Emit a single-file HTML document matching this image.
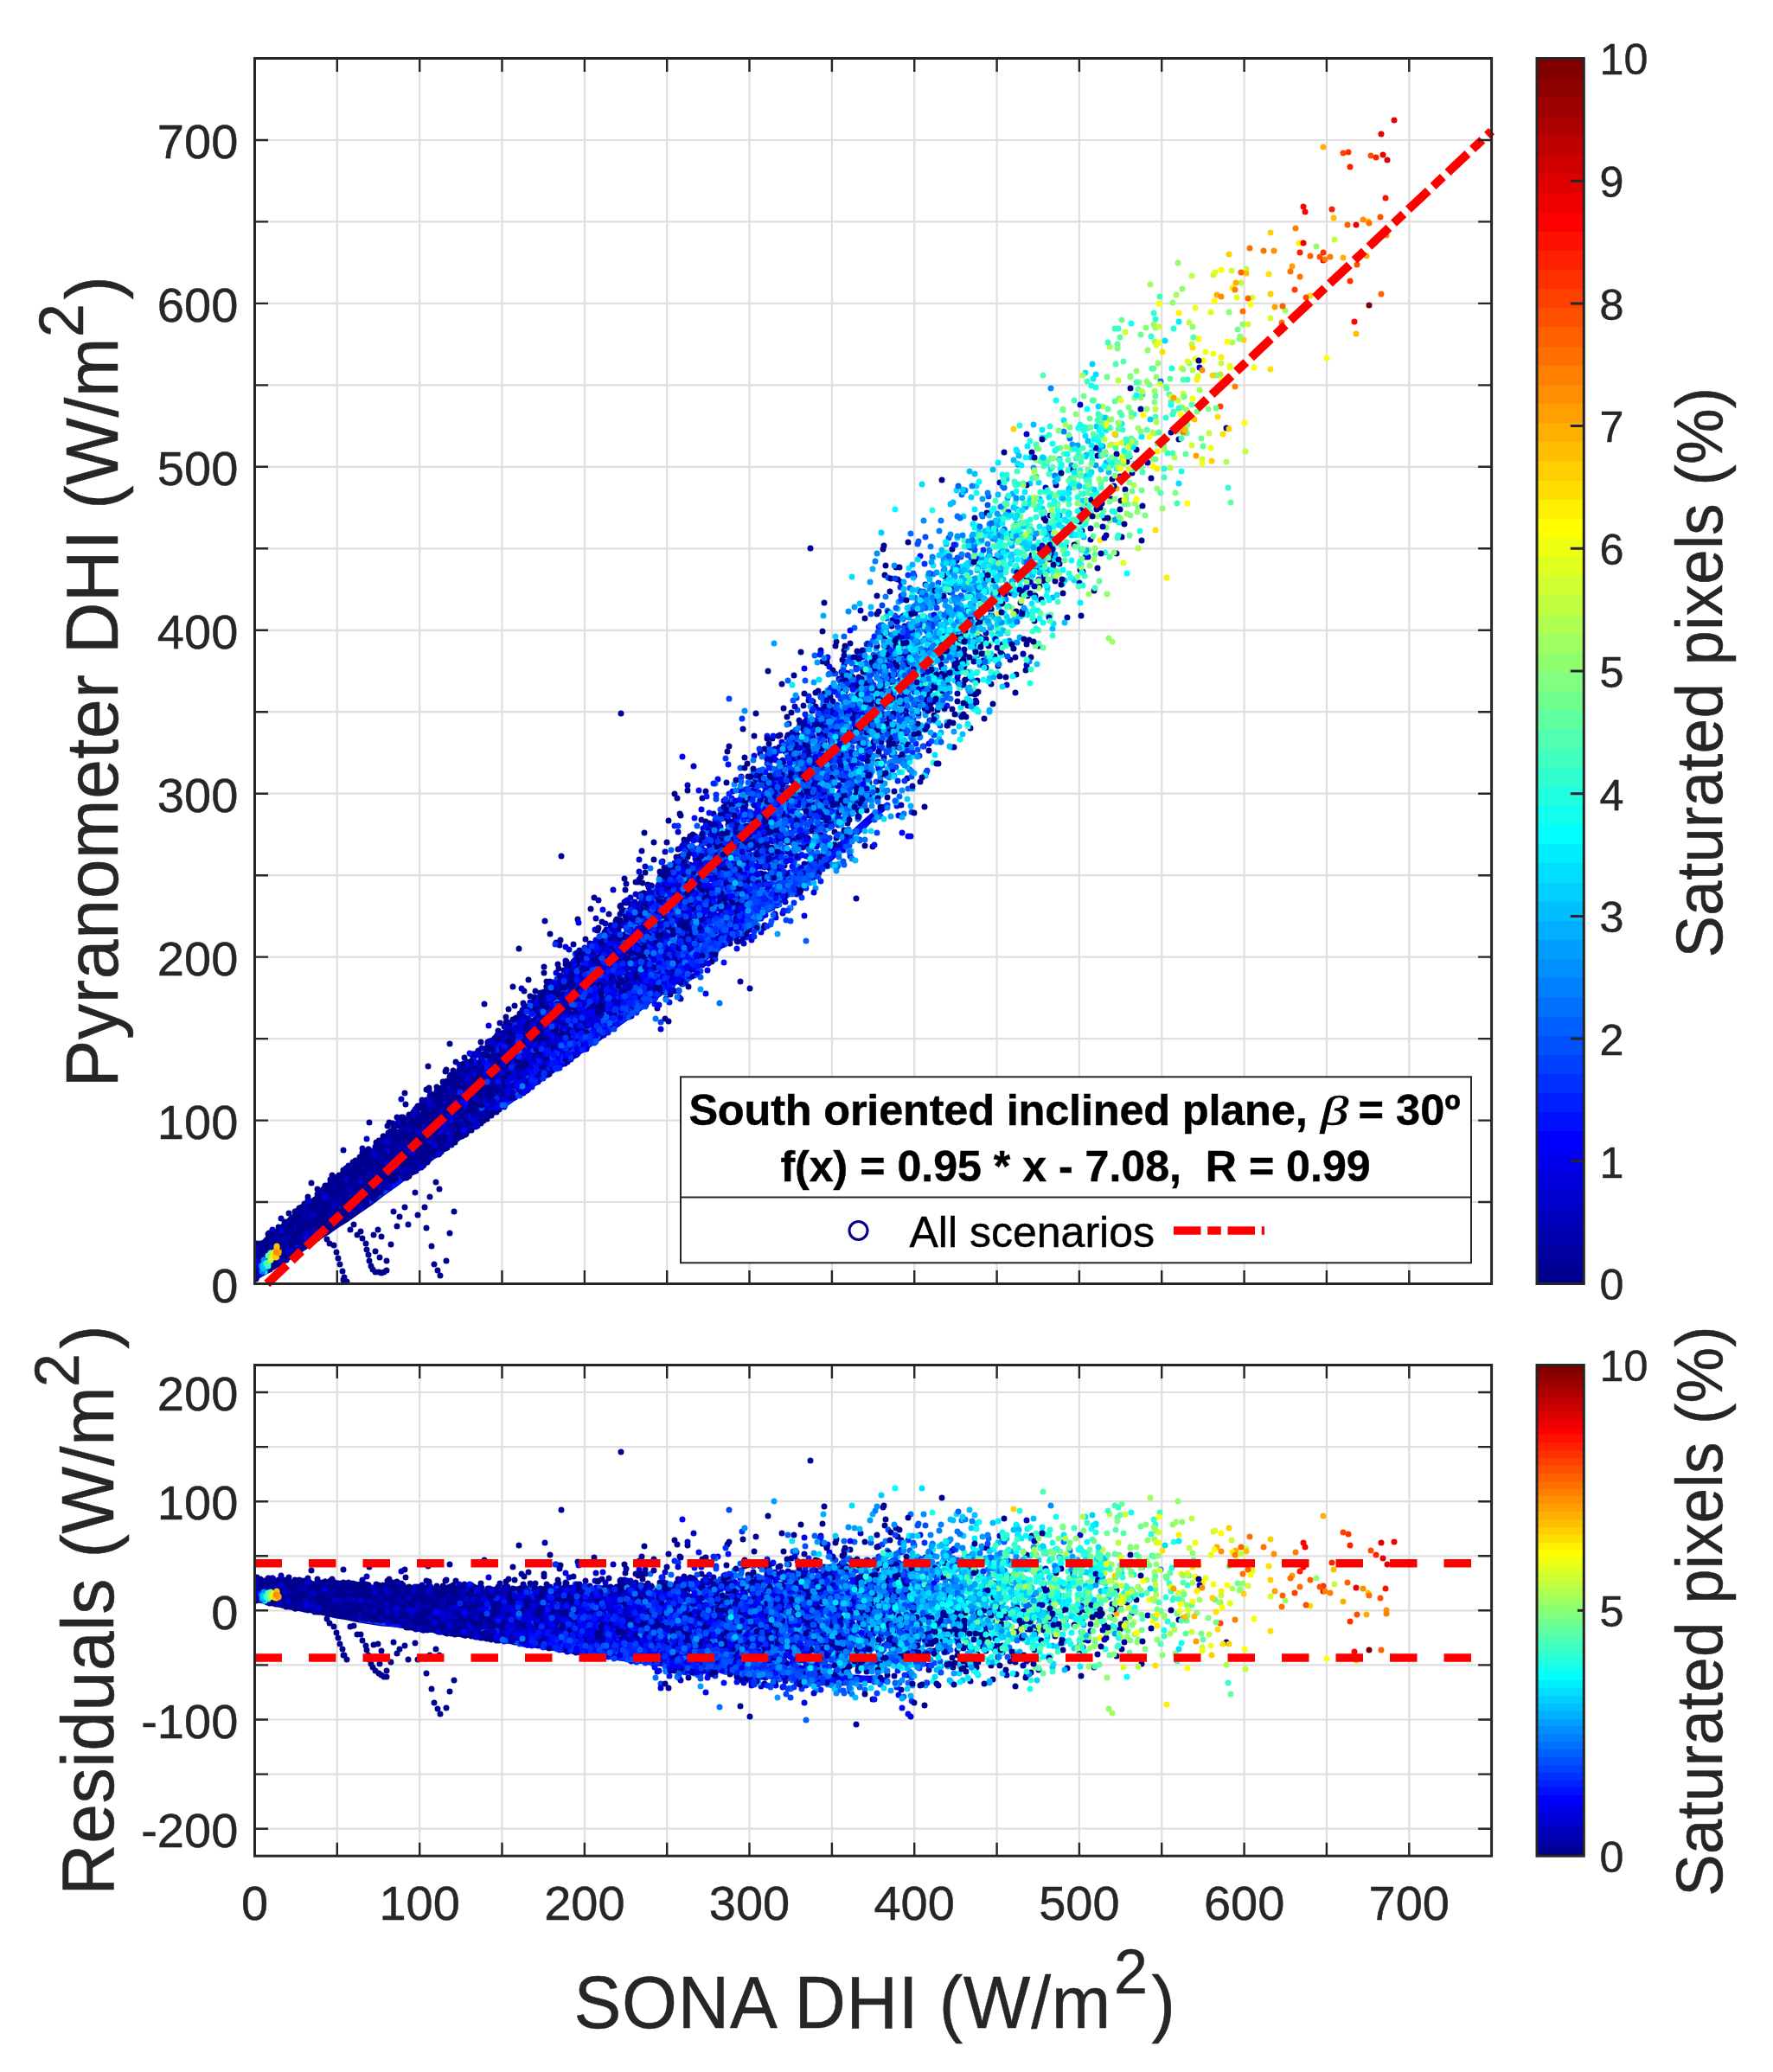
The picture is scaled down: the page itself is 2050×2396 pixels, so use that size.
<!DOCTYPE html>
<html lang="en"><head><meta charset="utf-8"><title>SONA DHI vs Pyranometer DHI</title>
<style>html,body{margin:0;padding:0;background:#fff}svg{display:block}text{font-family:'Liberation Sans', sans-serif;fill:#262626;stroke:#262626;stroke-width:.45px}</style>
</head><body>
<svg width="2050" height="2396" viewBox="0 0 2050 2396">
<rect width="2050" height="2396" fill="#fff"/>
<defs><clipPath id="ct"><rect x="294.5" y="67.5" width="1430.1" height="1417"/></clipPath>
<clipPath id="cb"><rect x="294.5" y="1578.5" width="1430.1" height="567.7"/></clipPath></defs>
<path d="M389.8 67.5V1484.5M485.2 67.5V1484.5M580.5 67.5V1484.5M675.9 67.5V1484.5M771.2 67.5V1484.5M866.5 67.5V1484.5M961.9 67.5V1484.5M1057.2 67.5V1484.5M1152.6 67.5V1484.5M1247.9 67.5V1484.5M1343.2 67.5V1484.5M1438.6 67.5V1484.5M1533.9 67.5V1484.5M1629.3 67.5V1484.5M294.5 1390H1724.6M294.5 1295.6H1724.6M294.5 1201.1H1724.6M294.5 1106.6H1724.6M294.5 1012.2H1724.6M294.5 917.7H1724.6M294.5 823.2H1724.6M294.5 728.8H1724.6M294.5 634.3H1724.6M294.5 539.8H1724.6M294.5 445.4H1724.6M294.5 350.9H1724.6M294.5 256.4H1724.6M294.5 162H1724.6" stroke="#262626" stroke-opacity=".15" stroke-width="2.2" fill="none"/>
<path d="M389.8 1578.5V2146.2M485.2 1578.5V2146.2M580.5 1578.5V2146.2M675.9 1578.5V2146.2M771.2 1578.5V2146.2M866.5 1578.5V2146.2M961.9 1578.5V2146.2M1057.2 1578.5V2146.2M1152.6 1578.5V2146.2M1247.9 1578.5V2146.2M1343.2 1578.5V2146.2M1438.6 1578.5V2146.2M1533.9 1578.5V2146.2M1629.3 1578.5V2146.2M294.5 2114.7H1724.6M294.5 2051.6H1724.6M294.5 1988.5H1724.6M294.5 1925.4H1724.6M294.5 1862.3H1724.6M294.5 1799.3H1724.6M294.5 1736.2H1724.6M294.5 1673.1H1724.6M294.5 1610H1724.6" stroke="#262626" stroke-opacity=".15" stroke-width="2.2" fill="none"/>
<g clip-path="url(#ct)" fill="none" stroke-linecap="round" stroke-linejoin="round" stroke-width="7">
<polyline stroke="#00008f" points="295,1469 309,1461 322,1452 335,1442 349,1431 362,1420 376,1409 389,1399 402,1390 416,1381 429,1373 442,1365 456,1355 469,1345 482,1334 496,1321 509,1309 522,1298 536,1288 549,1279 562,1271 576,1262 589,1253 602,1243"/>
<polyline stroke="#00009f" points="295,1451 309,1440 322,1429 335,1417 349,1405 362,1394 376,1382 389,1372 402,1361 416,1352 429,1342 442,1333 456,1323 469,1313 482,1302 496,1291 509,1279 522,1266 536,1254 549,1242 562,1231 576,1220 589,1210 602,1200 616,1190 629,1181 642,1170 656,1160 669,1148 683,1136 696,1124"/>
<polyline stroke="#00008f" points="295,1453 309,1442 322,1431 335,1420 349,1410 362,1399 376,1388 389,1378 402,1367 416,1357 429,1346 442,1336 456,1326 469,1316 482,1306 496,1295 509,1285 522,1273 536,1262 549,1251 562,1240 576,1228 589,1217 602,1206 616,1195 629,1184 642,1174 656,1164 669,1153 683,1143 696,1132 709,1121 723,1110"/>
<polyline stroke="#00009f" points="340,1438 354,1429 367,1420 380,1411 394,1403 407,1394 420,1386 434,1377 447,1368 460,1359 474,1349 487,1338 500,1327 514,1316 527,1304 540,1293 554,1282 567,1271 580,1261 594,1252 607,1242 620,1234 634,1225 647,1217 661,1208 674,1199 687,1189 701,1179 714,1168"/>
<polyline stroke="#00008f" points="368,1392 381,1382 394,1372 408,1361 421,1349 434,1338 448,1327"/>
<polyline stroke="#00009f" points="295,1474 309,1464 322,1454 335,1445 349,1436 362,1427 376,1419 389,1411 402,1403 416,1394 429,1385 442,1376 456,1365 469,1354"/>
<polyline stroke="#00009f" points="295,1474 309,1466 322,1456 335,1447 349,1438 362,1428 376,1418 389,1408 402,1399 416,1389 429,1380 442,1371 456,1362 469,1352 482,1343 496,1333 509,1322 522,1312 536,1301 549,1291 562,1280 576,1270 589,1260 602,1250"/>
<polyline stroke="#00008f" points="312,1462 325,1453 338,1445 352,1436 365,1427 378,1418 392,1409 405,1399 418,1389 432,1379 445,1369 458,1359 472,1349 485,1339 498,1329 512,1319 525,1309 538,1300 552,1290 565,1280 579,1270 592,1260"/>
<polyline stroke="#00008f" points="295,1456 309,1446 322,1437 335,1427 349,1418 362,1408 376,1398 389,1387 402,1377 416,1366 429,1355 442,1345 456,1335 469,1325 482,1315 496,1305 509,1294 522,1283 536,1272 549,1261 562,1250 576,1239 589,1229 602,1218 616,1209 629,1199 642,1188 656,1178 669,1167 683,1156 696,1144 709,1133"/>
<polyline stroke="#00009f" points="298,1461 311,1449 325,1438 338,1428 351,1418 365,1408 378,1399 391,1391 405,1382 418,1373 431,1364 445,1354 458,1343 471,1332 485,1321 498,1309 511,1297 525,1285 538,1275"/>
<polyline stroke="#00009f" points="295,1449 309,1438 322,1427 335,1417 349,1407 362,1397 376,1387 389,1376 402,1365 416,1354 429,1343 442,1332 456,1322 469,1311"/>
<polyline stroke="#00009f" points="295,1446 309,1436 322,1425 335,1414 349,1402 362,1391 376,1381 389,1371 402,1361 416,1350 429,1338 442,1327 456,1316 469,1306 482,1296 496,1286 509,1274 522,1262"/>
<polyline stroke="#00008f" points="295,1463 309,1454 322,1442 335,1430 349,1419 362,1409 376,1401 389,1393 402,1385 416,1374 429,1362 442,1350 456,1338 469,1328 482,1320 496,1311 509,1302 522,1291 536,1279 549,1266 562,1255 576,1245 589,1236"/>
<polyline stroke="#00009f" points="295,1461 309,1451 322,1442 335,1433 349,1423 362,1413 376,1403 389,1393 402,1383 416,1374 429,1363 442,1353 456,1342 469,1332 482,1322"/>
<polyline stroke="#00008f" points="354,1439 367,1429 381,1420 394,1411 407,1402 421,1393 434,1383 447,1373 461,1363 474,1353 488,1344 501,1334 514,1325 528,1315 541,1304"/>
<polyline stroke="#00009f" points="295,1446 309,1435 322,1425 335,1413 349,1402 362,1390 376,1379 389,1368 402,1358 416,1348 429,1338 442,1328 456,1317 469,1306 482,1294 496,1282 509,1270 522,1259 536,1248 549,1238 562,1228 576,1217 589,1207 602,1195 616,1183 629,1171"/>
<polyline stroke="#00008f" points="332,1415 346,1404 359,1393 373,1381 386,1369 399,1358 413,1347 426,1336 439,1326 453,1316 466,1306 479,1296 493,1285 506,1273 519,1260 533,1248 546,1237 559,1226 573,1215 586,1205 599,1195 613,1184 626,1173 639,1161 653,1149 666,1137 680,1125 693,1113"/>
<polyline stroke="#00009f" points="295,1465 309,1454 322,1445 335,1436 349,1427 362,1418 376,1409 389,1398 402,1387 416,1377 429,1367 442,1358 456,1349 469,1339 482,1328 496,1316 509,1305 522,1295 536,1286 549,1276 562,1266 576,1255 589,1244 602,1233 616,1223 629,1214 642,1205 656,1195 669,1184 683,1173"/>
<polyline stroke="#00009f" points="340,1415 353,1405 367,1394 380,1384 393,1373 407,1362 420,1352 433,1341 447,1330 460,1319 473,1309 487,1298"/>
<polyline stroke="#00008f" points="295,1456 309,1447 322,1437 335,1427 349,1417 362,1407 376,1396 389,1386 402,1375 416,1364 429,1354 442,1343 456,1333 469,1322 482,1312 496,1302"/>
<polyline stroke="#00009f" points="295,1448 309,1438 322,1427 335,1417 349,1406 362,1395 376,1385 389,1374 402,1364 416,1353 429,1343 442,1332 456,1321 469,1310 482,1300 496,1289 509,1278 522,1267 536,1256"/>
<polyline stroke="#00008f" points="295,1472 309,1464 322,1455 335,1446 349,1437 362,1427 376,1418 389,1409 402,1399 416,1389 429,1380 442,1370 456,1360 469,1350 482,1340 496,1330"/>
<polyline stroke="#00009f" points="295,1474 309,1464 322,1454 335,1445 349,1436 362,1428 376,1421 389,1413 402,1405 416,1396 429,1386 442,1376 456,1364 469,1353 482,1341 496,1330 509,1320 522,1311 536,1302 549,1294 562,1286 576,1277 589,1268 602,1257 616,1246 629,1235 642,1224 656,1213 669,1202 683,1193"/>
<polyline stroke="#00009f" points="295,1472 309,1462 322,1453 335,1444 349,1435 362,1427 376,1418 389,1410 402,1401 416,1392 429,1383 442,1373 456,1362 469,1351 482,1340 496,1329 509,1319 522,1308 536,1298 549,1289 562,1280 576,1271 589,1262 602,1253 616,1244 629,1234 642,1223 656,1213 669,1202 683,1191 696,1180 709,1170"/>
<polyline stroke="#00009f" points="316,1436 329,1425 343,1415 356,1404 369,1393 383,1383 396,1373 410,1363 423,1353 436,1343 450,1332 463,1321 476,1310 490,1299 503,1288 516,1277 530,1266 543,1256 556,1245 570,1235 583,1224 596,1214 610,1202 623,1191 636,1180 650,1169 663,1158 676,1147 690,1137"/>
<polyline stroke="#00008f" points="295,1455 309,1445 322,1435 335,1426 349,1416 362,1406 376,1396 389,1386 402,1375 416,1365 429,1354 442,1343 456,1333 469,1322 482,1312 496,1301 509,1291 522,1280 536,1270 549,1259 562,1249 576,1238 589,1227 602,1217 616,1206 629,1195 642,1184 656,1174"/>
<polyline stroke="#00009f" points="295,1466 309,1458 322,1450 335,1443 349,1434 362,1425 376,1414 389,1403 402,1392 416,1380 429,1370 442,1361 456,1352 469,1343 482,1335 496,1326 509,1316 522,1304 536,1293 549,1281 562,1269"/>
<polyline stroke="#00009f" points="295,1464 309,1454 322,1443 335,1433 349,1423 362,1413 376,1403 389,1395 402,1385 416,1376 429,1365 442,1355 456,1344 469,1333 482,1322 496,1312 509,1302 522,1292 536,1283 549,1272 562,1262 576,1251 589,1240 602,1229 616,1218"/>
<polyline stroke="#00008f" points="295,1453 309,1444 322,1435 335,1427 349,1418 362,1409 376,1399 389,1388 402,1377 416,1366 429,1354 442,1342 456,1331 469,1320 482,1309 496,1299 509,1290"/>
<polyline stroke="#00009f" points="355,1409 368,1398 382,1388 395,1378 408,1367 422,1357 435,1347 448,1336 462,1326 475,1316 488,1305 502,1294 515,1283 528,1272 542,1261 555,1251 568,1240 582,1229"/>
<polyline stroke="#00009f" points="295,1447 309,1435 322,1424 335,1412 349,1400 362,1389 376,1378 389,1367 402,1357 416,1347 429,1337 442,1328 456,1318 469,1308 482,1298 496,1286 509,1275"/>
<polyline stroke="#00009f" points="295,1477 309,1468 322,1459 335,1451 349,1443 362,1434 376,1426 389,1417 402,1409 416,1399 429,1390 442,1380 456,1370 469,1360 482,1350 496,1339"/>
<polyline stroke="#00008f" points="358,1401 372,1391 385,1381 398,1370 412,1359 425,1349 438,1338 452,1327 465,1317 479,1306 492,1296 505,1285 519,1274 532,1263 545,1252 559,1241 572,1230 585,1219 599,1208 612,1197 625,1187 639,1176 652,1165"/>
<polyline stroke="#00008f" points="340,1437 354,1427 367,1417 380,1406 394,1396 407,1386 421,1375 434,1366 447,1356 461,1347 474,1338 487,1328 501,1318 514,1307 527,1296 541,1285 554,1274"/>
<polyline stroke="#00009f" points="295,1473 309,1464 322,1455 335,1445 349,1435 362,1424 376,1414 389,1404 402,1394 416,1385 429,1376 442,1368 456,1359 469,1350 482,1340 496,1329 509,1318 522,1307"/>
<polyline stroke="#00009f" points="295,1475 309,1466 322,1458 335,1449 349,1440 362,1432 376,1423 389,1413 402,1404 416,1394 429,1384 442,1374 456,1365 469,1355 482,1346 496,1336 509,1326 522,1315 536,1305 549,1295 562,1285 576,1275 589,1266 602,1256 616,1247 629,1237 642,1227 656,1217 669,1208 683,1198 696,1188 709,1178 723,1169"/>
<polyline stroke="#00008f" points="295,1452 309,1443 322,1432 335,1421 349,1410 362,1399 376,1389 389,1379 402,1370 416,1359 429,1349 442,1337 456,1326 469,1315 482,1305 496,1295 509,1285 522,1274 536,1263"/>
<polyline stroke="#00008f" points="295,1461 309,1451 322,1441 335,1431 349,1420 362,1410 376,1400 389,1391 402,1382 416,1372 429,1362 442,1351 456,1340 469,1329 482,1319 496,1308 509,1298 522,1288 536,1278 549,1268 562,1257 576,1246 589,1235 602,1224"/>
<polyline stroke="#00008f" points="302,1452 316,1442 329,1432 342,1422 356,1413 369,1404 382,1394 396,1385 409,1374 422,1364 436,1353 449,1342 462,1331"/>
<polyline stroke="#00009f" points="295,1454 309,1443 322,1432 335,1422 349,1412 362,1402 376,1392 389,1382 402,1372 416,1361 429,1350 442,1339 456,1328 469,1318 482,1308 496,1298 509,1287 522,1277 536,1265 549,1254 562,1243 576,1232 589,1221 602,1211 616,1201 629,1191 642,1180 656,1169 669,1158 683,1146 696,1135"/>
<polyline stroke="#00009f" points="295,1447 309,1437 322,1427 335,1417 349,1407 362,1397 376,1386 389,1375 402,1364 416,1353 429,1341 442,1330 456,1319 469,1309 482,1299 496,1288 509,1278 522,1268 536,1257 549,1246 562,1235 576,1223 589,1211 602,1199 616,1188 629,1177 642,1166"/>
<polyline stroke="#00008f" points="295,1470 309,1460 322,1451 335,1442 349,1432 362,1423 376,1414 389,1404 402,1395 416,1385 429,1375 442,1366 456,1356 469,1346 482,1336 496,1325 509,1315 522,1305"/>
<polyline stroke="#00008f" points="295,1445 309,1434 322,1423 335,1411 349,1400 362,1389 376,1379 389,1369 402,1359 416,1348 429,1336 442,1325 456,1314 469,1303 482,1293 496,1283 509,1272 522,1260 536,1249 549,1237 562,1225 576,1214 589,1204 602,1193 616,1183 629,1171 642,1160 656,1148 669,1137 683,1125 696,1114 709,1103 723,1092"/>
<polyline stroke="#00009f" points="295,1463 309,1454 322,1444 335,1434 349,1423 362,1412 376,1401 389,1391 402,1380 416,1370 429,1361 442,1352 456,1343 469,1334 482,1324 496,1314 509,1303 522,1291 536,1279 549,1268 562,1256 576,1246 589,1235 602,1226 616,1217 629,1208 642,1198 656,1189 669,1179 683,1168"/>
<polyline stroke="#00009f" points="295,1456 309,1446 322,1435 335,1425 349,1415 362,1405 376,1395 389,1385 402,1375 416,1364 429,1354 442,1344 456,1333 469,1322 482,1312 496,1301 509,1291 522,1280 536,1269 549,1259 562,1248 576,1237 589,1227 602,1216 616,1205 629,1195 642,1184 656,1174 669,1163 683,1153"/>
<polyline stroke="#00009f" points="351,1417 364,1408 378,1399 391,1389 404,1378 418,1367 431,1356 444,1345 458,1334 471,1323 484,1313 498,1302 511,1293 524,1283 538,1273 551,1263 564,1253 578,1242 591,1231 604,1219 618,1208 631,1196 644,1186 658,1175 671,1166"/>
<polyline stroke="#00008f" points="296,1465 310,1455 323,1445 336,1434 350,1424 363,1413 376,1403 390,1393 403,1384 416,1374 430,1365 443,1356 456,1347 470,1337 483,1328 496,1317 510,1306 523,1295 536,1284 550,1272 563,1261 576,1250 590,1240 603,1229 617,1220"/>
<polyline stroke="#00008f" points="295,1477 309,1469 322,1461 335,1453 349,1444 362,1434 376,1425 389,1416 402,1407 416,1398 429,1389 442,1378 456,1368 469,1358 482,1349 496,1340 509,1330 522,1320 536,1309 549,1299 562,1289 576,1280 589,1271"/>
<polyline stroke="#00009f" points="295,1453 309,1443 322,1432 335,1422 349,1412 362,1402 376,1392 389,1381 402,1371 416,1360 429,1350 442,1339 456,1329 469,1318 482,1308"/>
<polyline stroke="#00009f" points="295,1463 309,1452 322,1442 335,1432 349,1423 362,1414 376,1406 389,1397 402,1388 416,1378 429,1368 442,1357 456,1345 469,1334 482,1323 496,1312 509,1302 522,1292 536,1283"/>
<polyline stroke="#00009f" points="295,1457 309,1447 322,1437 335,1428 349,1418 362,1408 376,1398 389,1388 402,1377 416,1367 429,1357 442,1346 456,1336 469,1326 482,1315 496,1305 509,1294 522,1283 536,1273 549,1262 562,1251 576,1241"/>
<polyline stroke="#00008f" points="295,1472 309,1462 322,1452 335,1442 349,1434 362,1426 376,1418 389,1410 402,1401 416,1390 429,1380 442,1368 456,1357 469,1347 482,1337 496,1328 509,1319 522,1310 536,1301 549,1291"/>
<polyline stroke="#00008f" points="334,1441 348,1431 361,1422 374,1412 388,1402 401,1392 414,1382 428,1373 441,1363 455,1353 468,1343 481,1333 495,1323 508,1313 521,1303 535,1292 548,1282 561,1271 575,1261 588,1250 601,1240 615,1230 628,1220 641,1211 655,1201 668,1191"/>
<polyline stroke="#00009f" points="295,1468 309,1458 322,1449 335,1441 349,1433 362,1425 376,1416 389,1406 402,1395 416,1384 429,1373 442,1363 456,1354 469,1345 482,1336 496,1327 509,1316 522,1305 536,1293"/>
<polyline stroke="#00008f" points="295,1456 309,1445 322,1433 335,1422 349,1411 362,1401 376,1392 389,1384 402,1374 416,1363 429,1351 442,1339 456,1328 469,1317 482,1308 496,1299 509,1290 522,1278 536,1266 549,1254 562,1242 576,1231"/>
<polyline stroke="#00008f" points="295,1457 309,1446 322,1436 335,1425 349,1415 362,1405 376,1395 389,1385 402,1375 416,1366 429,1356 442,1346 456,1335 469,1325 482,1314 496,1303 509,1292 522,1281 536,1269 549,1259 562,1248 576,1237 589,1227 602,1217"/>
<polyline stroke="#00009f" points="350,1435 363,1426 376,1417 390,1408 403,1398 417,1388 430,1378 443,1368"/>
<polyline stroke="#00009f" points="307,1461 320,1453 333,1445 347,1436 360,1426 373,1416 387,1405 400,1395 413,1384 427,1375 440,1366 454,1357 467,1348"/>
<polyline stroke="#00008f" points="295,1466 309,1459 322,1450 335,1438 349,1425 362,1415 376,1407 389,1401 402,1392 416,1381 429,1368 442,1356 456,1346 469,1339 482,1332 496,1321 509,1308 522,1295 536,1284 549,1275 562,1268 576,1260 589,1248 602,1235 616,1222 629,1213 642,1206 656,1198 669,1189 683,1176"/>
<polyline stroke="#00009f" points="297,1464 310,1455 324,1446 337,1436 350,1426 364,1416 377,1405 390,1395 404,1384 417,1374 430,1364 444,1354 457,1344 470,1334 484,1325 497,1315 510,1305 524,1295 537,1285 550,1274 564,1264 577,1253 591,1242 604,1231 617,1220 631,1210 644,1199 657,1189 671,1179 684,1169 697,1159 711,1149"/>
<polyline stroke="#00008f" points="295,1445 309,1436 322,1426 335,1416 349,1404 362,1392 376,1380 389,1368 402,1358 416,1349 429,1340 442,1330 456,1319 469,1307 482,1295 496,1282 509,1271 522,1261 536,1252 549,1242 562,1231 576,1220 589,1207 602,1194 616,1182 629,1172"/>
<polyline stroke="#00009f" points="295,1475 309,1467 322,1459 335,1450 349,1442 362,1433 376,1423 389,1413 402,1403 416,1393 429,1383 442,1373 456,1364 469,1354 482,1345"/>
<polyline stroke="#00009f" points="332,1433 345,1424 359,1415 372,1405 385,1395 399,1383 412,1372 425,1360 439,1348 452,1337 465,1326 479,1316 492,1307 505,1297 519,1288 532,1279 545,1270 559,1259 572,1249 585,1238 599,1226 612,1214 625,1202 639,1190 652,1179 666,1169 679,1159 692,1149"/>
<polyline stroke="#00008f" points="295,1457 309,1448 322,1439 335,1430 349,1420 362,1410 376,1399 389,1389 402,1378 416,1367 429,1356 442,1346 456,1336"/>
<polyline stroke="#00008f" points="295,1460 309,1450 322,1440 335,1430 349,1420 362,1410 376,1400 389,1390 402,1380 416,1370 429,1360 442,1350 456,1339 469,1329 482,1319 496,1308"/>
<polyline stroke="#00009f" points="295,1449 309,1441 322,1432 335,1422 349,1411 362,1399 376,1386 389,1375 402,1364 416,1355 429,1346 442,1337 456,1328 469,1317 482,1304 496,1292 509,1279 522,1268 536,1258 549,1249 562,1240 576,1230 589,1219"/>
<polyline stroke="#00009f" points="306,1454 320,1444 333,1435 346,1425 360,1415 373,1405 386,1395 400,1385 413,1375 426,1365 440,1355 453,1345 467,1335 480,1324 493,1314 507,1303 520,1293 533,1282 547,1272 560,1261 573,1251 587,1241 600,1230 613,1220 627,1210"/>
<polyline stroke="#00008f" points="295,1455 309,1444 322,1433 335,1422 349,1411 362,1400 376,1390 389,1380 402,1370 416,1361 429,1351 442,1342 456,1331 469,1321 482,1310 496,1298 509,1286 522,1274"/>
<polyline stroke="#00008f" points="324,1426 337,1416 351,1406 364,1395 377,1385 391,1374 404,1363 418,1353 431,1342 444,1332 458,1321 471,1311 484,1300 498,1289 511,1278 524,1267 538,1256 551,1245 564,1234 578,1223 591,1212 604,1201 618,1191 631,1180"/>
<polyline stroke="#00008f" points="295,1447 309,1436 322,1426 335,1415 349,1405 362,1395 376,1385 389,1375 402,1365 416,1354 429,1343 442,1333 456,1321"/>
<polyline stroke="#0040ff" points="617,1242 630,1232 644,1222 657,1212 670,1202 684,1192 697,1182 710,1171 724,1161 737,1151 750,1141 764,1130 777,1120 790,1111 804,1101 817,1091 830,1081 844,1071 857,1061 870,1051 884,1042 897,1032"/>
<polyline stroke="#0060ff" points="519,1323 532,1314 546,1304 559,1294 572,1284 586,1274 599,1265 612,1256 626,1246 639,1237 652,1227 666,1218 679,1208 693,1199 706,1189 719,1179 733,1170 746,1160 759,1150 773,1141 786,1130"/>
<polyline stroke="#0000cf" points="487,1345 500,1335 513,1325 527,1315 540,1305 553,1295 567,1285 580,1275 593,1266 607,1256 620,1247 633,1237 647,1228 660,1218 673,1208 687,1199 700,1189 713,1179 727,1169 740,1159 754,1149 767,1139 780,1129 794,1119 807,1109 820,1099 834,1088 847,1078 860,1068 874,1058 887,1047 900,1037 914,1027 927,1017"/>
<polyline stroke="#0000ef" points="415,1395 429,1385 442,1376 455,1365 469,1355 482,1344 496,1334 509,1323 522,1313 536,1303 549,1293 562,1282 576,1272 589,1262 602,1252 616,1242 629,1232 642,1222 656,1212 669,1202 682,1192 696,1182 709,1172 722,1162 736,1151 749,1141 762,1131 776,1121 789,1111 803,1101 816,1091 829,1081 843,1072 856,1062 869,1052 883,1042 896,1033 909,1024 923,1014 936,1005 949,995 963,986 976,974"/>
<polyline stroke="#0000ef" points="546,1293 560,1283 573,1272 586,1262 600,1252 613,1242 626,1232 640,1222 653,1212 666,1202 680,1192 693,1181 706,1171 720,1161 733,1150 747,1140 760,1130 773,1120 787,1110 800,1100 813,1090 827,1080 840,1071 853,1061"/>
<polyline stroke="#0020ff" points="513,1324 526,1314 540,1304 553,1294 566,1284 580,1274 593,1264 606,1254 620,1245 633,1235 646,1225 660,1216 673,1206 687,1196"/>
<polyline stroke="#0010ff" points="424,1390 437,1380 451,1370 464,1360 477,1349 491,1339 504,1329 517,1319 531,1309 544,1299 557,1289 571,1278 584,1268 597,1259 611,1249 624,1239 637,1229 651,1219 664,1210 677,1200 691,1190 704,1180 717,1169 731,1159 744,1149 758,1139 771,1129 784,1119 798,1109 811,1099 824,1089"/>
<polyline stroke="#0040ff" points="584,1260 597,1249 610,1239 624,1229 637,1218 651,1208 664,1198 677,1187 691,1177 704,1166 717,1156 731,1145 744,1134 757,1124 771,1113 784,1104 797,1094 811,1085 824,1075 837,1066 851,1056 864,1047 877,1038"/>
<polyline stroke="#0020ff" points="531,1312 545,1302 558,1292 571,1282 585,1273 598,1263 612,1253 625,1244 638,1234 652,1225 665,1215 678,1206 692,1196 705,1186 718,1176 732,1166 745,1156 758,1147 772,1137 785,1126 798,1116 812,1106 825,1096 838,1085 852,1075 865,1065 878,1054"/>
<polyline stroke="#0060ff" points="445,1376 459,1366 472,1356 486,1346 499,1336 512,1326 526,1316 539,1306 552,1296 566,1286 579,1276 592,1266 606,1257 619,1247 632,1238 646,1228 659,1218 672,1209 686,1199 699,1189 712,1179 726,1169 739,1160 752,1150 766,1140 779,1130 793,1120 806,1109 819,1099 833,1089 846,1079 859,1068 873,1058 886,1048 899,1038 913,1027"/>
<polyline stroke="#0000cf" points="530,1310 543,1300 557,1290 570,1280 584,1270 597,1260 610,1251 624,1241 637,1231 650,1221 664,1212 677,1202 690,1192 704,1182 717,1172 730,1162 744,1152 757,1142 770,1132 784,1122 797,1112 810,1102 824,1091 837,1081 850,1071 864,1061"/>
<polyline stroke="#0030ff" points="452,1366 465,1354 479,1343 492,1332 505,1322 519,1311 532,1301 546,1290 559,1280 572,1269 586,1259 599,1249 612,1239 626,1228 639,1218 652,1208 666,1197 679,1187 692,1177 706,1166 719,1156 732,1145 746,1134 759,1124 772,1113"/>
<polyline stroke="#0000ff" points="611,1253 625,1244 638,1234 651,1225 665,1215 678,1205 691,1196 705,1186 718,1176 731,1166 745,1156 758,1146 771,1137 785,1126 798,1116 812,1106 825,1095 838,1085 852,1075 865,1065 878,1054 892,1044 905,1034 918,1024 932,1013 945,1003"/>
<polyline stroke="#0000ef" points="413,1395 426,1385 439,1376 453,1365 466,1354 479,1343 493,1332 506,1321 519,1311 533,1301 546,1290 559,1280 573,1269 586,1259 599,1249 613,1238 626,1228 639,1218 653,1208 666,1197 680,1187 693,1176 706,1166 720,1155 733,1145 746,1134 760,1124 773,1113 786,1104"/>
<polyline stroke="#0060ff" points="475,1346 489,1335 502,1325 515,1314 529,1304 542,1293 555,1283 569,1273 582,1262 595,1252 609,1242 622,1231 635,1221 649,1211 662,1201 676,1190 689,1180 702,1169 716,1159 729,1148 742,1138 756,1127 769,1117 782,1107 796,1097 809,1088 822,1078 836,1069 849,1059 862,1049 876,1040 889,1032 902,1023 916,1014 929,1005 942,997 956,988"/>
<polyline stroke="#0040ff" points="595,1268 608,1259 621,1249 635,1240 648,1231 661,1221 675,1212 688,1202 701,1192 715,1183 728,1173 741,1163 755,1154 768,1144 782,1134 795,1123 808,1113 822,1102 835,1092"/>
<polyline stroke="#0010ff" points="608,1252 622,1242 635,1232 648,1223 662,1213 675,1203 688,1193 702,1183 715,1173"/>
<polyline stroke="#0000ef" points="475,1353 489,1343 502,1333 515,1323 529,1313 542,1303 555,1293 569,1283 582,1273 595,1263 609,1253 622,1244 635,1234 649,1225 662,1215 676,1205 689,1195 702,1185 716,1175 729,1166 742,1156 756,1146 769,1136 782,1126 796,1115 809,1105 822,1095 836,1085 849,1075 862,1065 876,1054 889,1044 902,1034 916,1024 929,1014 942,1004 956,994 969,982 983,970 996,958 1009,945 1023,933"/>
<polyline stroke="#0060ff" points="585,1263 598,1253 612,1243 625,1232 638,1222 652,1212 665,1202 678,1192 692,1182 705,1171 718,1161 732,1151 745,1140"/>
<polyline stroke="#0000df" points="616,1253 629,1244 643,1234 656,1225 669,1215 683,1206 696,1196 710,1187 723,1177 736,1167 750,1157 763,1148 776,1138 790,1127 803,1117 816,1107 830,1096 843,1086 856,1075 870,1065 883,1054 896,1044 910,1033 923,1022 936,1012 950,1001 963,990 976,978"/>
<polyline stroke="#0050ff" points="520,1318 533,1308 547,1298 560,1288 573,1278 587,1268 600,1258 613,1249 627,1239 640,1229 653,1220 667,1210 680,1200 693,1190 707,1180 720,1170 733,1160 747,1150 760,1140 774,1130 787,1120 800,1110 814,1100 827,1090 840,1080 854,1069 867,1059 880,1049 894,1039 907,1029 920,1019 934,1010 947,1000 960,990"/>
<polyline stroke="#0000cf" points="468,1356 482,1346 495,1335 508,1325 522,1315 535,1305 548,1295 562,1285 575,1275 588,1265 602,1255 615,1245 628,1235 642,1225 655,1215 668,1205 682,1195 695,1185 709,1175 722,1165 735,1155 749,1145 762,1135 775,1125 789,1115 802,1105 815,1095"/>
<polyline stroke="#0000ff" points="534,1300 547,1290 561,1279 574,1269 587,1259 601,1248 614,1238 627,1228 641,1218 654,1208 668,1197 681,1187 694,1177 708,1166 721,1156 734,1145"/>
<polyline stroke="#0000ef" points="462,1362 476,1352 489,1342 503,1332 516,1322 529,1312 543,1302 556,1292 569,1282 583,1272 596,1263 609,1253 623,1243 636,1234 649,1224 663,1214 676,1205 689,1195 703,1185 716,1175 729,1165 743,1155"/>
<polyline stroke="#0000df" points="519,1315 532,1305 545,1294 559,1284 572,1274 585,1264 599,1254 612,1243 626,1233 639,1223 652,1213 666,1203 679,1193 692,1183 706,1173 719,1162 732,1152 746,1142 759,1131 772,1121 786,1111 799,1102 812,1092 826,1082 839,1072 852,1062 866,1053 879,1043 892,1034 906,1025 919,1015 933,1006 946,997 959,988 973,976 986,964 999,952 1013,940"/>
<polyline stroke="#0000df" points="597,1247 610,1236 624,1226 637,1216 650,1205 664,1195 677,1184 691,1174 704,1163 717,1152 731,1141 744,1131 757,1120 771,1109 784,1100 797,1090 811,1081"/>
<polyline stroke="#0030ff" points="600,1248 614,1238 627,1228 640,1217 654,1207 667,1197 680,1187 694,1176 707,1166 720,1155 734,1144 747,1134 760,1123 774,1113 787,1104 801,1094 814,1084 827,1075 841,1065"/>
<polyline stroke="#0000df" points="606,1252 620,1242 633,1232 646,1222 660,1212 673,1202 686,1192 700,1182 713,1172 726,1162 740,1152 753,1142 766,1132 780,1122 793,1112"/>
<polyline stroke="#0010ff" points="532,1311 545,1301 559,1291 572,1281 585,1271 599,1262 612,1252 625,1242 639,1233 652,1223 665,1213 679,1204 692,1194 705,1184 719,1174 732,1164"/>
<polyline stroke="#0020ff" points="507,1331 520,1321 534,1311 547,1301 560,1291 574,1281 587,1271 600,1262 614,1252 627,1243 640,1233 654,1224 667,1214 681,1205 694,1195 707,1185 721,1175 734,1165 747,1156 761,1146 774,1136 787,1126 801,1115 814,1105"/>
<polyline stroke="#0000df" points="531,1314 545,1304 558,1295 571,1285 585,1275 598,1266 611,1256 625,1247 638,1237 651,1228 665,1218 678,1209 691,1199 705,1189 718,1180 731,1170 745,1160"/>
<polyline stroke="#0000ff" points="430,1382 443,1372 457,1361 470,1350 483,1338 497,1328 510,1317 523,1307 537,1296 550,1286 563,1275 577,1265 590,1254 603,1244 617,1234 630,1223 643,1213 657,1203 670,1192 684,1182 697,1171 710,1161 724,1150 737,1139 750,1129 764,1118 777,1108 790,1098 804,1089 817,1079 830,1070 844,1060 857,1051 870,1042 884,1033 897,1025 910,1016 924,1007"/>
<polyline stroke="#0000ef" points="477,1354 490,1344 504,1335 517,1325 530,1315 544,1305 557,1295 570,1286 584,1276 597,1266 611,1257 624,1248 637,1238 651,1229 664,1219 677,1210 691,1200 704,1191 717,1181 731,1171 744,1161 757,1152 771,1142"/>
<polyline stroke="#0040ff" points="579,1264 593,1254 606,1243 619,1233 633,1223 646,1213 659,1202 673,1192 686,1182 699,1171 713,1160 726,1150"/>
<polyline stroke="#0030ff" points="604,1246 617,1236 631,1226 644,1216 657,1206 671,1195 684,1185 697,1175 711,1164 724,1154 738,1143 751,1133 764,1122 778,1112 791,1103 804,1093 818,1083 831,1074 844,1064 858,1054 871,1045 884,1036 898,1027 911,1018 924,1009"/>
<polyline stroke="#0010ff" points="555,1286 568,1275 581,1265 595,1255 608,1245 621,1235 635,1225 648,1214 662,1204 675,1194 688,1184 702,1173 715,1163 728,1153 742,1142 755,1132 768,1122 782,1112 795,1102 808,1092 822,1083 835,1073 848,1063 862,1053 875,1044 888,1035 902,1026 915,1017"/>
<polyline stroke="#0000ef" points="439,1380 453,1370 466,1360 480,1350 493,1340 506,1330 520,1320 533,1310 546,1300 560,1290 573,1280 586,1270 600,1260 613,1251 626,1241 640,1231 653,1222 666,1212 680,1202 693,1193 706,1183 720,1173 733,1163 746,1153 760,1143 773,1133 787,1123 800,1113 813,1102 827,1092 840,1082 853,1072 867,1062 880,1052 893,1041 907,1031 920,1021 933,1011"/>
<polyline stroke="#0010ff" points="519,1319 533,1309 546,1299 559,1289 573,1279 586,1269 599,1259 613,1250 626,1240 639,1230 653,1221 666,1211 679,1201 693,1191 706,1181 719,1171 733,1161 746,1151 759,1141 773,1131 786,1121 800,1111 813,1101 826,1091 840,1081 853,1071 866,1060 880,1050 893,1040 906,1030 920,1020 933,1010 946,1000 960,990 973,978 986,966 1000,954"/>
<polyline stroke="#0000cf" points="416,1398 429,1388 442,1379 456,1369 469,1359 482,1349 496,1339 509,1329 522,1319 536,1309 549,1299 562,1289 576,1280 589,1270 603,1260 616,1251 629,1241 643,1232 656,1222 669,1213 683,1203"/>
<polyline stroke="#0060ff" points="600,1262 613,1253 627,1243 640,1234 653,1224 667,1215 680,1205 693,1195 707,1185"/>
<polyline stroke="#0040ff" points="527,1311 541,1301 554,1290 567,1280 581,1270 594,1260 607,1250 621,1241 634,1231 648,1221 661,1211 674,1201 688,1191 701,1181 714,1171 728,1161 741,1151 754,1140 768,1130 781,1120 794,1110 808,1100 821,1090 834,1080 848,1070 861,1060 874,1051 888,1041 901,1031 914,1022 928,1012 941,1002 955,993"/>
<polyline stroke="#0030ff" points="506,1327 519,1317 532,1306 546,1296 559,1286 572,1276 586,1266 599,1256 612,1246 626,1236 639,1226 652,1216 666,1207 679,1197 692,1186 706,1176 719,1166 733,1156 746,1146 759,1136"/>
<polyline stroke="#0000ef" points="493,1330 506,1319 519,1309 533,1298 546,1288 559,1277 573,1267 586,1256 599,1246 613,1235 626,1225 640,1215 653,1204 666,1194 680,1183 693,1173 706,1162 720,1151 733,1141 746,1130 760,1119 773,1109 786,1099 800,1090 813,1081 826,1071 840,1062 853,1052 866,1043 880,1034 893,1026 906,1018 920,1009 933,1001"/>
<polyline stroke="#0040ff" points="579,1272 592,1262 606,1253 619,1243 632,1233 646,1223 659,1213 672,1204 686,1194 699,1183 712,1173 726,1163 739,1153 752,1143 766,1133 779,1123 792,1113 806,1103 819,1093 832,1083 846,1073 859,1063 872,1053 886,1043 899,1034 912,1024 926,1014 939,1004"/>
<polyline stroke="#0050ff" points="489,1337 502,1327 516,1316 529,1306 542,1296 556,1285 569,1275 582,1265 596,1255 609,1245 622,1234 636,1224 649,1214 662,1204 676,1194 689,1184 702,1173 716,1163 729,1153 742,1142 756,1132 769,1122 783,1112 796,1102 809,1092 823,1083 836,1073 849,1063 863,1053"/>
<polyline stroke="#0010ff" points="503,1334 516,1324 529,1314 543,1304 556,1295 569,1285 583,1275 596,1265 609,1256 623,1246 636,1237 649,1227 663,1218 676,1208 689,1198 703,1189 716,1179 730,1169"/>
<polyline stroke="#0050ff" points="565,1290 579,1280 592,1271 605,1261 619,1252 632,1242 645,1233 659,1224 672,1214 685,1205 699,1195 712,1185 725,1176 739,1166 752,1156"/>
<polyline stroke="#0000df" points="520,1323 534,1313 547,1303 560,1293 574,1284 587,1274 600,1265 614,1255 627,1246 641,1236 654,1227 667,1218 681,1208 694,1199 707,1189 721,1179 734,1170 747,1160 761,1150 774,1140 787,1130 801,1120 814,1109"/>
<polyline stroke="#0000ef" points="497,1333 510,1322 523,1312 537,1302 550,1292 563,1281 577,1271 590,1261 603,1251 617,1241 630,1231 643,1221 657,1211 670,1201 683,1191 697,1181 710,1171 723,1161 737,1150 750,1140 764,1130"/>
<polyline stroke="#0020ff" points="612,1254 626,1245 639,1235 652,1226 666,1216 679,1207 692,1197 706,1187 719,1177 733,1168 746,1158 759,1148 773,1138 786,1128 799,1117 813,1107 826,1097"/>
<polyline stroke="#0040ff" points="439,1380 453,1370 466,1360 479,1349 493,1339 506,1329 520,1319 533,1309 546,1299 560,1289 573,1279 586,1270 600,1260 613,1250 626,1241 640,1231 653,1221 666,1212 680,1202 693,1192 706,1182 720,1172 733,1162 746,1152 760,1142 773,1132 786,1122 800,1112 813,1102 826,1092 840,1081 853,1071 867,1061 880,1051"/>
<polyline stroke="#0040ff" points="417,1396 431,1386 444,1377 458,1367 471,1357 484,1347 498,1337 511,1327 524,1317 538,1307 551,1297 564,1287 578,1277 591,1268 604,1258 618,1248 631,1239 644,1229 658,1220 671,1210 684,1200 698,1191 711,1181 724,1171 738,1161 751,1151 765,1141 778,1131 791,1121 805,1111 818,1100 831,1090 845,1080 858,1070 871,1059 885,1049 898,1039"/>
<polyline stroke="#0000ff" points="514,1327 527,1317 540,1308 554,1298 567,1288 580,1278 594,1269 607,1259 620,1250 634,1240 647,1231 661,1222 674,1212 687,1203 701,1193"/>
<polyline stroke="#0000df" points="497,1327 510,1316 523,1305 537,1295 550,1284 564,1274 577,1263 590,1253 604,1242 617,1232 630,1221 644,1211 657,1201 670,1190 684,1180 697,1169 710,1158 724,1148 737,1137 750,1126 764,1115 777,1105 790,1096 804,1087 817,1077 830,1068 844,1058 857,1049 871,1040 884,1031 897,1023 911,1015 924,1006 937,998"/>
<polyline stroke="#0010ff" points="559,1293 572,1284 585,1274 599,1264 612,1255 625,1246 639,1236 652,1227 665,1217 679,1208 692,1198 705,1188 719,1178 732,1169 745,1159 759,1149 772,1139 786,1129"/>
<polyline stroke="#0050ff" points="410,1398 423,1389 437,1379 450,1369 463,1358 477,1347 490,1336 503,1326 517,1316 530,1305 543,1295 557,1285 570,1274 583,1264 597,1254 610,1244 623,1234 637,1224 650,1214 664,1203 677,1193 690,1183 704,1173 717,1162 730,1152 744,1142 757,1131 770,1121 784,1111 797,1101 810,1092"/>
<polyline stroke="#0010ff" points="450,1374 464,1364 477,1354 490,1345 504,1335 517,1325 530,1315 544,1305 557,1296 570,1286 584,1276 597,1267 610,1257 624,1248 637,1238 651,1229 664,1220 677,1210 691,1201 704,1191 717,1181 731,1172 744,1162 757,1152 771,1142 784,1132 797,1122 811,1111 824,1101 837,1090 851,1080 864,1070 877,1059"/>
<polyline stroke="#0030ff" points="553,1298 567,1288 580,1278 593,1269 607,1259 620,1250 633,1241 647,1231 660,1222 673,1212 687,1203 700,1193 713,1183 727,1174 740,1164 753,1154"/>
<polyline stroke="#0030ff" points="486,1340 499,1330 513,1319 526,1309 539,1299 553,1289 566,1278 579,1268 593,1258 606,1248 619,1238 633,1228 646,1218 659,1208 673,1198 686,1187 699,1177 713,1167 726,1156 739,1146 753,1136 766,1126 779,1116 793,1106"/>
<polyline stroke="#0050ff" points="531,1312 544,1302 557,1292 571,1282 584,1272 597,1263 611,1253 624,1243 637,1234 651,1224 664,1214 677,1205 691,1195 704,1185 717,1175 731,1165 744,1155 758,1146"/>
<polyline stroke="#0000df" points="469,1354 483,1344 496,1334 509,1323 523,1313 536,1303 550,1293 563,1283 576,1272 590,1262 603,1252 616,1243 630,1233 643,1223 656,1213 670,1203 683,1193 696,1183 710,1172 723,1162 736,1152 750,1142 763,1132 776,1121 790,1112 803,1102 816,1092 830,1082 843,1072 857,1062 870,1052 883,1043 897,1033 910,1024"/>
<polyline stroke="#0010ff" points="437,1377 450,1366 463,1355 477,1343 490,1332 503,1321 517,1311 530,1300 543,1290 557,1279 570,1269 584,1258 597,1248 610,1237 624,1227 637,1216 650,1206 664,1195 677,1185 690,1174 704,1164 717,1153 730,1142 744,1132 757,1121 770,1110 784,1101 797,1091"/>
<polyline stroke="#0000df" points="447,1371 460,1360 474,1349 487,1339 500,1328 514,1318 527,1308 540,1297 554,1287 567,1277 581,1266 594,1256 607,1246 621,1236 634,1226 647,1216 661,1206 674,1196 687,1186 701,1175 714,1165 727,1155 741,1144 754,1134 767,1124 781,1114 794,1104 807,1094 821,1084 834,1075 847,1065 861,1055 874,1046"/>
<polyline stroke="#0040ff" points="454,1364 468,1353 481,1342 494,1331 508,1320 521,1310 535,1300 548,1289 561,1279 575,1268 588,1258 601,1248 615,1238 628,1227 641,1217 655,1207 668,1197 681,1186 695,1176 708,1165 721,1155 735,1144 748,1134 761,1123 775,1113 788,1103 801,1094 815,1084 828,1075 841,1065 855,1055 868,1046 882,1037 895,1028 908,1019 922,1011 935,1002 948,993"/>
<path stroke="#00008f" d="M295 1476zm0-24zm2-2zm0 23zm2-25zm0 6zm2 13zm1 0zm1-18zm1 11zm5 9zm1-21zm2-2zm0-10zm2 27zm1-22zm0 22zm0-33zm1-6zm0 2zm1 13zm1-1zm0-4zm1-3zm5-11zm0 20zm0-10zm1 17zm0-14zm1 3zm1 21zm1-28zm0 6zm0 3zm1-15zm2 23zm0-14zm0-13zm0 18zm1 12zm1-3zm2-5zm1 8zm0-23zm2 5zm0 4zm1 0zm0 10zm1-18zm1 21zm0-37zm1-1zm0 10zm1 11zm1-4zm0-4zm1-11zm3-1zm0-6zm1 26zm0-11zm0-1zm1 9zm1-18zm0 3zm0 12zm1 10zm1 1zm0-26zm0 26zm2-38zm0 15zm1-20zm0-2zm0 13zm1 13zm0-7zm0 20zm1-28zm0 17zm1-28zm1 15zm1 11zm1 12zm0 1zm1-22zm1 22zm0-38zm0 33zm1-35zm1-2zm1 32zm0-39zm3 0zm1 39zm1-41zm2 11zm2 5zm0-3zm1 32zm2 0zm0-36zm2-2zm1-16zm0 12zm1 17zm0-20zm1 18zm1-2zm0 20zm0-40zm1 3zm1-15zm1 37zm0 6zm0-13zm1 16zm1-8zm1-26zm0-1zm0 28zm0-28zm1 34zm0-14zm2-7zm0 14zm1-32zm1 34zm1 3zm0-5zm1-4zm1-41zm2-3zm0 34zm1 12zm0-38zm1 37zm2-45zm1 20zm1 10zm1-4zm1 37zm1-59zm1 15zm0-30zm2 54zm1-7zm0-7zm0-40zm0 38zm1-23zm1 5zm1-11zm0 20zm1 8zm2-24zm0 18zm1 4zm0 17zm2-25zm1-37zm0 48zm0 65zm1-78zm0-7zm1-11zm1 24zm1-9zm0 10zm0-16zm1-19zm2 33zm1 9zm0-27zm1-1zm1-5zm0 29zm1-18zm1 20zm1-20zm0 63zm0-96zm0 43zm1-5zm1-29zm0-3zm0-1zm0 123zm1-75zm1 51zm0 42zm1-144zm1-6zm0 3zm2 6zm0 23zm0-35zm0 39zm2-18zm0 29zm1-46zm1 50zm0 0zm1-61zm0 54zm0-3zm1-54zm0 13zm0-13zm0 33zm1-6zm1-12zm0 41zm2 0zm1-10zm0-29zm2 15zm1 77zm0-82zm0-44zm1 26zm0-6zm0 32zm1-20zm0 20zm0 4zm0-19zm1-9zm0 28zm0 2zm0-9zm0 2zm1-7zm1 0zm0 8zm2-9zm1 15zm0-36zm1-50zm0 61zm0 16zm1-9zm0 9zm1 18zm0-47zm0 27zm0 17zm2-30zm0 1zm0-3zm1-8zm1-5zm1 17zm0-10zm1 30zm0-4zm0-35zm1 16zm0 6zm0-6zm1 23zm1-23zm0 7zm0-19zm1 41zm1-60zm0 49zm1 1zm1-26zm0 6zm0-28zm0 48zm0-45zm0 12zm2-17zm0 18zm2 33zm1-69zm0 72zm0-28zm1 27zm1 0zm0-61zm0 30zm1-7zm0 18zm1-28zm1-26zm0-1zm0 21zm2 49zm0-18zm1-66zm1 126zm0-93zm0 31zm0-55zm0 40zm0 3zm1-5zm1 136zm0-141zm0 12zm0-27zm0-9zm1 8zm1 39zm1-8zm0 4zm1 14zm1-41zm0-10zm0 85zm1-76zm1-24zm0 13zm1 0zm0 43zm1-60zm0 5zm0 33zm0-37zm1 211zm2-166zm0 9zm2-33zm0-27zm0-7zm1 16zm0 43zm0-55zm1 17zm0 56zm1-63zm0-7zm0 42zm0 24zm0-33zm1-27zm0 29zm0 34zm1-77zm1 39zm1 137zm0-118zm1-47zm0 4zm0-11zm0 0zm1 27zm3-5zm1 21zm0 17zm0-10zm1-48zm0 49zm0-63zm1 72zm0-53zm0 42zm1 3zm0-61zm0 48zm0-37zm0 14zm1 15zm0-4zm0-41zm1 15zm0 12zm2 7zm0 37zm0-21zm0-26zm1 13zm1-28zm1 58zm1-73zm0 56zm0-67zm1 11zm1 28zm1-26zm0 21zm1 2zm1 35zm0-45zm1 17zm1 20zm1 21zm0-47zm0 18zm1 19zm1-36zm2-11zm0 47zm0-39zm1 7zm0 35zm0 3zm0-17zm1-17zm2 10zm0-36zm0 42zm1 4zm0-70zm0 79zm0-65zm2 34zm1-16zm0 33zm1-49zm0 16zm2 24zm0-16zm2-22zm0 4zm1 45zm1-30zm2-52zm1 42zm0 43zm0-16zm0-47zm1-3zm0 38zm1-21zm1 17zm1 14zm0-36zm0-14zm1 11zm0-8zm0 44zm1-42zm1-16zm0 44zm0-10zm1-28zm0 38zm1-34zm0 35zm0-63zm1 46zm3 11zm1-1zm1-53zm1 40zm1-18zm0 6zm0 9zm2 8zm0 1zm0-45zm0 49zm1-63zm0 13zm1 54zm0 21zm0-81zm2 36zm1-1zm1 8zm1 31zm2-53zm0 27zm0-11zm0 4zm0 39zm1-91zm0 55zm2 14zm0-14zm1-3zm1-27zm1 15zm0-22zm0 6zm1 31zm1-10zm1-48zm1-3zm0 64zm0 2zm0-50zm2 57zm1-35zm0 10zm0 2zm0 0zm1-29zm1 38zm0-12zm0-37zm0 23zm0 13zm1-24zm0-61zm2 73zm0 8zm1-14zm0 38zm1-35zm0 1zm1-39zm0 34zm0-17zm1-11zm1 66zm0-26zm1 4zm0-26zm2-5zm0 23zm1-53zm1 57zm0 16zm0-17zm1-15zm0 24zm0-24zm1-14zm0 34zm1 13zm0-79zm0 33zm0 23zm1-17zm0-10zm4 17zm2-3zm0-46zm0 58zm1-62zm0 29zm1-11zm0 33zm0 2zm0 3zm1-39zm0-79zm1 99zm1-18zm0-6zm0 47zm1-12zm0 4zm0 16zm0-39zm1-2zm0 1zm0 37zm0-71zm0 38zm1-1zm0 6zm3 53zm1-19zm2-32zm2 3zm0-26zm1 39zm0-55zm1 17zm1 47zm1-26zm1 21zm1-16zm2-17zm0-25zm0-16zm0 24zm1-23zm0-8zm1 16zm0 24zm0 16zm2-53zm0 64zm1-23zm1-10zm0-39zm1 55zm1-60zm1 67zm1-70zm1 58zm2 29zm0-89zm0 7zm1 15zm2 38zm2 24zm5-69zm1 21zm3-11zm0 15zm0 11zm1 21zm0-39zm1 12zm1-55zm0 59zm1-22zm1-13zm0 26zm1-32zm1-1zm1 53zm0-92zm0 62zm5-6zm0 20zm2-40zm0 43zm0-63zm1 9zm0 41zm1-51zm1 51zm1-40zm0-8zm1 43zm2-8zm0 28zm2-4zm1 12zm0-57zm0-35zm1 85zm2-28zm1-43zm0 25zm2 3zm0 3zm2-67zm0 64zm0-20zm3 11zm1 38zm1-5zm0-39zm1 29zm0-97zm2 12zm0 66zm0 19zm1 24zm0-55zm1 42zm0-20zm0 25zm0-9zm0-27zm0 12zm1-38zm0 38zm1-7zm0-38zm0 39zm2-57zm0-4zm1 24zm2 9zm0 44zm1-108zm0 113zm2-46zm0 37zm0 12zm1 1zm1-91zm0 40zm0 8zm0-57zm2 7zm1 56zm1-48zm1-19zm1-70zm0 162zm1-10zm0 22zm1-64zm1 9zm0-29zm1-30zm0 121zm2-26zm1 3zm0-11zm3-79zm1 63zm1 30zm3-73zm1-6zm0-6zm0 3zm1 45zm0-4zm1-41zm0-19zm0-8zm1-3zm0 117zm1-60zm3-66zm1 72zm0-64zm2-37zm0 76zm1 24zm0 43zm1-99zm1 46zm1-1zm0-31zm1 74zm0-40zm1-4zm0-13zm0 49zm1-27zm2 7zm1-8zm0-39zm1-2zm0-38zm2 11zm0-20zm4 155zm1-75zm0 57zm2-65zm3-81zm0 93zm1-27zm0-11zm1 50zm1-29zm0-79zm1 70zm2-2zm1 29zm0-87zm2 86zm0-1zm0-98zm0 89zm1-19zm1 88zm1-83zm0-57zm0 95zm1-49zm2 22zm0-44zm1-16zm0-10zm2 94zm0-84zm2 121zm0-97zm2-102zm4 128zm1-79zm5 1zm2 1zm0 108zm1-25zm0-83zm1 28zm0 35zm0-57zm2 87zm3-61zm2 26zm1-23zm3-132zm2 87zm0 128zm1-130zm2 84zm2-35zm1-45zm1 67zm1-54zm1 73zm0-15zm2 52zm0-48zm0-102zm0 18zm1 5zm0 12zm1 87zm2-2zm1-64zm1 10zm0 3zm1 9zm1 58zm0-18zm1-92zm1 40zm1-24zm3 34zm3-89zm3 110zm1 33zm1-156zm1 68zm1 20zm1-37zm0 40zm0-17zm1-24zm2 42zm1-15zm0 91zm1-207zm1 70zm1 27zm1-96zm2 160zm1-68zm0-7zm1 38zm1 8zm1 28zm1-28zm1-85zm1 24zm0-6zm0 53zm1-2zm1 4zm0 61zm2-82zm2-43zm1 94zm3-86zm0 38zm1-37zm1-62zm1 94zm1-18zm0-116zm1 145zm2-50zm0 61zm0-131zm1-3zm3 177zm1-68zm0-104zm0 141zm1-54zm0-14zm1 17zm1-55zm0 54zm1-95zm4 101zm3-42zm0-47zm0-6zm4 19zm1 80zm0-116zm1 171zm0-200zm2 59zm3-58zm1 32zm1 48zm1 119zm2-52zm0-11zm5 8zm0-27zm0-66zm1-13zm1 14zm0-59zm1-2zm1 49zm1 92zm2-114zm2 21zm1 25zm1-38zm1 71zm0-3zm1 47zm0-9zm6-70zm3-88zm1 2zm0-10zm0 54zm2 5zm1 69zm0-10zm0-13zm1-61zm0 12zm1 108zm0-163zm1 159zm1-103zm0 118zm2-77zm1-27zm7-76zm0 105zm2 53zm1 14zm1-126zm0 45zm4 36zm3-5zm3 15zm0-28zm2-16zm2-18zm0-2zm3-66zm1 54zm3 48zm1-149zm0-25zm1 137zm4-14zm1-199zm2 114zm3 84zm1-121zm0 81zm2 8zm0-15zm0-15zm1-43zm1-7zm4 104zm0-165zm1 201zm2 19zm0-50zm6-40zm0 70zm2-143zm1 16zm1 171zm0-170zm0 41zm1 58zm3-74zm2-25zm1 4zm7 30zm1 51zm0 0zm3-25zm1-18zm2-96zm1 142zm0-9zm3 59zm4-91zm11-222zm2 172zm4 32zm0-7zm1-2zm4 27zm8 2zm1-49zm5 44zm1-4zm2-31zm0 90zm3-88zm2 61zm4-82zm4 67zm3-60zm5-10zm2 55zm4-70zm1 3zm1 86zm4-111zm0 79zm1-103zm4 64zm4 37zm3-65zm7-9zm0 3zm2-14zm3 88zm7-73zm11-12zm1-33zm0-119zm8 224zm6-148zm1 45zm4-9zm6 24zm3-98zm8 56zm0 69zm5-116zm16 142zm2-51zm13 22zm14-64zm6-42zm16-11zm13-46zm5-47z"/>
<path stroke="#00009f" d="M305 1452zm6-21zm4 12zm19-30zm6 9zm8 2zm3-14zm21 16zm8-35zm11-19zm31-9zm8-1zm5-2zm54-59zm5 11zm0 12zm0 12zm9-70zm5 53zm4-39zm16-3zm9-45zm13 69zm4-26zm6-114zm8 73zm26-3zm9-35zm9-6zm26-3zm4-1zm2 29zm8-44zm1 1zm3-25zm3-1zm17 17zm5-6zm3-12zm2-23zm3-6zm9-20zm29 20zm0-53zm51 21zm4-29zm22 11zm7-41zm4 27zm15-92zm6 19zm11 10zm7 15zm2 13zm8 15zm9-67zm8 20zm9-98zm12-37zm7 11zm21 138zm8-129zm25 60zm1-60zm26 169zm3-112zm11-110zm19 98zm21-175zm51-23zm34 11zm84-113z"/>
<path stroke="#0000af" d="M296 1470zm2-7zm14-24zm10 5zm30-49zm15 7zm32-20zm5-23zm2 44zm1-42zm1 7zm17-4zm15 13zm0-37zm2 26zm0-4zm5-3zm8 4zm3-11zm8 5zm1 3zm7-12zm10-13zm5-28zm12-1zm0 1zm5 21zm5-50zm1 7zm5 2zm7 13zm1-28zm8 14zm7-2zm4-25zm1-40zm8 54zm3-26zm6-23zm12-10zm2-6zm2-3zm10 14zm7 50zm9-66zm23-19zm0 10zm1-17zm9-9zm4 5zm5-24zm0 50zm1 13zm2-65zm2 40zm5-38zm7-20zm4 90zm6-64zm4-23zm0 53zm5-80zm3 46zm7-110zm3 97zm1-56zm5-7zm0 56zm0 14zm4-30zm4 24zm13 2zm2-119zm3 99zm6-60zm4 18zm7 45zm7 2zm18-17zm1 46zm13-70zm17-27zm7 22zm42-140zm1 41zm3-25zm3 36zm2-49zm8 12zm32-13zm12-89zm20 29zm5 9zm4 66zm58-117zm73-59zm52 61zm129-238z"/>
<path stroke="#0000bf" d="M296 1470zm1-15zm43-38zm42-15zm24-25zm11 3zm2-20zm9-22zm7-10zm4 8zm0 38zm8-15zm7-26zm2 10zm5-13zm21-43zm2 55zm6-19zm3-43zm8 27zm2-6zm2-9zm3 29zm5-36zm3 15zm4-34zm3 41zm1-14zm1-46zm8 19zm8 16zm1-17zm8-6zm7-47zm1 70zm4-46zm3 12zm3 27zm0-61zm8 31zm1-11zm3 13zm3-7zm10 29zm3-66zm1 56zm1-81zm1 33zm6 53zm5-33zm4-25zm0-39zm1 56zm4-11zm5-12zm3 42zm2-6zm2-82zm1 39zm8-33zm16 24zm5-5zm10-45zm0 43zm4-36zm8 29zm17-21zm10-6zm2-37zm7-9zm3-54zm6 72zm10 11zm1-109zm0 89zm6 16zm4-80zm5 30zm20-34zm1-13zm2 12zm3 20zm8 31zm8 1zm8-96zm1 78zm8-113zm1 87zm2-1zm2-58zm0-15zm3 62zm26-30zm1 53zm7-105zm15 69zm5-67zm7-13zm15-69zm8-8zm1 18zm6 153zm9-89zm15 6zm4 64zm26-64zm4 26zm1-42zm9-81zm12-29zm1-70zm24 109zm29-140zm34 87zm13-23zm47-56zm24 60zm84-118zm79-139z"/>
<path stroke="#0000cf" d="M296 1469zm15-4zm19-43zm8 22zm23-27zm2-8zm7-10zm5-18zm21-10zm1-10zm14 33zm7-3zm13-42zm3-23zm28 30zm34-21zm0-33zm1-25zm3 1zm2 11zm11 34zm1-53zm2 5zm2-11zm13-33zm5 60zm12-72zm7 69zm3-23zm7 6zm3-1zm0-45zm7-11zm5 21zm1-24zm1 27zm2-24zm10 50zm4-25zm1-24zm0 25zm5-48zm7-8zm0 62zm6-56zm3 8zm5-27zm0 27zm1 47zm1-51zm0-29zm5 26zm1 41zm12-84zm9-15zm8-1zm4 55zm22-11zm1 4zm2-71zm5 67zm4-58zm1-21zm5 58zm3-56zm0 47zm5-24zm7 23zm8-107zm1 31zm9 61zm1-32zm13-19zm6 19zm2-30zm8-2zm2 16zm1-38zm20 42zm3-44zm2 10zm4-36zm1 53zm8-78zm2 53zm4-43zm9 10zm5-60zm2 31zm14 102zm3-122zm13-31zm4 56zm3 100zm4-143zm11 21zm0 37zm15-6zm1-37zm1 47zm3-34zm1-89zm7 150zm3-164zm4 55zm18 69zm6-78zm12-31zm21-115zm17 138zm33-123zm46-5zm177-311z"/>
<path stroke="#0000df" d="M296 1471zm2 3zm73-97zm143-60zm13-40zm4 1zm19 8zm10-10zm0-49zm17-15zm12 42zm4-37zm12 12zm1-30zm4 61zm5-14zm1-5zm4-36zm4 34zm3-90zm2 75zm8-69zm6 20zm0-12zm0-38zm11-14zm7 111zm6-4zm2-29zm11-15zm12 13zm2-34zm2 30zm4-115zm2 10zm5 68zm1-22zm2 13zm6-55zm4 72zm11-68zm1 20zm5-46zm1 101zm6-2zm7-72zm4-13zm0-12zm1 76zm6-6zm2-122zm3 56zm6 75zm1-44zm10-82zm6 80zm11-76zm19-36zm1 62zm3 38zm1-125zm11 34zm24-44zm8 18zm11 10zm11-51zm42-24zm112-213zm9 279zm68-183z"/>
<path stroke="#0000ef" d="M298 1471zm216-212zm19 54zm4-32zm16-24zm11 8zm1-15zm9-5zm2-26zm4-20zm7 72zm2-1zm3-73zm1 65zm7-85zm7 19zm2 65zm7-99zm8 19zm2-29zm0 28zm3 58zm0-12zm0-1zm1-17zm4 15zm1-80zm1 69zm0-46zm4-12zm1 7zm3 61zm4-42zm1 21zm2-17zm4-27zm6 1zm1-20zm2 65zm2-72zm2 87zm1-21zm1-26zm5-63zm1-4zm10 80zm1-9zm1-100zm5 99zm1-63zm1 14zm4 34zm6-38zm2 39zm12-24zm0 20zm3-46zm8-18zm2-9zm1-24zm2 52zm2 0zm10-12zm4 12zm7-53zm0 83zm2-92zm0 98zm1-14zm2-94zm4 0zm0 3zm0 22zm4-28zm1-7zm3 108zm1-5zm2-62zm1-64zm0 57zm0 39zm7-75zm0 76zm1-122zm2 59zm3-24zm3 81zm1-42zm0-7zm5 23zm9 26zm1-130zm11 1zm7 72zm15 46zm6-138zm9 70zm0-42zm11 33zm1-45zm1-90zm11 58zm5-61zm1 73zm5-52zm2 79zm11-68zm10 84zm5-70zm8 142zm8-215zm9 107zm2-57zm3 57zm10-77z"/>
<path stroke="#0000ff" d="M540 1256zm36-45zm8 65zm3-88zm6 54zm1 18zm2-1zm14-54zm10 45zm1-23zm2-59zm7 37zm0-57zm4 65zm0 29zm2-24zm3-27zm6 24zm17 5zm2-67zm2 21zm1-8zm5-44zm0 72zm5-89zm0 70zm1 38zm0-36zm2-25zm8 53zm9-71zm2 57zm11-112zm9 85zm4-48zm3-60zm10 48zm0-42zm5 42zm0-39zm2 70zm3-36zm1 11zm3-35zm5 5zm1-5zm6-51zm2 64zm0 25zm7-15zm6 28zm2-82zm5 9zm2-25zm5 38zm2 4zm4-32zm1 72zm0-18zm3 20zm1-21zm16 31zm1-70zm7-20zm5-27zm1 4zm7 81zm5-39zm3-136zm8 41zm2-13zm7 108zm5-148zm8 53zm1-17zm11 103zm0-1zm7-175zm0 27zm6 148zm1-139zm2-7zm0 123zm12-16zm4-106zm7 38zm0-18zm0-14zm5-71zm2 106zm2-5zm2-9zm0 56zm8-96zm1 55zm4-5zm5 48zm15-62zm3 64zm31-164zm4 45zm5-30zm18-5zm6 114zm4 20zm20-150zm6-74z"/>
<path stroke="#0010ff" d="M559 1264zm23-40zm11 32zm5 2zm11-28zm14 2zm2-4zm8 15zm2-90zm0 86zm4-7zm16-80zm3 34zm1-44zm2 11zm7 10zm7 32zm5-26zm2 35zm10-24zm11-100zm1 55zm0 13zm1-1zm1-69zm5 31zm0 74zm4-29zm2-24zm1 45zm1-12zm4-63zm2-29zm2 76zm1-54zm1-1zm0-32zm0 80zm4 30zm2-86zm1 58zm2-34zm5-7zm11 31zm4-84zm9 39zm0 28zm1-34zm4 51zm2 27zm6-107zm0 26zm2 3zm4 41zm3-20zm2-39zm2-18zm2 62zm3-41zm0 46zm1-107zm4 11zm9 63zm6 13zm5-44zm2 27zm6-113zm3 68zm5-61zm3-85zm4 39zm5 89zm3-64zm15 114zm3-14zm0-34zm5 31zm4-124zm1 112zm14 24zm3-25zm6-153zm2 11zm1-2zm3 47zm2-64zm0 138zm1 14zm6-158zm6 32zm1-4zm5 83zm2-3zm6 40zm1-113zm1 98zm3-90zm1 22zm32-146zm2 141zm7-73zm7-10zm9 77zm7-86zm27 99zm20-266zm17 194z"/>
<path stroke="#0020ff" d="M301 1467zm1 6zm256-197zm11-35zm31-32zm2 52zm4-52zm3-15zm20-17zm16-42zm5 68zm1 9zm12-72zm6 19zm5 36zm2-5zm2-63zm4 36zm8 38zm1-75zm0 35zm3 24zm9-89zm12-28zm1 47zm1-5zm5 68zm7-4zm5-6zm0-49zm0-32zm4 42zm4 35zm1-120zm1 49zm1-38zm1 78zm5-13zm6-86zm1 115zm3-46zm2 20zm0-95zm2 28zm1 65zm6-98zm1 39zm2 12zm3-15zm6-30zm5 73zm5-24zm8-47zm5 87zm6-35zm3 3zm1-111zm0 126zm12-50zm3-37zm0-9zm10 71zm1-158zm1 65zm2-5zm3 96zm3-136zm0 13zm1 4zm8 81zm12 28zm2-1zm0-23zm1-39zm1 43zm5-107zm1 13zm2-35zm2-64zm3 148zm3 51zm1-175zm7 64zm2 73zm4-68zm4 74zm8-118zm1 63zm1-12zm2 41zm10-112zm1 53zm4 27zm11 59zm3-205zm1 101zm7-87zm2 127zm1-92zm0 7zm4-24zm16 144zm7-147zm6 26zm1-109zm1 65zm3 9zm1 60zm1-101zm1 88zm11-83zm12 69zm2-128zm14 44zm21-62zm3 5z"/>
<path stroke="#0030ff" d="M301 1468zm283-229zm7 5zm43-63zm3 29zm1 14zm14-95zm2 13zm1 66zm18-95zm3 89zm6-99zm5 61zm3-45zm4-26zm13-20zm3 109zm4-44zm2 34zm11-86zm0 89zm11-30zm1-40zm0 16zm13 1zm6 30zm1-84zm1 71zm3-28zm4 4zm0-40zm3-46zm1 81zm1 3zm0 17zm2-62zm3-55zm2-6zm0 102zm2-8zm0 25zm4-76zm2 54zm1-97zm4-5zm2 107zm0-12zm1 1zm4-55zm0 65zm1-3zm4-74zm2-21zm3 72zm3 24zm3-136zm1 25zm10 1zm5 93zm6-111zm1 96zm0 18zm2-22zm0 16zm2-60zm3-97zm0 146zm2 3zm5-119zm9 111zm1-74zm1-53zm2 61zm1 18zm1 23zm1-130zm0 141zm1-51zm1 26zm0-5zm2 44zm0-26zm1 15zm4-64zm2 15zm3-19zm0-50zm2 62zm1 38zm1 3zm0-64zm3 52zm0-111zm9-1zm1-24zm0 94zm12-57zm9-32zm2 91zm3-22zm2 68zm0-19zm0-9zm4 7zm3-125zm2-34zm1 97zm8 33zm3-164zm1 148zm2-7zm6-53zm8 30zm2-107zm17 35zm2 65zm2-48zm0 39zm14-137zm2-27zm7 65zm3-23zm8 71zm8-29zm8-109zm4 35zm4 131zm2-55zm2-183z"/>
<path stroke="#0040ff" d="M302 1463zm301-216zm49-48zm14-57zm1 55zm8-27zm1-13zm4 10zm9 12zm5-4zm6 6zm5-29zm4 30zm0-26zm8-70zm0-22zm2 58zm5-39zm5 64zm12-26zm1 5zm1-14zm1 44zm20-28zm0 54zm5-74zm12 1zm3-79zm1 96zm1-6zm2 7zm1-84zm1 79zm6-115zm4-3zm5 101zm1-118zm2 91zm8 27zm0-3zm12-178zm2 172zm6-19zm2-79zm2 14zm1 34zm4-113zm0 139zm2-7zm1 13zm15-88zm1 46zm4 15zm1-44zm3-19zm4-59zm2 86zm1-119zm6 89zm1-5zm0 17zm4-79zm8 121zm2-150zm1 32zm2 73zm1-104zm3 90zm2 84zm5-14zm2-20zm2-33zm3-113zm7 130zm1 5zm1-59zm0 44zm7-150zm3-3zm4-11zm0 104zm1-8zm1-45zm1 42zm0 11zm1-52zm1 64zm2-71zm3 75zm1-34zm20-57zm17-111zm1 37zm9-50zm11 159zm2-46zm3 7zm6-66zm1 69zm6 5zm2-71zm1-64zm5 106zm11-45zm1-77zm2-13zm4 46zm10 87zm2-89zm30-102zm31 8z"/>
<path stroke="#0050ff" d="M591 1247zm27-17zm47-127zm21 46zm2 45zm9 1zm1-58zm4 19zm4 2zm18-29zm22 35zm8-109zm4-20zm6 49zm11 2zm5 0zm7 17zm1-92zm1 7zm2-24zm6 111zm13-9zm4-62zm4 64zm3-91zm2 72zm9-77zm1 40zm3 26zm4-41zm2 28zm5 24zm1-79zm0 16zm6 20zm3-33zm3 67zm11-124zm3 84zm4-49zm3-13zm4-6zm3-35zm3-14zm2 22zm2-43zm2 0zm2 20zm1 25zm0 27zm5-25zm2 46zm2-56zm0 102zm7-6zm2-8zm9-127zm2 23zm1-13zm9-67zm7 131zm3-44zm8-14zm1-20zm11-17zm3 12zm0 56zm7-56zm3 97zm4-141zm9 88zm1-70zm5 7zm1-60zm5-14zm1 29zm11 15zm2-4zm2-29zm7 39zm3-26zm20-4zm1-60zm21-8zm9-45zm3 114zm7-96zm33-35zm4-32z"/>
<path stroke="#0060ff" d="M641 1188zm95-126zm17-4zm0 0zm19 7zm0 23zm1-57zm3-48zm5 91zm20-12zm0 8zm1 14zm16-19zm1 5zm16-100zm11 88zm7-29zm5 30zm4-35zm3 3zm0-87zm12 29zm11-13zm3-47zm3 85zm0-105zm6 93zm11 40zm7-132zm1 70zm7-5zm0-1zm5-56zm7-23zm2 73zm2 56zm6-119zm3 27zm0 26zm2-27zm2 12zm6 8zm3-54zm1 73zm9-17zm2 67zm1-196zm12-7zm5 63zm1-26zm10 15zm1-13zm1 82zm6-60zm7-82zm0 15zm3-31zm2 137zm15 24zm3-111zm1-94zm1 157zm2-160zm3 199zm0-202zm2 180zm45-97zm0-120zm12-16zm68-120z"/>
<path stroke="#0070ff" d="M303 1466zm297-219zm123-107zm5-55zm11-3zm1 16zm12-94zm4 66zm2 108zm17-40zm13-119zm1 67zm10-4zm9-82zm3 8zm6 9zm10 22zm10 8zm11 15zm10-133zm5 145zm4-40zm2-5zm13-28zm8-131zm5 151zm5 2zm10-97zm2 99zm8-2zm2-165zm4 150zm5 1zm3-56zm0 61zm9-58zm9-140zm4 86zm1-3zm11-25zm2-2zm0 46zm1 7zm3-146zm3 147zm11-10zm3-24zm1 55zm9-180zm0 132zm1-123zm3 64zm4-7zm0-92zm7 27zm6 68zm10-60zm3 4zm1 147zm5-114zm2-100zm3 167zm1-72zm1-7zm0 8zm3-39zm1 71zm1-224zm5 179zm5-112zm1 168zm9-65zm8-89zm1 77zm9-46zm1 47zm0-17zm4-51zm1 51zm54-141zm74-22z"/>
<path stroke="#0080ff" d="M739 1056zm18-10zm15 37zm48-5zm8 2zm28-109zm15 39zm5 60zm7-28zm16-93zm15-14zm1 0zm6 87zm4-3zm1-179zm8 31zm3 35zm1 66zm1-41zm8-44zm6-8zm5-49zm4 41zm1-47zm0 72zm8-16zm1 19zm2-73zm11 167zm3-84zm3-26zm1 0zm8-88zm0 30zm1-19zm17 86zm25-202zm8 67zm8-20zm2 87zm1-6zm22-83zm4-133zm18 156zm0-59zm16-22zm4 45zm1-92zm6 139zm2-123zm7-17zm15 31zm8 83zm65-244z"/>
<path stroke="#008fff" d="M303 1464zm1-3zm491-337zm27-152zm5 129zm7-128zm4 89zm11-155zm25 25zm3 36zm19 70zm17 12zm7-139zm14-16zm15 73zm8 34zm1-73zm1-6zm0-14zm8-31zm4 22zm10-73zm1 36zm0-103zm1 117zm1-100zm16 7zm1 53zm4-33zm22 25zm0-26zm1 96zm4-12zm6-42zm13 0zm1-77zm5-30zm16 16zm2-73zm12 29zm4-50zm2 14zm0-29zm3 140zm2 15zm2-70zm3-49zm1-14zm7 45zm0 42zm7-122zm6 56zm15-6zm7 43zm5-37zm19-5zm0-36z"/>
<path stroke="#009fff" d="M765 1036zm22 33zm68-143zm0 51zm3-51zm28 72zm4 48zm8-121zm25 77zm13-31zm27-130zm8 53zm4-122zm1 84zm5 19zm1-57zm4 15zm1-35zm3 19zm1 113zm9-63zm2-95zm0 49zm4 102zm4-12zm2-153zm1-8zm1 17zm3 66zm6 73zm25-137zm3-55zm2 22zm15 59zm2-109zm0 141zm0-3zm16-88zm1 76zm6-112zm1-71zm1 41zm3-28zm4 102zm38-72zm13-47zm17 6zm76-116z"/>
<path stroke="#00afff" d="M304 1461zm0 2zm431-323zm34-44zm92-45zm15-32zm23-36zm9-57zm6 28zm8-92zm26 16zm2 52zm18-56zm6-32zm15 12zm20-196zm5 78zm3 71zm0-11zm5 57zm3-63zm11 138zm3-88zm14 92zm4-90zm16-123zm3-16zm7 155zm5-11zm4-75zm2-121zm7 60zm3 36zm18-85zm3 49zm9-10zm7-85zm7 60zm6 43zm2-121zm0 99zm9-121zm6-5zm0 54zm31-48z"/>
<path stroke="#00bfff" d="M755 1057zm14 32zm101-160zm54-22zm28 59zm5-96zm4-33zm13-46zm17 25zm4 43zm30-89zm1-18zm3 11zm5 43zm8-23zm18-5zm4-35zm5 18zm7-35zm2-10zm5 14zm3 22zm1-42zm2 82zm6-109zm1-36zm4 48zm13 154zm3-116zm11-26zm33-37zm12-10zm1 56zm2-110zm17-77zm3-38zm12 101zm3 26zm2 41zm5 68zm0-36zm62-156zm3 11z"/>
<path stroke="#00cfff" d="M784 1084zm63-115zm30 68zm0-130zm43-22zm53 31zm15 7zm3-4zm1-102zm10 70zm0-107zm7 97zm0-31zm7 75zm0-105zm17-29zm12-41zm12 128zm4-120zm1 16zm7-57zm0 58zm1 73zm3-109zm17 59zm10-74zm0 144zm12-185zm2-82zm1 132zm2-26zm2-15zm4-113zm5 49zm10 33zm0 1zm34 63zm16-11zm25-102zm12-1z"/>
<path stroke="#00dfff" d="M1000 923zm31-144zm6-10zm1-65zm8 162zm4-69zm6 45zm2-48zm10-101zm3 10zm14 42zm5-106zm11 71zm6-88zm1 110zm1 108zm3-137zm7-52zm3 97zm3-38zm4-148zm0 216zm9-99zm13 8zm4 15zm6-138zm3 180zm12-222zm12 189zm7-74zm1 20zm5-99zm7 54zm2-76zm13 92zm8-27zm21-22zm3-51zm12-95zm0 0zm96 126z"/>
<path stroke="#00efff" d="M307 1461zm664-618zm31-70zm23 4zm8 63zm18-183zm1 224zm14-193zm13-34zm32 164zm6-75zm8-137zm1 79zm1-96zm2 231zm2-134zm2-65zm10 167zm11-183zm16 118zm13 34zm22-260zm10 126zm7-23zm28 53zm44-49zm16-87zm10-12z"/>
<path stroke="#00ffff" d="M307 1455zm633-498zm25-136zm65 43zm12-38zm12-19zm8-35zm8 39zm0-112zm11 108zm4-117zm1 160zm8-130zm23-29zm0 18zm12-1zm0-60zm4 92zm2-64zm5-57zm14-1zm0 53zm6-26zm1-47zm7 30zm7 26zm2-7zm11 9zm12 38zm39-46zm8-99zm5 58zm5-134zm29 63zm5 6zm12 121zm51-195z"/>
<path stroke="#10ffef" d="M309 1458zm656-483zm100-248zm25 19zm6-27zm5-14zm6-47zm10 74zm12-162zm6 71zm12 40zm7 82zm6-116zm7 30zm5 33zm0-90zm4 49zm5-52zm9-34zm1-7zm15 40zm12 17zm8-85zm1-10zm35-92zm3 137zm6-85zm40-19z"/>
<path stroke="#20ffdf" d="M1041 880zm34-113zm4 115zm2-141zm20-90zm11 126zm4-103zm7 44zm23-127zm1 142zm47-152zm14-75zm4 206zm14-110zm12-49zm32-74zm8 160zm6-100zm5 53zm61-68zm5-98z"/>
<path stroke="#30ffcf" d="M310 1458zm770-699zm73-32zm3-126zm7 61zm5-45zm30-28zm1-71zm2 109zm2-58zm15 34zm12-12zm5-47zm4 72zm8-53zm4-69zm3 172zm0-172zm15 14zm65-146zm20 103z"/>
<path stroke="#40ffbf" d="M1181 680zm5-93zm7 84zm5-157zm0 140zm9-115zm6 9zm29-85zm7 186zm1-115zm9 21zm38-75zm24 66zm31-90z"/>
<path stroke="#50ffaf" d="M312 1459zm0-12zm833-702zm24-120zm46 86zm64-213zm14-9zm20 23zm23-30zm13-33zm29 19z"/>
<path stroke="#60ff9f" d="M311 1453zm2 3zm864-829zm7-43zm2 65zm5-41zm10 121zm29-204zm43 34zm16-95zm3 71zm0-137zm14 221zm36-107zm63-78z"/>
<path stroke="#70ff8f" d="M313 1449zm913-931zm11-24zm21 49zm2-18zm37-155zm23 170zm49-82z"/>
<path stroke="#80ff80" d="M315 1456zm806-782zm103-176zm93-56zm42 128zm12-73z"/>
<path stroke="#8fff70" d="M315 1453zm881-793zm29 3zm40-200zm1 171zm16 104zm32-309zm19 102zm2-30zm32-30zm12-93z"/>
<path stroke="#9fff60" d="M1272 482zm13 32zm45-185zm57 122zm99-92z"/>
<path stroke="#afff50" d="M1199 636zm97-36zm57-59zm65-7z"/>
<path stroke="#bfff40" d="M1275 470zm103-151zm25-1zm32 9zm6-16zm102-34z"/>
<path stroke="#cfff30" d="M1270 515zm31-131zm61 79zm23-28z"/>
<path stroke="#dfff20" d="M315 1460zm1-12zm981-920zm57-69zm94-115z"/>
<path stroke="#efff10" d="M1259 570zm3 25zm120-180zm12-8zm6 111z"/>
<path stroke="#ffff00" d="M1291 514zm42 25zm79-227z"/>
<path stroke="#ffef00" d="M1272 625zm230-344z"/>
<path stroke="#ffdf00" d="M318 1450zm2-4zm1016-833zm72-131z"/>
<path stroke="#ffcf00" d="M1421 294z"/>
<path stroke="#ffbf00" d="M320 1450zm1262-1194z"/>
<path stroke="#ffaf00" d="M319 1450zm1088-1109zm22-14z"/>
<path stroke="#ff9f00" d="M322 1447zm1061-920z"/>
<path stroke="#ff8f00" d="M1603 267z"/>
<path stroke="#ff8000" d="M323 1444zm1175-1180zm105 8z"/>
<path stroke="#ff7000" d="M1437 360zm8-73zm16 3zm42 30z"/>
<path stroke="#ff6000" d="M1483 354z"/>
<path stroke="#ff3000" d="M1561 325z"/>
<path stroke="#ff1000" d="M1602 229z"/>
<path stroke="#ff0000" d="M1507 239z"/>
<path stroke="#ef0000" d="M1530 301zm38-41z"/>
<path stroke="#df0000" d="M1604 185z"/>
<path stroke="#00008f" d="M295 1475zm0-29zm0 28zm2-22zm2-5zm0 9zm1-10zm2 10zm0-2zm0-6zm1 14zm0-20zm1 4zm2 21zm2-14zm1-5zm1-5zm0 23zm1-20zm0 5zm2-10zm1-5zm1-14zm1 24zm1 4zm1-2zm1 0zm1-2zm1-11zm1-16zm1 38zm0-27zm0 18zm1 0zm0-5zm0 11zm1-11zm1-17zm0 30zm0-9zm1 10zm0-12zm0-7zm1-17zm0 4zm1 16zm1 16zm0-42zm1 38zm0-27zm1-5zm1 23zm0-10zm0 10zm1-3zm1-4zm1 12zm0-33zm1-7zm0 19zm1-5zm3-22zm0 34zm0 15zm5-53zm0 20zm2 19zm1-16zm2 8zm0-24zm1 33zm1-12zm1-2zm0-4zm1-2zm0 13zm1-46zm0 11zm0-3zm4-24zm0 40zm1 0zm0 4zm0-6zm0-4zm0 10zm1 22zm1-39zm2-5zm1 21zm0 9zm3 10zm0-33zm1 26zm2-5zm2-43zm0 22zm2 12zm1 9zm1-24zm1-23zm0 18zm1 29zm1-2zm0 22zm1-74zm1 46zm0-21zm2 19zm1 32zm1-52zm1-18zm0 6zm3 22zm0 57zm2-53zm0-34zm0 94zm1-68zm1-17zm0 26zm2-14zm0-11zm0-22zm2 51zm0-35zm1 16zm0-34zm1 46zm0 4zm0 78zm1-91zm0-21zm2 10zm0 11zm0-38zm0 36zm0-13zm2 10zm1-7zm1 10zm0-24zm0-8zm2 16zm0-16zm0 26zm1 1zm1 12zm0-31zm1-20zm1 11zm1 14zm2 54zm0-45zm1-24zm0 31zm0-36zm1 82zm1-54zm0 8zm1-33zm0 11zm3 24zm1-6zm1-50zm0-3zm1 17zm1 4zm1 14zm1 3zm0 2zm0-8zm0 11zm1 96zm1-113zm1 23zm0 6zm1-40zm1-23zm1 40zm0-10zm1-26zm0 35zm1-31zm0 34zm0-18zm0 20zm0-29zm0-17zm1 38zm1 1zm0-3zm1-3zm0-29zm0 50zm2-59zm0 21zm1 136zm1-118zm1-3zm0-11zm0-16zm1 35zm0 100zm2-125zm0 16zm0-6zm0-24zm1 28zm0-28zm0 33zm3-40zm1 4zm0 37zm0-54zm2 33zm0 32zm0-17zm1 11zm0-27zm0-22zm0 39zm1 9zm2-22zm0-14zm0 23zm3 9zm1-38zm0 26zm0-11zm0 16zm1-45zm0-3zm0 38zm0 11zm0-14zm2-1zm0 23zm0-47zm0 44zm1 44zm0-91zm1-1zm0 23zm0 12zm1 13zm0-20zm1 20zm1 64zm1-84zm1 7zm0 8zm0-23zm1 22zm1-38zm0 3zm1 4zm1 39zm0-42zm0 21zm1-15zm1 61zm1-53zm0 14zm1-23zm0 25zm1 9zm0-72zm0 66zm0-63zm0 123zm1-67zm0-22zm1-8zm0 2zm1 2zm0 36zm1 0zm1-31zm0-22zm0 8zm0 40zm0-17zm0-13zm1 0zm0-4zm0 39zm1-2zm0-62zm1 56zm0-8zm0 1zm0-25zm1-35zm0 53zm0-30zm1-9zm0 28zm0 19zm0-37zm1 47zm1-38zm0 17zm1-62zm0 61zm1-27zm0-8zm0 11zm0 11zm2-9zm1-27zm0 22zm1 6zm0-17zm0 44zm1-44zm0 38zm1-56zm2 62zm1 141zm1-169zm0 15zm0-47zm0 51zm0-21zm1 36zm0-73zm1 17zm0 54zm1-34zm1 32zm0-72zm1 24zm0-31zm2 65zm0-56zm0 27zm1-1zm0-47zm1 83zm0-30zm1 29zm1-30zm1 24zm0-16zm0-14zm1-78zm0 97zm0 11zm1-2zm0-70zm1 81zm0-25zm1-23zm0 20zm0-8zm1 20zm0-29zm0-30zm0 34zm0-7zm1 37zm2-12zm0-8zm0-45zm0 19zm0 14zm0-19zm1 15zm1-10zm0-25zm1 22zm0 46zm3-57zm1 37zm0-17zm1 2zm0-33zm1 57zm1-44zm2 41zm1-68zm0 16zm1-5zm0 12zm1 36zm0-25zm2 5zm0 26zm1-43zm1 6zm0 28zm0-12zm1 10zm2-12zm0 6zm1-19zm0-7zm0-10zm1 47zm1-27zm0-43zm1 61zm3-73zm0 78zm0 6zm0-11zm1-31zm2 16zm0 7zm0-18zm1-22zm0-4zm0 31zm0 9zm2 14zm1-68zm0 49zm0-28zm1-12zm1 60zm1-2zm2-27zm1-25zm0 53zm1-46zm2 9zm0 23zm1-39zm0 3zm0-2zm0 35zm1-43zm0 30zm0-43zm0 38zm0 15zm1-22zm0 19zm1-59zm1 65zm0-51zm1-14zm1-3zm1 50zm0 21zm1-52zm0 49zm1-36zm1 22zm0 15zm1-15zm2-11zm0 5zm0 8zm2-84zm0 81zm1-18zm1-44zm0 72zm0-19zm1-25zm0-17zm1 40zm1 29zm0-73zm0 56zm2-19zm1-20zm1-19zm1 37zm0-27zm1 20zm0-21zm0 3zm0-17zm1 40zm0-5zm2-37zm1 78zm1-62zm0 22zm0 8zm1-47zm0 22zm1-59zm1 51zm1 24zm1-57zm0 19zm0 16zm0 39zm3-53zm1 8zm0 55zm1-57zm0 13zm1-17zm0-27zm1 79zm1-59zm1-19zm0 27zm1 11zm1 15zm1-60zm1 49zm0 22zm1-21zm1 18zm1 8zm0-25zm0-29zm1-6zm1 8zm0 58zm0-48zm1-40zm1 38zm0-3zm0-27zm1 68zm0 2zm1-70zm0 10zm0-2zm1 19zm1 44zm0-23zm0-18zm1-10zm1-2zm0 6zm0 4zm0-2zm2-16zm1 24zm1-25zm2-24zm0 0zm1 4zm2 52zm1-82zm0 63zm1-58zm0 94zm0-2zm0-56zm2-69zm0 96zm0-55zm2 16zm1 33zm0-23zm1 29zm1 14zm0-3zm1-51zm1-31zm0 45zm1-37zm1 106zm0-36zm1-44zm0 29zm2 10zm0-5zm0 17zm0-63zm1 4zm0 17zm1-17zm1 22zm0 61zm0-41zm2-6zm0-17zm2 16zm0-15zm0 4zm0-26zm1-73zm0 131zm1-51zm1-44zm0 29zm0 36zm1-23zm0 48zm1-87zm1 16zm0 3zm1 30zm0-39zm0 25zm0 44zm1-28zm0 34zm2-53zm0 18zm1 60zm1-112zm0 10zm0-4zm1 1zm0 71zm0-49zm1-9zm4 4zm0-10zm0 32zm1 23zm1-28zm0-13zm0-9zm1-20zm0 65zm0 0zm3-38zm0 17zm0-4zm1-2zm1 17zm0 10zm0 1zm1-56zm1 20zm0-25zm1 17zm0-55zm1 75zm0-11zm1-12zm1-19zm0 33zm1-42zm1 63zm0-23zm0-20zm1 15zm0 12zm0 33zm1-11zm1-102zm1 53zm0 46zm3-49zm0-4zm1-26zm0 48zm1 13zm0-25zm1-18zm2-26zm0-2zm0 23zm2 13zm0-16zm0 88zm1-65zm0-19zm1 55zm1-321zm2 317zm2-126zm0 103zm0 48zm0-99zm2 32zm0-20zm1 45zm0-15zm1 5zm0-3zm2-60zm1-7zm1 82zm1-29zm0-50zm0 46zm0 46zm1-12zm2-28zm0 28zm0 11zm0-57zm0 29zm1 20zm1-63zm1 12zm0 33zm0 18zm0-57zm0 48zm1-22zm0 0zm1-27zm2 13zm0 69zm1-1zm0-58zm2 1zm0-39zm0-13zm0 13zm2 22zm1-16zm1 46zm1-41zm1 6zm1 10zm0-58zm0 34zm0-19zm1 30zm2 73zm1-72zm4-24zm2-15zm0 16zm0 41zm1-17zm1-41zm2 57zm1-28zm0 43zm0-4zm0-41zm1 3zm0 31zm0-1zm0-49zm1 20zm0-34zm0 21zm1-2zm1-32zm0 63zm0-37zm1 77zm0-26zm1-26zm1 37zm0-102zm1 27zm0-19zm0 57zm1 24zm1-78zm1 121zm0-5zm1-21zm0-72zm1 15zm0-28zm1 22zm1-8zm2-8zm0-18zm0-19zm1 111zm0 17zm0-92zm1-37zm0 161zm0-125zm1 56zm1-74zm1 27zm1-15zm0-21zm0 82zm0-77zm1 63zm0-55zm2 68zm0 5zm0-27zm1 25zm1-87zm1-16zm0 31zm0 28zm0-50zm2 27zm0 49zm2-34zm2-3zm2-22zm0 6zm1 10zm3 42zm0-29zm3 31zm0-52zm0-4zm0-14zm1 53zm0-103zm1 65zm1-25zm0-5zm0 82zm1-21zm1-42zm0 52zm0-69zm1 61zm0 7zm1 1zm1-14zm2-13zm0-29zm2 7zm0-3zm1 31zm0 39zm2-84zm0 82zm1-62zm0 7zm1-29zm1 64zm1-14zm1-69zm0 54zm1 7zm0 14zm1-75zm5 61zm0-21zm1 26zm0-98zm0 118zm2 0zm0-122zm0-26zm0 124zm2-5zm1 4zm0-165zm0 171zm2-68zm2-36zm2 47zm1-18zm1 40zm1 81zm7-237zm1 192zm1-15zm0-8zm0-16zm2-6zm1-107zm0 133zm2 59zm1-38zm0-12zm1 19zm2-32zm0-67zm1 63zm0-67zm0-35zm1-55zm2 43zm2 99zm0 42zm0-89zm0 73zm0-91zm4 10zm0 72zm1-41zm0 16zm1 10zm1-8zm1-34zm1-5zm0 29zm2-123zm1 60zm0 73zm1-80zm1-29zm1 93zm1-100zm2 102zm2 24zm2-94zm1 21zm0 44zm2 45zm0-13zm3-63zm1 8zm3-24zm3-20zm1 34zm0-98zm4 10zm5 56zm1 55zm0 55zm1-146zm1 157zm2-100zm1-32zm1 57zm0-49zm1-84zm1 55zm0 7zm0 45zm2-89zm0 12zm4 13zm0 78zm2-28zm1 99zm2-129zm0 73zm2 14zm1-45zm1-35zm0-2zm4-19zm1-37zm1 27zm1 132zm0-159zm1 30zm0 23zm1 19zm0 54zm3-74zm0-29zm0 31zm1-40zm6 10zm2-29zm0 28zm1 118zm3-184zm1 140zm0-81zm0 14zm3 27zm0-85zm1 37zm0 30zm1-8zm0 39zm0-56zm0 105zm0-195zm1 163zm0-116zm1 128zm0 40zm2-84zm0-104zm0 107zm1 54zm0-148zm1 29zm4-30zm0 79zm0-87zm1 125zm0-78zm1-35zm0 20zm1 101zm1 15zm1-98zm2-20zm1 5zm1 7zm1 36zm0 59zm1-31zm0 37zm1-94zm2-16zm0 18zm3-57zm1 108zm2-105zm0 67zm3 132zm2-169zm1-14zm1 30zm0 14zm1 74zm0-167zm1 55zm1 0zm1-3zm1-6zm4 84zm1-212zm0 152zm3-16zm0-19zm2-1zm5 32zm2-74zm1 53zm2 72zm0-13zm2-99zm2 81zm2 40zm1-161zm2 134zm1-25zm1-77zm1-117zm1 158zm2-48zm10 71zm6 11zm1 24zm3-32zm0-90zm2 79zm1-31zm4-74zm0 132zm3 56zm1-62zm1-20zm4-22zm11-98zm1 47zm0 92zm1-61zm0 1zm0-14zm9-40zm5 35zm3 75zm1-6zm7-211zm2 126zm3 11zm4-67zm12 145zm5-168zm21 36zm8 3zm1-3zm3 93zm1-30zm1-56zm14-11zm0-22zm2 37zm10-46zm18-16zm17 28zm2-45zm5-35zm13 78zm17-103zm5 86zm5-61zm24 46zm43-117z"/>
<path stroke="#00009f" d="M296 1465zm0 13zm12-23zm45-40zm4-14zm1 18zm3-14zm4-5zm14-16zm1 3zm5-2zm18-10zm14-5zm9-17zm10-16zm11-11zm2 6zm12 22zm19-34zm2-37zm7 38zm25-36zm4 27zm9-5zm1-35zm5-10zm0 20zm0-2zm9 12zm3-37zm9-21zm7 1zm1-9zm9 26zm3 29zm13-36zm10 4zm2-7zm1-36zm0 9zm1 23zm19-65zm1 53zm6-54zm19-9zm9-9zm1 51zm3-9zm0-13zm2 17zm2 1zm10-11zm15-46zm5 2zm8-15zm4-26zm1-31zm0 80zm8-1zm3-96zm2 25zm7 91zm24-58zm3 3zm18-91zm0 87zm2-17zm19-50zm9 44zm21-81zm2 33zm1-102zm30 84zm8 42zm31-95zm16-51zm5 3zm13-24zm21-57zm7 22zm18-6zm31 46zm37-232zm14 139zm12 1zm9-7zm12-34zm38 31zm20-90z"/>
<path stroke="#0000af" d="M326 1436zm22-9zm1-26zm4 9zm34-39zm11-4zm20 28zm11-30zm7-3zm28-70zm10 13zm4 37zm9 8zm23-51zm6 0zm1-2zm13-43zm6-24zm5 0zm33 56zm2-51zm20-46zm17 51zm6-39zm5-3zm3-9zm10-6zm3-16zm3-24zm2 75zm0-18zm7-2zm13-38zm1 17zm9-5zm1-62zm16 28zm1-26zm1-25zm13 1zm4 65zm16-77zm25 15zm3-59zm2 10zm3 124zm0-46zm9-92zm10 41zm29-49zm13 43zm6 5zm14-58zm2-19zm6-6zm6-39zm12 34zm0-19zm2 7zm6 90zm1-113zm20-29zm29-17zm13-31zm50 22zm32-36zm79-144zm47 1z"/>
<path stroke="#0000bf" d="M295 1478zm3-6zm23-25zm3 3zm19-34zm9 26zm1-11zm25-25zm4-6zm29-40zm13-43zm41 23zm1-24zm2 30zm1-32zm21-9zm4 15zm15-10zm3 6zm0 13zm13-52zm5-21zm1-4zm6 18zm2-9zm6-29zm4 54zm11-67zm6 56zm6-36zm6-30zm2 46zm8-46zm14 53zm8-25zm2-31zm6-53zm16 60zm2-13zm21-53zm0-14zm10-31zm11 71zm4-7zm1-62zm4 8zm0 40zm2 38zm5-64zm10-6zm6 7zm4-28zm0 55zm10-85zm17-16zm1 71zm5-80zm8 61zm9-41zm2-3zm17-41zm3 76zm4-118zm3 38zm8 67zm7-61zm3-35zm18-18zm14 56zm8-23zm29 21zm18-76zm1 26zm6 83zm10-130zm4-13zm5-13zm2-59zm1 75zm24-73zm0 135zm3 4zm27-61zm3-116zm8 78zm54-112zm1 90zm6-93zm34 30zm38 17zm1-68zm30-189zm31 211zm43-157z"/>
<path stroke="#0000cf" d="M295 1453zm1 19zm3-4zm6-17zm5-6zm5-22zm10 11zm16 3zm0-3zm1-15zm15 5zm4-24zm29 0zm5-14zm5-22zm13 6zm18 16zm11-32zm6-31zm7 42zm11-35zm10 4zm3-48zm14 56zm5-77zm2 54zm11-46zm6 32zm4-45zm11 25zm9 10zm1-4zm6 0zm0 8zm14-79zm1 52zm3-32zm1 4zm2 37zm12-21zm2 20zm3-59zm5 1zm1-10zm0 6zm5-6zm3-32zm2 7zm18 12zm3-14zm10-23zm2 46zm7 17zm2-61zm0-5zm3-30zm8 56zm6-35zm2-32zm3 63zm1-31zm0-18zm8 38zm3 6zm2-58zm13 53zm1 22zm1-41zm0-37zm0-32zm8 36zm3-7zm2 45zm3-5zm8 2zm0 11zm5-32zm2-7zm1-39zm3 39zm12-75zm2 29zm0 53zm2-31zm7 44zm1-74zm3 43zm0-72zm14 24zm20-92zm0 4zm1 71zm2 9zm4-59zm19 16zm3 62zm17-67zm0 19zm5-3zm3 27zm7 28zm8-123zm8 63zm2-103zm11 18zm5 76zm2-81zm3-6zm1 112zm2-74zm7-59zm7 27zm0 111zm15-162zm2 70zm0 9zm0 10zm12-124zm5 84zm42-107zm48 67zm8-103zm23 26zm146-249z"/>
<path stroke="#0000df" d="M300 1467zm49-26zm49-54zm82-57zm45-64zm1 51zm15-48zm6 9zm8-14zm3 15zm5-44zm6 36zm1-12zm9-3zm6-22zm6 4zm4 15zm1-18zm3-43zm2 36zm5-42zm4 25zm1 38zm4-5zm7-59zm4 15zm5 5zm4-27zm0 38zm1 23zm6-95zm9 14zm7 4zm1-18zm1 65zm0-32zm8 6zm3-36zm6-9zm6 8zm0-27zm4 11zm2 50zm4-33zm2 35zm7-22zm1 32zm0-51zm8-32zm0 3zm2-12zm0 47zm6-58zm5-25zm1 35zm1-8zm6-4zm2 12zm5-105zm0 14zm2 103zm26-40zm1-20zm18 28zm3-16zm3 63zm16-127zm1 75zm11-13zm3-70zm4 11zm4 1zm2-47zm14 75zm1-49zm1 11zm5 51zm5-110zm2 32zm6 32zm8-28zm75 1zm32-107zm63-27z"/>
<path stroke="#0000ef" d="M547 1240zm18-54zm10 11zm25 42zm0-7zm2 5zm2 10zm17-49zm2-43zm9 71zm5 2zm2-89zm15 48zm0-58zm3 7zm1 12zm4 4zm4 17zm6-39zm1-12zm3 23zm1 43zm8 1zm2-55zm11 29zm0 6zm0-18zm5 33zm1-94zm2-10zm3 56zm4-54zm3 97zm3-42zm0-26zm8 69zm7-116zm8 17zm1-12zm3 89zm3-80zm3 31zm3-69zm5 87zm4-44zm10-51zm1 65zm1 1zm6-54zm7 41zm6 36zm5-60zm1 35zm1-26zm5-54zm4 19zm5 51zm5-5zm1-5zm7-44zm8-102zm7 58zm1-6zm4 42zm1 6zm6-112zm6 58zm0 28zm1 58zm0-45zm17 65zm2-145zm0 36zm9 44zm17-49zm3-114zm4 75zm6 109zm10-121zm22 43zm23-164zm22 110zm23-74zm13-48zm10 34z"/>
<path stroke="#0000ff" d="M298 1473zm0-4zm2 3zm240-242zm20 17zm6-27zm27-9zm7-10zm2 64zm3-19zm9 6zm7-38zm0-43zm10-20zm2 73zm2-26zm8 17zm5-15zm6-11zm3-58zm1 4zm0 36zm1 10zm8-56zm0 56zm1-24zm7-10zm1-13zm0-3zm1 50zm2-64zm1 50zm1-42zm5-31zm3 13zm3 58zm2-43zm1 37zm0 10zm4 14zm4-43zm1-61zm1 90zm3 1zm7-48zm1-16zm6-1zm4 20zm11-43zm5 6zm1-48zm4 64zm4 49zm4-88zm12 16zm6-5zm17-22zm1 1zm4-33zm0 92zm6-33zm8-73zm6-15zm0 43zm0-36zm3 4zm6 27zm0 76zm3-49zm1 38zm1-51zm1-144zm1 94zm1 27zm2-53zm1 122zm5-58zm4 30zm3-99zm3 10zm5 102zm4-120zm1-30zm7 33zm3-45zm16 129zm6-13zm1-104zm4-47zm9 160zm3-74zm7 50zm6-115zm1 121zm12-9zm0-83zm25-73zm6 19zm43-46zm55-186z"/>
<path stroke="#0010ff" d="M553 1284zm16 3zm13-71zm8 48zm4 5zm21-12zm27-94zm5 67zm6-98zm6 17zm1-21zm5 67zm2-30zm3 3zm7-29zm7 7zm7 22zm8-35zm3 9zm0 16zm1 36zm10-71zm8-8zm5-49zm1 90zm11-72zm6 39zm1-25zm6-60zm4 72zm1-21zm0-58zm6 118zm0-96zm3-33zm8 91zm18 12zm6-35zm1 10zm0-33zm4 18zm6-169zm1 94zm3 21zm0 67zm0-106zm5 101zm7-97zm5 95zm1 1zm8-103zm0 100zm6-72zm7-27zm1 109zm3-71zm3 46zm2-35zm3-34zm4 57zm11-12zm1-51zm5-18zm1 79zm5-7zm1-87zm6-2zm10-97zm14 80zm0 81zm6-14zm1-155zm16 102zm0-1zm4-54zm5-79zm3 57zm9-1zm10-96zm8 100zm7 14zm12-86zm4 24zm52-101zm37 80z"/>
<path stroke="#0020ff" d="M568 1235zm45-37zm0 19zm5-21zm18-32zm8 69zm2-57zm5-38zm10 15zm6 45zm8 2zm8-63zm4 51zm0-70zm3-1zm5 28zm10-2zm3-19zm8 30zm0 10zm2-68zm2 43zm8-79zm3 31zm3 11zm0 45zm2-21zm1 33zm0-58zm1-27zm6 70zm3-60zm1-38zm8-14zm2 121zm7-120zm0 99zm1-40zm1-73zm4 47zm3 52zm6-163zm5 99zm3-8zm2 57zm1 29zm1-11zm3 11zm6-126zm2 110zm5-28zm2 11zm2-29zm2-106zm0 107zm4-30zm4-53zm1 110zm4-37zm0-67zm6 70zm2-68zm0 24zm10-61zm3 73zm2 25zm0 4zm3 28zm1-97zm2 8zm6 57zm1-94zm1 52zm3-48zm1 67zm3-33zm0-80zm8 136zm0-155zm2 60zm5-60zm7 86zm1-65zm1 124zm0-109zm5 11zm2 79zm2-4zm1-66zm3 72zm7-58zm4 56zm2-73zm2-3zm0 80zm6-127zm2 105zm7-90zm1-65zm1 150zm2-64zm1-25zm5-37zm3 23zm5 54zm16-57zm21-63zm18-100zm1 99zm2 7zm14-94zm10 155zm21-43zm1-126zm7 108zm0-64z"/>
<path stroke="#0030ff" d="M569 1241zm22-37zm33 36zm4 7zm0-55zm7 39zm9-99zm4 98zm1-67zm3 23zm2-23zm2 47zm1-2zm6-17zm0 13zm5 0zm2-100zm1 14zm9 70zm9 7zm1 0zm4-43zm3-70zm3 105zm2-67zm3 59zm7-76zm3 33zm3-47zm1 89zm1-31zm2-39zm6-4zm0 32zm14-98zm2 104zm6-75zm0 12zm10-24zm0 11zm4 62zm0 14zm4-66zm5 37zm0 14zm3-42zm3 5zm5-39zm1 25zm4 25zm4-43zm4-14zm4 5zm2 41zm1-83zm10 32zm11-7zm1 71zm2-184zm11-42zm0 166zm14 32zm2-57zm0 8zm1 46zm2-241zm5 227zm2-12zm1-78zm0 76zm2-15zm1 33zm4-17zm2-3zm3-87zm3 8zm0 24zm5 62zm1-175zm7 171zm6-21zm13-57zm5-90zm1 148zm2-218zm6 213zm6-121zm2 11zm2 104zm2-163zm7 43zm5-30zm0-41zm3 88zm0 64zm5-34zm1-28zm0-81zm2 32zm4-8zm2 17zm7 37zm0-5zm14-62zm4 95zm11-174zm2 75zm9 46zm5-100zm20 2zm15 83zm1-38zm40-97z"/>
<path stroke="#0040ff" d="M300 1466zm1 3zm291-231zm25-66zm8 34zm9-48zm22 53zm6-3zm0-54zm8-42zm6 99zm13-60zm6-53zm2 5zm4 75zm2-33zm1-6zm1-52zm2-5zm6 69zm5-43zm7 17zm9-77zm1 95zm3 0zm0-88zm4 62zm0-30zm0 49zm1-71zm3-31zm3 121zm9-96zm6 9zm4-29zm4 67zm10-49zm1 54zm5-94zm0 21zm4-50zm1 49zm0 99zm0-86zm3 54zm1 8zm2-103zm0 40zm8 52zm3 22zm1-110zm0 72zm4-22zm5-89zm5 70zm0 51zm1-117zm6 95zm9 8zm3-38zm2-117zm4 85zm7-64zm5 115zm2-17zm6-11zm4 29zm6-22zm1-25zm1-126zm3 96zm2 64zm9-16zm2-102zm0 94zm4-84zm0-9zm1 105zm2-134zm6-35zm1 62zm0 11zm6-7zm1-40zm2-51zm2 128zm4-27zm2-15zm0-74zm3 63zm2 90zm1-106zm2-20zm2-38zm4 159zm2-144zm2-7zm11-7zm3-6zm0 5zm8 88zm2-146zm5 110zm7-135zm2 139zm1 1zm4-128zm1 33zm2-11zm9 0zm12 62zm6-158zm11 88zm10-10zm35-28zm4 100zm35-168z"/>
<path stroke="#0050ff" d="M568 1279zm55-124zm28 57zm18-69zm9 22zm3-12zm7 8zm22-19zm0 8zm2-4zm2 33zm16-74zm3 65zm7-80zm2 42zm1-78zm1 89zm8-36zm1-8zm2 57zm7-35zm1-52zm11 48zm1 5zm2-5zm5-61zm1-50zm7 91zm14-33zm2-109zm2 86zm0 55zm5-66zm6 30zm0-4zm2-14zm0 49zm0 5zm1-105zm0-14zm2 68zm4 46zm3-111zm5-9zm4 47zm0-17zm10 71zm8-81zm1-9zm6 88zm3-39zm2-26zm5 58zm6-132zm2-26zm2 25zm9-13zm5 72zm5-92zm4 54zm2-84zm0 117zm4-49zm0 56zm1-53zm2-21zm1 9zm1 54zm1-13zm1-103zm6-8zm5 44zm0 43zm1 63zm4 0zm1-65zm7 54zm1-34zm1-39zm18-127zm2 146zm2-115zm4 13zm3 88zm3-114zm5 37zm1 91zm1-49zm12-72zm5-76zm0 74zm0 106zm4-214zm1 137zm6-21zm3 29zm4-119zm3 38zm4 35zm7-97zm9 14zm2 37zm8 135zm3-118zm47-9zm4-43zm9 31zm25-96zm59 7z"/>
<path stroke="#0060ff" d="M597 1266zm36-55zm39-41zm27 3zm31-105zm6 65zm18-54zm8-12zm3 32zm4 49zm28-17zm9-120zm12 75zm13-86zm3 84zm6-81zm15-17zm3 15zm3-16zm7-46zm2 114zm2-158zm2 120zm8-125zm1 159zm7-96zm1-31zm1 84zm2 22zm8-1zm2-144zm5 153zm0-15zm0-124zm7 55zm7 73zm0-154zm8 134zm11-62zm4-81zm3 27zm0 69zm1-70zm2 10zm7-81zm4 22zm2-9zm1 78zm8-51zm5-92zm2 173zm0-5zm0-33zm1-57zm1-34zm1-21zm15-36zm2 98zm4-17zm9-21zm6 52zm2-23zm14-97zm0 45zm1 65zm7 6zm8-180zm2 43zm1 100zm33-99zm3 81zm52-231z"/>
<path stroke="#0070ff" d="M301 1465zm356-283zm71-60zm40-51zm11 36zm4-10zm29-42zm8 18zm4-43zm3-7zm0-117zm4 96zm2 37zm7-8zm3-10zm3-87zm16 2zm2 58zm8-93zm4 57zm3-25zm10 19zm8 37zm5-40zm7-28zm1-19zm10 111zm10 2zm2-79zm5 56zm2-87zm0 5zm0 6zm0 20zm6 50zm1-113zm2 0zm2 21zm2-46zm1-12zm5 151zm1-69zm1-26zm1-12zm2-101zm2 119zm1-67zm4 66zm2 13zm7-40zm2 4zm3-19zm9 30zm1 50zm4-42zm2-16zm6 1zm14-154zm7 39zm3 93zm2-59zm3-47zm4-7zm3 137zm3 61zm2-134zm8-49zm4-34zm17 6zm0 29zm13 39zm1-6zm20-193zm2-27zm6 95zm18-70zm5 165zm26-84zm0 63zm70-234z"/>
<path stroke="#0080ff" d="M662 1141zm93-60zm4 14zm11 61zm12-63zm23-65zm8-3zm0 25zm6 17zm11-67zm0-34zm7 78zm6-68zm19 32zm3 41zm2-25zm3-84zm2 40zm11 56zm14-85zm13-113zm6 95zm4 79zm5-69zm2-44zm10-63zm14 32zm7 64zm2-46zm2 114zm3-134zm4-18zm8 29zm1-31zm5 28zm8-52zm2 50zm5-57zm2 113zm5-159zm3 148zm6-135zm0 2zm0-10zm3 71zm2-70zm2 67zm2-15zm12-72zm16 51zm6 36zm1-59zm3-15zm1-38zm3-25zm2 71zm1-92zm2 90zm0-52zm5 41zm12 47zm11-97zm32-30zm2 69zm10-182zm0 75zm6-22zm3-10zm1-9zm1 93zm6-135zm4 131z"/>
<path stroke="#008fff" d="M778 1093zm11-58zm10 11zm21 12zm4 9zm23-100zm9-58zm38 73zm1-30zm3 24zm4 39zm17-8zm7-91zm1 102zm10-103zm12-39zm6-70zm5 61zm6-17zm4 115zm0 22zm2-117zm3 60zm3 6zm11-48zm5 7zm1 10zm2-27zm9-70zm11-52zm1 90zm3 70zm1-79zm1-27zm4 55zm3-110zm0 72zm2 40zm1-71zm1 60zm2-119zm1 35zm5-1zm1-56zm0 78zm3-54zm1 62zm10 9zm7-25zm4-61zm7 12zm3-39zm2 86zm13-101zm19 86zm6-56zm6 74zm33-141zm58-196zm24 89zm19 44z"/>
<path stroke="#009fff" d="M304 1460zm2 6zm504-322zm38-161zm41-68zm8-8zm4 2zm9-37zm7 137zm4-91zm2-51zm1 64zm10 29zm5-24zm18-138zm7 19zm5 184zm1-2zm8-118zm4-22zm6-157zm6 153zm2 23zm5-6zm5-199zm7 107zm4 80zm4-130zm7 153zm0-35zm1-84zm5 133zm1-91zm4-110zm14 123zm2 9zm1-93zm0 77zm8-41zm5-43zm4 92zm3-108zm4 7zm6 35zm2-6zm8-98zm0 189zm9-162zm4 77zm4-12zm2 45zm4-123zm11 94zm24-102zm3-17zm7-1zm6-21zm50 24zm55-125z"/>
<path stroke="#00afff" d="M754 1086zm96-24zm6-49zm21 3zm21-16zm14-49zm23-62zm11 44zm2-28zm12-29zm13-47zm6 43zm2-32zm1-58zm9 121zm11-55zm1-35zm0-31zm1 81zm4-26zm5-70zm19 96zm2-26zm1-17zm9 52zm1-46zm12-14zm11-36zm8 71zm1-156zm1 47zm11 76zm11-58zm0-43zm2-42zm0-14zm2 114zm3-114zm5 4zm7 75zm2 59zm20-80zm9-23zm0-71zm4-14zm0 92zm3-97zm16 58zm6 77zm24-91zm17-89z"/>
<path stroke="#00bfff" d="M822 1071zm7-91zm40-26zm53 12zm17 19zm24-149zm5-5zm21 164zm15-173zm1 89zm1-21zm3 1zm11-84zm2-15zm4 97zm13-45zm7-51zm10-125zm1 76zm4-62zm9 89zm8-86zm2 60zm3 84zm3 26zm5-82zm1-106zm3 168zm3-98zm9 31zm1-55zm2 114zm1-127zm2-8zm0 67zm14-211zm17 273zm10-203zm13 100zm9-129zm2 32zm0-5zm0 66zm53-11zm37-88z"/>
<path stroke="#00cfff" d="M306 1464zm675-570zm2-20zm11 39zm1-61zm20 6zm3 31zm0 3zm1 27zm0-303zm1 232zm19-18zm2-114zm5 154zm1-13zm1-125zm1 78zm0-69zm6 29zm7 38zm17 2zm5-52zm2-67zm2 117zm1-63zm1-31zm27 47zm0-48zm5-34zm6 15zm1-23zm3-56zm2 56zm10 113zm1-164zm1 73zm7-51zm11 71zm0-37zm6-35zm6 17zm10 48zm19-118zm14 58zm49-153z"/>
<path stroke="#00dfff" d="M308 1468zm566-541zm19-32zm43-14zm15 66zm10-3zm18-66zm45-51zm5 17zm4 54zm9-34zm0-84zm10-78zm41 27zm3 52zm3-72zm2-16zm13-124zm29 97zm14 64zm2-35zm3-81zm6 38zm6-53zm6 114zm10-88zm1 5zm0-51zm24-37zm7 146zm2-81zm38-61zm16-50z"/>
<path stroke="#00efff" d="M306 1461zm597-508zm87 15zm32-129zm0-82zm12 62zm24-71zm10 3zm9 22zm26-44zm9-74zm6 153zm8-107zm5 122zm2-77zm7-85zm15 5zm6 43zm8-63zm6-126zm13-4zm3 159zm11-66zm95-119zm6 23z"/>
<path stroke="#00ffff" d="M1002 813zm27-74zm32 45zm23 18zm1-61zm7 18zm0-94zm26 37zm7 32zm1-5zm1-119zm3 8zm29 32zm0-101zm7 49zm14 80zm23-145zm1 47zm0 79zm4-46zm5 81zm6-144zm19 10zm35-76zm1 19z"/>
<path stroke="#10ffef" d="M984 915zm72-60zm22-119zm1-91zm4 113zm7-106zm8 133zm27-101zm5-76zm19 8zm2 148zm22-21zm12-134zm25 80zm7-176zm1 96zm3-146zm6 74zm2 138zm20-184zm3 186zm3-114zm4-4zm49-185zm38 168z"/>
<path stroke="#20ffdf" d="M1078 590zm3 121zm40-24zm9 90zm36-204zm18 138zm7 79zm0-280zm0 91zm16 15zm8-45zm3 96zm12-35zm33-59zm55 41zm39-234z"/>
<path stroke="#30ffcf" d="M1038 852zm77-220zm32-27zm10 19zm45-40zm16 69zm28-35zm13-24zm34-214zm63 99zm64 85z"/>
<path stroke="#40ffbf" d="M1126 797zm5-124zm1-21zm19 86zm4-109zm29 3zm10 80zm15-143zm20-95zm9 133zm14-89zm7 37zm1 29zm6 96zm3-194zm3 90zm18-73zm56 49z"/>
<path stroke="#50ffaf" d="M310 1451zm2 3zm0 0zm785-779zm50-2zm48-54zm0 85zm9-170zm7 0zm24-2zm1 24zm5-4zm6-30zm50 12zm10-99zm3 74zm30-9zm40-110z"/>
<path stroke="#60ff9f" d="M315 1454zm777-792zm27 178zm37-221zm4 69zm24-50zm41-15zm10-31zm9 18zm8-24zm4-7zm4-95zm6 157zm12-87zm13 45zm14-75zm56-25zm30 17zm32 65z"/>
<path stroke="#70ff8f" d="M1018 848zm179-101zm0-116zm42-111zm6 108zm35-192zm36 151zm4-20zm16-188zm95 2z"/>
<path stroke="#80ff80" d="M1161 589zm69-11zm49 32zm2-69zm3-46zm16 28zm4 60zm8-123zm7 39z"/>
<path stroke="#8fff70" d="M1170 703zm25-123zm3-48zm3 148zm41-125zm13 82zm5 17zm11-100zm3-65zm6 198zm8-48zm50-74zm24-261z"/>
<path stroke="#9fff60" d="M1286 742zm20-229z"/>
<path stroke="#afff50" d="M315 1459zm1 0zm934-803zm61-95zm5 73zm30-114zm12 9z"/>
<path stroke="#bfff40" d="M316 1456zm961-948z"/>
<path stroke="#cfff30" d="M1154 710zm139-169zm85-26zm12 16z"/>
<path stroke="#dfff20" d="M317 1440zm879-865z"/>
<path stroke="#efff10" d="M318 1444zm1061-983zm11 75zm13-127z"/>
<path stroke="#ffff00" d="M318 1451zm1073-1034z"/>
<path stroke="#ffef00" d="M317 1449zm1021-907zm74-129z"/>
<path stroke="#ffdf00" d="M1467 317zm2 110z"/>
<path stroke="#ffcf00" d="M321 1444zm968-942zm112 31zm68-193z"/>
<path stroke="#ffbf00" d="M319 1451zm1122-1135z"/>
<path stroke="#ffaf00" d="M320 1448zm1260-1152z"/>
<path stroke="#ff9f00" d="M320 1450zm0 4zm1174-1146z"/>
<path stroke="#ff8f00" d="M321 1442zm1091-1099z"/>
<path stroke="#ff8000" d="M1428 447z"/>
<path stroke="#ff6000" d="M1515 296z"/>
<path stroke="#ff5000" d="M1569 306z"/>
<path stroke="#ff4000" d="M1497 335z"/>
<path stroke="#ff0000" d="M1509 245z"/>
<path stroke="#ef0000" d="M1612 139z"/>
<path stroke="#00008f" d="M295 1474zm0-24zm1 29zm1-11zm0 2zm1-18zm2-13zm1-1zm0 9zm4-10zm2 4zm1 2zm2 21zm0-37zm0 14zm1-15zm1 35zm0 2zm0 5zm1-39zm0 13zm2 3zm1-3zm1-2zm0 7zm1 7zm1-24zm2 29zm1-22zm0 23zm0-23zm1-9zm1 0zm3 9zm0-18zm1 3zm3 10zm0-18zm0 33zm1-26zm1 12zm0 12zm1-30zm1 10zm2 3zm0 12zm2-21zm2 17zm0-8zm1-12zm0 15zm1 12zm2-9zm0-18zm0-8zm1-2zm3-10zm0 20zm1 12zm2-11zm1-14zm0 38zm0-42zm1 30zm1-8zm0 18zm1-5zm0-46zm0 51zm0-5zm0-2zm2 1zm0-34zm0 25zm1-32zm1 31zm0-16zm0-12zm1-5zm0 14zm2-15zm1 8zm0 37zm1-12zm0 10zm0-11zm1 5zm0 0zm0-11zm1 14zm1-47zm0 13zm1-11zm2 0zm1 32zm0-1zm1-17zm0 23zm3-49zm0 39zm0 12zm1-27zm1-12zm0-3zm1 29zm0-2zm0-23zm1-11zm1 45zm1-28zm2 11zm1-23zm0-15zm0 33zm0 5zm0-2zm1-3zm1 7zm2 0zm1-39zm1-4zm1 6zm0-8zm0 48zm0-34zm2 15zm1 22zm0-50zm1 51zm0-11zm1-47zm0 2zm0 3zm1 27zm2-34zm0 48zm2-5zm0-44zm0 7zm2 28zm1-12zm0 18zm0 4zm1-42zm1 17zm1-1zm1 19zm1-40zm0 18zm1 30zm0 1zm0-22zm1-1zm2 14zm1-22zm0 8zm1 4zm0-38zm0-2zm1 39zm0 14zm1-28zm1-20zm1-6zm0 2zm1 24zm0-14zm1 3zm0 23zm0-7zm1 70zm0-55zm0-25zm1 23zm2-28zm0 2zm1-57zm1 38zm0 12zm2 32zm1-27zm1-15zm1 17zm1 92zm0-114zm0 10zm0 128zm3-126zm0 27zm1-10zm0 13zm1-53zm1 42zm3-23zm0 33zm0-24zm1-36zm0 6zm0 40zm0-22zm1 14zm1 4zm1-33zm0 30zm0-3zm1-7zm0-41zm0 42zm1-6zm0 0zm3-28zm0 17zm0-5zm0-1zm1 22zm0 3zm0 2zm0 15zm0-48zm2-12zm0 47zm1-1zm1-22zm1-5zm0-13zm1 41zm1-8zm0 8zm0-28zm1 2zm0 24zm0 2zm1-30zm0 28zm0 59zm2-78zm1-35zm2 66zm0-11zm0-13zm0-15zm0-6zm1 47zm0-8zm1-54zm1 35zm0 19zm1-41zm0 17zm2-14zm0 35zm0-44zm0 20zm0 33zm1-44zm1-18zm1 53zm0-44zm0 19zm0-37zm2 36zm1-32zm0 29zm0 11zm1 4zm0-48zm1-7zm0 3zm0 4zm2 4zm0 16zm0 15zm0-9zm1 23zm0-43zm0 50zm1-35zm2-18zm0 20zm1-22zm0 23zm0 34zm0-39zm0 30zm1-2zm0 12zm0-8zm1-41zm0-13zm1 22zm0-6zm0 31zm1-4zm0-29zm1-40zm0 160zm0-96zm1-32zm0 14zm1 4zm0 11zm1 3zm0-46zm1-2zm1 49zm1-5zm0-47zm1 0zm0-7zm0 8zm0 37zm1 17zm1-36zm0-19zm1 62zm1-42zm1-13zm0 2zm2 16zm0 13zm1-33zm1 31zm0 12zm2-50zm1-4zm0 9zm0 35zm0-8zm0 0zm1-26zm0-24zm0 71zm0-11zm1-27zm1 14zm0 28zm0-34zm1-8zm0-49zm0 37zm3-18zm0 19zm0 2zm1 42zm0-34zm0-34zm1 45zm0 24zm0-55zm0 6zm0-12zm0 51zm1-39zm1 47zm0-55zm0 35zm1-22zm0 3zm0 0zm0-41zm1 32zm1 41zm3-27zm1 17zm0-20zm0-24zm1 37zm1 20zm0-15zm1-14zm0 0zm1 9zm0-36zm1 14zm1-29zm0 54zm0-34zm1-23zm0-10zm0 36zm1 23zm0-3zm1 11zm2-10zm0-20zm0-21zm0 22zm0 12zm0-31zm3-13zm0 14zm1-1zm1 18zm0 21zm1-29zm0 20zm0-2zm0-57zm1 17zm0 42zm0-28zm0 7zm0-31zm1 31zm0 42zm1-39zm1-29zm0 41zm0-24zm1 5zm0-36zm1 22zm0 38zm0-26zm0-23zm0 44zm1-4zm0-36zm2 18zm0 24zm0-9zm0 33zm2-64zm1 46zm0-41zm0 30zm0-51zm1 52zm0 8zm2-57zm1 42zm0 30zm1-23zm0-33zm0 6zm0-36zm1 68zm0-6zm0-21zm0 14zm0-43zm1 17zm0-18zm1 18zm0 40zm0-16zm0-43zm1-12zm0 3zm0 49zm1-21zm0 1zm0 36zm1-42zm1 53zm0-44zm0 30zm1-7zm0 7zm0 0zm0-58zm1 64zm1-1zm0-19zm0 0zm0-47zm1 28zm0 5zm0-22zm1 59zm0-69zm1 59zm1-20zm1-49zm1 35zm0 33zm1-38zm0-35zm1 51zm0-39zm0 27zm1-30zm1 4zm0 30zm1-63zm0 40zm0-34zm0 67zm1-28zm1-4zm0 11zm1 4zm0-3zm0 2zm1-8zm0-6zm1-9zm1 21zm0 13zm1-31zm1-9zm0 51zm1-39zm1 15zm0 18zm0-34zm2-14zm0-22zm0 18zm1 39zm0 25zm1-29zm1-133zm0 85zm0 5zm1-12zm0-3zm0 28zm0-9zm1 60zm0-42zm0 7zm0 29zm0-51zm2 40zm1-74zm0 100zm1-30zm1 2zm1-25zm1-17zm0 10zm2-19zm0 49zm0-30zm1-6zm0-10zm1 15zm0 35zm0-70zm3 73zm1-22zm0 0zm1 9zm2-13zm0 14zm2 3zm1-61zm0 4zm0 40zm0-35zm1 27zm0 22zm1-51zm3-14zm1 34zm0-76zm1 78zm0 12zm1-55zm2 21zm0 7zm0-16zm1-21zm1 47zm0-23zm0-27zm1 7zm0 56zm0-52zm1 86zm3-47zm1-24zm1 26zm1 20zm0-25zm1 13zm0-58zm1 60zm0-18zm1-20zm0 26zm0-26zm0 35zm2 7zm0-78zm1 102zm0-38zm0-51zm2 50zm0-37zm1-33zm2 65zm0-49zm0-23zm1 63zm0-51zm1 98zm0-65zm0 8zm1-23zm0 67zm0-41zm2 18zm1-74zm0 84zm1-50zm0 5zm0-10zm2 9zm0 31zm1-23zm1 11zm0 4zm1-9zm0 34zm0-88zm0 80zm2-89zm1 69zm1-47zm0 10zm1-6zm3 50zm0-9zm2-75zm1 15zm1 50zm2 1zm2-63zm2 11zm1 68zm1-35zm1 33zm0-85zm1 104zm1-69zm2 47zm0-27zm1 22zm1-53zm1 3zm2-19zm0-7zm0 52zm1 12zm1-45zm0-23zm2-1zm1 59zm0-29zm2 15zm0-17zm1 33zm0 13zm2 14zm1-55zm0-16zm1 53zm0-62zm1 63zm1-80zm1 71zm1-84zm2 95zm0-42zm0-39zm0 47zm1 10zm0-2zm2-19zm1 4zm4-66zm2-9zm0 90zm1-74zm0 67zm1-8zm2-46zm2 27zm0-17zm1 57zm0-23zm0-33zm2-17zm1 51zm0 10zm1 25zm0-72zm1 13zm1 24zm0 19zm0-18zm1-99zm0 99zm0-20zm1-35zm1 44zm0 10zm1-67zm0-37zm2 84zm0 27zm1 27zm0-3zm1-52zm1 6zm1 0zm0-39zm1-17zm0 27zm0 37zm0-57zm0-8zm3 36zm1 40zm2-95zm0 72zm0-13zm1-36zm0 78zm0-8zm1-146zm1 180zm0-46zm1-53zm2 3zm1 35zm1 45zm1-130zm1 60zm1 26zm1-98zm0 16zm0 115zm0-30zm1-88zm2 36zm1-29zm0 46zm2-53zm1-60zm1 75zm2 114zm0-32zm0-2zm1-66zm2 65zm2-4zm0-46zm1-20zm0 18zm1 83zm0-109zm1 29zm0 10zm0 7zm0-61zm0 102zm1-13zm1-52zm0 23zm6 24zm0-50zm2 24zm0-84zm1 43zm0-10zm1 35zm0 89zm1-154zm1 60zm0-34zm1 16zm0 61zm1-62zm0 47zm2-15zm2-93zm0 123zm1-39zm1 58zm1-126zm0 49zm5 28zm1 53zm3-95zm1 48zm0-2zm1-46zm0-9zm3 18zm0 63zm1-103zm3 122zm0-109zm0-11zm1 16zm1 72zm1-3zm2-88zm0 78zm3-39zm0-22zm0-61zm0 84zm1-48zm1 2zm1 31zm0-10zm1-38zm1-30zm2 131zm1-86zm0 60zm1 16zm0-73zm0-53zm6 57zm0 5zm0-23zm1-13zm1 26zm1-78zm5 144zm0-5zm4-84zm0-22zm1 40zm1-20zm1 15zm0 54zm0-30zm0 75zm1-49zm1-122zm1 60zm0 18zm1-11zm0 100zm2-123zm2 19zm1-56zm0-10zm1 110zm1-180zm0 124zm5-78zm3 34zm2 165zm3-144zm1 71zm0-221zm1 226zm1-20zm0 22zm2-24zm1 31zm0-157zm1 76zm1 56zm2-67zm2 2zm0 37zm1 32zm0 34zm0-83zm0 85zm4-109zm0-21zm1 114zm2-90zm2-16zm0 54zm1-32zm5 63zm0-118zm3 24zm1-49zm0 57zm2 88zm0 24zm1-79zm3-45zm0-53zm3 142zm1-83zm0-6zm1 125zm0-161zm1 26zm1-15zm1 5zm1-25zm0-11zm0 62zm1-35zm1 81zm3-75zm2-27zm1-6zm1-34zm0 65zm0-49zm2 152zm1-14zm0-156zm0 129zm1 63zm2-239zm2 153zm0-175zm1 144zm0 5zm1-182zm2 195zm2 35zm1 21zm0-58zm1-72zm1 2zm0-19zm3 10zm3 27zm1-96zm1 134zm0-76zm4-7zm2-5zm0 48zm1-56zm1 54zm0 21zm2 48zm1-59zm0-20zm0 86zm2-90zm2 88zm0-164zm4 141zm0-125zm2 96zm2-9zm0 65zm0-80zm1-7zm3 17zm4-65zm0 56zm0 75zm3 3zm0 26zm1-49zm0-85zm2 62zm4-16zm1-14zm4-30zm0-116zm1 151zm1 12zm2 51zm1-107zm1 11zm0-71zm0 73zm1-18zm2 23zm0-58zm0-16zm2 8zm1 174zm0-114zm0 5zm2-48zm1 21zm8-15zm1-101zm1 79zm4 96zm0-89zm3 11zm1-35zm2 36zm8-25zm0 96zm7 65zm2-150zm1 43zm1-17zm1 63zm1-47zm3 26zm2 11zm2-37zm11-36zm5-94zm1 87zm1-77zm0 105zm3-68zm6 113zm5-84zm3 23zm0-29zm3 15zm14 61zm4-95zm1-23zm3-13zm0 38zm3 20zm3 8zm6-76zm9 37zm1 37zm0-47zm15 103zm4-133zm3 42zm1 0zm0-3zm2 32zm0-74zm8 95zm3-104zm1 62zm11-52zm2 5zm16-19zm2 24zm1-6zm13-127zm11 57zm3 44zm6-33zm1-33zm15 21zm14-74zm4 26zm2 70zm9-93zm1-79zm2 98zm22 6zm87-58z"/>
<path stroke="#00009f" d="M331 1457zm15-53zm47 3zm5-17zm13-23zm24-19zm0-21zm21-10zm6 29zm11-10zm3-12zm11-32zm33-43zm6 22zm2 36zm0-18zm5 22zm11-37zm9 13zm1-50zm0 35zm4 2zm7-6zm6-28zm7-57zm1 79zm6-49zm6-19zm7 58zm4-46zm12-8zm4 31zm0-62zm7 32zm5-134zm8 76zm18 6zm0 17zm1 14zm3-47zm8 66zm14-27zm1-22zm2-16zm2 22zm3-12zm1-34zm2 18zm8-7zm1 10zm6-27zm7-2zm12-16zm2 28zm11-55zm2 63zm15-27zm1-42zm7-31zm33-53zm4 107zm30-83zm2 44zm19-10zm2 32zm4-73zm9-42zm19 31zm13 55zm17-43zm39-165zm14 127zm2-126zm9 2zm11 114zm60-158zm37-87zm14 172zm4-62z"/>
<path stroke="#0000af" d="M296 1469zm6-3zm20-32zm4 0zm6 3zm10-18zm42-39zm28-19zm8 15zm64-48zm4-56zm4 6zm8 2zm10 52zm3-62zm8 8zm3-6zm13-36zm2 50zm14-31zm1 10zm9 13zm12-60zm7 46zm4-41zm2-17zm5 26zm9-49zm2 43zm11-64zm7 9zm10-12zm2 12zm5 54zm7-74zm0 63zm7-18zm1 1zm40-48zm8 17zm49-70zm1-31zm10-5zm3 86zm14-118zm6 93zm9-106zm5 15zm13-27zm15 31zm15-80zm21 16zm15-74zm0 59zm12-15zm5-21zm31 85zm15 0zm34-66zm16-177zm28 97zm3-32zm7-25zm12 13zm27 49zm128-334zm65 95z"/>
<path stroke="#0000bf" d="M297 1468zm9-7zm17-12zm3-28zm18 19zm13-11zm7-28zm45-40zm8 15zm2 13zm1-7zm1-30zm7-6zm26 11zm0-38zm22 37zm1-29zm7-16zm3-17zm3 46zm4-52zm5 23zm6 0zm12-7zm17-11zm1 20zm5-84zm2 14zm12 36zm6-24zm1 0zm0-9zm4-7zm8 7zm5-22zm3 7zm7-22zm0 61zm10-49zm0 1zm4-43zm6 41zm4-25zm3-13zm8-1zm1 21zm3-18zm4 24zm5-73zm9 75zm16-83zm3-11zm12 33zm14 0zm7 18zm4-4zm3-85zm2 22zm3-71zm3 96zm12 15zm11-106zm5 31zm12-32zm11 66zm1-6zm1-22zm4 30zm1-21zm2-11zm15-79zm15-104zm11 120zm2 42zm12-6zm0-68zm11 89zm13-88zm13 65zm20-122zm2 30zm10 46zm9-82zm14-14zm1 130zm1-18zm15-97zm43 16zm16-223zm1 193zm12 23zm4-88zm30-51zm20-51zm12 73zm34-55zm76-89zm12 17z"/>
<path stroke="#0000cf" d="M298 1474zm19-28zm19-31zm6 3zm20 14zm18-33zm8-27zm27-5zm0-1zm20 14zm4-7zm4-41zm5 14zm3 11zm15-18zm1-15zm6-18zm8 48zm4-65zm5 10zm23 7zm9 17zm0-11zm1-50zm14 26zm0-52zm6 18zm22 14zm7 4zm9 0zm2-3zm5-35zm8-16zm1 12zm5-24zm0 14zm3 7zm3-5zm0 4zm1 31zm9-52zm3 27zm2-19zm1-61zm0 57zm5-5zm0 28zm1-83zm11 53zm0-11zm4 37zm9-28zm2-8zm0 36zm2-54zm0-29zm4-15zm3 86zm4-69zm3 43zm3-83zm0 19zm5 27zm0 4zm3-30zm5 42zm2 14zm0-42zm4 54zm6-94zm3-25zm2 52zm3-25zm9 13zm2 26zm3-20zm1-63zm0 83zm1-100zm5 36zm1 70zm1-41zm7 54zm2-105zm6-54zm1 54zm1 20zm3-24zm0-10zm8-15zm3 41zm3-11zm11-35zm22-2zm1 67zm9-62zm3-47zm8 87zm5-70zm5 69zm19-94zm11 15zm0 40zm1 66zm8-99zm5-43zm2 42zm18-32zm26 17zm12-94zm0-12zm0 107zm5-36zm4-87zm13 64zm7-37zm18-16zm9-75zm56 32zm11-79zm30 42zm8-49zm17 31zm78-88zm0-177zm63 88zm8 54z"/>
<path stroke="#0000df" d="M299 1470zm12-8zm187-177zm19-27zm8 11zm11-6zm2 11zm1-43zm5 57zm6 1zm23-89zm6 3zm0 18zm2-16zm12 50zm4-8zm6-52zm0 65zm4-92zm4 23zm1 61zm0-53zm1-40zm6 51zm17-60zm6 65zm12-44zm5-34zm2-2zm7 53zm3 1zm4-17zm5-3zm2 35zm3-106zm3 97zm5-27zm2-72zm3 101zm7-59zm15-26zm10 63zm6-123zm6 34zm5 48zm0-57zm0-5zm5-20zm1 18zm10 50zm6-26zm4-7zm2-69zm13 15zm4 33zm3-42zm2 71zm9-102zm8 61zm1-93zm4 84zm4 19zm15-41zm2-6zm5-51zm10-16zm17-42zm12-3zm2 118zm3-32zm2 38zm17-140zm25 24zm20-61zm27-44zm19 104zm3-54z"/>
<path stroke="#0000ef" d="M295 1472zm2 0zm2 2zm0-7zm242-220zm15-18zm4 60zm2-29zm3 24zm11-7zm9-32zm3-36zm1 49zm2 3zm3-37zm5-22zm8 23zm2 36zm6-48zm4 36zm13-108zm1 98zm1-34zm0-11zm7 32zm4-44zm5-53zm0 75zm5 10zm0 2zm5-22zm9-8zm0 12zm4-44zm2 19zm8-30zm1 43zm5-39zm0 39zm2-30zm8-12zm2-5zm3-9zm2 48zm1-63zm1-35zm14 24zm3-28zm3 2zm3 73zm8-64zm6 14zm6 8zm1-14zm3-39zm8 41zm0 36zm2-78zm2 19zm2-23zm6 18zm2 72zm0-93zm1 81zm8-125zm2 105zm3-56zm5-29zm10 12zm10 17zm9-10zm2-27zm9-1zm8 40zm3-5zm10-152zm1 162zm12-64zm5-78zm20-44zm6 47zm23 45zm10-126zm11 67zm52-83zm51-66z"/>
<path stroke="#0000ff" d="M508 1308zm8-35zm22 26zm27-25zm12-26zm12-62zm0 49zm10 8zm1 5zm1-40zm4 40zm6-48zm0 59zm1-8zm0-84zm1 82zm3-15zm1 2zm6-54zm4 11zm17 30zm2-22zm2-17zm8-7zm1-15zm1 26zm2-23zm1 12zm3-24zm11 52zm1-98zm1 82zm2-48zm0-31zm3 92zm0-15zm1-38zm1-53zm3 92zm3-34zm5-38zm5 37zm5 26zm5-104zm2 55zm6 24zm1-21zm0 38zm7-86zm0 42zm4-44zm0-18zm2 26zm4 4zm1-1zm1 70zm8-60zm0 12zm4-14zm2-9zm6-59zm2 95zm0-35zm0 4zm0-56zm1 78zm1-87zm12 9zm1 26zm6-2zm2 3zm2 35zm4-229zm11 188zm13-69zm3 61zm1-39zm24 24zm2-40zm1-46zm1 9zm2 86zm6-104zm9 112zm10-52zm1-3zm3-67zm5 13zm9-18zm6 31zm1 100zm4-172zm4-8zm9 11zm0-33zm10 147zm6-233zm11 120zm2-5zm16-117zm12 145zm29-25zm50 76zm8-224z"/>
<path stroke="#0010ff" d="M299 1472zm241-188zm25-13zm4 4zm25-43zm18 22zm14-88zm2 36zm1-19zm4 9zm1 28zm1-23zm2 21zm7-41zm3 34zm2 16zm8-17zm2-63zm1 78zm8-40zm3-14zm1-50zm2 24zm5 56zm6-50zm2 11zm0-35zm5 37zm2-21zm3-26zm1-13zm4 76zm2 7zm0 3zm4-49zm3 33zm1-8zm2-19zm0-37zm1-33zm0 11zm1 14zm1 71zm3-49zm1 43zm1-53zm8-65zm2 84zm1-89zm1 53zm0 49zm2-53zm3-34zm5 93zm9-25zm2-30zm2-1zm1 30zm1-37zm1 6zm0-68zm5 108zm0-68zm2-8zm7 22zm1 58zm5-73zm7 28zm1-69zm4-2zm0 19zm6 48zm0-37zm0 5zm9 32zm2-3zm3-44zm3-31zm0 52zm5-124zm10 52zm1-39zm5 58zm2-65zm2 132zm10-59zm4-38zm2 84zm1-98zm25 33zm0-72zm3-35zm9-42zm17 92zm2-4zm1 24zm3 12zm8-97zm5 69zm4 25zm11-93zm1 1zm1-42zm2-83zm13 150zm6-43zm6 25zm1 83zm22-211zm8 76zm11 54zm105-201z"/>
<path stroke="#0020ff" d="M582 1243zm12 10zm1-69zm5 37zm3 39zm3-48zm2 10zm2 22zm9-11zm15-36zm3-3zm25 3zm12 13zm6-64zm6 55zm9-59zm0-35zm5-20zm4 40zm1-51zm0 25zm4 37zm0 48zm2-39zm1-39zm10-5zm0 19zm6-15zm16-23zm2 64zm0-65zm13 33zm7 3zm7-104zm4 91zm1-73zm0 37zm0 30zm1 1zm1-47zm2 14zm7 63zm4-21zm0 5zm1-17zm6-64zm1-9zm2-16zm4 35zm6 7zm2-10zm3-81zm5 136zm4-148zm1 140zm0 8zm2-70zm6-1zm3 48zm2 3zm1-61zm2-53zm1 77zm0-21zm3 57zm3-138zm6 63zm2-37zm4 121zm13-64zm6-39zm7 45zm6-20zm1-34zm2 42zm3 21zm7-113zm2 10zm5 32zm13 52zm2-152zm3 111zm2-170zm6 203zm11-174zm1-25zm18 67zm2 14zm5 52zm2-70zm44-104zm15-53zm10 17zm40 14zm20-70zm30-13z"/>
<path stroke="#0030ff" d="M566 1205zm13 42zm11 2zm9-57zm16 12zm12 23zm6-58zm11-16zm7 57zm6-66zm0 72zm8-2zm0-50zm5-21zm4-13zm4 0zm0 3zm4 73zm0-72zm5 63zm2-53zm2 43zm7-5zm2-23zm8-82zm2 97zm4-7zm2-45zm10-64zm6 30zm1 7zm3 76zm9-112zm6 37zm6 59zm2-35zm1-87zm0 98zm0-7zm4-47zm1 68zm1-112zm0-15zm0 11zm2 55zm3-81zm3 141zm3-25zm1-76zm0 38zm3-8zm2 33zm0-57zm1-94zm1 80zm1 48zm9-63zm0-18zm1 10zm0 13zm5 20zm6-76zm1 60zm13 32zm0-12zm2-66zm0 97zm2-51zm1-46zm1 126zm1-114zm2 74zm1-74zm5 94zm5-75zm2-43zm2 99zm0 6zm4-93zm1 94zm0-64zm16-74zm0 9zm0 117zm2-125zm2 107zm3 3zm0-9zm3-30zm4-20zm2 11zm1 20zm0 27zm0-89zm2-33zm1 60zm1 60zm1-131zm1 132zm0 2zm1-27zm2-79zm1 104zm1-29zm1-7zm0 10zm3-128zm1 134zm5-42zm0-32zm3 1zm6 64zm3-27zm2-121zm1 20zm1 77zm4 42zm12-137zm1 138zm1-70zm1 71zm4-99zm0 43zm1-35zm1-13zm3-42zm7 53zm4 50zm0-165zm4 116zm2-65zm2-2zm14 42zm1 22zm1-6zm2-78zm8 51zm0 61zm2-37zm1 14zm5-147zm7-1zm18 157zm15-252zm1 10zm1 103zm3 43zm23-183zm5 158zm39-84zm6-20zm18-70zm29-44z"/>
<path stroke="#0040ff" d="M301 1469zm260-242zm5-7zm35 47zm7-26zm0 3zm1-60zm25-12zm12 19zm28 7zm5-9zm4-56zm12-5zm17 2zm3 50zm7-94zm14-37zm6 115zm0-82zm2 72zm0-92zm9 46zm3-33zm3 33zm4-46zm2 63zm4 3zm14-62zm1 33zm4-80zm2 29zm5-45zm10 33zm2-55zm5-6zm1 52zm2 17zm4 70zm1-143zm1 98zm5-35zm2-89zm1 24zm1 128zm0-7zm5-1zm1-21zm1 16zm3-109zm2 97zm0-88zm3 29zm1 60zm0-108zm5 36zm1 70zm3-64zm0 17zm2-125zm3 85zm3 54zm13 13zm0-159zm6 162zm5-171zm3 76zm1 56zm7-109zm10 63zm3 84zm2-81zm4-25zm4 14zm7-10zm0 57zm2-153zm1 73zm1-24zm1-14zm12 45zm3-108zm3 141zm6 5zm9-194zm1 145zm1-109zm12 14zm1 114zm4-74zm0-13zm0 8zm11-16zm5 71zm5-93zm2-31zm6 16zm0 152zm5-98zm0-45zm23-126zm3 89zm2 63zm3-13zm3-106zm1 212zm2-235zm10-14zm7 128zm12-102zm38-71zm31 45z"/>
<path stroke="#0050ff" d="M614 1173zm12 50zm38-56zm49-54zm11 24zm2 39zm2-68zm9 59zm6-83zm4 32zm5-49zm2 69zm2-69zm5 61zm29-29zm5-36zm0 66zm3-94zm5 93zm0-31zm2 5zm2-12zm1-4zm5-66zm1-17zm1 102zm0 2zm7-60zm2 16zm2-55zm6-41zm1 54zm13-58zm2 121zm0-116zm5 41zm2-55zm1-66zm0 165zm6-134zm3 90zm5 40zm2-14zm1 34zm6-69zm5-17zm7 46zm2-65zm5 22zm0 59zm3-14zm0-6zm0-108zm1-18zm0 53zm3-12zm3 93zm0-23zm1-18zm3-134zm6 40zm4 34zm0-111zm4 131zm0 59zm1-87zm2 7zm5 76zm2-137zm2 53zm2 84zm1-99zm5 11zm1-14zm0 30zm2-71zm5 62zm7-101zm2 14zm1 61zm3-82zm1 184zm2-37zm2-157zm1 37zm0 120zm1-135zm2 85zm1 8zm1-9zm8-84zm0 60zm8 81zm5-171zm2 47zm0-1zm2 15zm0-79zm1 119zm4 15zm2-139zm4-7zm4 174zm1-111zm8-165zm2 177zm2-4zm19-37zm11 63zm2-122zm13 88zm3-86zm6-73zm2 165zm19-82zm5-113zm20 38zm36-64zm22 29z"/>
<path stroke="#0060ff" d="M301 1468zm359-274zm46-6zm26-122zm16 0zm12 33zm8-69zm1 22zm1-9zm11-26zm0 112zm11-95zm5-5zm7-41zm12-26zm18 102zm13-137zm4 89zm1 55zm12-159zm7-19zm1 99zm1 17zm6-52zm4 79zm2-25zm2-96zm3-49zm11 180zm10-259zm0 131zm3-66zm0 2zm4 18zm8 141zm1-25zm15-230zm4 149zm0-71zm5 13zm7 129zm1-138zm1 72zm2-26zm1 4zm1 50zm2-65zm0-50zm4 121zm1-127zm0 135zm1-131zm0-24zm2 59zm20 114zm2-204zm10 72zm0 57zm0-16zm3-117zm8-6zm9 81zm3-7zm1-16zm5-3zm1-110zm1 88zm20-20zm25-35zm8 74zm5-3zm21-96zm7-22zm21-48zm17-29zm56 8z"/>
<path stroke="#0070ff" d="M628 1171zm3 34zm51-10zm37-57zm28-66zm7-19zm34 84zm18-62zm7 17zm7-37zm1-64zm11 169zm9-125zm17-41zm15-46zm2 36zm20 21zm1-64zm4 84zm5-121zm3 34zm20 28zm3-86zm6 105zm1-124zm0 146zm0-175zm1 127zm4-71zm1-18zm1 140zm7-195zm2 79zm8 49zm8-23zm7-41zm1-3zm1-127zm0 146zm2 64zm17-158zm2 170zm1-161zm3 51zm0 41zm1-98zm1 3zm6 12zm13-35zm9 96zm1-4zm6-122zm0 50zm1-7zm4 39zm19 3zm17-118zm28 2zm17-13zm6-101zm92-78z"/>
<path stroke="#0080ff" d="M727 1097zm53 11zm20-7zm15-83zm13 31zm7 26zm10-77zm9-36zm4 17zm7 57zm2 11zm4 13zm6-109zm5 97zm13-82zm0-97zm8 116zm8-55zm6-49zm4-2zm15 71zm1-25zm11-72zm4 42zm2 21zm11-32zm1-54zm7 27zm0-65zm0 115zm3-34zm0 51zm2 15zm1-130zm3 58zm2-36zm3 1zm13-19zm8 66zm0-74zm4 134zm0-290zm3 186zm3 64zm0-5zm7-68zm1-120zm2 119zm2 56zm1-147zm1 80zm21-48zm5-75zm2 118zm3-77zm6-5zm0-10zm7 75zm3-128zm5 66zm2-116zm6 206zm15-101zm7 4zm2-156zm26 93z"/>
<path stroke="#008fff" d="M305 1460zm407-353zm7 24zm30-28zm26-24zm8-10zm19-15zm27-35zm32-197zm5 103zm12 39zm23-15zm12 68zm3-75zm16-44zm17-53zm4 110zm2-79zm3-96zm1 55zm8 85zm2-22zm4 70zm2-104zm3 64zm11-30zm9-105zm13 62zm0 67zm7-134zm3 61zm10-2zm3-193zm8 127zm2 102zm9-31zm2-16zm0 76zm5-152zm0-27zm1-36zm1 131zm3-67zm3-159zm1 97zm2 56zm0 3zm1 80zm3-174zm3 12zm0 110zm4-50zm1-74zm20 29zm8-2zm14 10zm6-43zm4-61zm9 11zm27 16z"/>
<path stroke="#009fff" d="M305 1457zm451-409zm102-98zm10-45zm19-5zm8-156zm4 336zm10-130zm0-17zm27 56zm8-107zm9 90zm4-168zm9 67zm0 129zm9-105zm2 53zm1-85zm1-82zm3 33zm6 82zm2 74zm10-178zm1 53zm15 0zm9 10zm3 41zm2 48zm5-134zm3-92zm1 73zm2-39zm9 77zm4-68zm4-7zm1 14zm6 4zm10 21zm11-99zm3-12zm15-29zm18 54zm14-130zm10 128zm16-20zm26-51zm52-120zm27 24zm4-18z"/>
<path stroke="#00afff" d="M854 1034zm8-88zm36 9zm5-28zm15 36zm6-30zm15 46zm7-72zm5-13zm4 51zm22-62zm9 9zm0 48zm10-100zm5 11zm3 34zm4 41zm1-122zm10-1zm1 107zm3-145zm2 7zm5 43zm4 10zm3-60zm12 122zm6-234zm6 81zm14 24zm0-60zm6 77zm3-20zm7-102zm1 70zm4 6zm11 15zm1-47zm8-18zm1 38zm5 82zm2-179zm25 163zm3-4zm18-107zm83-51z"/>
<path stroke="#00bfff" d="M848 1041zm0-49zm77-104zm10 34zm2-93zm18-17zm3 146zm17-107zm3 73zm2-95zm4 155zm0-176zm10-110zm3 198zm1-29zm9-25zm33-113zm9 62zm23-8zm2-27zm2-25zm2 17zm4-17zm1 64zm8-71zm3-4zm4 143zm4-156zm2-55zm4 23zm2 120zm2-76zm3-60zm8-7zm1 51zm0-22zm3 59zm0 11zm3-41zm9-96zm7 99zm2-170zm30-16zm6 123zm0-5zm89-102z"/>
<path stroke="#00cfff" d="M943 865zm22 137zm9-186zm38 106zm24 4zm14-84zm9-95zm14-81zm3 23zm5 106zm0 39zm5-192zm3 107zm8-65zm29 78zm8-138zm12-10zm1 39zm4-51zm2 120zm4-66zm6-61zm1-41zm11 159zm7-85zm8-11zm1-58zm7-8zm57 53zm7-81zm68-38z"/>
<path stroke="#00dfff" d="M306 1455zm0 7zm652-510zm47-92zm1-95zm1 196zm28-170zm18 85zm10-84zm3-232zm6 185zm15-32zm1 13zm1 27zm8-90zm0 7zm7 117zm8-74zm11 69zm1-52zm1-7zm16-74zm2 21zm2 92zm5-130zm9 162zm7-93zm9-62zm22 6zm19-19zm54-156zm51-14zm26-62z"/>
<path stroke="#00efff" d="M309 1464zm607-672zm46 107zm13 4zm28-71zm6 82zm22-54zm10-7zm4-80zm2-62zm33 55zm7 92zm11-183zm3 100zm6-67zm28-82zm2 117zm5 22zm1-153zm16-7zm16 103zm2-172zm16 125zm0 26zm8-35zm4-58zm20-22zm2 4zm2 34zm11 7zm9 80zm3-126zm4 68zm22-114z"/>
<path stroke="#00ffff" d="M991 766zm4 63zm23-59zm14 77zm55-60zm28-20zm7 10zm5-135zm5-85zm17 180zm0-149zm6 106zm3 64zm23-88zm2-48zm14 10zm9 88zm14-199zm3 62zm3-41zm3 117zm7-66zm0-16zm7-58zm27-9zm7 29z"/>
<path stroke="#10ffef" d="M310 1461zm712-707zm67-20zm3-59zm8 64zm24-111zm6 90zm2-40zm12-17zm18-30zm24-11zm1-13zm24 76zm7-21zm13-29zm37-63zm10-76zm15 109zm7-82z"/>
<path stroke="#20ffdf" d="M1013 806zm42-120zm53 58zm10 23zm1-77zm1 17zm8 83zm1-34zm0-15zm1-83zm23 120zm10-59zm3-77zm5-24zm4 68zm3-95zm8 13zm21-74zm4 37zm3-74zm2 135zm7-38zm18-27zm8-19zm13-20zm5 62zm0-138zm16 84zm53-163z"/>
<path stroke="#30ffcf" d="M1070 760zm38-35zm9 9zm15 12zm28-146zm12-14zm2-5zm20-28zm20 31zm4-1zm7-51zm6 109zm2-14zm2-14zm33-108zm63-116z"/>
<path stroke="#40ffbf" d="M1069 724zm18 77zm22-6zm6-170zm15-4zm3 77zm6 22zm5-3zm13 10zm26-86zm11-5zm0 18zm29 42zm13-113zm10-23zm11-11zm16 15zm16-184zm0 151zm13-23zm6-1zm24-81zm9-83zm20 239z"/>
<path stroke="#50ffaf" d="M312 1458zm788-725zm38-29zm19-33zm38 15zm6 58zm11-114zm5-90zm1 77zm4 43zm23 8zm16-76zm41-15zm7-34zm33 27z"/>
<path stroke="#60ff9f" d="M1065 747zm67 8zm49-151zm42-20zm56-101zm11 35zm10 65zm72-82z"/>
<path stroke="#70ff8f" d="M312 1454zm872-834zm31-90zm26 34zm10 82zm1-41zm1-147zm22 120zm3-55zm7 6zm44-84zm7 86zm12-84z"/>
<path stroke="#80ff80" d="M314 1459zm858-864zm8 2zm18-21zm0-23zm31-80zm28 127zm11 7zm37-136zm33 42zm35-22zm24-18z"/>
<path stroke="#8fff70" d="M1173 609zm71-130zm24 118zm35-3zm12-2zm4-132zm7 13zm11-37zm7 152zm12-238zm11-16zm5 140zm49-113z"/>
<path stroke="#9fff60" d="M1208 651zm16-80zm84-89zm27-87zm0 57z"/>
<path stroke="#afff50" d="M315 1452zm934-904zm34-147zm54 87zm41-90z"/>
<path stroke="#bfff40" d="M318 1457zm868-839zm97-103zm16 14zm9-19zm104-90z"/>
<path stroke="#cfff30" d="M1196 546zm101-34zm8 30zm63-87z"/>
<path stroke="#dfff20" d="M317 1451zm1-8zm962-956zm17 66zm40-154z"/>
<path stroke="#ffff00" d="M1329 505zm11-154zm46 41zm36 33z"/>
<path stroke="#ffef00" d="M316 1449zm1 7zm0-2zm1049-1028z"/>
<path stroke="#ffdf00" d="M318 1455zm1-1zm1196-1112z"/>
<path stroke="#ffcf00" d="M1402 434zm36-41z"/>
<path stroke="#ffbf00" d="M1411 433zm157-47z"/>
<path stroke="#ffaf00" d="M1291 565zm239-395zm23 128z"/>
<path stroke="#ff9f00" d="M1357 460zm117-105z"/>
<path stroke="#ff8f00" d="M1576 254z"/>
<path stroke="#ff8000" d="M1368 500zm170-203z"/>
<path stroke="#ff6000" d="M1443 345zm154-5z"/>
<path stroke="#ff5000" d="M322 1448zm1263-1268z"/>
<path stroke="#ff4000" d="M1553 177z"/>
<path stroke="#ff3000" d="M1530 292z"/>
<path stroke="#ff2000" d="M1561 193z"/>
<path stroke="#ff0000" d="M1566 372z"/>
<path stroke="#df0000" d="M1597 155z"/>
<path stroke="#00008f" d="M295 1464zm0-5zm0-8zm0 19zm0-1zm0-23zm0 12zm1 20zm2-34zm0 3zm6 9zm2-13zm1-7zm0 2zm1-4zm0 1zm0 30zm1 1zm0-23zm2 17zm0-17zm1-6zm3 12zm0-21zm1 37zm2-36zm0 5zm0 16zm1 13zm1-16zm0 3zm1 9zm0-3zm0-23zm2-12zm0 12zm2-6zm0 0zm1 13zm1 3zm1 11zm2 0zm0-4zm2 1zm1-12zm1-6zm0-17zm0 22zm1-9zm2-13zm1 16zm3 8zm1-16zm0-6zm2 6zm0-24zm1 43zm1-16zm1-3zm0 17zm0-28zm2-17zm1 38zm0-16zm1 13zm0-11zm1-20zm4 10zm1 17zm0-22zm0 23zm1 2zm0-24zm0-17zm1 22zm0 3zm1-4zm0 5zm1 5zm0-23zm0 8zm0 19zm1 5zm0-31zm1 19zm1-28zm0 31zm1 4zm1-14zm0-9zm0-9zm1 40zm0-5zm0-6zm0-8zm0-15zm3 17zm0-26zm1 15zm1-6zm0 7zm2-20zm0 1zm0 25zm2-1zm1-14zm2 11zm1 6zm1-8zm0-26zm0 34zm0-42zm0 39zm1-16zm4 13zm1-18zm1 4zm1 55zm0-41zm1-29zm0-8zm1 42zm0-44zm0 34zm1-19zm0 5zm1 6zm0-11zm2-16zm0 35zm2 78zm1-99zm0 20zm0-14zm0 15zm0-15zm1 21zm0-37zm1-15zm0 38zm1 2zm2-43zm2 44zm0 25zm1-46zm0 11zm0-8zm2 9zm0-14zm0 14zm0-22zm0-22zm1 52zm0-30zm0-5zm0 36zm1-13zm0-16zm1 2zm1 28zm0 1zm1 0zm0-33zm2 7zm1 8zm1-25zm0 26zm1-41zm0 27zm0 11zm1-11zm1-2zm0 22zm1-27zm1 24zm0-6zm0-3zm0 0zm0-35zm0 14zm0-18zm2 54zm0-6zm0-50zm0 40zm0-34zm1 29zm0 9zm0 4zm0-11zm1-7zm1-10zm0-3zm0-9zm0 11zm1 28zm0-22zm0-5zm0 25zm0-26zm0-17zm1 127zm0-121zm0 12zm1 30zm0-5zm0-26zm0 25zm1 4zm0 2zm1-29zm0-3zm0 26zm1-21zm0-18zm1 19zm0 15zm0-7zm1 14zm0 1zm3-31zm0-13zm1 25zm1-12zm0 13zm0-44zm1 33zm0-34zm0 0zm0 27zm2 11zm1-12zm1-6zm1 2zm1-8zm0 5zm1-20zm1-8zm0 18zm0 29zm0-17zm0 23zm1-10zm0-20zm2-4zm0 11zm0-6zm0 26zm0-52zm0 131zm0-120zm1 43zm0 3zm1-41zm0 15zm1-30zm0 51zm0-20zm1-13zm1 20zm1-20zm0 36zm1-34zm0 21zm0-36zm1-13zm1 9zm1-8zm1 37zm1-12zm1-4zm0 34zm1-39zm0 32zm0-43zm2 5zm0 18zm0 15zm0 1zm1 0zm0-52zm1 68zm1-54zm0 7zm1-1zm1 8zm0 34zm0-67zm0 59zm1-57zm0 47zm1 1zm0-4zm2-36zm0 1zm1 55zm0-69zm1 25zm1-2zm0-24zm1 6zm0 41zm0-42zm1-3zm1 11zm0 18zm0 5zm0-9zm2 0zm0 19zm1-26zm1-3zm1 8zm0 24zm1-55zm0 60zm1-51zm0 47zm0-26zm1-10zm0 44zm0-31zm0 4zm2-39zm0 8zm1 51zm1-103zm0 71zm1 23zm1-18zm0-31zm0-5zm1 40zm0-20zm1 41zm0-46zm2-4zm0 6zm1-9zm0 7zm1-12zm1 33zm0 13zm0 5zm0-19zm0 24zm1-45zm0 41zm1-59zm0 11zm0-21zm0 31zm1-2zm0 0zm1 37zm0 50zm1-72zm0-23zm1 39zm1 2zm0-43zm1-2zm0 52zm1-27zm1-28zm0-20zm0 46zm1-4zm0-35zm3 63zm0-48zm0 44zm1-19zm0-28zm1 2zm1 2zm1 13zm0-10zm1-14zm1-8zm0 20zm0-6zm1 30zm1-60zm0 80zm0-20zm1-73zm0 54zm1 4zm0 19zm1-25zm0 36zm1-39zm0 25zm1-41zm0-3zm0 34zm0-55zm1 29zm0 17zm0-28zm2 50zm0-67zm1 10zm0 10zm0-10zm0 7zm1 14zm1-2zm0 45zm1-8zm1-15zm0 8zm1-4zm0-54zm0 44zm1-42zm2 57zm0-10zm2-31zm0 28zm0-22zm1 37zm0-47zm1 22zm0-6zm0-27zm0 14zm0-37zm1 20zm1 9zm0 10zm1 1zm0 18zm0-19zm1 26zm1-5zm0-28zm0 7zm2-38zm0 26zm1 32zm1-24zm0 20zm1 22zm0-30zm2-22zm1-7zm0 11zm1 21zm1 2zm0 17zm1-76zm0 8zm1 26zm0-11zm3-3zm0-10zm0 23zm0 27zm0-41zm0-24zm1 63zm1 8zm0-14zm0-54zm2 44zm0 10zm0-34zm0-15zm0 41zm0 16zm2-40zm0-8zm0 24zm1 16zm0 6zm0-25zm2 35zm0-19zm1-53zm0 53zm0-9zm0 31zm1-18zm0-62zm1 18zm1 16zm0 2zm0 13zm1 11zm0-56zm2 34zm0-54zm0 7zm1 16zm0-10zm1 47zm0-35zm2-13zm1 45zm0-3zm2 18zm2 10zm0-57zm1-20zm0 2zm1 48zm1-79zm1 92zm1-66zm1 1zm1 27zm0 6zm0 11zm2-14zm0-3zm1 22zm0-1zm0-50zm1 21zm2-32zm0 38zm1 12zm0-29zm2 19zm1-29zm1 49zm1-47zm0 36zm0-46zm0 37zm0 23zm1 0zm1-33zm0-55zm1 51zm1-12zm1 46zm0-77zm1 44zm1 7zm1-29zm1-17zm4 63zm0-36zm1 8zm0-21zm1-27zm0 50zm2 19zm0-24zm0-35zm1-15zm1 51zm0-13zm1-23zm0 37zm0-33zm1-31zm0 6zm2 75zm0-38zm1 36zm1-37zm0 24zm3-55zm1 48zm0 18zm1-30zm0 11zm1-29zm1 27zm0-25zm0 24zm1-40zm1 22zm0 3zm1 27zm1-24zm0 1zm0-86zm1 59zm0-20zm0 24zm1 22zm0 3zm0-191zm1 201zm0-41zm0-5zm0 36zm4 9zm0-26zm1 27zm0 27zm1-64zm1-33zm0 90zm0-26zm0-18zm0 33zm3-55zm0-3zm1 52zm0-1zm0-1zm0-4zm0-15zm1-9zm3 12zm1 10zm0-65zm2 42zm0-46zm0 28zm0 23zm1-33zm1 6zm1-18zm0 2zm0 39zm1-26zm1 46zm2-46zm1 47zm1-99zm0 35zm4 49zm0 4zm2-7zm0-116zm1 70zm0 49zm1-42zm1 53zm0-18zm1 11zm3-6zm0-30zm1-62zm2 38zm0 85zm0-65zm1 1zm0-4zm1-44zm2 78zm0 2zm0-7zm2-82zm0 72zm0-68zm3 29zm0 38zm0-5zm2-3zm2-71zm0 16zm4 5zm0-6zm0 26zm0-1zm1 9zm1-37zm0 26zm3-19zm2 19zm0-44zm1 58zm0-75zm1 55zm0 45zm3-31zm1 24zm0-20zm1-61zm0 81zm0-24zm1 23zm0-42zm0 11zm0-38zm1 42zm0 18zm1 6zm0-9zm1-46zm1-17zm0-4zm0 107zm0-18zm0-13zm1-30zm0-37zm0 72zm0-59zm0-32zm0 83zm1-78zm0 5zm0 71zm2-5zm0 5zm0-6zm1-2zm0-40zm1 55zm1-90zm5-14zm3-1zm0 70zm1-70zm1 49zm0-73zm1 48zm0 32zm1 33zm2-29zm1 9zm1-15zm1 40zm0-22zm1-80zm1 29zm0 18zm1-78zm2 94zm1 33zm0-18zm1-34zm0-28zm2-10zm0 1zm1 34zm0 80zm2-92zm2 48zm1-75zm2-22zm2 15zm0 15zm1-31zm0 177zm1-149zm0 22zm0 5zm2 0zm0-45zm0 87zm1-66zm1 89zm0-81zm0 0zm1 1zm0 50zm0-31zm3 72zm4-194zm1 141zm2-67zm1 103zm1-57zm0-20zm1-34zm1 87zm0-61zm1 81zm1-107zm0 12zm3-1zm0-5zm1 108zm1-69zm0-39zm1-48zm2 150zm4-68zm0 4zm1-48zm0 73zm0-83zm2 45zm0-17zm1 5zm1-103zm0 107zm0 75zm0-141zm2 26zm1 38zm1-78zm2 97zm2 2zm1-96zm3 149zm4-43zm2-55zm1-16zm2 54zm0 16zm1-4zm0-84zm1 69zm1-99zm0 1zm1 110zm2-14zm1-6zm1-45zm0 71zm0-51zm1-62zm0 81zm0-43zm0-46zm0 51zm1-1zm0 38zm0-42zm0 92zm0-120zm1 137zm0-78zm0 71zm1-134zm0 19zm0 44zm0 30zm3 0zm0-8zm2-22zm1 52zm2-15zm1 28zm0-53zm0-1zm0-46zm1 50zm0 3zm1 104zm1-124zm1 43zm0-28zm1 58zm1-37zm1-88zm1-33zm1-5zm0 159zm1-121zm1 41zm1-18zm1-8zm1-76zm0 100zm1 11zm1-63zm1-57zm0 150zm2-66zm1 4zm0-62zm0 29zm0 98zm1-52zm0-44zm1-8zm2 22zm1 39zm0-19zm3 79zm2-48zm0 6zm0-97zm4 10zm1 63zm0-35zm1-14zm1-24zm0 90zm3-102zm0 96zm1-42zm1 41zm1-83zm3 113zm0-72zm0 38zm1-25zm1 17zm2-25zm0-59zm0 62zm0-178zm1 90zm0 60zm2 60zm0 36zm1-9zm1-18zm3-160zm0 37zm1 31zm2 5zm0-99zm2 99zm3-57zm0 6zm2-21zm1 117zm1-135zm1 199zm0-193zm2 56zm2-16zm1-2zm0-75zm1 59zm0 42zm0 62zm0-128zm0 83zm2-71zm1 5zm0 166zm0-41zm1-47zm3 17zm1-76zm4 124zm0-94zm2-15zm1 24zm1 97zm1-33zm1-138zm0-32zm1 163zm0-67zm1-52zm2 66zm1-99zm0 2zm2 9zm1-10zm3-12zm1 97zm1 21zm0 2zm1-38zm2-25zm0 85zm2-80zm2-22zm3-2zm2-48zm0 54zm1-19zm0-21zm1 150zm1-213zm1 173zm0-133zm4 46zm0 115zm6-123zm1 104zm0-84zm2 67zm0-159zm2 98zm1 35zm1 43zm1-87zm1 26zm1 9zm2-162zm1 97zm0-22zm1 57zm2 50zm0-152zm2 95zm1-26zm0-25zm2 9zm1 60zm2-85zm2-63zm1 213zm3 10zm3-38zm4-163zm1 83zm1 31zm1 12zm2-189zm2 138zm3-41zm1 2zm0-10zm4 67zm2-14zm1-3zm0 25zm0 39zm0-128zm10 38zm0 13zm1-85zm1 199zm6-134zm7 33zm1 125zm1-124zm1-4zm5 1zm1-32zm3 19zm0 39zm10-33zm1-17zm1-46zm6 99zm1-150zm3 151zm2-66zm3-33zm0 74zm3-71zm4 26zm0 26zm0-29zm2-34zm5 31zm7-6zm3-40zm0 8zm0 78zm2-82zm1 30zm1-10zm0 18zm2 0zm0-14zm0 27zm0-5zm1-60zm3-111zm4 105zm9-13zm7-162zm14 257zm1-118zm11 5zm0-106zm4 112zm9-30zm7 29zm7-42zm0 13zm1-3zm5 32zm7-125zm5 66zm2 101zm8-84zm6-27zm15-6zm6-70zm5 55zm14-20zm7 27zm8-55zm18 51zm33-85z"/>
<path stroke="#00009f" d="M297 1474zm32-57zm12 8zm6 2zm0 12zm11-30zm4-1zm13-23zm8 25zm2-24zm18-38zm2 41zm11-8zm12-35zm16 27zm2-17zm5-9zm6 0zm2-2zm2-3zm6-15zm7-27zm2 53zm10-56zm10 21zm2-16zm6 7zm9-7zm19-51zm2 41zm12-6zm0-38zm3-27zm5 50zm0-41zm9 44zm8-54zm1-19zm2 22zm15-38zm12 33zm8 12zm2-3zm4-11zm19-14zm6-24zm10-32zm5 42zm8-10zm9-28zm5 20zm5-79zm7 34zm1 6zm23-53zm25 43zm9-21zm2-63zm14 106zm3-70zm7-47zm9-4zm1-99zm8 169zm16-21zm5-101zm39 67zm3-30zm13 136zm1-107zm20-52zm29-114zm1 7zm4 31zm8 109zm9-195zm9 22zm3 101zm5 56zm1-151zm10 8zm2 51zm7-151zm21-6zm3 114zm20-20zm5-9zm9 78zm26-126zm25 94zm69-113z"/>
<path stroke="#0000af" d="M315 1441zm4-6zm1-5zm5-21zm2 28zm2 1zm3 1zm2 4zm7-19zm22-18zm9-11zm4-12zm10-14zm9 12zm37-43zm3 16zm7 9zm3-1zm24-37zm17-13zm5 31zm34-65zm0 13zm1 12zm12-41zm4-6zm2 3zm3-37zm6 44zm7 14zm5-8zm1 5zm0-21zm11 8zm2-64zm8 11zm16-68zm1 74zm17-20zm1 54zm3-49zm5-31zm1 5zm3 9zm15-46zm1-7zm3 98zm3-44zm3-52zm0 30zm7-29zm10 22zm15-11zm2 24zm1 2zm1 0zm4 21zm6-49zm11-15zm8 14zm7-11zm6-47zm7 23zm14-57zm12 64zm18-27zm11-63zm1 104zm25-53zm2-122zm2 61zm1-16zm1-35zm19 87zm6 2zm20-67zm18-32zm2-4zm17-96zm4 118zm1-52zm5 7zm17-46zm1 27zm15 46zm5-96zm17-60zm42-75zm2 47zm15-51zm22 96zm22-4zm7-43zm40-122zm0 164zm55-54zm84-238z"/>
<path stroke="#0000bf" d="M296 1472zm1-2zm3-28zm43-1zm9-12zm20-16zm10-26zm24-3zm3-15zm24-32zm16 19zm26-21zm8-14zm6-13zm18-45zm9 61zm4-39zm8 13zm11-29zm0 42zm4-69zm14-19zm9 30zm3-23zm5 14zm0 2zm1 1zm7-39zm5-11zm16 66zm0-87zm1 5zm0 1zm7 25zm4 42zm5-5zm2-65zm1-8zm1 18zm2 36zm14-42zm3-5zm3-23zm2 45zm1 29zm3-16zm1-60zm1 49zm2-44zm4 18zm6-55zm16-27zm7 65zm3-14zm0 4zm6-35zm10 72zm11-102zm10-5zm3-20zm2-16zm8 29zm1 39zm1 24zm2-97zm4 85zm7 28zm1-79zm8 9zm5 21zm2-64zm26-35zm21-26zm6-7zm24 20zm22-59zm3-34zm9 20zm3-39zm2 121zm16-95zm35 52zm16-189zm3 32zm2 154zm28-114zm10 0zm26-24zm47 25zm33-78zm22-21zm87-145zm63 26z"/>
<path stroke="#0000cf" d="M323 1457zm19-35zm2 6zm1-27zm5 29zm10 0zm21-26zm22-8zm20-65zm7 0zm18-2zm0 3zm1 40zm11-74zm3 58zm6-3zm11-70zm5 63zm3-40zm19-22zm5 38zm2-28zm7 2zm9-5zm9-21zm3-13zm7-17zm8 8zm2-19zm2 17zm0 9zm8 2zm0-54zm3 5zm3-11zm9 2zm1-11zm14 18zm2 25zm5 8zm3-20zm3-4zm20-56zm1 59zm10-34zm1 35zm2-56zm4-26zm5 4zm2 15zm0 10zm0-3zm1-65zm21 34zm3 65zm3-72zm1 7zm1 17zm1-58zm1-4zm1 90zm4-55zm13 14zm1-62zm3 87zm5-54zm5-25zm2 26zm0 11zm6-50zm3 43zm8 21zm13 6zm8-16zm8-90zm11-35zm7 157zm1-21zm3 3zm6-8zm1-46zm8-73zm3 65zm5 7zm10-122zm2 8zm9-4zm1 69zm4-91zm39 78zm5-78zm22-75zm21 99zm21-51zm22-7zm1-45zm2-3zm23 9zm19-62zm1 65zm16-32zm1 0zm11-104zm2 54zm3 0zm51-12zm7 5zm280-358z"/>
<path stroke="#0000df" d="M298 1461zm133-126zm76-43zm33-43zm11 47zm2-54zm1-9zm2-8zm10 3zm27-13zm1-10zm5 32zm2-13zm0-39zm4 31zm25-11zm5-49zm1-15zm2 27zm0-19zm4 12zm1-13zm2 84zm3-66zm10-34zm2 75zm8-23zm3-75zm8 28zm1 50zm2-46zm1-36zm2 68zm5-47zm1 66zm3-60zm5-16zm2 66zm6-12zm1-22zm1-42zm1 13zm1-10zm4 6zm0 50zm5 11zm0-75zm4-9zm1-29zm3 86zm1-31zm6 19zm14-40zm1-59zm8 75zm6 77zm4-140zm3 58zm2 17zm2-26zm6-59zm6-7zm7 7zm1 83zm0-49zm10-65zm16 47zm11-5zm11-34zm7 3zm6-29zm2-31zm16 63zm5-95zm2 15zm10 2zm11-36zm7 56zm10-11zm12-106zm3 46zm21-9zm0 17zm25-52zm4 20zm25-4zm2-102zm60 129zm4-230z"/>
<path stroke="#0000ef" d="M513 1273zm35-43zm41 31zm1-27zm4 26zm6-23zm1 6zm2 10zm5-30zm14-7zm4-34zm7-3zm7-34zm2 85zm0-30zm5-40zm6 46zm0-18zm0 9zm1-102zm11 76zm0 48zm4-152zm0 64zm2-10zm0 49zm2-36zm13 22zm1 23zm22-26zm25 3zm0 3zm2-75zm1 6zm3 60zm8-23zm1-10zm10-20zm0-36zm1 5zm2 49zm2-80zm4 100zm1-112zm5 17zm5-35zm1 71zm5 13zm2-60zm1 51zm11 16zm0-93zm1 68zm2 48zm0-136zm11 31zm2 49zm2-22zm2 6zm2 45zm5-35zm0 2zm9-72zm6 43zm2 26zm2-59zm3 6zm28 8zm1-95zm2 71zm6-52zm11 14zm7 20zm1-111zm10 75zm5 27zm26 53zm3-85zm40-111z"/>
<path stroke="#0000ff" d="M538 1278zm25-2zm9-22zm6-46zm0-10zm3 12zm10 15zm13 20zm3 17zm4-84zm18 55zm0-4zm12-8zm1-5zm1-79zm2 77zm3 13zm2 3zm0-18zm1-79zm3 55zm13-14zm1-45zm9-13zm1 59zm4 21zm2-12zm1-35zm1 21zm0-36zm1 13zm1 12zm4-66zm5-41zm6 104zm5 8zm5-60zm2-8zm3 56zm2-44zm1 63zm1-27zm7-58zm0-5zm2-13zm0 13zm1-33zm1 71zm13-44zm1 50zm3 1zm3-27zm12-16zm10-25zm5 47zm4-55zm2 22zm0-61zm1 51zm4 13zm4-98zm1 132zm7-88zm1-1zm1 72zm1 12zm1-120zm1-13zm0 103zm5-60zm0-28zm1 92zm1-81zm4 117zm1-79zm2 39zm8-13zm6-47zm7-38zm0-5zm2 47zm1-88zm0 87zm7 16zm1 39zm7-71zm4 50zm0 13zm6-51zm4 37zm3 3zm1-15zm9 1zm1-87zm3-10zm7-32zm1 114zm3-37zm4-28zm8-100zm3 15zm2 145zm12-99zm3 1zm12-100zm2 51zm4 54zm15-87zm17-8z"/>
<path stroke="#0010ff" d="M298 1467zm250-241zm11 35zm5-30zm24 28zm27-87zm4 67zm2-58zm10-9zm3 67zm6-11zm3 1zm5-91zm4 55zm14 6zm8-50zm5-20zm7 67zm1-41zm5-2zm0 7zm1-6zm1 2zm1-49zm4 83zm6-76zm7-20zm2 90zm2-79zm4 28zm2 27zm3-91zm3 82zm9-40zm1-48zm13-5zm1-14zm0 19zm1 63zm3-6zm1 41zm2-81zm0 71zm5-63zm2 28zm1-58zm4 26zm1-62zm2 122zm4-57zm5-64zm1 25zm0 73zm4-29zm1-82zm3 98zm1-3zm0-80zm4-22zm0 107zm3-74zm3-90zm10 144zm3-106zm19 107zm2 22zm4-152zm1 101zm2-45zm1 38zm5-12zm3-88zm10 78zm9-69zm2 46zm4-72zm7-27zm4-7zm2 126zm7-70zm2 81zm11-165zm5 126zm1-64zm7-34zm0 76zm14 26zm14-127zm3 1zm2-120zm8 145zm4-31zm0-21zm13 25zm9-90zm10 88zm10 101zm4-206zm7 10zm5-26z"/>
<path stroke="#0020ff" d="M298 1468zm276-254zm0 56zm15-26zm5 18zm16-66zm22 41zm3-13zm14-89zm2 91zm5-6zm4-11zm4-26zm4 14zm2-76zm5 88zm0-22zm1 13zm2-53zm3 53zm5 2zm2-82zm3 31zm7-39zm8 55zm2-36zm14 41zm7-2zm1-10zm2-54zm1 5zm1 43zm4 5zm1-44zm3 6zm3 21zm6-48zm2-39zm1 7zm8-40zm1 111zm3-37zm3-13zm0 7zm2-35zm7 83zm4-31zm4-26zm1 36zm3-107zm6 2zm8 2zm0-26zm1-18zm3 143zm7-19zm10-188zm0 137zm11-12zm1-32zm6 32zm2-26zm6-38zm5 13zm4-32zm2-35zm2 128zm3-13zm6-6zm6 7zm2-110zm2 48zm1 13zm1-18zm10 49zm3 33zm6-42zm2 51zm1-30zm23-4zm1-193zm1 191zm0-7zm0 17zm6-142zm3-41zm6 99zm0-24zm3-31zm20 5zm42-48zm6-29zm43-111zm4-21zm7 46z"/>
<path stroke="#0030ff" d="M564 1239zm40-11zm29-14zm5-11zm6 15zm8 4zm0-74zm6-24zm2 98zm15-27zm5-32zm5-13zm4-55zm1 91zm10-33zm0-22zm4 60zm5-57zm0 34zm0-52zm10 63zm0-43zm1 37zm7-58zm1 54zm3-30zm2-57zm3 81zm2-72zm9 71zm6-109zm4 31zm3 66zm5-116zm3 84zm6-14zm0-21zm1 31zm3-52zm0 76zm1-83zm3 79zm3 12zm4-8zm7-25zm1-49zm0-40zm1-45zm8 133zm4-77zm5 7zm1 39zm1-45zm1 9zm5-58zm5 111zm0-119zm2 116zm5-130zm7 106zm5-55zm4-42zm1-23zm1 114zm0-54zm3-18zm6 31zm2 25zm1 15zm0-55zm6 1zm4 0zm0 33zm2-79zm1-98zm4 190zm3-126zm7 117zm3-119zm2-28zm0 65zm2-14zm1 87zm17-13zm1 19zm3-26zm4-69zm1-29zm2 101zm1-47zm4-92zm1 135zm1-160zm0-10zm3 73zm0-23zm4 107zm3-75zm2-4zm4 80zm10-101zm2-25zm3 56zm3 19zm2-116zm0-7zm8-40zm2 143zm3-10zm8-95zm4 56zm14-93zm53-69zm0 151zm4-103z"/>
<path stroke="#0040ff" d="M301 1463zm312-260zm4 11zm22 8zm0-70zm22 34zm2-30zm1-43zm7 37zm4-19zm3-22zm2 17zm13-43zm17 107zm2-17zm4-86zm9 53zm3-43zm2-33zm5 96zm5-96zm3 55zm7-8zm9 10zm6-85zm1 36zm16 3zm4-60zm3-18zm16 61zm6-74zm1 99zm3-76zm2-7zm3 89zm1-79zm8 65zm4-139zm0 52zm2 4zm0-9zm3 61zm1-16zm1-23zm3-32zm0-40zm0-125zm1 171zm7 62zm3-114zm2 129zm1 24zm0-83zm5 72zm2-55zm0-23zm1-78zm0 154zm3-19zm5-80zm7 86zm3-84zm1 72zm8-109zm2 108zm1-38zm0-107zm2 138zm2-22zm1-68zm0 81zm12 5zm1-143zm1 178zm5-190zm1-22zm8 33zm1-37zm2 60zm2-56zm2 157zm3-132zm2-5zm1 134zm2-89zm2-61zm1-23zm4 11zm6-18zm1 119zm3-122zm5 55zm9-46zm1 20zm1-4zm3 81zm0-100zm1 87zm1-110zm11 13zm4 0zm10-39zm6 49zm4-14zm1-4zm2 26zm11-22zm4-40zm1-107zm3 158zm30-41zm7-54zm3-7zm5-22z"/>
<path stroke="#0050ff" d="M557 1282zm27-4zm29-115zm31 73zm35-93zm5 54zm7 2zm11-49zm6-31zm22 17zm2-1zm5 28zm12-92zm6-29zm0 9zm6 85zm3-89zm4 84zm1-84zm8 68zm12-11zm5-105zm4 58zm4-15zm5 85zm3 3zm12-54zm2 5zm4 19zm0-31zm2-5zm3 7zm5-40zm1 60zm5-134zm1 60zm2 32zm4-119zm2 104zm1-45zm4-10zm1-58zm3 85zm3 42zm5-53zm3 59zm1-62zm17 77zm1-23zm0 19zm3-36zm5-141zm12-32zm0 74zm1-47zm6 104zm0-85zm1 57zm11-172zm5 47zm0 102zm13-131zm0 167zm14-120zm2 2zm10 19zm2-14zm7-11zm1 59zm1-29zm3 54zm2-61zm9-8zm2-40zm0 48zm4 1zm5 76zm7-172zm2 77zm4-75zm11-38zm1 115zm2-120zm0-10zm5 74zm1-68zm1 41zm4 73zm4-37zm1-69zm0 52zm7-162zm1-3zm5 237zm1-63zm2-111zm0 14zm18 155zm9-115zm22-101zm8-6zm15-52zm6 26z"/>
<path stroke="#0060ff" d="M685 1129zm19-15zm19 37zm6-82zm29 44zm18-23zm1-7zm22-64zm3 96zm5-75zm1 0zm19-43zm0-15zm10 24zm2 69zm7-28zm2-107zm1-14zm16 58zm13 35zm2-128zm2 82zm1 59zm3-82zm3-16zm0 101zm1-152zm2 157zm1-87zm8-13zm3 98zm3-41zm9 21zm0 16zm1-3zm0-47zm1-63zm0 62zm2-139zm14 65zm0 104zm16-48zm2-155zm1 124zm1 51zm1-35zm2-60zm11 8zm6-96zm3 28zm3-13zm1 57zm1-48zm3 99zm3-199zm0 163zm2 72zm2-71zm2-21zm1-50zm1-46zm11 121zm2-56zm1-12zm0-69zm7 62zm5 61zm12-9zm1 55zm2-178zm1-7zm14 23zm5 50zm4-93zm31-10zm3 91zm6-141zm4-31zm2 26zm4 33zm35-84zm15-41z"/>
<path stroke="#0070ff" d="M304 1464zm0 1zm338-304zm39 26zm18-33zm0-72zm5 61zm31-71zm39 3zm8 19zm1 59zm9-40zm3-78zm9-50zm4-3zm1 109zm15-40zm2-17zm9 54zm1-102zm10 48zm5-14zm4 59zm1-122zm1-36zm2 83zm12-125zm8 156zm2-160zm2 54zm4 85zm5-14zm2-103zm2 120zm2 24zm6-45zm2-134zm2 28zm6 43zm4 43zm4 1zm2-116zm4 60zm13-31zm4 82zm12-100zm2-56zm7 35zm1 100zm7-158zm5 115zm3 77zm4-199zm5 18zm2 60zm1-67zm1 9zm6 35zm4-21zm5-52zm3-10zm15 72zm6-5zm5-62zm0 117zm17-25zm10-84zm1-9zm0 39zm5-4zm23-89zm4 100zm3-160zm3 82zm0-39zm0 59zm2-153zm17 28zm11 89zm9-71zm51-21zm147-181z"/>
<path stroke="#0080ff" d="M644 1159zm82-79zm28-54zm17 10zm13 26zm36 0zm6-22zm17-84zm1 9zm8 20zm15-26zm19-53zm7 50zm4 60zm9-87zm17-87zm2 79zm11 100zm1-27zm17-64zm6-58zm3 74zm5 1zm11-98zm5 79zm0 5zm1 40zm17-199zm3 71zm2 80zm17-235zm2 244zm0-20zm1-145zm18 37zm2-3zm13-43zm0 15zm3 66zm0 12zm10-125zm1-65zm3 15zm1-34zm8 139zm7-89zm1 70zm16-55zm2-68zm0 64zm1-86zm42 149zm1-149zm64-69z"/>
<path stroke="#008fff" d="M304 1464zm421-410zm50 37zm16-75zm7-37zm17 15zm24 50zm15-114zm5 70zm20 62zm14-31zm6-35zm3-110zm11 98zm14-77zm8 96zm8 24zm2-135zm6 86zm2-41zm2-90zm2 17zm10 143zm1-84zm1-127zm5 35zm3 85zm15-106zm2 92zm8 18zm5-32zm1 44zm1-58zm5-234zm13 159zm14 22zm3-24zm1-110zm1 198zm8-89zm7 79zm1-113zm12 3zm8 20zm1-53zm2 83zm11-113zm8-8zm16-68zm10 50zm11 83zm7-72zm10 33zm18 23zm73-149z"/>
<path stroke="#009fff" d="M659 1153zm82-32zm64-112zm36-13zm22-74zm16 8zm12-11zm18-7zm23-57zm3 136zm6-202zm1 68zm9 10zm1 117zm13-51zm20-128zm14-2zm1 108zm1-57zm7 29zm5-140zm1 202zm0-72zm3 21zm6-117zm1 28zm3 13zm13-8zm4-95zm5 60zm2 101zm0-128zm9-6zm7 73zm1-41zm2 123zm7-247zm6 142zm3-4zm2-37zm6 44zm4-92zm4 54zm7-3zm3-86zm8 131zm5-129zm20 56zm8-132zm31 109zm11-162zm94 60z"/>
<path stroke="#00afff" d="M303 1469zm4-8zm458-400zm43-49zm69 62zm45-134zm15-123zm15-105zm4 172zm7-24zm46-11zm8-56zm0-22zm1 21zm4 53zm4-42zm5-61zm4 56zm4 13zm1 1zm3 133zm2-272zm2 121zm6-72zm2 32zm2 86zm0-94zm0 148zm5-180zm1 57zm0 74zm2-103zm10-4zm12-14zm15 40zm1-96zm1 109zm11-108zm10-51zm8 108zm11 97zm10-90zm5-97zm1 19zm0-34zm51 39zm18-84z"/>
<path stroke="#00bfff" d="M897 1026zm11-66zm30-90zm1-7zm44 68zm8-81zm4-40zm4-26zm1 177zm6-215zm11 81zm8-101zm1 65zm6-46zm1 72zm3-20zm5 40zm4-156zm8 65zm1-55zm11 117zm0 31zm6-162zm4-7zm14-34zm10 96zm3-151zm5 196zm6-102zm8-130zm23 177zm7-44zm21-146zm5 89zm12 44zm5 0zm8-3zm9 17zm2-39zm18 80zm5-155z"/>
<path stroke="#00cfff" d="M306 1465zm637-514zm31-106zm1-28zm47-63zm10 116zm1-24zm10-68zm0 77zm1-69zm5-83zm0 221zm17-160zm3-2zm23-84zm10 76zm0-23zm9 8zm2-173zm11 108zm8 52zm12-130zm0 53zm6 8zm15 75zm4-89zm3-56zm1 101zm2-21zm8-58zm4 18zm6 34zm14-18zm48-92zm8-130zm2 145zm8-39z"/>
<path stroke="#00dfff" d="M802 1066zm33-105zm112-175zm15 157zm3-86zm18-22zm2-168zm6 222zm5-21zm26 79zm8-133zm9-53zm3 88zm7-58zm2-48zm1 6zm6 2zm6 25zm4 27zm7-17zm9-107zm1 157zm11-94zm3 38zm6-53zm1-160zm0 160zm2 63zm9-137zm1 4zm8-13zm11 48zm3-11zm10 10zm2 25zm1-46zm6-85zm17 11zm1 70zm16-53zm20-38zm5 146zm21-102zm3 52zm13-167z"/>
<path stroke="#00efff" d="M924 914zm51-112zm21 55zm9-96zm48-10zm5 99zm11 46zm7-134zm1 20zm2 22zm0-22zm10-117zm6-26zm18 129zm2-51zm4 120zm3-26zm19-164zm4 7zm1 102zm4-16zm4-205zm6 104zm13 42zm8-143zm4 31zm2 64zm1 53zm5 12zm12-192zm29 97zm8-57zm13-115zm7 84zm2-77z"/>
<path stroke="#00ffff" d="M306 1470zm670-605zm45-25zm14-44zm54-67zm21 126zm0-183zm20-1zm4 68zm28 3zm2-125zm2 103zm5 62zm32-148zm7 43zm12-26zm19-92zm24-51z"/>
<path stroke="#10ffef" d="M1003 908zm40-15zm43-104zm40 31zm6-193zm3 24zm16 112zm28-142zm0 18zm8 26zm14-79zm7 38zm8 34zm3-79zm6-9zm2 60zm8-34zm12-101zm2 119zm2 48zm22-167zm39 41zm54 9z"/>
<path stroke="#20ffdf" d="M994 812zm44-68zm84-54zm24 87zm3-166zm15-62zm8 64zm7 60zm0-181zm26 37zm48-31zm2 108zm3-111zm2 69zm3-33zm23 60z"/>
<path stroke="#30ffcf" d="M309 1458zm736-662zm25-6zm60-122zm11 17zm11 51zm9-84zm2 95zm5-66zm3-61zm0 130zm2-96zm7-49zm7 82zm19 10zm38-95zm7 34zm5-81zm107-83zm10-33z"/>
<path stroke="#40ffbf" d="M311 1460zm0-5zm787-816zm44 21zm18-106zm4 148zm7-26zm37-20zm12-28zm11-58zm13-40zm6 41zm7-130zm0 148zm47-61zm2-1zm51-51zm9 31z"/>
<path stroke="#50ffaf" d="M1052 778zm41-151zm54 79zm36-101zm1 84zm12-47zm10-208zm79 129zm14-145zm57 106z"/>
<path stroke="#60ff9f" d="M1130 732zm42-124zm18 47zm22-10zm19 3zm15-120zm16 8zm13-10zm1 65zm7 53zm12-254zm13 87zm26-51zm2 32z"/>
<path stroke="#70ff8f" d="M1126 643zm50-35zm14 6zm11 2zm5-24zm23 44zm7-133zm25-9zm33-33zm5 75zm10 32zm10-181zm50 72zm20 48z"/>
<path stroke="#80ff80" d="M311 1455zm4-1zm839-803zm41-67zm94-34zm3-147zm14 155zm18 38zm1-217zm10 86zm40-45zm9 56zm50-87z"/>
<path stroke="#8fff70" d="M313 1454zm1 0zm887-782zm45-90zm13 54zm24-34zm2-117zm17 87zm25-167zm12 15zm7 96zm22-89z"/>
<path stroke="#9fff60" d="M313 1451zm903-861zm17-73zm61-28zm18 93zm22-207zm26-34z"/>
<path stroke="#afff50" d="M1220 616zm113-116zm46-72z"/>
<path stroke="#bfff40" d="M1336 473zm62 28z"/>
<path stroke="#cfff30" d="M1304 517zm37-73zm83-131zm45 55z"/>
<path stroke="#dfff20" d="M315 1447zm984-914zm74-115zm32-103zm25 29z"/>
<path stroke="#efff10" d="M1296 542zm4 36zm64-85zm18-137z"/>
<path stroke="#ffff00" d="M320 1449zm994-872zm90-229zm35 141zm7-137zm88 62z"/>
<path stroke="#ffef00" d="M1363 362z"/>
<path stroke="#ffdf00" d="M320 1451zm1059-1049zm35 100z"/>
<path stroke="#ffcf00" d="M1469 269z"/>
<path stroke="#ffbf00" d="M318 1449zm1 0zm1 1zm0 3zm1-6zm1049-950z"/>
<path stroke="#ff7000" d="M322 1445zm1160-1072zm101-115z"/>
<path stroke="#ff6000" d="M322 1446z"/>
<path stroke="#ff5000" d="M1510 344zm86-93z"/>
<path stroke="#ff4000" d="M1411 470z"/>
<path stroke="#ff2000" d="M1540 242z"/>
<path stroke="#ef0000" d="M1507 281z"/>
<path stroke="#800000" d="M1583 353z"/>
<path stroke="#00008f" d="M295 1463zm0 4zm1-4zm0 10zm0-10zm1-25zm2 9zm1 18zm0-12zm2 16zm1 1zm0-14zm1-16zm0 0zm0 1zm0 17zm0-19zm1 4zm0 11zm1-4zm2-8zm0 20zm1-8zm1-22zm0 31zm1-3zm0-30zm0 12zm1-1zm1-11zm2 4zm1 26zm1 0zm5-17zm1 7zm1-15zm0-12zm0-1zm2 15zm1-1zm2-23zm1 35zm0 4zm2-8zm2-41zm2 24zm1 8zm0 5zm0-23zm0 6zm1 11zm1-2zm0 3zm2-8zm0-16zm1 2zm0 37zm0-15zm1-31zm1 30zm1-33zm0 5zm1 12zm0 5zm2 17zm0-13zm0-28zm0 25zm2-10zm0 6zm0-6zm1 1zm0-12zm0 11zm1-22zm4 29zm0 4zm1-34zm1 45zm4-43zm2 27zm0 6zm1-17zm0-9zm2-14zm0 26zm0-37zm0 38zm3-6zm0 7zm1-4zm1 0zm2 4zm0-13zm1-8zm0 25zm0-13zm1-34zm1 48zm1-21zm0-5zm0 40zm1-14zm1-8zm0-40zm1 40zm0-12zm1-22zm0-9zm2 47zm0-56zm0 11zm1 48zm0-18zm0 9zm1 0zm0 8zm1-28zm2-10zm0 17zm1-35zm0 46zm2-19zm0 5zm1-7zm1-12zm2 96zm0-85zm0 9zm1 6zm0-70zm1 42zm0 105zm3-76zm1 0zm1-3zm0-14zm1-6zm0 16zm0-16zm1-10zm2-5zm2 23zm1 1zm1 7zm1-44zm1 21zm0 25zm0 32zm1-37zm0-30zm1 36zm1-17zm0 14zm0-13zm1-41zm0 40zm1-11zm0 0zm1-36zm1 57zm0-26zm0 11zm0-1zm2-17zm1 17zm1-25zm0 0zm0 24zm0-42zm1 30zm1 90zm0-118zm0 34zm0-20zm0-18zm0 30zm0-16zm1 115zm0-84zm2 1zm0-36zm0 19zm1 8zm2 62zm1-50zm0-29zm1-3zm1 5zm1-20zm0 10zm1 38zm0-50zm0 4zm1 138zm0-104zm1-9zm0-24zm0 13zm2-28zm2 27zm0 12zm1-24zm0 21zm1-32zm0 14zm0-20zm1 44zm1 108zm1-105zm1-40zm1-26zm0 52zm0-5zm0-21zm1 31zm0-29zm2-10zm2 85zm1-50zm1-1zm0 9zm0-38zm1 15zm0-34zm1 30zm1 23zm1-32zm1 10zm0 14zm1 2zm0-13zm3-13zm0-31zm0 41zm0 13zm2-38zm1-31zm1 65zm2-6zm1-44zm0 39zm1 22zm1-32zm1-20zm0 29zm0 20zm1-51zm0 54zm0-55zm1 50zm2 4zm0-23zm1 6zm2 2zm1 13zm1-2zm0-9zm0-8zm0-52zm0 51zm0-49zm0 26zm1-28zm0 48zm0-33zm2 45zm1-48zm2 105zm0-113zm0 31zm1 12zm0-25zm0 40zm1-29zm1-7zm0 7zm0 13zm1-34zm1 46zm1-63zm0 20zm0 35zm0 10zm1-23zm0-43zm0 8zm1-5zm1 45zm0 14zm1-43zm1 34zm0-6zm0 142zm1-142zm0 1zm0 3zm1-57zm0 49zm1-45zm0 50zm0-64zm0 78zm0-29zm0-44zm0 22zm1 21zm1 15zm0-29zm0-29zm1 7zm1 55zm1 1zm0-36zm0 14zm0-36zm1 15zm0-11zm0 49zm0-36zm2 2zm0 6zm1-4zm1 31zm0-31zm1 170zm1-208zm1 2zm0 64zm0 1zm1-49zm1-23zm0 45zm1 26zm1-6zm0 0zm3-26zm0 117zm1-97zm1-36zm0 32zm3-28zm0 38zm2-16zm1-8zm1 28zm0-9zm1-29zm0-45zm2 80zm0-6zm1 7zm1-25zm1-32zm0 15zm2-15zm0 18zm0 33zm2-36zm0-8zm0 25zm0-7zm1-53zm0 1zm0 10zm1 31zm0-12zm1 5zm1-8zm0 30zm0-21zm1-28zm0 34zm1 12zm1-38zm2-28zm1 54zm0-6zm1-5zm1-29zm0 68zm1-52zm0 0zm0 33zm1-31zm1-3zm0-7zm0 59zm1-36zm0 29zm0-2zm1-17zm0-51zm1 68zm1-15zm2-14zm0 6zm0 5zm2-4zm1 25zm1-26zm0 23zm0-28zm0 7zm1-52zm1 34zm1 8zm0-28zm1-28zm0 57zm1-6zm1-48zm4 25zm0 13zm0 6zm1-48zm1 45zm0-22zm0-10zm1 14zm1 38zm1-9zm0-44zm0 46zm0-31zm1 22zm0-21zm1 17zm1-9zm0-31zm0 55zm1-11zm0-55zm1 36zm0 3zm0-24zm1-1zm1 35zm0-25zm0-19zm2 40zm0-59zm0-38zm1 114zm0-53zm2-8zm2 33zm1 8zm0-23zm1 23zm1 11zm0-19zm1 19zm0-13zm2-26zm0-39zm0 4zm1 7zm1 54zm1 23zm0-6zm0-22zm1-29zm0-1zm1 1zm0-15zm1-16zm1 26zm0-12zm2 25zm0 22zm0-3zm1-28zm1 3zm3 49zm0-69zm0 25zm0-50zm1-10zm1 62zm0 5zm0 13zm1-23zm0-12zm0 42zm2-34zm0-16zm0 32zm0 3zm2-60zm0-10zm1 2zm0 13zm1 42zm0 14zm0 0zm1-30zm1 36zm0-100zm0 108zm0-31zm1-47zm1 52zm0 17zm1 0zm0-36zm1 20zm0-18zm1 10zm1 42zm0-48zm0-2zm1-36zm1-7zm0 52zm1-2zm0 7zm1-52zm0 23zm1-12zm0 40zm1-42zm0 19zm0 20zm0-59zm1 5zm0 20zm1-78zm1 71zm1 3zm0 0zm1 0zm0-2zm0 50zm0-36zm2-35zm0 29zm0-34zm2 6zm0 24zm0 29zm1-64zm1 11zm0 8zm1 33zm1-18zm0 60zm1-88zm0 14zm1 28zm1 16zm0-39zm2 35zm0-63zm0 0zm1-4zm0 55zm1-6zm0-38zm0 28zm1-27zm0 4zm0 12zm1-60zm1 73zm1-53zm1 108zm0-69zm0 35zm1-49zm1-26zm0 59zm1 21zm0-50zm0 40zm1-22zm2-37zm1 70zm0-89zm1 27zm1 30zm0 49zm3-15zm1-8zm1-88zm2 36zm0 33zm0-12zm1 30zm0-37zm3-8zm0-23zm0 1zm1-80zm0 63zm0 39zm0 24zm1-50zm0 18zm1-4zm2 43zm1-7zm1-68zm0 10zm1-16zm0 76zm1-6zm0-11zm1 5zm0 41zm2-54zm0 4zm0-3zm0 13zm2-45zm3-13zm2 69zm1-57zm1 23zm1-3zm2-46zm0 63zm0 27zm1-48zm1-47zm1-15zm1 14zm0-8zm0 5zm1 0zm0 66zm1-54zm1 30zm0-15zm1 4zm0 29zm1-82zm0 55zm0-37zm1 11zm0 2zm1 64zm0-11zm1-24zm1 5zm0-34zm1 59zm0-42zm0-37zm2 29zm0 36zm1 12zm2-23zm1-66zm0 93zm0-42zm0-41zm2 71zm0-21zm1 27zm0-5zm0-14zm0-57zm0 53zm3 0zm0-5zm1 20zm0-28zm0-5zm1-36zm1 18zm0-28zm1 59zm1-51zm0 40zm0 10zm2-88zm0 37zm1 31zm0 18zm1-34zm0 23zm1-10zm1 27zm2-31zm0-25zm1 3zm0 8zm0 54zm1-51zm0-39zm2-8zm2 67zm2 28zm1-43zm0-6zm1 72zm1-72zm1 12zm2 9zm2-56zm0-23zm0 31zm1 38zm0-22zm3-36zm0 155zm0-164zm2-3zm2 61zm0-56zm1 14zm1 120zm3-74zm0 18zm0-13zm2 65zm0-143zm0 58zm0-143zm1 177zm1-46zm0-48zm1 130zm2-109zm0 74zm0 39zm0-94zm0 26zm1 30zm1-24zm0-2zm0-128zm0 193zm0-43zm1-92zm0 77zm1 5zm1-11zm0 3zm1-104zm0 26zm0 74zm1-19zm0 15zm1-79zm0-5zm1 78zm0-59zm1 33zm0-121zm1 145zm0 14zm0 18zm1-26zm1-60zm1 25zm0 51zm1-38zm5 26zm1-15zm1 4zm2-32zm0 47zm0 14zm1-62zm1-53zm1 32zm3 34zm0-18zm1-22zm0 52zm3-20zm0 7zm1 25zm0-110zm1 64zm0-14zm0 31zm1 12zm1 67zm2-105zm2 97zm1-130zm1 5zm0 44zm1-29zm2 8zm2 31zm0 49zm1-118zm0 85zm1-46zm0-15zm0 24zm1-79zm1 107zm1 6zm1-48zm0 6zm0 18zm1-59zm0-26zm1 90zm0-53zm0-25zm1 37zm1-48zm0 131zm1-82zm1 24zm0-27zm0-53zm1 113zm2-101zm0 135zm2-51zm0-23zm0 58zm1 26zm1-90zm0 58zm0-101zm1 91zm1-27zm0-2zm0-11zm2-36zm0 68zm0-19zm1-94zm3 11zm0-48zm0-12zm3 141zm0 24zm2-59zm2-59zm1-16zm2 133zm4-52zm0 85zm2-52zm2-21zm0-103zm0 105zm0-77zm2 49zm0-72zm2 42zm0 55zm1-34zm0-7zm1-8zm0-44zm2 21zm0 51zm2-118zm1 37zm0 65zm2-61zm1 47zm1-3zm1 70zm1 42zm0-137zm1 113zm1-73zm0-61zm1 22zm0 64zm1-26zm0 9zm0-117zm1 104zm0-91zm1 17zm2 43zm1-17zm0-1zm0 17zm1-104zm1 219zm2-66zm1 1zm2-27zm0-46zm1 65zm1-34zm1-34zm0-2zm0 36zm1-30zm2 4zm0-124zm2 80zm1 88zm0-24zm1-37zm3-4zm0-7zm0 39zm0-31zm1-3zm0 147zm0-275zm1 142zm1 114zm4-72zm0-44zm1 21zm1 54zm0-106zm2 6zm2 49zm0 43zm1-70zm1-9zm1 35zm3-36zm1 0zm0-43zm0 91zm2-81zm2 79zm0 39zm0-117zm1 17zm1-101zm1 55zm2 111zm2-82zm0 100zm0-184zm2 172zm3-24zm0-14zm1 1zm1-125zm0 156zm2 46zm0-15zm1-215zm4 193zm2-55zm0 13zm0-25zm1 52zm1-162zm2 156zm1 10zm1-89zm1 84zm4-71zm2 2zm3 78zm3-92zm1-48zm0 151zm1-141zm0-41zm0 21zm4 141zm1-147zm1 84zm1 117zm3-98zm1-48zm0 41zm1 23zm1-69zm2-61zm2 5zm2-11zm2 84zm1-30zm1 55zm5-234zm3 259zm0-240zm3 103zm1 105zm0-31zm1-147zm1 169zm2-66zm0 1zm1 72zm0-35zm2-84zm1 6zm2 12zm0-23zm2-80zm0 151zm8-64zm0-49zm2 63zm0 104zm6-87zm0 7zm1 68zm0 91zm1-231zm3 128zm1 11zm4 51zm10-85zm1 6zm4-25zm0-112zm1 125zm1-28zm8-27zm0-64zm1 130zm3 20zm0-51zm1 9zm2-82zm0 63zm3-143zm3 133zm2-1zm0-119zm1 102zm0 20zm0 3zm5 56zm2-3zm0-13zm1-56zm0-15zm1 44zm6-70zm4-66zm3 152zm9 29zm4-166zm4 39zm7 45zm2-66zm1 99zm1-28zm5-67zm1 96zm5-20zm2-18zm2 5zm3-43zm4-25zm11 58zm1-54zm4 56zm2-53zm5-54zm3-127zm4 94zm8 33zm1 18zm6-6zm44-58zm4-2zm0-11zm1 64zm8-41zm19 7zm86-189z"/>
<path stroke="#00009f" d="M326 1435zm11-5zm8-18zm6 26zm30-47zm1-1zm10 8zm7-15zm0 15zm11-19zm9-51zm6 57zm8-33zm6 4zm0-16zm9 12zm3-38zm8 6zm6 16zm19-3zm11 4zm4-64zm6 41zm5-21zm3-5zm10-22zm9-26zm8 66zm22-89zm15 8zm1 27zm4-37zm22 25zm13-47zm8 48zm1-51zm2-10zm23-8zm10-43zm10 32zm1-51zm13 52zm8-39zm17 11zm0-58zm8 44zm5-13zm7-17zm6 20zm1-16zm1 19zm4-129zm7 102zm22 23zm15-62zm4 50zm12-88zm6 6zm3 47zm14-109zm9 82zm33 40zm0-94zm4-1zm23-41zm23-15zm12-81zm6 31zm2-240zm5 298zm0 5zm11 6zm9-96zm6 83zm1-77zm2-5zm4 54zm20-43zm32-151zm81 81zm18-24z"/>
<path stroke="#0000af" d="M296 1476zm12-27zm8-5zm0-2zm5 2zm31-40zm2-7zm8 26zm0 5zm26-38zm5-1zm29-13zm12-45zm6 7zm19-11zm6 32zm0-36zm0-17zm5 46zm5 0zm20-50zm5 9zm2-32zm8 6zm13 22zm9-9zm10-44zm6 7zm1 29zm4-3zm2-53zm6 55zm3-84zm4 21zm11 13zm2-40zm11 14zm0 50zm1 5zm5-28zm1-21zm7-56zm1 6zm1 8zm4 60zm23-49zm5 19zm0-44zm1 35zm13-16zm7-3zm12 14zm0-9zm2-65zm1-2zm2 22zm9-17zm1 11zm9 43zm9-57zm21-7zm0-20zm14 41zm0-54zm7-38zm21 5zm10 89zm1-26zm8-48zm2-30zm19 20zm2-61zm0 13zm9 37zm31-78zm7 126zm16-116zm14 1zm8-56zm8-4zm4 122zm8-159zm1-27zm5 141zm5-70zm12-41zm15-38zm32-10zm8 26zm2-72zm2 76zm44 70zm4-126zm42-44zm92-64z"/>
<path stroke="#0000bf" d="M296 1447zm35-17zm29-25zm3 0zm0 20zm23-30zm18-20zm12 19zm11-37zm5 13zm17-48zm8 21zm2 7zm1-13zm4-66zm10 36zm3 26zm2-43zm4 19zm2 41zm11-72zm1 42zm24-40zm13-37zm7 47zm5-25zm1-23zm3 19zm11 10zm10 3zm1-23zm4-4zm10-10zm7-11zm8 15zm1 1zm4-73zm4 34zm10-42zm0 21zm1 41zm2 6zm5-18zm3-5zm0-10zm2-41zm7 44zm4-57zm2 34zm6-42zm9 12zm3 11zm25-95zm10 95zm5 14zm1-68zm4 31zm13-31zm4-19zm6-21zm7-14zm6 34zm1 35zm1-79zm2 83zm4-5zm5-15zm6-15zm5-102zm2 55zm0 2zm9 61zm1-59zm2 6zm8-39zm4-103zm1 190zm4-57zm3 41zm1-49zm11 16zm3-92zm14 80zm11-59zm6-26zm3 40zm8 2zm2-24zm18 55zm8-32zm3-114zm24 108zm4-170zm6 163zm5-145zm26-25zm7 14zm23-28zm39-26zm6 116zm41-109zm77-130zm2 92zm62-25zm62-105z"/>
<path stroke="#0000cf" d="M295 1456zm30-33zm8 23zm21-20zm3-37zm12 36zm48-59zm17-29zm12-18zm1 26zm1 11zm31-34zm17-49zm16 31zm6 5zm2 7zm1-26zm16 17zm11-68zm1 62zm1-30zm2 31zm18-96zm12 23zm2-7zm1 40zm2-46zm8-25zm8 31zm13-13zm14-19zm1 50zm3-49zm4 14zm2 30zm5-32zm4-43zm10 17zm1-24zm14 8zm9-47zm0 37zm22-40zm1 31zm6-32zm5-4zm1 62zm3-98zm2 71zm5-23zm1-60zm1-7zm2 71zm1-33zm13-21zm4-42zm3 63zm1-44zm3 62zm4-83zm3 31zm6 28zm2-1zm8-74zm4-46zm5 16zm12 2zm16 23zm5-4zm1 29zm7 57zm10-88zm3-1zm1 91zm14-102zm13-6zm8-58zm9 81zm1 23zm13-52zm7-106zm2 118zm0-18zm5-64zm3 26zm16-43zm7-53zm0 73zm6 33zm0-28zm5-89zm5 124zm2-23zm11-42zm11-35zm3 26zm17 40zm46-85zm14-2zm0-28zm143-166z"/>
<path stroke="#0000df" d="M355 1433zm20-48zm83-45zm15-10zm30-6zm4 11zm1-34zm6-2zm13-25zm7 0zm10 20zm8-75zm4 31zm3-22zm21 12zm4-18zm6 25zm4-6zm2 12zm4-57zm2-6zm2 32zm2 20zm5-38zm0 33zm1-13zm1-15zm2 20zm1-44zm0 6zm5 18zm6 19zm8-76zm0 21zm15 6zm12 1zm1-60zm5 66zm4-13zm4-39zm3 23zm6-39zm2 33zm2-31zm9 14zm4-9zm0-27zm1 53zm3-47zm3 20zm2-35zm1 1zm0-12zm5 99zm1-56zm4-3zm6-22zm0-2zm2 42zm2-55zm1 56zm17-104zm6 77zm6 4zm1 0zm3-10zm10 42zm3-133zm0 116zm4-107zm6-21zm4 48zm1-23zm3 27zm15 63zm21-116zm6 11zm11-85zm9 123zm3-79zm11-28zm2 69zm5 21zm19-40zm4-88zm6 92zm5-59zm9-6zm2-66zm11 30zm5 137zm45-146z"/>
<path stroke="#0000ef" d="M299 1463zm263-222zm25 10zm1 9zm3-43zm7 4zm6 29zm1-70zm5 80zm1-4zm2-7zm7-89zm10 59zm3-32zm7 33zm7-8zm1-5zm15-95zm4 106zm0-6zm2-75zm5-3zm2 78zm1-39zm0 40zm0-35zm4 7zm3-16zm5-51zm0 80zm11-7zm27-135zm2 72zm4-73zm2 59zm1 24zm1-64zm5 6zm3 55zm8-92zm2 93zm3-5zm4-17zm2-43zm0 32zm2 26zm16-65zm1-12zm2 73zm3-30zm2-89zm7 52zm1 32zm4-55zm1-13zm1-23zm2 126zm1-121zm1 41zm3-109zm5 213zm3-143zm5 11zm1 21zm18 11zm3-13zm0 38zm6-9zm3-14zm6-40zm0 20zm3-27zm12-67zm18-31zm9-5zm14 54zm16-59zm10-21zm1 104zm53-152z"/>
<path stroke="#0000ff" d="M504 1302zm32 5zm2-32zm36 6zm24-26zm1-54zm14 38zm15-31zm7 22zm2-33zm1 2zm2-14zm0-22zm12-31zm1 44zm1 45zm1-98zm16 43zm1-19zm2 20zm0-19zm3 59zm6-36zm4-15zm1-8zm2-48zm2-3zm8 83zm1-36zm2 33zm2-86zm4 55zm16 20zm6-89zm5 19zm7 32zm4-69zm5 77zm2-6zm2-54zm6 86zm1-134zm6 17zm0 86zm2-109zm3 27zm2 3zm2 84zm6-2zm0-82zm1 74zm1-80zm9 71zm7-145zm1 16zm2 116zm7-50zm2-30zm1 29zm4 12zm1-41zm6-1zm0-2zm9 72zm9-56zm15-99zm0 126zm1-3zm2-3zm0-2zm2-112zm2 96zm0-81zm1-3zm2 127zm0-70zm3-51zm4 40zm3-48zm2 2zm8 15zm6-23zm4-18zm14 91zm1-26zm5-66zm13 42zm31-125zm18-24zm2-93zm5 108zm8 39zm2 31zm46-70zm36-126z"/>
<path stroke="#0010ff" d="M543 1218zm20 16zm13 17zm7-41zm16-11zm3 0zm13 45zm5-10zm3-7zm10-49zm0 40zm1-3zm1-60zm3 76zm0-78zm2 67zm15-69zm1 55zm1 12zm5-25zm0-16zm5-44zm3 28zm1 25zm1 9zm5-81zm3 18zm5 64zm3-54zm1-49zm0 3zm0 37zm11 46zm1-50zm1 64zm0-48zm1-23zm0 44zm2-5zm8-36zm2-8zm2-17zm2 24zm1 29zm13-38zm5-17zm9 36zm0-69zm5 62zm0-4zm3-20zm4-56zm6-18zm4 102zm5-99zm1 5zm0-19zm4 77zm1-76zm8 101zm14-84zm1 6zm2 75zm0-61zm11-101zm0 44zm1-78zm0 77zm5 9zm3 36zm9 34zm21-152zm8 32zm13 101zm1-128zm1 94zm2 38zm3-100zm3 82zm11-5zm4-116zm1-55zm3 168zm8-154zm0 52zm1 84zm11-58zm2 29zm5 1zm0-100zm14-63zm4 26zm11 85zm4-138zm1 26zm3 120zm9-52zm8-97zm1 92zm1 8zm11-92zm30 5z"/>
<path stroke="#0020ff" d="M532 1263zm59-29zm9-12zm15 27zm4 1zm23-15zm5 0zm16-29zm10-4zm1 12zm2-14zm0-73zm6 18zm15 49zm1-82zm4 43zm7 22zm1-9zm1-98zm0 46zm9-2zm8 35zm0-73zm0 84zm2-108zm1 109zm3-74zm22-13zm0-15zm0-10zm6 57zm0-45zm1-8zm2-56zm1 36zm2 82zm3-1zm3-55zm9-16zm1 60zm3-12zm0-3zm14 27zm1-47zm2 10zm1 14zm4-84zm2 77zm5 10zm3-87zm1-2zm0 59zm2 28zm4-71zm6-10zm3 47zm3-45zm1-40zm0 81zm3-111zm1 85zm3-75zm1 33zm3 34zm2 59zm8-65zm3-57zm6 41zm1-74zm5 127zm1-82zm0-54zm1 131zm1-23zm2 18zm3-4zm5-16zm1-134zm3 146zm1-51zm3 26zm1-113zm5 71zm4 41zm8-59zm4 57zm1 11zm5-94zm8-32zm5 111zm3-182zm8-63zm5 156zm1 59zm2-149zm3 54zm2-82zm4 70zm2-29zm2 54zm4-55zm6 4zm11-19zm26-95zm14 45zm1-17zm18-17zm54-106z"/>
<path stroke="#0030ff" d="M599 1205zm10-35zm17 43zm3 28zm13-149zm2 71zm8-28zm2 77zm0-12zm3-20zm8 0zm8-3zm3-28zm0-52zm6 61zm0 40zm2-104zm3 112zm10-12zm12-72zm3 45zm12-2zm9-19zm9-34zm3-25zm6 28zm2-77zm4 91zm5-10zm7 12zm4-17zm2-97zm4 12zm3 27zm1 70zm1-130zm1 62zm1 66zm1-106zm2 61zm2-29zm1 50zm0-116zm4 102zm1-45zm4-59zm0 85zm14-93zm0 124zm2-56zm3 53zm3-62zm1 59zm3-18zm1-12zm2-89zm1 48zm8-97zm4 139zm2-53zm5-5zm1-20zm4 74zm4-94zm1 27zm5-12zm2 76zm5 21zm0 6zm1-57zm1 25zm2-7zm1-5zm2 20zm3-64zm1 51zm2-45zm1-60zm1 130zm3-28zm4-102zm1 88zm1-100zm5 100zm0-108zm2 70zm8-80zm1-34zm0-15zm1 162zm0 0zm5 5zm2-22zm9-133zm4 88zm5-152zm6 134zm11-67zm1 20zm4 42zm9-135zm7 2zm5 93zm6-42zm16-56zm18-30zm28 97zm8-68zm20-78zm29-17z"/>
<path stroke="#0040ff" d="M563 1251zm75-64zm26-25zm3-39zm7 30zm3 46zm3-99zm5 22zm8 69zm0-63zm3-20zm8 46zm13-73zm3 85zm2-14zm2-79zm0 94zm11-25zm6-30zm0-76zm2 50zm10-1zm1-20zm17 4zm6-4zm2-56zm2 40zm3 74zm1-47zm6-52zm2 36zm8-56zm4 64zm3-18zm3 61zm2-94zm3 75zm0 1zm1-75zm4-34zm1-12zm8 59zm1 61zm3-145zm0 139zm1-1zm1-10zm0-64zm0 63zm6-76zm1 28zm7-41zm6 30zm1-58zm7 107zm0-7zm4-97zm3 79zm2-5zm0 10zm3-1zm0-134zm5-1zm0 76zm1 9zm4-23zm1 76zm1 6zm2-133zm10-24zm2 44zm4 82zm3-99zm0-20zm6 30zm0 32zm7 56zm4-10zm3-121zm4 126zm0-61zm2 51zm1-123zm2 67zm3-80zm1 130zm0-9zm4 24zm2-46zm2-12zm4 11zm1-122zm0 83zm1-29zm5 57zm4-69zm2-38zm1 117zm1-95zm2 25zm4-121zm1 122zm26-88zm4 60zm0-123zm4 84zm9-67zm1 122zm5-15zm0-61zm1 40zm2 19zm7-17zm1 36zm4-54zm4-1zm2 11zm2-48zm4-18zm9-73zm11 187zm5-34zm22-128zm9-21zm14-75z"/>
<path stroke="#0050ff" d="M659 1207zm2-46zm28 43zm0-83zm9 59zm33-8zm7-108zm10 19zm4 66zm1-22zm4-58zm17-28zm10-37zm1 141zm7-102zm3 83zm4-86zm4 51zm13-45zm5 32zm1 19zm1-114zm3 23zm12 69zm5-64zm1-10zm0 68zm2-133zm1 144zm2-74zm2 66zm7-31zm5 31zm5-129zm1 125zm8-148zm1-29zm8 160zm4-180zm2 45zm5 21zm2-27zm0 115zm3 2zm3-67zm2-9zm1-3zm8-87zm1-51zm0 205zm2-88zm3 89zm1-133zm0-1zm3 137zm0-112zm6-63zm2 63zm0 109zm4-31zm2-69zm1-3zm3-14zm0-6zm1 58zm0-61zm1-65zm6 31zm11 48zm11-51zm1-46zm0 189zm3-17zm0-182zm5 126zm7-33zm9-35zm1 4zm8-65zm1 122zm6-185zm3-8zm7-8zm6 114zm0-68zm0 125zm11-123zm4 18zm6 50zm3 25zm1-193zm9 144zm2-32zm3-23zm0-131zm5 188zm23-70zm9-94zm16-12zm42 126z"/>
<path stroke="#0060ff" d="M302 1464zm4 3zm275-189zm47-108zm9-28zm12 67zm14-60zm38 27zm4 7zm35-36zm8-46zm2-62zm0 20zm13 34zm1 7zm22-63zm4-49zm6 20zm4-30zm3 95zm1 5zm1-10zm4-10zm31-47zm12-18zm4 29zm1-118zm6 133zm2-132zm5 13zm1 98zm5 43zm2-114zm1 88zm1-61zm0 24zm3-96zm7 149zm1-124zm1 84zm1-73zm1 122zm3-61zm2 32zm4-53zm3 54zm2-78zm1 12zm5 56zm2-167zm2 19zm2 27zm1 55zm3-47zm3-26zm3 135zm2 72zm13-160zm1-29zm3 59zm0-58zm6-23zm19-38zm2-103zm0 76zm1 124zm0-118zm4 88zm1-65zm3-74zm5 87zm4-1zm5-56zm1 135zm1-165zm5 20zm1 20zm6 50zm12-114zm19 26zm5 47zm6-22zm0-32zm1 73zm0-58zm10-78zm8 23zm10-38zm13-62zm0 21zm1 117zm3-75zm6 18zm1-141zm31 203zm48-115z"/>
<path stroke="#0070ff" d="M600 1215zm134-160zm22 47zm15-49zm4-53zm4 87zm11-59zm1 68zm27-21zm1-71zm11 25zm10 32zm1-91zm7 56zm3-112zm10 28zm5 128zm1-26zm1-67zm0-17zm2 46zm8 27zm3-4zm8-110zm0-14zm6 97zm2-48zm4 72zm3-68zm7 66zm3-159zm21 117zm4 30zm0-121zm6-27zm5 68zm3-24zm6-129zm1 71zm2 7zm6-17zm2 151zm4-144zm12 78zm0-110zm6 21zm1 63zm8-12zm2-59zm8-2zm4 101zm1-162zm14-44zm2 66zm1-7zm14-27zm7 12zm3-64zm4 42zm13 42zm5-30zm7-19zm32 41zm5-58zm53 0z"/>
<path stroke="#0080ff" d="M303 1470zm1-7zm300-207zm125-142zm17-58zm29-12zm3 70zm48-154zm8 88zm30-2zm9-93zm14-36zm5 21zm9-56zm0 70zm18 32zm1-113zm6 12zm8-37zm7 20zm9-35zm3-70zm1 220zm10-114zm3 26zm8 21zm3 12zm1-94zm0 56zm17 25zm5-105zm13 15zm0-41zm8-1zm18 84zm14-1zm3-22zm3-122zm1 103zm0-126zm3 119zm3-114zm9-70zm2 116zm0-57zm31 36zm15-95zm0-70zm33 24zm33 179z"/>
<path stroke="#008fff" d="M305 1457zm457-440zm22 37zm61-71zm13 51zm1-115zm19 142zm4-6zm10-72zm9 42zm0-14zm14-85zm4 51zm4 5zm13-103zm3-47zm1 25zm4 113zm4-39zm8 8zm2-138zm1 33zm18 108zm1-145zm1 164zm2-254zm13 107zm11-5zm7-39zm10-28zm18 8zm3 164zm11-22zm11-142zm8-23zm2 28zm8-40zm16-97zm1 93zm0 37zm6-67zm1 12zm0-73zm15 122zm3-71zm0 58zm1-3zm5-36zm13-54zm31-60zm2 63z"/>
<path stroke="#009fff" d="M307 1465zm498-399zm60-13zm47-134zm8-115zm2 85zm19 45zm4-168zm11 142zm2 1zm6-119zm6 160zm3 4zm0-17zm5-125zm1 28zm4 122zm6-90zm5-38zm2-45zm0 127zm0-120zm2 34zm2-72zm16 81zm4-83zm15 62zm4-56zm5 29zm4 18zm1 23zm3-72zm4 35zm3-54zm5-26zm2-30zm5 9zm15-6zm2 128zm0-78zm3-91zm1 11zm8 71zm3 117zm0-123zm0-59zm4 93zm2 34zm12-110zm2 136zm0-107zm4-41zm7 20zm1-65zm3 52zm0 16zm4 26zm33-98zm11-34zm9 47zm3-16z"/>
<path stroke="#00afff" d="M855 998zm50-132zm5 115zm0-9zm12-69zm19 72zm10-69zm3-44zm11-69zm0 112zm10-61zm9 52zm4-17zm1 15zm9-35zm10-13zm2 2zm8-84zm4-17zm13 9zm6 54zm1 10zm4 17zm8-2zm2-116zm12-3zm0 70zm1-71zm2 45zm13 4zm0-81zm1 135zm6-28zm5-57zm1-26zm1-25zm3 28zm1 42zm5-92zm12 136zm21-112zm4 18zm8-22zm61-69zm35-49z"/>
<path stroke="#00bfff" d="M304 1466zm0-3zm1 4zm545-446zm42-70zm31-38zm7 111zm11-3zm2-54zm3-123zm16 70zm24 9zm4-76zm6-79zm0 121zm9-114zm0-24zm2-49zm1 94zm7 87zm2-146zm5 34zm0-47zm5 18zm5 96zm3-106zm2 22zm7 86zm4-40zm6-75zm1-43zm12 73zm1-15zm12 17zm0 27zm19-201zm4 166zm5-39zm2 46zm1 16zm4-113zm7 39zm9 42zm6-12zm1-35zm2 1zm9-37zm5-85zm1 144zm4-36zm1 49zm7-11zm15-142zm74 60zm2-126z"/>
<path stroke="#00cfff" d="M307 1461zm653-484zm6-241zm10 108zm4 17zm34-28zm0 18zm0-49zm2 9zm5-55zm3 51zm36-6zm0 21zm1-105zm23-28zm2 43zm2 64zm1-74zm4 75zm3-11zm1-106zm1 116zm4-146zm24 44zm18-51zm13 90zm0-68zm30-33zm9 59zm3 77zm0-114zm6-5zm1-120zm17 25zm33-28zm21-43z"/>
<path stroke="#00dfff" d="M939 978zm27-126zm5 99zm22-59zm3-89zm3 15zm25-86zm1-19zm5-4zm10 184zm2-41zm10-91zm4-9zm5-48zm0 31zm0-88zm13 87zm7 139zm13-222zm26-20zm4 116zm1-5zm7 23zm6-111zm13 12zm8-52zm10-18zm13-6zm24 56z"/>
<path stroke="#00efff" d="M308 1461zm537-469zm82-140zm10 141zm51-185zm8 130zm44-184zm14 9zm10-69zm30-67zm3 102zm1 15zm1-27zm3-45zm31 7zm2-14zm3 107zm11-123zm40-67zm1 42zm40-138zm6 84zm0 24zm24-45zm13-34zm90-143z"/>
<path stroke="#00ffff" d="M309 1462zm726-873zm45 196zm10-47zm9-10zm6-69zm3 68zm2-16zm12 71zm11-69zm16-51zm4 80zm22-174zm2-8zm9-31zm14 177zm2 9zm21-119zm6-26zm5-45zm10 94zm70-162z"/>
<path stroke="#10ffef" d="M310 1461zm709-578zm20-134zm45 1zm11-14zm35 85zm7-35zm1-102zm2 60zm4 15zm11-127zm2 63zm0-68zm19 11zm2-25zm16 94zm2-46zm2 66zm2-83zm34-4zm4 28zm8-77zm4 44zm2-16z"/>
<path stroke="#20ffdf" d="M308 1461zm1 0zm758-749zm51 10zm46-66zm14-16zm20-42zm38 65zm10-88zm2 77zm34-158z"/>
<path stroke="#30ffcf" d="M1001 774zm92-93zm28-11zm30 15zm10-127zm0 125zm3-100zm9-26zm14 206zm4-141zm1 152zm2-58zm10-123zm9-90zm4 232zm5-216zm20 82zm3 1zm2-76zm27 70zm18 26zm1-3zm5-122zm5 12zm45-26z"/>
<path stroke="#40ffbf" d="M310 1464zm711-749zm96 63zm32-146zm2-53zm8 170zm2-118zm4 100zm9-170zm2-16zm7 14zm2 23zm9 148zm46-129zm41-205zm33 46z"/>
<path stroke="#50ffaf" d="M310 1460zm3-10zm784-768zm21-17zm28-17zm16-66zm2 40zm21 21zm24 21zm5 54zm1-114zm28-65zm4 139zm3-128zm1-22zm6 42zm6-107zm4 112zm5-87zm0-7zm18-60zm78 18z"/>
<path stroke="#60ff9f" d="M310 1452zm3 4zm0-7zm821-830zm8 136zm36-130zm25 84zm3 40zm11-153zm47 24zm0-118zm7 170zm10-199zm12 23zm2-19zm1 76zm17-11zm13-45zm27-59zm18 87z"/>
<path stroke="#70ff8f" d="M1212 670zm8-97zm23 59zm9 3zm23-109zm8 54zm11 18zm22-148zm90 22z"/>
<path stroke="#80ff80" d="M1187 673zm14-154zm17 11zm28 137zm12-106zm31 16zm18 19z"/>
<path stroke="#8fff70" d="M314 1450zm0 3zm0 1zm869-893zm124-125zm19 5zm84-7zm23-42zm4-17zm85-90z"/>
<path stroke="#9fff60" d="M1196 544zm63 143zm6-40zm51-152zm20-117z"/>
<path stroke="#afff50" d="M1172 710zm9-15zm51-204zm20-57zm173-38z"/>
<path stroke="#bfff40" d="M313 1457zm908-791zm72-226zm28 13zm54-80zm65 149z"/>
<path stroke="#cfff30" d="M1340 378zm103-3z"/>
<path stroke="#dfff20" d="M317 1448zm962-956zm17-29zm3 188zm75-169zm26-121zm22 62z"/>
<path stroke="#efff10" d="M1340 396z"/>
<path stroke="#ffff00" d="M316 1453zm1-2zm1005-971zm43-1zm8 103zm40-143zm6-44zm31 30z"/>
<path stroke="#ffef00" d="M317 1453zm2-1zm1019-930zm11 146zm35-229zm41-106z"/>
<path stroke="#ffdf00" d="M320 1443zm1024-1036zm62 47z"/>
<path stroke="#ffcf00" d="M318 1452zm1 2zm853-958zm249 0z"/>
<path stroke="#ffbf00" d="M320 1446zm0-5zm1 7zm1 0zm1059-963zm161-233z"/>
<path stroke="#ff9f00" d="M322 1449z"/>
<path stroke="#ff8f00" d="M319 1448zm1071-1020zm83-138z"/>
<path stroke="#ff8000" d="M1428 335zm104-35z"/>
<path stroke="#ff7000" d="M1492 314z"/>
<path stroke="#ff6000" d="M1435 315zm123-55z"/>
<path stroke="#ff5000" d="M1526 297z"/>
<path stroke="#ff3000" d="M1559 176z"/>
<path stroke="#ff2000" d="M1503 292zm88-110z"/>
<path stroke="#ef0000" d="M1599 179z"/>
</g>
<path d="M308.7 1484.5L1724.6 151.7" stroke="#f00" stroke-width="10" stroke-dasharray="31.5 7.75 15.5 7.75" fill="none"/>
<g clip-path="url(#cb)" fill="none" stroke-linecap="round" stroke-linejoin="round" stroke-width="7">
<polyline stroke="#00008f" points="295,1844 309,1847 322,1849 335,1851 349,1852 362,1853 376,1854 389,1856 402,1858 416,1861 429,1864 442,1866 456,1869 469,1870 482,1871 496,1871 509,1871 522,1872 536,1874 549,1876 562,1879 576,1882 589,1884 602,1886"/>
<polyline stroke="#00009f" points="295,1832 309,1833 322,1834 335,1834 349,1835 362,1835 376,1836 389,1837 402,1839 416,1841 429,1843 442,1845 456,1847 469,1848 482,1850 496,1850 509,1851 522,1851 536,1851 549,1852 562,1853 576,1854 589,1855 602,1857 616,1859 629,1861 642,1862 656,1864 669,1865 683,1865 696,1865"/>
<polyline stroke="#00008f" points="295,1833 309,1834 322,1835 335,1836 349,1838 362,1839 376,1840 389,1841 402,1843 416,1844 429,1846 442,1847 456,1849 469,1851 482,1852 496,1854 509,1855 522,1856 536,1857 549,1858 562,1858 576,1859 589,1860 602,1861 616,1862 629,1863 642,1865 656,1866 669,1868 683,1869 696,1870 709,1871 723,1872"/>
<polyline stroke="#00009f" points="340,1851 354,1853 367,1856 380,1858 394,1861 407,1864 420,1866 434,1869 447,1871 460,1874 474,1875 487,1877 500,1878 514,1879 527,1879 540,1880 554,1881 567,1882 580,1884 594,1886 607,1888 620,1891 634,1893 647,1896 661,1899 674,1901 687,1903 701,1905 714,1906"/>
<polyline stroke="#00008f" points="368,1838 381,1839 394,1841 408,1842 421,1843 434,1843 448,1844"/>
<polyline stroke="#00009f" points="295,1847 309,1849 322,1851 335,1853 349,1855 362,1858 376,1860 389,1864 402,1867 416,1869 429,1872 442,1874 456,1875 469,1876"/>
<polyline stroke="#00009f" points="295,1847 309,1850 322,1852 335,1854 349,1856 362,1858 376,1860 389,1862 402,1864 416,1866 429,1868 442,1871 456,1873 469,1875 482,1877 496,1879 509,1880 522,1881 536,1883 549,1884 562,1885 576,1887 589,1889 602,1891"/>
<polyline stroke="#00008f" points="312,1849 325,1852 338,1854 352,1857 365,1859 378,1862 392,1864 405,1866 418,1868 432,1869 445,1871 458,1873 472,1874 485,1876 498,1878 512,1880 525,1881 538,1883 552,1885 565,1887 579,1889 592,1890"/>
<polyline stroke="#00008f" points="295,1835 309,1837 322,1839 335,1841 349,1843 362,1845 376,1847 389,1848 402,1849 416,1850 429,1851 442,1853 456,1855 469,1857 482,1858 496,1860 509,1861 522,1862 536,1863 549,1864 562,1865 576,1866 589,1868 602,1869 616,1871 629,1873 642,1874 656,1876 669,1877 683,1878 696,1878 709,1879"/>
<polyline stroke="#00009f" points="298,1840 311,1840 325,1842 338,1843 351,1845 365,1847 378,1849 391,1852 405,1854 418,1857 431,1859 445,1861 458,1862 471,1863 485,1864 498,1864 511,1864 525,1865 538,1867"/>
<polyline stroke="#00009f" points="295,1830 309,1831 322,1833 335,1834 349,1836 362,1837 376,1839 389,1841 402,1842 416,1843 429,1844 442,1845 456,1846 469,1848"/>
<polyline stroke="#00009f" points="295,1828 309,1830 322,1831 335,1832 349,1832 362,1833 376,1835 389,1837 402,1839 416,1840 429,1840 442,1841 456,1842 469,1844 482,1846 496,1847 509,1848 522,1848"/>
<polyline stroke="#00008f" points="295,1840 309,1842 322,1843 335,1843 349,1844 362,1846 376,1849 389,1852 402,1854 416,1856 429,1856 442,1857 456,1857 469,1859 482,1862 496,1864 509,1867 522,1868 536,1868 549,1868 562,1868 576,1870 589,1873"/>
<polyline stroke="#00009f" points="295,1838 309,1840 322,1843 335,1845 349,1847 362,1848 376,1850 389,1851 402,1853 416,1855 429,1857 442,1858 456,1859 469,1861 482,1863"/>
<polyline stroke="#00008f" points="354,1860 367,1862 381,1865 394,1867 407,1870 421,1872 434,1874 447,1875 461,1877 474,1879 488,1881 501,1883 514,1885 528,1886 541,1888"/>
<polyline stroke="#00009f" points="295,1828 309,1830 322,1831 335,1832 349,1832 362,1833 376,1834 389,1835 402,1836 416,1838 429,1840 442,1842 456,1843 469,1844 482,1845 496,1845 509,1845 522,1846 536,1847 549,1849 562,1850 576,1852 589,1853 602,1854 616,1854 629,1854"/>
<polyline stroke="#00008f" points="332,1831 346,1832 359,1833 373,1833 386,1834 399,1835 413,1836 426,1837 439,1839 453,1840 466,1842 479,1844 493,1844 506,1845 519,1845 533,1845 546,1846 559,1847 573,1849 586,1850 599,1852 613,1853 626,1854 639,1854 653,1855 666,1855 680,1856 693,1856"/>
<polyline stroke="#00009f" points="295,1841 309,1842 322,1844 335,1847 349,1849 362,1852 376,1854 389,1855 402,1856 416,1858 429,1860 442,1862 456,1864 469,1866 482,1867 496,1868 509,1869 522,1870 536,1872 549,1875 562,1876 576,1877 589,1878 602,1879 616,1881 629,1883 642,1885 656,1887 669,1888 683,1889"/>
<polyline stroke="#00009f" points="340,1836 353,1837 367,1839 380,1840 393,1841 407,1842 420,1844 433,1845 447,1846 460,1847 473,1849 487,1850"/>
<polyline stroke="#00008f" points="295,1835 309,1837 322,1839 335,1841 349,1843 362,1844 376,1845 389,1847 402,1848 416,1849 429,1850 442,1852 456,1853 469,1855 482,1857 496,1858"/>
<polyline stroke="#00009f" points="295,1830 309,1831 322,1833 335,1834 349,1835 362,1836 376,1838 389,1839 402,1841 416,1842 429,1843 442,1845 456,1846 469,1847 482,1848 496,1849 509,1850 522,1852 536,1853"/>
<polyline stroke="#00008f" points="295,1846 309,1848 322,1851 335,1853 349,1856 362,1858 376,1860 389,1862 402,1864 416,1866 429,1868 442,1870 456,1872 469,1873 482,1875 496,1877"/>
<polyline stroke="#00009f" points="295,1847 309,1849 322,1850 335,1853 349,1855 362,1858 376,1862 389,1865 402,1868 416,1871 429,1872 442,1874 456,1874 469,1875 482,1876 496,1877 509,1879 522,1881 536,1883 549,1886 562,1889 576,1892 589,1894 602,1895 616,1896 629,1897 642,1898 656,1899 669,1901 683,1903"/>
<polyline stroke="#00009f" points="295,1846 309,1847 322,1850 335,1852 349,1855 362,1857 376,1860 389,1863 402,1866 416,1868 429,1870 442,1872 456,1873 469,1874 482,1875 496,1876 509,1877 522,1879 536,1881 549,1883 562,1885 576,1888 589,1890 602,1892 616,1895 629,1896 642,1898 656,1899 669,1900 683,1901 696,1902 709,1904"/>
<polyline stroke="#00009f" points="316,1835 329,1836 343,1837 356,1838 369,1840 383,1841 396,1843 410,1845 423,1846 436,1848 450,1849 463,1850 476,1851 490,1852 503,1853 516,1854 530,1855 543,1857 556,1858 570,1860 583,1861 596,1862 610,1863 623,1864 636,1865 650,1866 663,1867 676,1868 690,1870"/>
<polyline stroke="#00008f" points="295,1834 309,1836 322,1838 335,1840 349,1842 362,1843 376,1845 389,1847 402,1848 416,1850 429,1851 442,1852 456,1853 469,1855 482,1856 496,1857 509,1859 522,1860 536,1861 549,1863 562,1864 576,1866 589,1867 602,1868 616,1869 629,1871 642,1872 656,1873"/>
<polyline stroke="#00009f" points="295,1841 309,1844 322,1848 335,1851 349,1854 362,1856 376,1857 389,1858 402,1859 416,1860 429,1861 442,1864 456,1866 469,1869 482,1872 496,1874 509,1875 522,1876 536,1877 549,1877 562,1878"/>
<polyline stroke="#00009f" points="295,1840 309,1842 322,1843 335,1845 349,1846 362,1848 376,1850 389,1853 402,1855 416,1857 429,1858 442,1860 456,1861 469,1862 482,1863 496,1865 509,1866 522,1868 536,1870 549,1872 562,1873 576,1874 589,1875 602,1876 616,1877"/>
<polyline stroke="#00008f" points="295,1833 309,1835 322,1838 335,1841 349,1843 362,1845 376,1847 389,1849 402,1849 416,1850 429,1851 442,1851 456,1852 469,1853 482,1855 496,1856 509,1858"/>
<polyline stroke="#00009f" points="355,1841 368,1842 382,1844 395,1845 408,1847 422,1848 435,1850 448,1851 462,1853 475,1854 488,1855 502,1857 515,1858 528,1859 542,1860 555,1861 568,1862 582,1864"/>
<polyline stroke="#00009f" points="295,1829 309,1830 322,1830 335,1831 349,1831 362,1832 376,1833 389,1835 402,1836 416,1838 429,1840 442,1842 456,1844 469,1845 482,1847 496,1847 509,1848"/>
<polyline stroke="#00009f" points="295,1849 309,1851 322,1854 335,1857 349,1860 362,1862 376,1865 389,1868 402,1870 416,1873 429,1875 442,1877 456,1878 469,1880 482,1881 496,1883"/>
<polyline stroke="#00008f" points="358,1838 372,1840 385,1841 398,1842 412,1844 425,1845 438,1846 452,1847 465,1849 479,1850 492,1851 505,1853 519,1854 532,1855 545,1856 559,1857 572,1858 585,1859 599,1860 612,1861 625,1862 639,1864 652,1865"/>
<polyline stroke="#00008f" points="340,1850 354,1852 367,1854 380,1855 394,1857 407,1858 421,1860 434,1862 447,1864 461,1866 474,1868 487,1870 501,1872 514,1873 527,1874 541,1875 554,1876"/>
<polyline stroke="#00009f" points="295,1846 309,1849 322,1851 335,1853 349,1855 362,1856 376,1857 389,1859 402,1861 416,1863 429,1866 442,1868 456,1871 469,1873 482,1875 496,1876 509,1877 522,1878"/>
<polyline stroke="#00009f" points="295,1848 309,1850 322,1853 335,1856 349,1858 362,1861 376,1863 389,1865 402,1867 416,1869 429,1871 442,1873 456,1875 469,1877 482,1879 496,1880 509,1882 522,1884 536,1885 549,1887 562,1889 576,1890 589,1893 602,1895 616,1897 629,1899 642,1900 656,1902 669,1904 683,1906 696,1908 709,1910 723,1912"/>
<polyline stroke="#00008f" points="295,1833 309,1834 322,1836 335,1837 349,1838 362,1839 376,1840 389,1843 402,1844 416,1846 429,1847 442,1848 456,1849 469,1850 482,1852 496,1853 509,1855 522,1856 536,1857"/>
<polyline stroke="#00008f" points="295,1838 309,1840 322,1842 335,1843 349,1845 362,1846 376,1848 389,1850 402,1852 416,1854 429,1856 442,1857 456,1858 469,1859 482,1861 496,1862 509,1864 522,1866 536,1867 549,1869 562,1870 576,1871 589,1872 602,1873"/>
<polyline stroke="#00008f" points="302,1837 316,1838 329,1840 342,1842 356,1844 369,1846 382,1848 396,1850 409,1852 422,1853 436,1854 449,1855 462,1856"/>
<polyline stroke="#00009f" points="295,1833 309,1835 322,1836 335,1837 349,1839 362,1841 376,1843 389,1845 402,1846 416,1847 429,1848 442,1849 456,1850 469,1852 482,1854 496,1855 509,1857 522,1858 536,1859 549,1860 562,1860 576,1861 589,1863 602,1864 616,1866 629,1867 642,1869 656,1870 669,1871 683,1872 696,1872"/>
<polyline stroke="#00009f" points="295,1829 309,1830 322,1832 335,1834 349,1836 362,1837 376,1839 389,1840 402,1841 416,1841 429,1842 442,1843 456,1844 469,1846 482,1847 496,1849 509,1850 522,1852 536,1853 549,1854 562,1855 576,1856 589,1856 602,1857 616,1857 629,1858 642,1860"/>
<polyline stroke="#00008f" points="295,1844 309,1846 322,1848 335,1851 349,1853 362,1855 376,1857 389,1859 402,1861 416,1863 429,1865 442,1867 456,1869 469,1870 482,1872 496,1874 509,1875 522,1876"/>
<polyline stroke="#00008f" points="295,1828 309,1829 322,1830 335,1830 349,1831 362,1832 376,1834 389,1836 402,1837 416,1838 429,1839 442,1840 456,1841 469,1842 482,1844 496,1845 509,1846 522,1847 536,1848 549,1848 562,1849 576,1850 589,1851 602,1853 616,1854 629,1855 642,1855 656,1856 669,1857 683,1858 696,1858 709,1860 723,1860"/>
<polyline stroke="#00009f" points="295,1840 309,1842 322,1844 335,1846 349,1847 362,1848 376,1849 389,1850 402,1851 416,1853 429,1856 442,1858 456,1860 469,1863 482,1864 496,1866 509,1867 522,1868 536,1868 549,1869 562,1869 576,1871 589,1872 602,1874 616,1876 629,1879 642,1881 656,1883 669,1885 683,1886"/>
<polyline stroke="#00009f" points="295,1835 309,1836 322,1838 335,1840 349,1841 362,1843 376,1845 389,1846 402,1848 416,1849 429,1851 442,1852 456,1854 469,1855 482,1856 496,1858 509,1859 522,1860 536,1861 549,1863 562,1864 576,1865 589,1866 602,1868 616,1869 629,1870 642,1872 656,1873 669,1874 683,1876"/>
<polyline stroke="#00009f" points="351,1844 364,1846 378,1848 391,1850 404,1851 418,1853 431,1853 444,1854 458,1855 471,1856 484,1858 498,1859 511,1861 524,1863 538,1865 551,1867 564,1868 578,1869 591,1870 604,1871 618,1872 631,1873 644,1874 658,1875 671,1877"/>
<polyline stroke="#00008f" points="296,1842 310,1843 323,1845 336,1846 350,1847 363,1849 376,1850 390,1852 403,1854 416,1856 430,1859 443,1861 456,1863 470,1865 483,1867 496,1869 510,1870 523,1871 536,1871 550,1872 563,1873 576,1874 590,1875 603,1877 617,1879"/>
<polyline stroke="#00008f" points="295,1849 309,1852 322,1855 335,1858 349,1860 362,1862 376,1864 389,1867 402,1869 416,1872 429,1874 442,1875 456,1877 469,1879 482,1881 496,1883 509,1885 522,1887 536,1888 549,1890 562,1891 576,1894 589,1896"/>
<polyline stroke="#00009f" points="295,1833 309,1834 322,1836 335,1838 349,1839 362,1841 376,1842 389,1844 402,1845 416,1847 429,1848 442,1849 456,1851 469,1852 482,1853"/>
<polyline stroke="#00009f" points="295,1840 309,1841 322,1842 335,1844 349,1846 362,1849 376,1852 389,1855 402,1857 416,1859 429,1860 442,1861 456,1862 469,1863 482,1864 496,1865 509,1866 522,1868 536,1871"/>
<polyline stroke="#00009f" points="295,1836 309,1838 322,1839 335,1841 349,1843 362,1845 376,1846 389,1848 402,1850 416,1851 429,1853 442,1854 456,1856 469,1857 482,1858 496,1860 509,1861 522,1862 536,1864 549,1865 562,1866 576,1868"/>
<polyline stroke="#00008f" points="295,1846 309,1847 322,1849 335,1851 349,1854 362,1857 376,1860 389,1863 402,1865 416,1867 429,1868 442,1869 456,1870 469,1871 482,1873 496,1875 509,1878 522,1880 536,1882 549,1884"/>
<polyline stroke="#00008f" points="334,1849 348,1851 361,1853 374,1855 388,1857 401,1859 414,1861 428,1862 441,1864 455,1866 468,1868 481,1870 495,1872 508,1873 521,1875 535,1876 548,1877 561,1879 575,1880 588,1882 601,1883 615,1885 628,1887 641,1889 655,1891 668,1892"/>
<polyline stroke="#00009f" points="295,1843 309,1845 322,1847 335,1850 349,1853 362,1856 376,1858 389,1860 402,1861 416,1862 429,1864 442,1865 456,1868 469,1870 482,1873 496,1874 509,1876 522,1877 536,1877"/>
<polyline stroke="#00008f" points="295,1835 309,1836 322,1837 335,1837 349,1838 362,1840 376,1843 389,1845 402,1847 416,1848 429,1849 442,1849 456,1850 469,1852 482,1854 496,1856 509,1858 522,1859 536,1859 549,1859 562,1860 576,1861"/>
<polyline stroke="#00008f" points="295,1836 309,1837 322,1838 335,1840 349,1841 362,1843 376,1845 389,1846 402,1848 416,1850 429,1852 442,1854 456,1855 469,1856 482,1858 496,1859 509,1860 522,1860 536,1861 549,1863 562,1864 576,1865 589,1867 602,1868"/>
<polyline stroke="#00009f" points="350,1855 363,1857 376,1860 390,1862 403,1864 417,1866 430,1867 443,1869"/>
<polyline stroke="#00009f" points="307,1846 320,1849 333,1851 347,1854 360,1856 373,1857 387,1859 400,1860 413,1861 427,1863 440,1866 454,1868 467,1870"/>
<polyline stroke="#00008f" points="295,1842 309,1845 322,1848 335,1848 349,1848 362,1849 376,1853 389,1857 402,1860 416,1860 429,1860 442,1860 456,1862 469,1866 482,1869 496,1871 509,1871 522,1870 536,1871 549,1874 562,1877 576,1880 589,1881 602,1880 616,1880 629,1882 642,1886 656,1889 669,1891 683,1891"/>
<polyline stroke="#00009f" points="297,1841 310,1844 324,1846 337,1848 350,1849 364,1851 377,1852 390,1854 404,1855 417,1857 430,1858 444,1860 457,1862 470,1864 484,1866 497,1868 510,1869 524,1871 537,1873 550,1874 564,1875 577,1876 591,1878 604,1879 617,1880 631,1881 644,1883 657,1884 671,1886 684,1888 697,1889 711,1891"/>
<polyline stroke="#00008f" points="295,1828 309,1830 322,1832 335,1833 349,1834 362,1834 376,1834 389,1835 402,1837 416,1839 429,1841 442,1843 456,1844 469,1845 482,1845 496,1845 509,1846 522,1848 536,1850 549,1852 562,1853 576,1853 589,1853 602,1853 616,1854 629,1855"/>
<polyline stroke="#00009f" points="295,1848 309,1851 322,1854 335,1856 349,1859 362,1861 376,1863 389,1865 402,1867 416,1869 429,1870 442,1872 456,1874 469,1876 482,1878"/>
<polyline stroke="#00009f" points="332,1842 345,1845 359,1847 372,1849 385,1850 399,1851 412,1852 425,1852 439,1853 452,1854 465,1855 479,1857 492,1859 505,1861 519,1863 532,1866 545,1868 559,1869 572,1871 585,1871 599,1872 612,1872 625,1873 639,1873 652,1874 666,1876 679,1877 692,1879"/>
<polyline stroke="#00008f" points="295,1836 309,1838 322,1840 335,1843 349,1845 362,1846 376,1848 389,1849 402,1850 416,1851 429,1852 442,1854 456,1856"/>
<polyline stroke="#00008f" points="295,1837 309,1839 322,1841 335,1843 349,1845 362,1846 376,1848 389,1850 402,1851 416,1853 429,1855 442,1856 456,1858 469,1859 482,1861 496,1862"/>
<polyline stroke="#00009f" points="295,1831 309,1833 322,1836 335,1838 349,1838 362,1839 376,1839 389,1839 402,1841 416,1843 429,1845 442,1848 456,1850 469,1851 482,1851 496,1851 509,1851 522,1852 536,1854 549,1856 562,1858 576,1860 589,1861"/>
<polyline stroke="#00009f" points="306,1840 320,1842 333,1844 346,1846 360,1848 373,1850 386,1852 400,1853 413,1855 426,1857 440,1858 453,1860 467,1861 480,1863 493,1864 507,1866 520,1867 533,1868 547,1870 560,1871 573,1873 587,1874 600,1876 613,1877 627,1879"/>
<polyline stroke="#00008f" points="295,1835 309,1836 322,1837 335,1838 349,1839 362,1840 376,1841 389,1843 402,1845 416,1847 429,1849 442,1851 456,1852 469,1854 482,1855 496,1855 509,1856 522,1856"/>
<polyline stroke="#00008f" points="324,1833 337,1835 351,1836 364,1838 377,1839 391,1840 404,1842 418,1843 431,1844 444,1846 458,1847 471,1848 484,1849 498,1850 511,1851 524,1853 538,1854 551,1855 564,1856 578,1857 591,1858 604,1859 618,1860 631,1862"/>
<polyline stroke="#00008f" points="295,1829 309,1830 322,1831 335,1833 349,1835 362,1836 376,1838 389,1840 402,1841 416,1842 429,1844 442,1845 456,1846"/>
<polyline stroke="#0040ff" points="617,1894 630,1896 644,1897 657,1899 670,1901 684,1902 697,1904 710,1906 724,1907 737,1909 750,1910 764,1912 777,1914 790,1915 804,1917 817,1919 830,1921 844,1923 857,1924 870,1926 884,1928 897,1930"/>
<polyline stroke="#0060ff" points="519,1887 532,1889 546,1891 559,1892 572,1894 586,1896 599,1898 612,1900 626,1902 639,1905 652,1907 666,1909 679,1911 693,1913 706,1915 719,1917 733,1919 746,1920 759,1922 773,1924 786,1926"/>
<polyline stroke="#0000cf" points="487,1881 500,1883 513,1885 527,1886 540,1888 553,1890 567,1892 580,1893 593,1895 607,1897 620,1899 633,1901 647,1903 660,1905 673,1907 687,1909 700,1911 713,1913 727,1914 740,1916 754,1918 767,1920 780,1922 794,1923 807,1925 820,1926 834,1928 847,1929 860,1931 874,1932 887,1934 900,1935 914,1937 927,1939"/>
<polyline stroke="#0000ef" points="415,1870 429,1872 442,1874 455,1875 469,1876 482,1877 496,1879 509,1881 522,1882 536,1884 549,1885 562,1887 576,1888 589,1890 602,1892 616,1894 629,1895 642,1897 656,1899 669,1900 682,1902 696,1904 709,1905 722,1907 736,1908 749,1910 762,1912 776,1913 789,1915 803,1917 816,1919 829,1920 843,1922 856,1924 869,1926 883,1928 896,1930 909,1932 923,1934 936,1936 949,1938 963,1940 976,1941"/>
<polyline stroke="#0000ef" points="546,1884 560,1885 573,1887 586,1888 600,1890 613,1892 626,1893 640,1895 653,1897 666,1898 680,1900 693,1902 706,1903 720,1905 733,1906 747,1908 760,1909 773,1911 787,1912 800,1914 813,1916 827,1918 840,1920 853,1922"/>
<polyline stroke="#0020ff" points="513,1883 526,1885 540,1887 553,1889 566,1890 580,1892 593,1894 606,1896 620,1898 633,1900 646,1902 660,1903 673,1905 687,1907"/>
<polyline stroke="#0010ff" points="424,1872 437,1874 451,1875 464,1877 477,1878 491,1880 504,1881 517,1883 531,1885 544,1886 557,1888 571,1889 584,1891 597,1893 611,1895 624,1897 637,1898 651,1900 664,1902 677,1904 691,1906 704,1907 717,1909 731,1911 744,1912 758,1914 771,1916 784,1917 798,1919 811,1921 824,1922"/>
<polyline stroke="#0040ff" points="584,1885 597,1887 610,1888 624,1890 637,1891 651,1893 664,1894 677,1896 691,1897 704,1898 717,1900 731,1901 744,1902 757,1903 771,1905 784,1907 797,1909 811,1911 824,1913 837,1915 851,1917 864,1919 877,1922"/>
<polyline stroke="#0020ff" points="531,1887 545,1889 558,1891 571,1893 585,1894 598,1896 612,1898 625,1900 638,1902 652,1904 665,1906 678,1908 692,1910 705,1912 718,1914 732,1916 745,1917 758,1919 772,1921 785,1923 798,1924 812,1926 825,1927 838,1929 852,1930 865,1932 878,1933"/>
<polyline stroke="#0060ff" points="445,1876 459,1877 472,1879 486,1881 499,1883 512,1884 526,1886 539,1888 552,1890 566,1891 579,1893 592,1895 606,1897 619,1899 632,1901 646,1903 659,1905 672,1907 686,1909 699,1911 712,1912 726,1914 739,1916 752,1918 766,1920 779,1921 793,1923 806,1924 819,1926 833,1927 846,1929 859,1931 873,1932 886,1934 899,1935 913,1937"/>
<polyline stroke="#0000cf" points="530,1885 543,1887 557,1889 570,1890 584,1892 597,1894 610,1896 624,1898 637,1899 650,1901 664,1903 677,1905 690,1907 704,1908 717,1910 730,1912 744,1914 757,1915 770,1917 784,1919 797,1920 810,1922 824,1924 837,1925 850,1927 864,1929"/>
<polyline stroke="#0030ff" points="452,1873 465,1874 479,1875 492,1876 505,1877 519,1879 532,1880 546,1882 559,1883 572,1884 586,1886 599,1887 612,1889 626,1890 639,1892 652,1894 666,1895 679,1897 692,1898 706,1899 719,1901 732,1902 746,1903 759,1905 772,1906"/>
<polyline stroke="#0000ff" points="611,1898 625,1900 638,1902 651,1904 665,1906 678,1908 691,1910 705,1912 718,1914 731,1915 745,1917 758,1919 771,1921 785,1922 798,1924 812,1925 825,1927 838,1929 852,1930 865,1932 878,1933 892,1935 905,1936 918,1938 932,1939 945,1941"/>
<polyline stroke="#0000ef" points="413,1868 426,1870 439,1872 453,1873 466,1874 479,1875 493,1876 506,1877 519,1879 533,1880 546,1882 559,1883 573,1885 586,1886 599,1888 613,1889 626,1891 639,1892 653,1894 666,1895 680,1897 693,1898 706,1899 720,1901 733,1902 746,1904 760,1905 773,1906 786,1908"/>
<polyline stroke="#0060ff" points="475,1875 489,1876 502,1877 515,1879 529,1880 542,1881 555,1883 569,1884 582,1886 595,1887 609,1889 622,1890 635,1892 649,1893 662,1895 676,1896 689,1898 702,1899 716,1901 729,1902 742,1903 756,1905 769,1906 782,1908 796,1910 809,1912 822,1914 836,1916 849,1918 862,1920 876,1922 889,1925 902,1927 916,1930 929,1932 942,1935 956,1937"/>
<polyline stroke="#0040ff" points="595,1898 608,1900 621,1902 635,1904 648,1906 661,1908 675,1910 688,1912 701,1914 715,1916 728,1918 741,1920 755,1922 768,1924 782,1925 795,1927 808,1928 822,1930 835,1931"/>
<polyline stroke="#0010ff" points="608,1895 622,1897 635,1899 648,1901 662,1903 675,1905 688,1906 702,1908 715,1910"/>
<polyline stroke="#0000ef" points="475,1879 489,1881 502,1882 515,1884 529,1886 542,1888 555,1889 569,1891 582,1893 595,1895 609,1897 622,1899 635,1901 649,1903 662,1904 676,1906 689,1908 702,1910 716,1912 729,1913 742,1915 756,1917 769,1919 782,1920 796,1922 809,1924 822,1925 836,1927 849,1928 862,1930 876,1932 889,1933 902,1935 916,1936 929,1938 942,1940 956,1941 969,1942 983,1942 996,1942 1009,1943 1023,1943"/>
<polyline stroke="#0060ff" points="585,1888 598,1889 612,1891 625,1893 638,1894 652,1896 665,1898 678,1899 692,1901 705,1902 718,1904 732,1905 745,1907"/>
<polyline stroke="#0000df" points="616,1901 629,1903 643,1905 656,1907 669,1909 683,1911 696,1913 710,1915 723,1917 736,1919 750,1921 763,1923 776,1925 790,1926 803,1928 816,1929 830,1930 843,1932 856,1933 870,1935 883,1936 896,1937 910,1939 923,1940 936,1941 950,1942 963,1944 976,1944"/>
<polyline stroke="#0050ff" points="520,1884 533,1886 547,1887 560,1889 573,1891 587,1893 600,1895 613,1896 627,1898 640,1900 653,1902 667,1904 680,1906 693,1908 707,1909 720,1911 733,1913 747,1914 760,1916 774,1918 787,1920 800,1921 814,1923 827,1924 840,1926 854,1928 867,1929 880,1931 894,1933 907,1935 920,1936 934,1938 947,1940 960,1942"/>
<polyline stroke="#0000cf" points="468,1877 482,1878 495,1880 508,1881 522,1883 535,1885 548,1886 562,1888 575,1890 588,1891 602,1893 615,1895 628,1897 642,1899 655,1900 668,1902 682,1904 695,1905 709,1907 722,1909 735,1910 749,1912 762,1914 775,1915 789,1917 802,1919 815,1920"/>
<polyline stroke="#0000ff" points="534,1881 547,1882 561,1884 574,1885 587,1887 601,1888 614,1890 627,1891 641,1893 654,1895 668,1896 681,1898 694,1899 708,1900 721,1902 734,1903"/>
<polyline stroke="#0000ef" points="462,1878 476,1879 489,1881 503,1882 516,1884 529,1886 543,1888 556,1889 569,1891 583,1893 596,1895 609,1897 623,1899 636,1901 649,1902 663,1904 676,1906 689,1908 703,1910 716,1912 729,1913 743,1915"/>
<polyline stroke="#0000df" points="519,1881 532,1883 545,1884 559,1886 572,1887 585,1889 599,1890 612,1892 626,1894 639,1896 652,1897 666,1899 679,1901 692,1902 706,1904 719,1905 732,1907 746,1908 759,1910 772,1911 786,1913 799,1915 812,1917 826,1919 839,1920 852,1922 866,1924 879,1926 892,1928 906,1931 919,1933 933,1935 946,1937 959,1939 973,1940 986,1940 999,1941 1013,1941"/>
<polyline stroke="#0000df" points="597,1885 610,1886 624,1888 637,1889 650,1891 664,1892 677,1893 691,1895 704,1896 717,1897 731,1898 744,1900 757,1901 771,1902 784,1904 797,1906 811,1908"/>
<polyline stroke="#0030ff" points="600,1888 614,1889 627,1891 640,1892 654,1894 667,1896 680,1897 694,1898 707,1900 720,1901 734,1902 747,1904 760,1905 774,1907 787,1909 801,1911 814,1913 827,1915 841,1917"/>
<polyline stroke="#0000df" points="606,1894 620,1896 633,1897 646,1899 660,1901 673,1903 686,1905 700,1906 713,1908 726,1910 740,1911 753,1913 766,1914 780,1916 793,1918"/>
<polyline stroke="#0010ff" points="532,1887 545,1888 559,1890 572,1892 585,1894 599,1896 612,1898 625,1900 639,1902 652,1904 665,1906 679,1907 692,1909 705,1911 719,1913 732,1915"/>
<polyline stroke="#0020ff" points="507,1884 520,1886 534,1888 547,1890 560,1891 574,1893 587,1895 600,1897 614,1899 627,1901 640,1903 654,1905 667,1907 681,1909 694,1911 707,1913 721,1915 734,1917 747,1918 761,1920 774,1922 787,1924 801,1925 814,1927"/>
<polyline stroke="#0000df" points="531,1888 545,1890 558,1892 571,1894 585,1896 598,1898 611,1900 625,1902 638,1904 651,1906 665,1908 678,1910 691,1912 705,1914 718,1916 731,1918 745,1920"/>
<polyline stroke="#0000ff" points="430,1870 443,1872 457,1873 470,1874 483,1874 497,1876 510,1877 523,1879 537,1880 550,1881 563,1883 577,1884 590,1885 603,1887 617,1888 630,1890 643,1891 657,1893 670,1894 684,1896 697,1897 710,1898 724,1900 737,1901 750,1902 764,1904 777,1905 790,1907 804,1909 817,1911 830,1913 844,1915 857,1918 870,1920 884,1922 897,1925 910,1928 924,1930"/>
<polyline stroke="#0000ef" points="477,1881 490,1883 504,1885 517,1887 530,1889 544,1890 557,1892 570,1894 584,1896 597,1898 611,1900 624,1902 637,1904 651,1906 664,1909 677,1911 691,1913 704,1914 717,1916 731,1918 744,1920 757,1922 771,1924"/>
<polyline stroke="#0040ff" points="579,1885 593,1887 606,1888 619,1890 633,1891 646,1893 659,1894 673,1896 686,1897 699,1899 713,1900 726,1901"/>
<polyline stroke="#0030ff" points="604,1889 617,1891 631,1892 644,1894 657,1895 671,1897 684,1898 697,1900 711,1901 724,1903 738,1904 751,1905 764,1907 778,1908 791,1910 804,1912 818,1914 831,1916 844,1918 858,1920 871,1922 884,1925 898,1927 911,1930 924,1932"/>
<polyline stroke="#0010ff" points="555,1884 568,1886 581,1887 595,1889 608,1890 621,1892 635,1894 648,1895 662,1897 675,1899 688,1900 702,1902 715,1903 728,1904 742,1906 755,1907 768,1909 782,1911 795,1913 808,1914 822,1916 835,1918 848,1920 862,1922 875,1924 888,1927 902,1929 915,1931"/>
<polyline stroke="#0000ef" points="439,1875 453,1876 466,1878 480,1880 493,1881 506,1883 520,1885 533,1887 546,1888 560,1890 573,1892 586,1894 600,1896 613,1898 626,1899 640,1901 653,1903 666,1905 680,1907 693,1909 706,1911 720,1913 733,1914 746,1916 760,1918 773,1920 787,1921 800,1923 813,1924 827,1926 840,1928 853,1929 867,1931 880,1932 893,1934 907,1936 920,1937 933,1939"/>
<polyline stroke="#0010ff" points="519,1884 533,1886 546,1888 559,1889 573,1891 586,1893 599,1895 613,1897 626,1899 639,1900 653,1902 666,1904 679,1906 693,1908 706,1910 719,1911 733,1913 746,1915 759,1917 773,1918 786,1920 800,1922 813,1923 826,1925 840,1926 853,1928 866,1930 880,1931 893,1933 906,1935 920,1936 933,1938 946,1940 960,1942 973,1942 986,1942 1000,1942"/>
<polyline stroke="#0000cf" points="416,1872 429,1874 442,1876 456,1877 469,1879 482,1881 496,1883 509,1885 522,1886 536,1888 549,1890 562,1892 576,1893 589,1895 603,1897 616,1899 629,1901 643,1903 656,1905 669,1907 683,1909"/>
<polyline stroke="#0060ff" points="600,1897 613,1899 627,1901 640,1903 653,1905 667,1907 680,1909 693,1911 707,1913"/>
<polyline stroke="#0040ff" points="527,1884 541,1885 554,1887 567,1889 581,1890 594,1892 607,1894 621,1896 634,1897 648,1899 661,1901 674,1903 688,1905 701,1906 714,1908 728,1909 741,1911 754,1913 768,1914 781,1916 794,1918 808,1919 821,1921 834,1923 848,1925 861,1926 874,1928 888,1930 901,1932 914,1934 928,1936 941,1938 955,1940"/>
<polyline stroke="#0030ff" points="506,1881 519,1882 532,1884 546,1886 559,1887 572,1889 586,1890 599,1892 612,1894 626,1896 639,1898 652,1899 666,1901 679,1903 692,1905 706,1906 719,1908 733,1909 746,1911 759,1913"/>
<polyline stroke="#0000ef" points="493,1875 506,1876 519,1878 533,1879 546,1880 559,1882 573,1883 586,1884 599,1886 613,1887 626,1889 640,1890 653,1892 666,1893 680,1894 693,1896 706,1897 720,1898 733,1899 746,1901 760,1902 773,1903 786,1905 800,1908 813,1910 826,1912 840,1914 853,1916 866,1918 880,1921 893,1923 906,1926 920,1929 933,1932"/>
<polyline stroke="#0040ff" points="579,1890 592,1892 606,1894 619,1896 632,1898 646,1900 659,1901 672,1903 686,1905 699,1907 712,1908 726,1910 739,1912 752,1913 766,1915 779,1917 792,1918 806,1920 819,1922 832,1923 846,1925 859,1927 872,1929 886,1930 899,1932 912,1934 926,1936 939,1938"/>
<polyline stroke="#0050ff" points="489,1877 502,1879 516,1880 529,1882 542,1883 556,1885 569,1886 582,1888 596,1889 609,1891 622,1893 636,1894 649,1896 662,1897 676,1899 689,1901 702,1902 716,1904 729,1905 742,1907 756,1908 769,1909 783,1911 796,1913 809,1915 823,1917 836,1919 849,1921 863,1923"/>
<polyline stroke="#0010ff" points="503,1884 516,1886 529,1887 543,1889 556,1891 569,1893 583,1895 596,1897 609,1899 623,1901 636,1903 649,1905 663,1907 676,1909 689,1911 703,1912 716,1914 730,1916"/>
<polyline stroke="#0050ff" points="565,1894 579,1895 592,1898 605,1900 619,1902 632,1904 645,1906 659,1908 672,1910 685,1912 699,1914 712,1916 725,1918 739,1920 752,1922"/>
<polyline stroke="#0000df" points="520,1887 534,1889 547,1891 560,1893 574,1895 587,1897 600,1899 614,1901 627,1903 641,1905 654,1907 667,1910 681,1912 694,1914 707,1915 721,1917 734,1919 747,1921 761,1923 774,1925 787,1926 801,1928 814,1929"/>
<polyline stroke="#0000ef" points="497,1879 510,1881 523,1882 537,1884 550,1885 563,1887 577,1888 590,1890 603,1892 617,1894 630,1895 643,1897 657,1899 670,1900 683,1902 697,1904 710,1905 723,1907 737,1908 750,1910 764,1911"/>
<polyline stroke="#0020ff" points="612,1899 626,1901 639,1903 652,1906 666,1908 679,1910 692,1911 706,1913 719,1915 733,1917 746,1919 759,1921 773,1923 786,1924 799,1926 813,1927 826,1929"/>
<polyline stroke="#0040ff" points="439,1875 453,1876 466,1878 479,1880 493,1881 506,1883 520,1885 533,1886 546,1888 560,1890 573,1891 586,1893 600,1895 613,1897 626,1899 640,1901 653,1903 666,1905 680,1907 693,1909 706,1910 720,1912 733,1914 746,1916 760,1917 773,1919 786,1921 800,1922 813,1924 826,1925 840,1927 853,1929 867,1930 880,1932"/>
<polyline stroke="#0040ff" points="417,1872 431,1874 444,1876 458,1877 471,1879 484,1881 498,1883 511,1884 524,1886 538,1888 551,1890 564,1891 578,1893 591,1895 604,1897 618,1899 631,1901 644,1903 658,1905 671,1907 684,1909 698,1911 711,1912 724,1914 738,1916 751,1918 765,1920 778,1921 791,1923 805,1924 818,1926 831,1928 845,1929 858,1931 871,1932 885,1934 898,1935"/>
<polyline stroke="#0000ff" points="514,1886 527,1888 540,1890 554,1892 567,1894 580,1895 594,1897 607,1900 620,1902 634,1904 647,1906 661,1908 674,1910 687,1912 701,1914"/>
<polyline stroke="#0000df" points="497,1875 510,1876 523,1878 537,1879 550,1880 564,1882 577,1883 590,1885 604,1886 617,1887 630,1889 644,1890 657,1892 670,1893 684,1894 697,1896 710,1897 724,1898 737,1899 750,1901 764,1902 777,1904 790,1906 804,1908 817,1910 830,1912 844,1914 857,1916 871,1918 884,1921 897,1924 911,1927 924,1930 937,1932"/>
<polyline stroke="#0010ff" points="559,1892 572,1894 585,1896 599,1898 612,1900 625,1902 639,1904 652,1906 665,1908 679,1910 692,1912 705,1914 719,1916 732,1918 745,1919 759,1921 772,1923 786,1925"/>
<polyline stroke="#0050ff" points="410,1868 423,1870 437,1872 450,1874 463,1875 477,1876 490,1877 503,1879 517,1880 530,1882 543,1883 557,1885 570,1886 583,1888 597,1889 610,1891 623,1893 637,1894 650,1896 664,1898 677,1899 690,1901 704,1902 717,1904 730,1905 744,1907 757,1908 770,1910 784,1911 797,1913 810,1915"/>
<polyline stroke="#0010ff" points="450,1877 464,1879 477,1881 490,1883 504,1885 517,1887 530,1889 544,1890 557,1892 570,1894 584,1896 597,1898 610,1900 624,1902 637,1905 651,1907 664,1909 677,1911 691,1913 704,1915 717,1917 731,1919 744,1920 757,1922 771,1924 784,1926 797,1927 811,1929 824,1930 837,1931 851,1933 864,1934 877,1936"/>
<polyline stroke="#0030ff" points="553,1891 567,1893 580,1895 593,1897 607,1899 620,1901 633,1903 647,1906 660,1908 673,1910 687,1912 700,1914 713,1916 727,1917 740,1919 753,1921"/>
<polyline stroke="#0030ff" points="486,1877 499,1879 513,1880 526,1882 539,1883 553,1885 566,1886 579,1888 593,1889 606,1891 619,1893 633,1895 646,1896 659,1898 673,1900 686,1901 699,1903 713,1904 726,1906 739,1907 753,1909 766,1910 779,1912 793,1914"/>
<polyline stroke="#0050ff" points="531,1887 544,1888 557,1890 571,1892 584,1894 597,1896 611,1898 624,1900 637,1901 651,1903 664,1905 677,1907 691,1909 704,1911 717,1913 731,1915 744,1916 758,1918"/>
<polyline stroke="#0000df" points="469,1877 483,1878 496,1879 509,1881 523,1883 536,1884 550,1886 563,1887 576,1889 590,1891 603,1892 616,1894 630,1896 643,1898 656,1899 670,1901 683,1903 696,1904 710,1906 723,1908 736,1909 750,1911 763,1912 776,1914 790,1916 803,1917 816,1919 830,1921 843,1923 857,1925 870,1926 883,1928 897,1931 910,1933"/>
<polyline stroke="#0010ff" points="437,1871 450,1872 463,1873 477,1874 490,1874 503,1876 517,1877 530,1878 543,1880 557,1881 570,1882 584,1884 597,1885 610,1887 624,1888 637,1890 650,1891 664,1892 677,1894 690,1895 704,1896 717,1898 730,1899 744,1900 757,1901 770,1903 784,1905 797,1907"/>
<polyline stroke="#0000df" points="447,1874 460,1875 474,1876 487,1877 500,1879 514,1880 527,1882 540,1883 554,1885 567,1886 581,1888 594,1889 607,1891 621,1893 634,1894 647,1896 661,1898 674,1899 687,1901 701,1902 714,1904 727,1905 741,1907 754,1908 767,1910 781,1911 794,1913 807,1915 821,1917 834,1919 847,1921 861,1923 874,1925"/>
<polyline stroke="#0040ff" points="454,1873 468,1874 481,1875 494,1877 508,1878 521,1879 535,1881 548,1882 561,1884 575,1885 588,1887 601,1888 615,1890 628,1891 641,1893 655,1894 668,1896 681,1897 695,1899 708,1900 721,1902 735,1903 748,1904 761,1906 775,1907 788,1909 801,1911 815,1913 828,1915 841,1917 855,1919 868,1921 882,1924 895,1926 908,1929 922,1931 935,1934 948,1936"/>
<path stroke="#00008f" d="M295 1848zm0-16zm2 0zm0 16zm2-17zm0 5zm2 10zm1 0zm1-11zm1 8zm5 10zm1-14zm2 0zm0-7zm2 20zm1-15zm0 15zm0-22zm1-4zm0 2zm1 10zm1-1zm0-2zm1-2zm5-5zm0 14zm0-6zm1 11zm0-8zm1 2zm1 14zm1-18zm0 4zm0 3zm1-10zm2 16zm0-9zm0-9zm0 13zm1 9zm1-2zm2-2zm1 6zm0-15zm2 4zm0 3zm1 0zm0 7zm1-11zm1 14zm0-25zm1 1zm0 6zm1 8zm1-2zm0-2zm1-7zm3 1zm0-4zm1 18zm0-8zm0 0zm1 6zm1-11zm0 2zm0 8zm1 8zm1 1zm0-17zm0 17zm2-24zm0 10zm1-13zm0-1zm0 9zm1 9zm0-5zm0 14zm1-19zm0 12zm1-19zm1 11zm1 8zm1 8zm0 2zm1-14zm1 14zm0-24zm0 21zm1-22zm1-1zm1 22zm0-26zm3 2zm1 27zm1-28zm2 9zm2 5zm0-2zm1 22zm2 1zm0-24zm2 0zm1-10zm0 8zm1 12zm0-13zm1 12zm1-1zm0 14zm0-27zm1 3zm1-10zm1 26zm0 4zm0-9zm1 11zm1-4zm1-17zm0-1zm0 19zm0-19zm1 23zm0-8zm2-4zm0 9zm1-20zm1 23zm1 2zm0-3zm1-2zm1-26zm2-2zm0 23zm1 9zm0-25zm1 25zm2-29zm1 14zm1 7zm1-2zm1 26zm1-39zm1 11zm0-20zm2 37zm1-4zm0-5zm0-27zm0 26zm1-15zm1 4zm1-6zm0 13zm1 5zm2-15zm0 13zm1 3zm0 11zm2-15zm1-24zm0 32zm0 43zm1-51zm0-5zm1-6zm1 16zm1-6zm0 7zm0-10zm1-12zm2 23zm1 6zm0-17zm1 0zm1-3zm0 20zm1-12zm1 14zm1-13zm0 42zm0-64zm0 29zm1-3zm1-19zm0-1zm0-1zm0 82zm1-50zm1 35zm0 28zm1-95zm1-4zm0 2zm2 5zm0 16zm0-23zm0 26zm2-11zm0 19zm1-30zm1 34zm0 0zm1-41zm0 37zm0-2zm1-35zm0 8zm0-8zm0 22zm1-4zm1-7zm0 27zm2 1zm1-6zm0-19zm2 11zm1 52zm0-54zm0-29zm1 17zm0-4zm0 22zm1-14zm0 14zm0 3zm0-13zm1-5zm0 19zm0 1zm0-6zm0 1zm1-4zm1 1zm0 6zm2-5zm1 9zm0-23zm1-33zm0 41zm0 11zm1-6zm0 6zm1 13zm0-32zm0 19zm0 11zm2-19zm0 1zm0-2zm1-5zm1-3zm1 12zm0-6zm1 21zm0-3zm0-23zm1 10zm0 5zm0-4zm1 15zm1-14zm0 4zm0-12zm1 28zm1-39zm0 32zm1 2zm1-17zm0 4zm0-19zm0 32zm0-30zm0 8zm2-10zm0 12zm2 23zm1-45zm0 48zm0-19zm1 19zm1 1zm0-41zm0 20zm1-4zm0 12zm1-18zm1-17zm0-1zm0 14zm2 34zm0-11zm1-44zm1 85zm0-63zm0 21zm0-36zm0 27zm0 2zm1-3zm1 91zm0-95zm0 8zm0-17zm0-6zm1 6zm1 26zm1-5zm0 3zm1 10zm1-26zm0-7zm0 57zm1-50zm1-16zm0 9zm1 0zm0 29zm1-40zm0 4zm0 22zm0-25zm1 142zm2-110zm0 7zm2-22zm0-18zm0-4zm1 11zm0 29zm0-37zm1 12zm0 38zm1-42zm0-5zm0 28zm0 17zm0-22zm1-18zm0 19zm0 24zm1-52zm1 27zm1 92zm0-79zm1-31zm0 3zm0-7zm0 0zm1 18zm3-1zm1 14zm0 13zm0-8zm1-32zm0 34zm0-42zm1 49zm0-36zm0 28zm1 3zm0-42zm0 33zm0-25zm0 10zm1 10zm0-2zm0-28zm1 10zm0 9zm2 6zm0 24zm0-14zm0-17zm1 9zm1-18zm1 40zm1-49zm0 38zm0-44zm1 7zm1 20zm1-17zm0 14zm1 1zm1 25zm0-30zm1 11zm1 15zm1 14zm0-31zm0 12zm1 14zm1-25zm2-5zm0 32zm0-26zm1 4zm0 24zm0 2zm0-11zm1-11zm2 7zm0-23zm0 28zm1 2zm0-46zm0 53zm0-43zm2 23zm1-10zm0 23zm1-32zm0 10zm2 17zm0-10zm2-14zm0 3zm1 31zm1-20zm2-33zm1 28zm0 29zm0-10zm0-32zm1-2zm0 26zm1-13zm1 12zm1 10zm0-24zm0-10zm1 8zm0-5zm0 30zm1-28zm1-10zm0 29zm0-6zm1-18zm0 25zm1-22zm0 23zm0-42zm1 31zm3 10zm1-1zm1-34zm1 27zm1-12zm0 5zm0 6zm2 6zm0 1zm0-30zm0 33zm1-42zm0 9zm1 36zm0 15zm0-54zm2 25zm1 0zm1 5zm1 22zm2-34zm0 18zm0-7zm0 2zm0 27zm1-61zm0 37zm2 10zm0-8zm1-2zm1-18zm1 11zm0-15zm0 5zm1 21zm1-6zm1-32zm1-1zm0 42zm0 2zm0-33zm2 38zm1-22zm0 7zm0 1zm0 0zm1-18zm1 25zm0-8zm0-24zm0 15zm0 9zm1-16zm0-40zm2 49zm0 6zm1-9zm0 26zm1-23zm0 1zm1-26zm0 23zm0-11zm1-7zm1 44zm0-17zm1 3zm0-17zm2-2zm0 16zm1-36zm1 39zm0 11zm0-12zm1-8zm0 15zm0-16zm1-8zm0 22zm1 10zm0-53zm0 21zm0 16zm1-11zm0-6zm4 13zm2 0zm0-31zm0 39zm1-41zm0 20zm1-7zm0 22zm0 1zm0 2zm1-25zm0-53zm1 67zm1-11zm0-4zm0 31zm1-8zm0 3zm0 10zm0-25zm1-1zm0 0zm0 25zm0-47zm0 25zm1 0zm0 4zm3 38zm1-12zm2-21zm2 4zm0-17zm1 26zm0-37zm1 12zm1 32zm1-17zm1 15zm1-10zm2-10zm0-17zm0-10zm0 16zm1-15zm0-5zm1 11zm0 16zm0 11zm2-35zm0 44zm1-16zm1-6zm0-26zm1 38zm1-40zm1 46zm1-47zm1 39zm2 21zm0-59zm0 4zm1 12zm2 26zm2 17zm5-42zm1 14zm3-6zm0 11zm0 7zm1 15zm0-27zm1 9zm1-36zm0 40zm1-15zm1-8zm0 18zm1-21zm1-1zm1 37zm0-62zm0 42zm5-1zm0 13zm2-25zm0 29zm0-42zm1 6zm0 28zm1-34zm1 35zm1-26zm0-5zm1 29zm2-4zm0 18zm2-1zm1 9zm0-38zm0-23zm1 56zm2-16zm1-29zm0 17zm2 3zm0 2zm2-43zm0 43zm0-14zm3 9zm1 26zm1-3zm0-26zm1 20zm0-64zm2 9zm0 44zm0 13zm1 16zm0-36zm1 28zm0-13zm0 17zm0-6zm0-18zm0 8zm1-25zm0 25zm1-4zm0-25zm0 26zm2-37zm0-3zm1 17zm2 7zm0 30zm1-72zm0 76zm2-30zm0 25zm0 8zm1 1zm1-60zm0 27zm0 5zm0-38zm2 6zm1 38zm1-31zm1-13zm1-46zm0 109zm1-7zm0 15zm1-41zm1 5zm0-19zm1-19zm0 81zm2-16zm1 2zm0-7zm3-51zm1 43zm1 20zm3-46zm1-4zm0-4zm0 2zm1 31zm0-3zm1-27zm0-13zm0-5zm1-1zm0 79zm1-40zm3-42zm1 48zm0-43zm2-23zm0 51zm1 17zm0 28zm1-65zm1 31zm1 0zm0-21zm1 50zm0-26zm1-3zm0-8zm0 32zm1-17zm2 6zm1-5zm0-26zm1-1zm0-24zm2 8zm0-13zm4 105zm1-49zm0 38zm2-42zm3-52zm0 62zm1-18zm0-7zm1 35zm1-20zm0-52zm1 47zm2 0zm1 20zm0-58zm2 58zm0 0zm0-66zm0 60zm1-12zm1 59zm1-55zm0-38zm0 64zm1-33zm2 17zm0-30zm1-10zm0-6zm2 63zm0-55zm2 81zm0-64zm2-67zm4 88zm1-52zm5 4zm2 1zm0 72zm1-16zm0-55zm1 19zm0 24zm0-38zm2 59zm3-39zm2 19zm1-15zm3-86zm2 59zm0 86zm1-87zm2 57zm2-21zm1-30zm1 45zm1-34zm1 49zm0-11zm2 37zm0-32zm0-68zm0 12zm1 4zm0 7zm1 59zm2 0zm1-42zm1 7zm0 3zm1 7zm1 38zm0-11zm1-61zm1 27zm1-15zm3 24zm3-57zm3 75zm1 23zm1-104zm1 46zm1 14zm1-24zm0 26zm0-10zm1-17zm2 30zm1-9zm0 60zm1-137zm1 47zm1 19zm1-63zm2 108zm1-45zm0-5zm1 26zm1 6zm1 19zm1-18zm1-55zm1 16zm0-4zm0 35zm1-1zm1 4zm0 40zm2-52zm2-29zm1 64zm3-56zm0 26zm1-24zm1-41zm1 63zm1-11zm0-77zm1 97zm2-32zm0 41zm0-88zm1-1zm3 120zm1-45zm0-69zm0 94zm1-36zm0-9zm1 12zm1-36zm0 36zm1-63zm4 70zm3-27zm0-30zm0-4zm4 14zm1 55zm0-77zm1 114zm0-134zm2 41zm3-36zm1 21zm1 33zm1 80zm2-33zm0-8zm5 8zm0-17zm0-44zm1-8zm1 10zm0-39zm1-1zm1 33zm1 62zm2-75zm2 16zm1 17zm1-25zm1 48zm0-2zm1 32zm0-6zm6-43zm3-57zm1 2zm0-6zm0 36zm2 4zm1 47zm0-7zm0-8zm1-40zm0 8zm1 72zm0-109zm1 107zm1-68zm0 79zm2-50zm1-18zm7-46zm0 70zm2 37zm1 9zm1-83zm0 31zm4 26zm3-2zm3 12zm0-18zm2-9zm2-12zm0-1zm3-42zm1 36zm3 34zm1-99zm0-16zm1 92zm4-7zm1-132zm2 77zm3 58zm1-80zm0 54zm2 7zm0-11zm0-9zm1-28zm1-4zm4 71zm0-109zm1 134zm2 14zm0-33zm6-23zm0 46zm2-94zm1 12zm1 114zm0-113zm0 27zm1 39zm3-47zm2-15zm1 3zm7 24zm1 35zm0 0zm3-15zm1-11zm2-63zm1 95zm0-5zm3 40zm4-58zm11-141zm2 116zm4 24zm0-4zm1-1zm4 20zm8 6zm1-31zm5 32zm1-2zm2-20zm0 61zm3-57zm2 42zm4-52zm4 47zm3-38zm5-4zm2 38zm4-44zm1 2zm1 59zm4-72zm0 53zm1-69zm4 46zm4 27zm3-42zm7-1zm0 2zm2-9zm3 61zm7-44zm11-1zm1-22zm0-79zm8 155zm6-95zm1 31zm4-4zm6 20zm3-64zm8 43zm0 46zm5-74zm16 104zm2-33zm13 23zm14-34zm6-24zm16 3zm13-23zm5-28z"/>
<path stroke="#00009f" d="M305 1838zm6-10zm4 11zm19-9zm6 10zm8 7zm3-8zm21 24zm8-18zm11-6zm31 13zm8 5zm5 2zm54-6zm5 10zm0 8zm0 9zm9-41zm5 38zm4-23zm16 8zm9-25zm13 54zm4-15zm6-72zm8 54zm26 14zm9-17zm9 1zm26 14zm4 3zm2 20zm8-24zm1 1zm3-15zm3 2zm17 22zm5-2zm3-5zm2-15zm3-2zm9-7zm29 31zm0-35zm51 46zm4-18zm22 22zm7-22zm4 20zm15-52zm6 16zm11 13zm7 15zm2 10zm8 15zm9-39zm8 18zm9-59zm12-18zm7 13zm21 105zm8-81zm25 55zm1-39zm26 130zm3-74zm11-67zm19 78zm21-103zm51 16zm34 29zm84-22z"/>
<path stroke="#0000af" d="M296 1845zm2-4zm14-7zm10 10zm30-14zm15 14zm32 7zm5-13zm2 31zm1-28zm1 6zm17 8zm15 18zm0-25zm2 19zm0-2zm5 0zm8 8zm3-5zm8 9zm1 2zm7-4zm10-3zm5-15zm12 7zm0 1zm5 16zm5-29zm1 5zm5 4zm7 13zm1-18zm8 14zm7 4zm4-14zm1-27zm8 42zm3-15zm6-13zm12 2zm2-3zm2-1zm10 15zm7 38zm9-38zm23 2zm0 7zm1-11zm9-1zm4 6zm5-12zm0 33zm1 9zm2-43zm2 29zm5-23zm7-8zm4 62zm6-39zm4-13zm0 36zm5-50zm3 33zm7-70zm3 66zm1-36zm5-2zm0 38zm0 10zm4-18zm4 19zm13 9zm2-79zm3 68zm6-35zm4 14zm7 34zm7 6zm18-1zm1 32zm13-38zm17-7zm7 18zm42-67zm1 29zm3-15zm3 26zm2-32zm8 13zm32 12zm12-52zm20 32zm5 8zm4 47zm58-41zm73 6zm52 73zm129-77z"/>
<path stroke="#0000bf" d="M296 1845zm1-9zm43 1zm42 17zm24-2zm11 9zm2-12zm9-10zm7-2zm4 8zm0 26zm8-6zm7-13zm2 8zm5-5zm21-15zm2 37zm6-8zm3-27zm8 23zm2-3zm2-5zm3 21zm5-21zm3 12zm4-19zm3 28zm1-9zm1-29zm8 17zm8 16zm1-11zm8 2zm7-28zm1 47zm4-28zm3 11zm3 19zm0-40zm8 25zm1-7zm3 12zm3-4zm10 26zm3-42zm1 38zm1-54zm1 23zm6 39zm5-19zm4-13zm0-27zm1 39zm4-6zm5-4zm3 29zm2-2zm2-54zm1 27zm8-17zm16 26zm5 0zm10-24zm0 29zm4-22zm8 25zm17-4zm10 2zm2-23zm7-1zm3-35zm6 52zm10 13zm1-71zm0 59zm6 14zm4-50zm5 23zm20-11zm1-8zm2 10zm3 15zm8 26zm8 6zm8-59zm1 52zm8-70zm1 58zm2 1zm2-37zm0-10zm3 43zm26-4zm1 36zm7-65zm15 55zm5-42zm7-4zm15-37zm8 0zm1 13zm6 105zm9-53zm15 13zm4 45zm26-26zm4 20zm1-27zm9-49zm12-12zm1-45zm24 87zm29-76zm34 81zm13-8zm47-8zm24 55zm84-25zm79-44z"/>
<path stroke="#0000cf" d="M296 1844zm15 6zm19-16zm8 20zm23-4zm2-4zm7-2zm5-9zm21 7zm1-6zm14 30zm7 3zm13-20zm3-14zm28 38zm34 8zm0-22zm1-17zm3 3zm2 8zm11 30zm1-35zm2 5zm2-7zm13-14zm5 44zm12-41zm7 51zm3-14zm7 9zm3 1zm0-30zm7-3zm5 17zm1-16zm1 19zm2-15zm10 40zm4-13zm1-16zm0 16zm5-29zm7-1zm0 42zm6-33zm3 7zm5-15zm0 18zm1 32zm1-33zm0-20zm5 21zm1 27zm12-48zm9-4zm8 4zm4 39zm22 7zm1 3zm2-46zm5 48zm4-37zm1-13zm5 42zm3-36zm0 32zm5-13zm7 20zm8-67zm1 22zm9 46zm1-20zm13-5zm6 17zm2-20zm8 5zm2 12zm1-25zm20 40zm3-28zm2 9zm4-22zm1 36zm8-47zm2 36zm4-26zm9 13zm5-38zm2 23zm14 77zm3-81zm13-12zm4 40zm3 69zm4-93zm11 21zm0 25zm15 5zm1-24zm1 32zm3-21zm1-59zm7 105zm3-108zm4 39zm18 58zm6-48zm12-13zm21-64zm17 103zm33-62zm46 26zm177-96z"/>
<path stroke="#0000df" d="M296 1845zm2 3zm73-18zm143 49zm13-18zm4 3zm19 17zm10 0zm0-33zm17 1zm12 36zm4-23zm12 16zm1-20zm4 44zm5-6zm1-3zm4-22zm4 26zm3-59zm2 52zm8-42zm6 17zm0-7zm0-25zm11-3zm7 78zm6 1zm2-17zm11-3zm12 16zm2-22zm2 22zm4-75zm2 8zm5 49zm1-14zm2 9zm6-32zm4 50zm11-39zm1 15zm5-28zm1 68zm6 3zm7-44zm4-6zm0-8zm1 50zm6 1zm2-80zm3 39zm6 53zm1-28zm10-48zm6 57zm11-44zm19-12zm1 41zm3 29zm1-83zm11 29zm24-14zm8 16zm11 15zm11-28zm42 11zm112-72zm9 192zm68-80z"/>
<path stroke="#0000ef" d="M298 1847zm216-7zm19 49zm4-19zm16-6zm11 13zm1-10zm9 2zm2-16zm4-11zm7 53zm2 1zm3-48zm1 44zm7-52zm7 18zm2 43zm7-61zm8 18zm2-19zm0 19zm3 41zm0-8zm0 0zm1-11zm4 12zm1-53zm1 47zm0-31zm4-5zm1 5zm3 43zm4-26zm1 14zm2-9zm4-15zm6 4zm1-13zm2 45zm2-47zm2 59zm1-13zm1-17zm5-39zm1-2zm10 59zm1-4zm1-66zm5 69zm1-42zm1 11zm4 24zm6-21zm2 27zm12-8zm0 13zm3-29zm8-7zm2-5zm1-15zm2 36zm2 1zm10-2zm4 11zm7-31zm0 56zm2-61zm0 65zm1-8zm2-61zm4 2zm0 2zm0 15zm4-17zm1-4zm3 74zm1-2zm2-41zm1-41zm0 37zm0 27zm7-46zm0 51zm1-81zm2 40zm3-13zm3 56zm1-29zm0-4zm5 18zm9 24zm1-87zm11 8zm7 53zm15 40zm6-89zm9 53zm0-28zm11 29zm1-29zm1-60zm11 46zm5-39zm1 50zm5-31zm2 54zm11-39zm10 62zm5-43zm8 100zm8-139zm9 78zm2-37zm3 39zm10-45z"/>
<path stroke="#0000ff" d="M540 1855zm36-7zm8 48zm3-56zm6 39zm1 13zm2 0zm14-27zm10 36zm1-15zm2-38zm7 29zm0-38zm4 46zm0 20zm2-15zm3-16zm6 19zm17 15zm2-44zm2 16zm1-5zm5-27zm0 48zm5-56zm0 47zm1 26zm0-24zm2-16zm8 41zm9-41zm2 39zm11-68zm9 62zm4-29zm3-38zm10 37zm0-27zm5 31zm0-26zm2 48zm3-22zm1 8zm3-22zm5 7zm1-3zm6-30zm2 44zm0 17zm7-6zm6 22zm2-53zm5 9zm2-16zm5 29zm2 4zm4-19zm1 49zm0-12zm3 15zm1-13zm16 30zm1-46zm7-8zm5-16zm1 4zm7 59zm5-24zm3-89zm8 33zm2-7zm7 76zm5-96zm8 41zm1-11zm11 76zm0-1zm7-113zm0 18zm6 103zm1-92zm2-3zm0 82zm12-3zm4-69zm7 30zm0-12zm0-9zm5-44zm2 72zm2-3zm2-5zm0 38zm8-59zm1 37zm4 0zm5 34zm15-32zm3 45zm31-89zm4 32zm5-17zm18 8zm6 80zm4 15zm20-87zm6-46z"/>
<path stroke="#0010ff" d="M559 1872zm23-12zm11 29zm5 4zm11-12zm14 10zm2-1zm8 15zm2-59zm0 57zm4-2zm16-43zm3 25zm1-30zm2 9zm7 12zm7 26zm5-15zm2 25zm10-10zm11-60zm1 37zm0 9zm1 0zm1-46zm5 25zm0 49zm4-17zm2-15zm1 31zm1-7zm4-40zm2-18zm2 51zm1-35zm1 0zm0-21zm0 54zm4 22zm2-56zm1 39zm2-22zm5-1zm11 28zm4-54zm9 32zm0 19zm1-22zm4 37zm2 19zm6-69zm0 18zm2 4zm4 30zm3-12zm2-25zm2-11zm2 43zm3-25zm0 30zm1-70zm4 9zm9 48zm6 12zm5-26zm2 19zm6-71zm3 47zm5-38zm3-54zm4 28zm5 63zm3-41zm15 86zm3-8zm0-23zm5 24zm4-81zm1 76zm14 25zm3-15zm6-98zm2 8zm1 0zm3 34zm2-43zm0 93zm1 10zm6-102zm6 26zm1-3zm5 58zm2-1zm6 31zm1-75zm1 66zm3-58zm1 16zm32-78zm2 96zm7-45zm7-2zm9 57zm7-53zm27 83zm20-164zm17 139z"/>
<path stroke="#0020ff" d="M301 1846zm1 4zm256 30zm11-17zm31-2zm2 36zm4-32zm3-8zm20 2zm16-19zm5 49zm1 7zm12-41zm6 17zm5 26zm2-1zm2-41zm4 26zm8 31zm1-50zm0 24zm3 17zm9-53zm12-12zm1 33zm1-3zm5 48zm7 2zm5-1zm0-32zm0-21zm4 30zm4 25zm1-79zm1 33zm1-24zm1 52zm5-5zm6-54zm1 78zm3-29zm2 14zm0-63zm2 20zm1 44zm6-61zm1 26zm2 9zm3-8zm6-16zm5 52zm5-13zm8-27zm5 62zm6-20zm3 4zm1-74zm0 85zm12-26zm3-23zm0-6zm10 54zm1-105zm1 44zm2-2zm3 65zm3-88zm0 9zm1 3zm8 60zm12 25zm2 1zm0-16zm1-25zm1 29zm5-68zm1 10zm2-23zm2-41zm3 100zm3 36zm1-116zm7 47zm2 50zm4-43zm4 52zm8-73zm1 42zm1-7zm2 29zm10-69zm1 36zm4 21zm11 46zm3-135zm1 68zm7-53zm2 86zm1-61zm0 4zm4-13zm16 106zm7-94zm6 21zm1-72zm1 44zm3 8zm1 41zm1-67zm1 60zm11-48zm12 52zm2-84zm14 38zm21-28zm3 6z"/>
<path stroke="#0030ff" d="M301 1847zm283 24zm7 8zm43-15zm3 21zm1 11zm14-56zm2 11zm1 44zm18-51zm3 61zm6-63zm5 44zm3-28zm4-15zm13-5zm3 75zm4-27zm2 23zm11-50zm0 60zm11-14zm1-26zm0 11zm13 8zm6 25zm1-56zm1 48zm3-16zm4 5zm0-27zm3-29zm1 55zm1 2zm0 12zm2-41zm3-34zm2-3zm0 68zm2-4zm0 17zm4-49zm2 38zm1-64zm4-1zm2 72zm0-7zm1 1zm4-34zm0 43zm1-1zm4-47zm2-13zm3 50zm3 18zm3-89zm1 18zm10 6zm5 65zm6-70zm1 64zm0 13zm2-14zm0 11zm2-39zm3-63zm0 98zm2 3zm5-76zm9 80zm1-49zm1-34zm2 41zm1 13zm1 16zm1-87zm0 94zm1-33zm1 18zm0-3zm2 31zm0-17zm1 10zm4-40zm2 11zm3-11zm0-33zm2 42zm1 27zm1 2zm0-43zm3 37zm0-74zm9 5zm1-16zm0 64zm12-31zm9-16zm2 62zm3-13zm2 47zm0-13zm0-5zm4 6zm3-81zm2-22zm1 66zm8 27zm3-108zm1 99zm2-2zm6-33zm8 26zm2-71zm17 35zm2 44zm2-30zm0 26zm14-83zm2-17zm7 48zm3-14zm8 52zm8-14zm8-67zm4 26zm4 89zm2-34zm2-122z"/>
<path stroke="#0040ff" d="M302 1844zm301 45zm49-2zm14-29zm1 38zm8-14zm1-8zm4 10zm9 13zm5 1zm6 8zm5-17zm4 23zm0-17zm8-42zm0-15zm2 40zm5-22zm5 45zm12-9zm1 4zm1-9zm1 30zm20-7zm0 37zm5-47zm12 9zm3-52zm1 65zm1-3zm2 6zm1-55zm1 53zm6-73zm4 1zm5 70zm1-79zm2 63zm8 23zm0-2zm12-112zm2 116zm6-8zm2-52zm2 10zm1 24zm4-73zm0 93zm2-4zm1 10zm15-49zm1 30zm4 14zm1-29zm3-11zm4-37zm2 58zm1-78zm6 63zm1-3zm0 12zm4-51zm8 86zm2-99zm1 23zm2 50zm1-69zm3 61zm2 58zm5-6zm2-13zm2-20zm3-73zm7 91zm1 3zm1-38zm0 29zm7-96zm3 0zm4-4zm0 69zm1-5zm1-29zm1 28zm0 8zm1-35zm1 44zm2-46zm3 52zm1-23zm20-25zm17-63zm1 25zm9-28zm11 114zm2-30zm3 6zm6-40zm1 47zm6 6zm2-45zm1-42zm5 73zm11-23zm1-50zm2-8zm4 34zm10 64zm2-58zm30-50zm31 25z"/>
<path stroke="#0050ff" d="M591 1882zm27 4zm47-54zm21 44zm2 31zm9 6zm1-38zm4 16zm4 3zm18-8zm22 37zm8-67zm4-11zm6 36zm11 9zm5 2zm7 16zm1-60zm1 5zm2-15zm6 78zm13 2zm4-39zm4 45zm3-59zm2 49zm9-45zm1 28zm3 19zm4-25zm2 19zm5 20zm1-52zm0 11zm6 17zm3-20zm3 46zm11-76zm3 58zm4-30zm3-7zm4-2zm3-21zm3-7zm2 15zm2-26zm2 1zm2 14zm1 17zm0 19zm5-14zm2 32zm2-37zm0 69zm7 0zm2-4zm9-79zm2 17zm1-9zm9-39zm7 92zm3-27zm8-5zm1-12zm11-5zm3 10zm0 38zm7-33zm3 66zm4-92zm9 65zm1-46zm5 8zm1-39zm5-7zm1 20zm11 17zm2-1zm2-18zm7 30zm3-15zm20 9zm1-39zm21 8zm9-24zm3 78zm7-60zm33-3zm4-19z"/>
<path stroke="#0060ff" d="M641 1873zm95-25zm17 8zm0 1zm19 16zm0 16zm1-37zm3-31zm5 64zm20 5zm0 5zm1 10zm16-3zm1 4zm16-57zm11 66zm7-15zm5 24zm4-22zm3 4zm0-57zm12 26zm11-2zm3-29zm3 58zm0-69zm6 65zm11 34zm7-84zm1 48zm7 0zm0 0zm5-34zm7-10zm2 48zm2 40zm6-76zm3 20zm0 17zm2-17zm2 10zm6 9zm3-34zm1 49zm9-6zm2 46zm1-130zm12 3zm5 45zm1-16zm10 16zm1-8zm1 55zm6-37zm7-49zm0 9zm3-19zm2 93zm15 26zm3-73zm1-62zm1 106zm2-106zm3 135zm0-135zm2 122zm45-37zm0-80zm12-4zm68-37z"/>
<path stroke="#0070ff" d="M303 1846zm297 41zm123 6zm5-34zm11 5zm1 12zm12-56zm4 46zm2 74zm17-16zm13-72zm1 46zm10 3zm9-49zm3 8zm6 10zm10 20zm10 12zm11 18zm10-83zm5 99zm4-24zm2-2zm13-10zm8-83zm5 104zm5 4zm10-57zm2 66zm8 4zm2-108zm4 102zm5 4zm3-36zm0 41zm9-33zm9-88zm4 61zm1-2zm11-10zm2 0zm0 31zm1 5zm3-96zm3 101zm11 0zm3-15zm1 38zm9-115zm0 88zm1-81zm3 45zm4-3zm0-61zm7 23zm6 49zm10-34zm3 5zm1 98zm5-72zm2-66zm3 113zm1-47zm1-4zm0 5zm3-24zm1 48zm1-149zm5 123zm5-72zm1 113zm9-38zm8-55zm1 53zm9-25zm1 32zm0-12zm4-31zm1 35zm54-61zm74 32z"/>
<path stroke="#0080ff" d="M739 1847zm18 5zm15 33zm48 27zm8 7zm28-56zm15 36zm5 44zm7-15zm16-52zm15 0zm1 0zm6 62zm4 1zm1-119zm8 25zm3 26zm1 45zm1-27zm8-24zm6-2zm5-29zm4 29zm1-31zm0 49zm8-6zm1 13zm2-48zm11 119zm3-54zm3-16zm1 1zm8-54zm0 20zm1-11zm17 68zm25-119zm8 49zm8-8zm2 59zm1-4zm22-41zm4-86zm18 115zm0-39zm16-5zm4 33zm1-61zm6 97zm2-81zm7-7zm15 30zm8 60zm65-122z"/>
<path stroke="#008fff" d="M303 1845zm1-1zm491 83zm27-84zm5 89zm7-81zm4 62zm11-97zm25 33zm3 25zm19 60zm17 18zm7-89zm14-1zm15 58zm8 28zm1-49zm1-3zm0-9zm8-16zm4 17zm10-43zm1 25zm0-68zm1 78zm1-65zm16 14zm1 36zm4-19zm22 30zm0-17zm1 65zm4-6zm6-24zm13 8zm1-51zm5-17zm16 21zm2-48zm12 27zm4-30zm2 10zm0-19zm3 95zm2 12zm2-46zm3-31zm1-9zm7 34zm0 29zm7-77zm6 41zm15 5zm7 34zm5-22zm19 9zm0-25z"/>
<path stroke="#009fff" d="M765 1849zm22 37zm68-53zm0 34zm3-33zm28 66zm4 34zm8-75zm25 67zm13-12zm27-70zm8 40zm4-78zm1 56zm5 16zm1-37zm4 12zm1-22zm3 14zm1 75zm9-36zm2-62zm0 33zm4 71zm4-5zm2-101zm1-6zm1 12zm3 46zm6 53zm25-76zm3-35zm2 16zm15 50zm2-73zm0 95zm0-2zm16-49zm1 51zm6-71zm1-46zm1 28zm3-17zm4 70zm38-24zm13-23zm17 15zm76-30z"/>
<path stroke="#00afff" d="M304 1843zm0 2zm431 55zm34-8zm92 28zm15-12zm23-10zm9-32zm6 22zm8-55zm26 26zm2 36zm18-26zm6-17zm15 17zm20-118zm5 55zm3 50zm0-8zm5 41zm3-40zm11 99zm3-57zm14 70zm4-57zm16-73zm3-8zm7 108zm5-4zm4-48zm2-80zm7 45zm3 25zm18-45zm3 35zm9-1zm7-52zm7 44zm6 33zm2-80zm0 66zm9-75zm6 0zm0 37zm31-13z"/>
<path stroke="#00bfff" d="M755 1857zm14 30zm101-43zm54 19zm28 57zm5-61zm4-19zm13-22zm17 27zm4 31zm30-40zm1-12zm3 9zm5 32zm8-10zm18 8zm4-21zm5 15zm7-19zm2-5zm5 13zm3 16zm1-28zm2 57zm6-70zm1-23zm4 35zm13 110zm3-75zm11-11zm33-4zm12 1zm1 38zm2-71zm17-42zm3-23zm12 75zm3 19zm2 29zm5 49zm0-25zm62-65zm3 9z"/>
<path stroke="#00cfff" d="M784 1893zm63-36zm30 63zm0-86zm43 12zm53 55zm15 14zm3-2zm1-67zm10 53zm0-72zm7 70zm0-21zm7 55zm0-70zm17-9zm12-21zm12 94zm4-78zm1 12zm7-34zm0 39zm1 49zm3-70zm17 49zm10-43zm0 96zm12-116zm2-53zm1 88zm2-15zm2-9zm4-73zm5 36zm10 28zm0 1zm34 63zm16 3zm25-53zm12 7z"/>
<path stroke="#00dfff" d="M1000 1922zm31-77zm6-2zm1-43zm8 113zm4-43zm6 33zm2-31zm10-61zm3 9zm14 37zm5-69zm11 55zm6-54zm1 73zm1 73zm3-89zm7-31zm3 66zm3-23zm4-96zm0 144zm9-60zm13 13zm4 13zm6-89zm3 123zm12-141zm12 134zm7-46zm1 15zm5-64zm7 41zm2-49zm13 69zm8-13zm21-2zm3-32zm12-56zm0 1zm96 144z"/>
<path stroke="#00efff" d="M307 1845zm664 5zm31-27zm23 17zm8 48zm18-112zm1 150zm14-119zm13-15zm32 130zm6-46zm8-87zm1 53zm1-63zm2 155zm2-88zm2-42zm10 118zm11-116zm16 89zm13 31zm22-160zm10 91zm7-11zm28 53zm44-5zm16-48zm10-2z"/>
<path stroke="#00ffff" d="M307 1842zm633 65zm25-76zm65 70zm12-17zm12-5zm8-19zm8 31zm0-74zm11 78zm4-75zm1 107zm8-81zm23-6zm0 13zm12 6zm0-40zm4 64zm2-41zm5-35zm14 8zm0 35zm6-14zm1-30zm7 24zm7 22zm2-3zm11 13zm12 33zm39-7zm8-61zm5 42zm5-86zm29 60zm5 7zm12 89zm51-99z"/>
<path stroke="#10ffef" d="M309 1845zm656 90zm100-103zm25 28zm6-14zm5-6zm6-27zm10 55zm12-100zm6 50zm12 35zm7 59zm6-74zm7 25zm5 25zm0-60zm4 35zm5-32zm9-16zm1-5zm15 37zm12 18zm8-51zm1-6zm35-40zm3 94zm6-53zm40 12z"/>
<path stroke="#20ffdf" d="M1041 1919zm34-54zm4 79zm2-92zm20-48zm11 91zm4-66zm7 33zm23-70zm1 96zm47-72zm14-42zm4 141zm14-65zm12-26zm32-29zm8 112zm6-63zm5 38zm61-7zm5-62z"/>
<path stroke="#30ffcf" d="M310 1846zm770 16zm73 25zm3-82zm7 45zm5-27zm30 0zm1-46zm2 74zm2-38zm15 32zm12 0zm5-28zm4 50zm8-31zm4-43zm3 117zm0-115zm15 19zm65-57zm20 82z"/>
<path stroke="#40ffbf" d="M1181 1873zm5-58zm7 60zm5-102zm0 94zm9-71zm6 9zm29-38zm7 128zm1-76zm9 20zm38-26zm24 59zm31-41z"/>
<path stroke="#50ffaf" d="M312 1847zm0-7zm833 54zm24-64zm46 85zm64-102zm14 3zm20 28zm23-6zm13-13zm29 31z"/>
<path stroke="#60ff9f" d="M311 1843zm2 3zm864-11zm7-24zm2 45zm5-24zm10 87zm29-118zm43 49zm16-53zm3 49zm0-91zm14 156zm36-48zm63-13z"/>
<path stroke="#70ff8f" d="M313 1841zm913-47zm11-10zm21 46zm2-10zm37-81zm23 128zm49-24z"/>
<path stroke="#80ff80" d="M315 1847zm806-16zm103-52zm93 21zm42 112zm12-41z"/>
<path stroke="#8fff70" d="M315 1846zm881 24zm29 20zm40-108zm1 114zm16 80zm32-187zm19 80zm2-18zm32 0zm12-55z"/>
<path stroke="#9fff60" d="M1272 1798zm13 30zm45-96zm57 118zm99 1z"/>
<path stroke="#afff50" d="M1199 1855zm97 38zm57-4zm65 36z"/>
<path stroke="#bfff40" d="M1275 1792zm103-36zm25 15zm32 26zm6-6zm102 41z"/>
<path stroke="#cfff30" d="M1270 1819zm31-68zm61 91zm23-4z"/>
<path stroke="#dfff20" d="M315 1850zm1-8zm981 3zm57-10zm94-19z"/>
<path stroke="#efff10" d="M1259 1850zm3 18zm120-45zm12 2zm6 78z"/>
<path stroke="#ffff00" d="M1291 1832zm42 43zm79-102z"/>
<path stroke="#ffef00" d="M1272 1894zm230-85z"/>
<path stroke="#ffdf00" d="M318 1845zm2-2zm1016 83zm72-42z"/>
<path stroke="#ffcf00" d="M1421 1767z"/>
<path stroke="#ffbf00" d="M320 1846zm1262-4z"/>
<path stroke="#ffaf00" d="M319 1846zm1088-57zm22 4z"/>
<path stroke="#ff9f00" d="M322 1846zm1061 52z"/>
<path stroke="#ff8f00" d="M1603 1862z"/>
<path stroke="#ff8000" d="M323 1844zm1175-49zm105 71z"/>
<path stroke="#ff7000" d="M1437 1820zm8-43zm16 12zm42 46z"/>
<path stroke="#ff6000" d="M1483 1845z"/>
<path stroke="#ff3000" d="M1561 1875z"/>
<path stroke="#ff1000" d="M1602 1837z"/>
<path stroke="#ff0000" d="M1507 1784z"/>
<path stroke="#ef0000" d="M1530 1840zm38-4z"/>
<path stroke="#df0000" d="M1604 1809z"/>
<path stroke="#00008f" d="M295 1848zm0-20zm0 19zm2-13zm2-3zm0 7zm1-7zm2 8zm0-1zm0-4zm1 10zm0-13zm1 3zm2 15zm2-8zm1-3zm1-2zm0 15zm1-13zm0 4zm2-6zm1-3zm1-8zm1 16zm1 4zm1-1zm1 0zm1-1zm1-6zm1-10zm1 26zm0-18zm0 12zm1 1zm0-3zm0 7zm1-7zm1-11zm0 20zm0-5zm1 6zm0-7zm0-5zm1-11zm0 3zm1 11zm1 11zm0-27zm1 25zm0-18zm1-2zm1 16zm0-7zm0 7zm1-2zm1-2zm1 9zm0-22zm1-4zm0 13zm1-3zm3-13zm0 23zm0 10zm5-33zm0 14zm2 13zm1-9zm2 6zm0-16zm1 22zm1-7zm1-1zm0-2zm1-1zm0 9zm1-30zm0 7zm0-2zm4-14zm0 28zm1 0zm0 3zm0-4zm0-3zm0 7zm1 15zm1-26zm2-1zm1 14zm0 6zm3 9zm0-22zm1 18zm2-2zm2-28zm0 15zm2 9zm1 7zm1-16zm1-14zm0 12zm1 20zm1-1zm0 15zm1-49zm1 31zm0-14zm2 14zm1 22zm1-34zm1-11zm0 4zm3 16zm0 38zm2-34zm0-22zm0 63zm1-46zm1-10zm0 17zm2-8zm0-7zm0-15zm2 35zm0-23zm1 11zm0-22zm1 31zm0 3zm0 52zm1-61zm0-13zm2 7zm0 8zm0-26zm0 25zm0-9zm2 7zm1-3zm1 7zm0-16zm0-5zm2 11zm0-10zm0 17zm1 1zm1 9zm0-20zm1-13zm1 8zm1 10zm2 37zm0-30zm1-15zm0 20zm0-24zm1 56zm1-36zm0 6zm1-22zm0 8zm3 18zm1-4zm1-33zm0-1zm1 11zm1 4zm1 9zm1 3zm0 1zm0-5zm0 8zm1 64zm1-75zm1 16zm0 4zm1-26zm1-15zm1 28zm0-7zm1-17zm0 24zm1-21zm0 24zm0-12zm0 13zm0-20zm0-11zm1 26zm1 2zm0-3zm1-1zm0-19zm0 33zm2-38zm0 14zm1 92zm1-79zm1-1zm0-8zm0-11zm1 25zm0 67zm2-83zm0 11zm0-4zm0-16zm1 19zm0-18zm0 22zm3-25zm1 3zm0 25zm0-36zm2 23zm0 21zm0-10zm1 7zm0-18zm0-14zm0 26zm1 6zm2-13zm0-10zm0 16zm3 7zm1-25zm0 18zm0-7zm0 11zm1-30zm0-2zm0 25zm0 7zm0-9zm2 1zm0 15zm0-31zm0 29zm1 30zm0-60zm1-1zm0 16zm0 8zm1 9zm0-13zm1 13zm1 44zm1-55zm1 5zm0 5zm0-15zm1 16zm1-25zm0 2zm1 3zm1 27zm0-29zm0 15zm1-10zm1 42zm1-36zm0 11zm1-15zm0 16zm1 7zm0-48zm0 44zm0-43zm0 83zm1-44zm0-15zm1-5zm0 2zm1 1zm0 25zm1 0zm1-20zm0-14zm0 5zm0 27zm0-12zm0-8zm1 0zm0-3zm0 27zm1-1zm0-41zm1 37zm0-5zm0 1zm0-17zm1-23zm0 36zm0-20zm1-6zm0 19zm0 13zm0-25zm1 32zm1-25zm0 12zm1-41zm0 40zm1-17zm0-6zm0 8zm0 8zm2-5zm1-18zm0 15zm1 4zm0-11zm0 30zm1-29zm0 26zm1-37zm2 42zm1 95zm1-112zm0 10zm0-31zm0 34zm0-14zm1 24zm0-49zm1 13zm0 36zm1-23zm1 22zm0-48zm1 17zm0-21zm2 45zm0-38zm0 18zm1 0zm0-31zm1 56zm0-19zm1 19zm1-20zm1 17zm0-10zm0-10zm1-52zm0 65zm0 8zm1-1zm0-46zm1 54zm0-16zm1-16zm0 14zm0-5zm1 14zm0-20zm0-20zm0 23zm0-4zm1 25zm2-7zm0-6zm0-29zm0 12zm0 10zm0-13zm1 10zm1-6zm0-16zm1 15zm0 31zm3-36zm1 25zm0-11zm1 1zm0-21zm1 38zm1-29zm2 29zm1-45zm0 12zm1-4zm0 9zm1 24zm0-16zm2 4zm0 18zm1-29zm1 4zm0 19zm0-7zm1 7zm2-7zm0 4zm1-12zm0-4zm0-7zm1 32zm1-18zm0-28zm1 41zm3-47zm0 53zm0 3zm0-7zm1-20zm2 12zm0 5zm0-12zm1-15zm0-3zm0 22zm0 6zm2 10zm1-45zm0 33zm0-19zm1-7zm1 40zm1 0zm2-17zm1-16zm0 36zm1-31zm2 8zm0 16zm1-27zm0 2zm0-1zm0 24zm1-29zm0 20zm0-28zm0 25zm0 10zm1-14zm0 13zm1-39zm1 44zm0-34zm1-8zm1-2zm1 34zm0 14zm1-34zm0 32zm1-23zm1 15zm0 10zm1-9zm2-6zm0 3zm0 6zm2-55zm0 54zm1-11zm1-29zm0 48zm0-13zm1-16zm0-12zm1 28zm1 20zm0-49zm0 38zm2-12zm1-13zm1-11zm1 25zm0-19zm1 14zm0-13zm0 1zm0-10zm1 27zm0-4zm2-23zm1 53zm1-41zm0 14zm0 6zm1-31zm0 16zm1-40zm1 35zm1 17zm1-38zm0 13zm0 11zm0 26zm3-34zm1 6zm0 37zm1-38zm0 9zm1-11zm0-18zm1 54zm1-39zm1-12zm0 18zm1 7zm1 12zm1-40zm1 33zm0 15zm1-13zm1 12zm1 6zm0-16zm0-20zm1-3zm1 6zm0 39zm0-33zm1-26zm1 26zm0-1zm0-18zm1 45zm0 2zm1-47zm0 7zm0-1zm1 13zm1 30zm0-15zm0-12zm1-6zm1-1zm0 4zm0 3zm0-1zm2-10zm1 16zm1-15zm2-15zm0 0zm1 3zm2 36zm1-54zm0 43zm1-39zm0 62zm0-1zm0-37zm2-45zm0 65zm0-37zm2 11zm1 23zm0-15zm1 20zm1 10zm0-2zm1-34zm1-20zm0 31zm1-24zm1 71zm0-24zm1-30zm0 20zm2 8zm0-3zm0 12zm0-43zm1 4zm0 11zm1-11zm1 15zm0 41zm0-27zm2-3zm0-11zm2 11zm0-10zm0 3zm0-17zm1-49zm0 88zm1-34zm1-28zm0 20zm0 24zm1-16zm0 33zm1-58zm1 11zm0 3zm1 20zm0-26zm0 17zm0 30zm1-19zm0 23zm2-34zm0 12zm1 40zm1-74zm0 7zm0-2zm1 0zm0 48zm0-32zm1-6zm4 5zm0-7zm0 22zm1 16zm1-19zm0-8zm0-6zm1-13zm0 44zm0 0zm3-24zm0 11zm0-2zm1 0zm1 11zm0 7zm0 1zm1-38zm1 14zm0-16zm1 12zm0-37zm1 51zm0-8zm1-7zm1-12zm0 22zm1-27zm1 42zm0-15zm0-13zm1 11zm0 8zm0 22zm1-7zm1-68zm1 36zm0 31zm3-31zm0-3zm1-16zm0 32zm1 9zm0-16zm1-12zm2-16zm0-1zm0 15zm2 10zm0-11zm0 59zm1-43zm0-13zm1 38zm1-214zm2 213zm2-83zm0 69zm0 32zm0-66zm2 23zm0-14zm1 31zm0-10zm1 4zm0-2zm2-39zm1-4zm1 56zm1-19zm0-33zm0 30zm0 31zm1-7zm2-18zm0 19zm0 7zm0-38zm0 20zm1 13zm1-42zm1 9zm0 23zm0 12zm0-38zm0 32zm1-15zm0 1zm1-18zm2 10zm0 46zm1 0zm0-39zm2 2zm0-26zm0-8zm0 8zm2 16zm1-10zm1 31zm1-26zm1 4zm1 7zm0-38zm0 23zm0-13zm1 21zm2 49zm1-47zm4-13zm2-9zm0 11zm0 27zm1-11zm1-27zm2 40zm1-19zm0 29zm0-2zm0-27zm1 1zm0 21zm0 0zm0-32zm1 13zm0-23zm0 15zm1-1zm1-21zm0 42zm0-24zm1 51zm0-17zm1-17zm1 26zm0-68zm1 18zm0-12zm0 38zm1 16zm1-51zm1 81zm0-3zm1-13zm0-48zm1 10zm0-19zm1 16zm1-5zm2-4zm0-12zm0-13zm1 75zm0 11zm0-61zm1-24zm0 107zm0-83zm1 38zm1-49zm1 18zm1-9zm0-14zm0 56zm0-52zm1 42zm0-36zm2 46zm0 4zm0-18zm1 17zm1-58zm1-10zm0 21zm0 19zm0-33zm2 19zm0 32zm2-20zm2-1zm2-15zm0 5zm1 7zm3 30zm0-19zm3 22zm0-34zm0-3zm0-9zm1 35zm0-68zm1 44zm1-16zm0-3zm0 54zm1-13zm1-28zm0 35zm0-46zm1 41zm0 5zm1 2zm1-10zm2-7zm0-19zm2 5zm0-1zm1 21zm0 26zm2-55zm0 55zm1-41zm0 5zm1-19zm1 44zm1-9zm1-45zm0 35zm1 6zm0 9zm1-49zm5 43zm0-13zm1 17zm0-65zm0 79zm2 1zm0-81zm0-17zm0 82zm2-2zm1 3zm0-110zm0 114zm2-44zm2-23zm2 33zm1-11zm1 27zm1 55zm7-154zm1 128zm1-9zm0-5zm0-11zm2-3zm1-70zm0 89zm2 40zm1-25zm0-7zm1 13zm2-20zm0-45zm1 42zm0-44zm0-24zm1-35zm2 29zm2 68zm0 28zm0-59zm0 48zm0-60zm4 8zm0 49zm1-27zm0 11zm1 7zm1-5zm1-22zm1-3zm0 20zm2-81zm1 41zm0 48zm1-52zm1-19zm1 63zm1-67zm2 70zm2 17zm2-62zm1 15zm0 30zm2 30zm0-8zm3-40zm1 6zm3-14zm3-12zm1 23zm0-65zm4 10zm5 40zm1 37zm0 37zm1-96zm1 105zm2-66zm1-21zm1 39zm0-33zm1-55zm1 37zm0 5zm0 30zm2-59zm0 9zm4 11zm0 52zm2-18zm1 67zm2-84zm0 48zm2 11zm1-30zm1-22zm0-2zm4-10zm1-24zm1 19zm1 88zm0-105zm1 20zm0 15zm1 14zm0 36zm3-47zm0-20zm0 20zm1-25zm6 10zm2-18zm0 18zm1 80zm3-121zm1 94zm0-54zm0 9zm3 20zm0-57zm1 26zm0 20zm1-5zm0 26zm0-37zm0 70zm0-130zm1 109zm0-77zm1 85zm0 28zm2-56zm0-69zm0 71zm1 37zm0-98zm1 20zm4-18zm0 53zm0-58zm1 83zm0-52zm1-22zm0 13zm1 69zm1 10zm1-65zm2-12zm1 4zm1 5zm1 25zm0 40zm1-21zm0 26zm1-63zm2-10zm0 12zm3-35zm1 72zm2-69zm0 45zm3 90zm2-111zm1-9zm1 21zm0 9zm1 50zm0-111zm1 36zm1 1zm1-1zm1-4zm4 59zm1-141zm0 102zm3-9zm0-13zm2 0zm5 25zm2-48zm1 36zm2 49zm0-8zm2-66zm2 56zm2 28zm1-107zm2 91zm1-16zm1-51zm1-78zm1 107zm2-32zm10 55zm6 11zm1 16zm3-19zm0-60zm2 54zm1-20zm4-47zm0 89zm3 38zm1-40zm1-13zm4-13zm11-58zm1 32zm0 62zm1-41zm0 1zm0-9zm9-21zm5 26zm3 52zm1-3zm7-137zm2 86zm3 9zm4-42zm12 104zm5-109zm21 38zm8 7zm1-2zm3 64zm1-19zm1-37zm14 1zm0-14zm2 26zm10-25zm18 1zm17 29zm2-29zm5-19zm13 59zm17-58zm5 60zm5-37zm24 46zm43-51z"/>
<path stroke="#00009f" d="M296 1842zm0 8zm12-8zm45 1zm4-6zm1 13zm3-8zm4 0zm14-3zm1 3zm5 2zm18 4zm14 6zm9-6zm10-4zm11-1zm2 6zm12 22zm19-11zm2-23zm7 29zm25-8zm4 21zm9 2zm1-23zm5-3zm0 13zm0-1zm9 14zm3-24zm9-8zm7 6zm1-6zm9 23zm3 22zm13-17zm10 9zm2-3zm1-24zm0 6zm1 16zm19-31zm1 36zm6-32zm19 6zm9-1zm1 35zm3-4zm0-9zm2 13zm2 2zm10-2zm15-21zm5 5zm8-5zm4-14zm1-21zm0 53zm8 5zm3-63zm2 18zm7 66zm24-24zm3 4zm18-49zm0 58zm2-11zm19-22zm9 36zm21-41zm2 23zm1-67zm30 75zm8 33zm31-44zm16-24zm5 5zm13-8zm21-25zm7 20zm18 7zm31 50zm37-132zm14 102zm12 8zm9 1zm12-15zm38 45zm20-48z"/>
<path stroke="#0000af" d="M326 1841zm22 8zm1-17zm4 8zm34-4zm11 4zm20 31zm11-13zm7 3zm28-30zm10 16zm4 27zm9 10zm23-19zm6 4zm1-1zm13-20zm6-13zm5 3zm33 59zm2-33zm20-18zm17 45zm6-23zm5 1zm3-4zm10 3zm3-10zm3-14zm2 52zm0-12zm7 3zm13-17zm1 12zm9 2zm1-41zm16 28zm1-16zm1-16zm13 9zm4 46zm16-41zm25 25zm3-37zm2 8zm3 84zm0-30zm9-56zm10 34zm29-15zm13 37zm6 8zm14-31zm2-11zm6 0zm6-23zm12 30zm0-12zm2 6zm6 63zm1-75zm20-6zm29 6zm13-12zm50 47zm32-4zm79-47zm47 30z"/>
<path stroke="#0000bf" d="M295 1850zm3-3zm23-2zm3 4zm19-11zm9 23zm1-7zm25 0zm4-2zm29-9zm13-20zm41 41zm1-16zm2 22zm1-21zm21 7zm4 13zm15 3zm3 6zm0 9zm13-27zm5-11zm1-2zm6 15zm2-4zm6-16zm4 39zm11-38zm6 41zm6-20zm6-16zm2 32zm8-26zm14 44zm8-12zm2-19zm6-31zm16 49zm2-7zm21-23zm0-8zm10-15zm11 54zm4-2zm1-41zm4 9zm0 26zm2 27zm5-40zm10 2zm6 9zm4-17zm0 37zm10-50zm17 0zm1 48zm5-50zm8 45zm9-22zm2 0zm17-17zm3 53zm4-77zm3 28zm8 50zm7-37zm3-21zm18-1zm14 46zm8-10zm29 32zm18-39zm1 18zm6 59zm10-80zm4-7zm5-5zm2-39zm1 51zm24-34zm0 91zm3 4zm27-23zm3-76zm8 57zm54-41zm1 61zm6-58zm34 41zm38 36zm1-46zm30-107zm31 161zm43-78z"/>
<path stroke="#0000cf" d="M295 1833zm1 13zm3-1zm6-7zm5-1zm5-12zm10 14zm16 12zm0-2zm1-10zm15 14zm4-14zm29 18zm5-6zm5-12zm13 12zm18 22zm11-15zm6-16zm7 32zm11-16zm10 9zm3-30zm14 46zm5-48zm2 37zm11-24zm6 25zm4-27zm11 24zm9 12zm1-3zm6 5zm0 5zm14-44zm1 35zm3-19zm1 3zm2 27zm12-7zm2 14zm3-37zm5 4zm1-7zm0 5zm5-1zm3-20zm2 6zm18 19zm3-7zm10-9zm2 32zm7 15zm2-39zm0-3zm3-19zm8 43zm6-20zm2-19zm3 44zm1-21zm0-12zm8 31zm3 6zm2-38zm13 44zm1 15zm1-27zm0-25zm0-21zm8 30zm3-4zm2 32zm3-2zm8 7zm0 7zm5-18zm2-4zm1-26zm3 29zm12-43zm2 20zm0 37zm2-20zm7 34zm1-50zm3 31zm0-48zm14 26zm20-50zm0 3zm1 48zm2 7zm4-37zm19 23zm3 44zm17-35zm0 13zm5 1zm3 20zm7 24zm8-78zm8 47zm2-67zm11 19zm5 53zm2-53zm3-2zm1 76zm2-48zm7-35zm7 22zm0 74zm15-99zm2 48zm0 7zm0 6zm12-75zm5 59zm42-45zm48 75zm8-64zm23 32zm146-74z"/>
<path stroke="#0000df" d="M300 1845zm49 13zm49-5zm82 13zm45-14zm1 35zm15-23zm6 10zm8-4zm3 12zm5-26zm6 27zm1-7zm9 4zm6-12zm6 7zm4 13zm1-12zm3-26zm2 24zm5-25zm4 20zm1 26zm4-1zm7-35zm4 12zm5 7zm4-15zm0 25zm1 16zm6-59zm9 14zm7 7zm1-11zm1 44zm0-21zm8 8zm3-21zm6-3zm6 10zm0-18zm4 10zm2 34zm4-20zm2 25zm7-10zm1 22zm0-35zm8-16zm0 3zm2-7zm0 32zm6-36zm5-13zm1 23zm1-4zm6 1zm2 9zm5-67zm0 10zm2 70zm26-11zm1-13zm18 31zm3-9zm3 44zm16-75zm1 51zm11-2zm3-45zm4 10zm4 3zm2-30zm14 59zm1-33zm1 9zm5 37zm5-71zm2 24zm6 24zm8-13zm75 47zm32-51zm63 21z"/>
<path stroke="#0000ef" d="M547 1849zm18-25zm10 14zm25 43zm0-5zm2 5zm2 8zm17-22zm2-27zm9 53zm5 5zm2-59zm15 42zm0-39zm3 6zm1 10zm4 4zm4 14zm6-22zm1-8zm3 18zm1 29zm8 6zm2-35zm11 25zm0 5zm0-13zm5 25zm1-61zm2-5zm3 39zm4-34zm3 67zm3-26zm0-18zm8 51zm7-73zm8 17zm1-8zm3 62zm3-52zm3 22zm3-43zm5 61zm4-27zm10-28zm1 44zm1 1zm6-32zm7 32zm6 27zm5-36zm1 24zm1-17zm5-33zm4 15zm5 37zm5 0zm1-2zm7-26zm8-62zm7 43zm1-3zm4 30zm1 5zm6-72zm6 43zm0 19zm1 39zm0-30zm17 54zm2-95zm0 23zm9 36zm17-22zm3-75zm4 52zm6 77zm10-74zm22 42zm23-94zm22 87zm23-35zm13-24zm10 29z"/>
<path stroke="#0000ff" d="M298 1848zm0-3zm2 3zm240-10zm20 24zm6-15zm27 12zm7-3zm2 44zm3-11zm9 10zm7-21zm0-28zm10-8zm2 50zm2-16zm8 16zm5-6zm6-4zm3-37zm1 4zm0 24zm1 7zm8-33zm0 38zm1-16zm7-2zm1-8zm0-2zm1 34zm2-42zm1 35zm1-27zm5-19zm3 11zm3 41zm2-27zm1 25zm0 7zm4 12zm4-27zm1-40zm1 61zm3 2zm7-28zm1-9zm6 2zm4 17zm11-22zm5 7zm1-32zm4 46zm4 35zm4-56zm12 18zm6 1zm17-4zm1 0zm4-19zm0 62zm6-19zm8-44zm6-6zm0 29zm0-24zm3 4zm6 22zm0 51zm3-30zm1 25zm1-33zm1-96zm1 64zm1 18zm2-33zm1 81zm5-35zm4 23zm3-65zm3 9zm5 71zm4-78zm1-19zm7 27zm3-29zm16 96zm6-4zm1-69zm4-29zm9 112zm3-48zm7 39zm6-73zm1 81zm12 2zm0-55zm25-34zm6 17zm43-5zm55-89z"/>
<path stroke="#0010ff" d="M553 1882zm16 12zm13-40zm8 38zm4 6zm21 5zm27-46zm5 48zm6-62zm6 16zm1-14zm5 48zm2-19zm3 5zm7-16zm7 9zm7 19zm8-18zm3 8zm0 11zm1 24zm10-41zm8 0zm5-30zm1 61zm11-41zm6 29zm1-16zm6-35zm4 50zm1-14zm0-38zm6 82zm0-64zm3-20zm8 66zm18 19zm6-19zm1 7zm0-22zm4 14zm6-109zm1 63zm3 17zm0 45zm0-71zm5 70zm7-60zm5 66zm1 1zm8-63zm0 67zm6-45zm7-13zm1 73zm3-45zm3 32zm2-22zm3-21zm4 41zm11-1zm1-34zm5-9zm1 54zm5-2zm1-57zm6 3zm10-60zm14 63zm0 54zm6-5zm1-103zm16 78zm0-1zm4-33zm5-50zm3 40zm9 5zm10-58zm8 72zm7 14zm12-51zm4 19zm52-34zm37 76z"/>
<path stroke="#0020ff" d="M568 1859zm45 3zm0 13zm5-11zm18-10zm8 51zm2-37zm5-22zm10 17zm6 33zm8 7zm8-37zm4 36zm0-46zm3 1zm5 21zm10 5zm3-10zm8 24zm0 7zm2-43zm2 30zm8-49zm3 23zm3 9zm0 31zm2-13zm1 22zm0-39zm1-17zm6 51zm3-38zm1-26zm8-4zm2 82zm7-75zm0 66zm1-27zm1-48zm4 35zm3 36zm6-105zm5 69zm3-3zm2 39zm1 20zm1-6zm3 9zm6-81zm2 75zm5-16zm2 9zm2-18zm2-70zm0 71zm4-17zm4-33zm1 74zm4-22zm0-44zm6 50zm2-44zm0 16zm10-35zm3 51zm2 18zm0 3zm3 20zm1-64zm2 7zm6 42zm1-62zm1 35zm3-30zm1 45zm3-20zm0-53zm8 95zm0-103zm2 41zm5-37zm7 62zm1-42zm1 82zm0-72zm5 10zm2 54zm2-1zm1-44zm3 51zm7-35zm4 40zm2-47zm2-2zm0 55zm6-82zm2 71zm7-55zm1-43zm1 101zm2-41zm1-16zm5-22zm3 17zm5 39zm16-27zm21-29zm18-56zm1 67zm2 6zm14-54zm10 109zm21-15zm1-84zm7 77zm0-43z"/>
<path stroke="#0030ff" d="M569 1863zm22-10zm33 44zm4 8zm0-37zm7 30zm9-61zm4 69zm1-44zm3 17zm2-14zm2 33zm1-1zm6-8zm0 8zm5 4zm2-65zm1 9zm9 53zm9 10zm1 1zm4-26zm3-45zm3 72zm2-44zm3 41zm7-46zm3 25zm3-30zm1 60zm1-21zm2-24zm6 1zm0 21zm14-57zm2 71zm6-46zm0 8zm10-10zm0 8zm4 44zm0 9zm4-41zm5 27zm0 10zm3-27zm3 6zm5-24zm1 18zm4 19zm4-26zm4-7zm4 6zm2 29zm1-55zm10 27zm11 3zm1 47zm2-121zm11-21zm0 111zm14 30zm2-36zm0 5zm1 31zm2-160zm5 154zm2-6zm1-51zm0 50zm2-8zm1 23zm4-10zm2 0zm3-56zm3 7zm0 16zm5 44zm1-116zm7 118zm6-9zm13-30zm5-57zm1 99zm2-144zm6 145zm6-76zm2 9zm2 70zm2-107zm7 33zm5-17zm0-28zm3 61zm0 43zm5-20zm1-18zm0-54zm2 23zm4-4zm2 13zm7 30zm0-4zm14-33zm4 67zm11-110zm2 52zm9 36zm5-63zm20 13zm15 66zm1-26zm40-40z"/>
<path stroke="#0040ff" d="M300 1845zm1 2zm291 29zm25-28zm8 27zm9-26zm22 49zm6 1zm0-35zm8-23zm6 70zm13-33zm6-31zm2 5zm4 52zm2-20zm1-4zm1-34zm2-3zm6 50zm5-25zm7 16zm9-46zm1 64zm3 2zm0-59zm4 44zm0-20zm0 33zm1-47zm3-18zm3 82zm9-58zm6 9zm4-17zm4 48zm10-27zm1 37zm5-59zm0 14zm4-32zm1 34zm0 66zm0-57zm3 37zm1 7zm2-68zm0 27zm8 40zm3 16zm1-73zm0 48zm4-12zm5-57zm5 51zm0 34zm1-78zm6 67zm9 12zm3-24zm2-77zm4 60zm7-39zm5 80zm2-10zm6-3zm4 21zm6-11zm1-16zm1-83zm3 66zm2 43zm9-4zm2-67zm0 63zm4-54zm0-6zm1 71zm2-88zm6-20zm1 42zm0 8zm6-2zm1-26zm2-32zm2 87zm4-16zm2-9zm0-50zm3 44zm2 61zm1-69zm2-13zm2-24zm4 109zm2-95zm2-3zm11 2zm3-2zm0 3zm8 64zm2-96zm5 77zm7-86zm2 94zm1 2zm4-84zm1 23zm2-7zm9 7zm12 48zm6-101zm11 66zm10-1zm35 3zm4 69zm35-90z"/>
<path stroke="#0050ff" d="M568 1888zm55-48zm28 55zm18-35zm9 21zm3-5zm7 9zm22 1zm0 5zm2-1zm2 23zm16-39zm3 45zm7-49zm2 29zm1-52zm1 61zm8-19zm1-5zm2 40zm7-20zm1-33zm11 38zm1 5zm2-3zm5-37zm1-33zm7 65zm14-13zm2-72zm2 59zm0 37zm5-41zm6 24zm0-3zm2-9zm0 34zm0 3zm1-70zm0-9zm2 46zm4 34zm3-72zm5-3zm4 34zm0-11zm10 53zm8-49zm1-5zm6 62zm3-24zm2-16zm5 42zm6-84zm2-17zm2 18zm9-3zm5 51zm5-58zm4 39zm2-55zm0 78zm4-30zm0 38zm1-35zm2-13zm1 6zm1 37zm1-8zm1-68zm6-1zm5 32zm0 29zm1 42zm4 3zm1-43zm7 40zm1-22zm1-25zm18-74zm2 99zm2-75zm4 11zm3 61zm3-75zm5 28zm1 61zm1-32zm12-40zm5-48zm0 50zm0 70zm4-140zm1 92zm6-10zm3 21zm4-77zm3 28zm4 25zm7-60zm9 15zm2 26zm8 96zm3-78zm47 23zm4-25zm9 26zm25-48zm59 41z"/>
<path stroke="#0060ff" d="M597 1898zm36-14zm39-3zm27 18zm31-50zm6 47zm18-24zm8-3zm3 23zm4 35zm28 6zm9-74zm12 57zm13-49zm3 58zm6-50zm15-2zm3 12zm3-9zm7-26zm2 77zm2-104zm2 81zm8-79zm1 108zm7-61zm1-19zm1 56zm2 16zm8 5zm2-95zm5 105zm0-10zm0-83zm7 41zm7 53zm0-102zm8 94zm11-34zm4-52zm3 20zm0 47zm1-47zm2 8zm7-50zm4 18zm2-5zm1 52zm8-29zm5-58zm2 117zm0-4zm0-21zm1-38zm1-22zm1-13zm15-15zm2 66zm4-9zm9-7zm6 38zm2-14zm14-55zm0 29zm1 44zm7 8zm8-114zm2 29zm1 67zm33-45zm3 57zm52-122z"/>
<path stroke="#0070ff" d="M301 1845zm356 34zm71 5zm40-9zm11 31zm4-4zm29-10zm8 17zm4-26zm3-4zm0-77zm4 67zm2 25zm7-1zm3-4zm3-57zm16 12zm2 40zm8-57zm4 41zm3-16zm10 20zm8 29zm5-24zm7-14zm1-12zm10 81zm10 8zm2-52zm5 41zm2-58zm0 4zm0 4zm0 13zm6 37zm1-74zm2 1zm2 15zm2-30zm1-7zm5 104zm1-45zm1-17zm1-7zm2-66zm2 80zm1-43zm4 46zm2 10zm7-23zm2 5zm3-11zm9 25zm1 34zm4-25zm2-10zm6 4zm14-93zm7 30zm3 64zm2-38zm3-30zm4-1zm3 93zm3 42zm2-88zm8-28zm4-20zm17 14zm0 21zm13 33zm1-3zm20-117zm2-16zm6 67zm18-35zm5 113zm26-40zm0 42zm70-112z"/>
<path stroke="#0080ff" d="M662 1855zm93 19zm4 11zm11 48zm12-34zm23-30zm8 3zm0 17zm6 15zm11-38zm0-22zm7 56zm6-41zm19 33zm3 29zm2-15zm3-55zm2 28zm11 45zm14-48zm13-67zm6 67zm4 55zm5-43zm2-28zm10-36zm14 31zm7 47zm2-30zm2 77zm3-87zm4-9zm8 24zm1-20zm5 21zm8-29zm2 34zm5-34zm2 76zm5-103zm3 101zm6-87zm0 2zm0-7zm3 50zm2-46zm2 46zm2-9zm12-40zm16 44zm6 28zm1-39zm3-9zm1-24zm3-15zm2 48zm1-60zm2 61zm0-34zm5 30zm12 39zm11-58zm32 0zm2 47zm10-115zm0 50zm6-11zm3-4zm1-6zm1 63zm6-86zm4 90z"/>
<path stroke="#008fff" d="M778 1896zm11-32zm10 14zm21 21zm4 8zm23-52zm9-33zm38 72zm1-19zm3 18zm4 29zm17 5zm7-56zm1 69zm10-63zm12-18zm6-44zm5 44zm6-7zm4 79zm0 15zm2-77zm3 42zm3 6zm11-25zm5 7zm1 8zm2-17zm9-41zm11-28zm1 61zm3 48zm1-52zm1-17zm4 39zm3-71zm0 48zm2 27zm1-46zm1 41zm2-79zm1 25zm5 2zm1-37zm0 52zm3-34zm1 41zm10 13zm7-12zm4-38zm7 12zm3-24zm2 59zm13-60zm19 70zm6-34zm6 53zm33-73zm58-94zm24 74zm19 42z"/>
<path stroke="#009fff" d="M304 1843zm2 5zm504 102zm38-83zm41-21zm8 0zm4 4zm9-19zm7 96zm4-59zm2-32zm1 44zm10 25zm5-13zm18-80zm7 17zm5 126zm1-1zm8-74zm4-12zm6-101zm6 106zm2 17zm5-2zm5-130zm7 77zm4 55zm4-83zm7 106zm0-23zm1-56zm5 92zm1-60zm4-71zm14 91zm2 7zm1-62zm0 51zm8-21zm5-26zm4 64zm3-70zm4 7zm6 27zm2-3zm8-60zm0 127zm9-103zm4 54zm4-6zm2 31zm4-79zm11 69zm24-53zm3-9zm7 3zm6-10zm50 48zm55-49z"/>
<path stroke="#00afff" d="M754 1876zm96 45zm6-30zm21 16zm21 2zm14-24zm23-27zm11 37zm2-18zm12-12zm13-23zm6 33zm2-21zm1-37zm9 86zm11-29zm1-24zm0-20zm1 55zm4-15zm5-44zm19 76zm2-16zm1-10zm9 39zm1-30zm12-2zm11-16zm8 52zm1-104zm1 32zm11 58zm11-32zm0-28zm2-27zm0-10zm2 78zm3-74zm5 6zm7 54zm2 40zm20-40zm9-11zm0-47zm4-6zm0 61zm3-63zm16 49zm6 55zm24-46zm17-48z"/>
<path stroke="#00bfff" d="M822 1909zm7-57zm40 8zm53 42zm17 23zm24-85zm5 0zm21 123zm15-106zm1 60zm1-13zm3 2zm11-49zm2-9zm4 67zm13-22zm7-29zm10-77zm1 51zm4-38zm9 65zm8-54zm2 42zm3 59zm3 18zm5-51zm1-70zm3 114zm3-64zm9 26zm1-35zm2 77zm1-84zm2-5zm0 46zm14-132zm17 192zm10-129zm13 75zm9-81zm2 23zm0-3zm0 44zm53 25zm37-35z"/>
<path stroke="#00cfff" d="M306 1847zm675 44zm2-12zm11 33zm1-40zm20 16zm3 23zm0 2zm1 19zm0-203zm1 155zm19 1zm2-75zm5 105zm1-8zm1-83zm1 53zm0-46zm6 23zm7 30zm17 12zm5-31zm2-44zm2 79zm1-41zm1-20zm27 48zm0-32zm5-19zm6 14zm1-15zm3-36zm2 38zm10 82zm1-108zm1 49zm7-29zm11 54zm0-25zm6-20zm6 15zm10 39zm19-67zm14 47zm49-71z"/>
<path stroke="#00dfff" d="M308 1851zm566-6zm19-9zm43 18zm15 53zm10 5zm18-34zm45-5zm5 14zm4 39zm9-18zm0-56zm10-45zm41 44zm3 36zm3-46zm2-9zm13-75zm29 83zm14 52zm2-22zm3-53zm6 30zm6-32zm6 79zm10-52zm1 4zm0-34zm24-9zm7 101zm2-52zm38-17zm16-23z"/>
<path stroke="#00efff" d="M306 1845zm597 36zm87 65zm32-67zm0-54zm12 49zm24-33zm10 9zm9 20zm26-13zm9-44zm6 106zm8-66zm5 84zm2-49zm7-53zm15 13zm6 32zm8-37zm6-80zm13 5zm3 109zm11-38zm95-20zm6 19z"/>
<path stroke="#00ffff" d="M1002 1850zm27-33zm32 50zm23 27zm1-40zm7 16zm0-63zm26 42zm7 26zm1-4zm1-78zm3 7zm29 39zm0-67zm7 37zm14 63zm23-82zm1 31zm0 53zm4-28zm5 57zm6-93zm19 19zm35-29zm1 14z"/>
<path stroke="#10ffef" d="M984 1907zm72 5zm22-66zm1-60zm4 78zm7-67zm8 95zm27-51zm5-48zm19 18zm2 99zm22 0zm12-81zm25 69zm7-114zm1 65zm3-95zm6 53zm2 93zm20-110zm3 126zm3-75zm4 1zm49-93zm38 136z"/>
<path stroke="#20ffdf" d="M1078 1749zm3 82zm40 9zm9 66zm36-114zm18 104zm7 57zm0-187zm0 61zm16 20zm8-25zm3 66zm12-15zm33-20zm55 63zm39-133z"/>
<path stroke="#30ffcf" d="M1038 1898zm77-98zm32 2zm10 19zm45 2zm16 56zm28-6zm13-8zm34-122zm63 107zm64 96z"/>
<path stroke="#40ffbf" d="M1126 1917zm5-80zm1-13zm19 69zm4-70zm29 20zm10 61zm15-87zm20-51zm9 95zm14-51zm7 29zm1 20zm6 68zm3-127zm3 62zm18-38zm56 68z"/>
<path stroke="#50ffaf" d="M310 1841zm2 3zm0 0zm785-27zm50 30zm48-6zm0 57zm9-107zm7 4zm24 14zm1 16zm5 0zm6-16zm50 40zm10-60zm3 51zm30 13zm40-49z"/>
<path stroke="#60ff9f" d="M315 1846zm777-41zm27 136zm37-124zm4 48zm24-18zm41 16zm10-15zm9 18zm8-11zm4-2zm4-61zm6 109zm12-51zm13 39zm14-42zm56 19zm30 30zm32 63z"/>
<path stroke="#70ff8f" d="M1018 1883zm179 45zm0-77zm42-48zm6 76zm35-106zm36 123zm4-11zm16-115zm95 61z"/>
<path stroke="#80ff80" d="M1161 1800zm69 36zm49 52zm2-45zm3-28zm16 28zm4 43zm8-77zm7 30z"/>
<path stroke="#8fff70" d="M1170 1881zm25-66zm3-30zm3 101zm41-58zm13 63zm5 15zm11-60zm3-42zm6 136zm8-27zm50-17zm24-160z"/>
<path stroke="#9fff60" d="M1286 1981zm20-140z"/>
<path stroke="#afff50" d="M315 1849zm1 1zm934 51zm61-25zm5 51zm30-57zm12 14z"/>
<path stroke="#bfff40" d="M316 1848zm961-29z"/>
<path stroke="#cfff30" d="M1154 1877zm139-26zm85 36zm12 18z"/>
<path stroke="#dfff20" d="M317 1838zm879-25z"/>
<path stroke="#efff10" d="M318 1841zm1061 11zm11 57zm13-77z"/>
<path stroke="#ffff00" d="M318 1846zm1073-16z"/>
<path stroke="#ffef00" d="M317 1844zm1021 36zm74-40z"/>
<path stroke="#ffdf00" d="M1467 1811zm2 75z"/>
<path stroke="#ffcf00" d="M321 1843zm968-21zm112 92zm68-87z"/>
<path stroke="#ffbf00" d="M319 1846zm1122-52z"/>
<path stroke="#ffaf00" d="M320 1845zm1260 22z"/>
<path stroke="#ff9f00" d="M320 1847zm0 2zm1174-27z"/>
<path stroke="#ff8f00" d="M321 1841zm1091-47z"/>
<path stroke="#ff8000" d="M1428 1873z"/>
<path stroke="#ff6000" d="M1515 1827z"/>
<path stroke="#ff5000" d="M1569 1867z"/>
<path stroke="#ff4000" d="M1497 1842z"/>
<path stroke="#ff0000" d="M1509 1789z"/>
<path stroke="#ef0000" d="M1612 1783z"/>
<path stroke="#00008f" d="M295 1847zm0-16zm1 20zm1-7zm0 2zm1-12zm2-7zm1-1zm0 7zm4-5zm2 4zm1 2zm2 15zm0-24zm0 9zm1-9zm1 23zm0 2zm0 4zm1-26zm0 9zm2 3zm1-2zm1 0zm0 5zm1 5zm1-16zm2 21zm1-14zm0 15zm0-15zm1-6zm1 1zm3 8zm0-12zm1 3zm3 8zm0-12zm0 22zm1-16zm1 8zm0 8zm1-19zm1 7zm2 3zm0 8zm2-12zm2 13zm0-6zm1-8zm0 10zm1 9zm2-5zm0-12zm0-5zm1 0zm3-6zm0 14zm1 8zm2-5zm1-9zm0 25zm0-28zm1 21zm1-5zm0 12zm1-3zm0-30zm0 34zm0-4zm0-1zm2 2zm0-23zm0 17zm1-21zm1 21zm0-10zm0-8zm1-3zm0 9zm2-8zm1 6zm0 25zm1-8zm0 7zm0-7zm1 3zm0 0zm0-7zm1 10zm1-31zm0 9zm1-7zm2 1zm1 22zm0 0zm1-11zm0 16zm3-32zm0 26zm0 9zm1-18zm1-7zm0-2zm1 19zm0 0zm0-15zm1-7zm1 31zm1-19zm2 8zm1-14zm0-11zm0 23zm0 3zm0-1zm1-2zm1 6zm2 1zm1-25zm1-2zm1 4zm0-5zm0 32zm0-22zm2 11zm1 14zm0-33zm1 35zm0-7zm1-31zm0 2zm0 2zm1 18zm2-21zm0 32zm2-3zm0-29zm0 5zm2 19zm1-7zm0 12zm0 3zm1-27zm1 12zm1 0zm1 13zm1-26zm0 12zm1 20zm0 1zm0-14zm1 0zm2 10zm1-14zm0 6zm1 2zm0-25zm0-1zm1 27zm0 9zm1-18zm1-13zm1-4zm0 2zm1 17zm0-9zm1 2zm0 15zm0-4zm1 47zm0-36zm0-17zm1 15zm2-16zm0 1zm1-38zm1 26zm0 8zm2 23zm1-17zm1-10zm1 12zm1 62zm0-76zm0 6zm0 86zm3-82zm0 18zm1-6zm0 9zm1-35zm1 29zm3-14zm0 22zm0-16zm1-23zm0 4zm0 26zm0-15zm1 11zm1 3zm1-21zm0 20zm0-2zm1-5zm0-27zm0 29zm1-4zm0 0zm3-18zm0 12zm0-3zm0-1zm1 15zm0 2zm0 2zm0 10zm0-32zm2-7zm0 32zm1 0zm1-14zm1-3zm0-9zm1 28zm1-5zm0 6zm0-19zm1 2zm0 16zm0 1zm1-20zm0 19zm0 40zm2-51zm1-22zm2 44zm0-7zm0-9zm0-10zm0-3zm1 31zm0-5zm1-35zm1 24zm0 13zm1-28zm0 12zm2-8zm0 23zm0-29zm0 13zm0 22zm1-29zm1-10zm1 35zm0-29zm0 13zm0-25zm2 25zm1-21zm0 20zm0 7zm1 3zm0-32zm1-3zm0 1zm0 3zm2 4zm0 11zm0 10zm0-6zm1 16zm0-29zm0 34zm1-23zm2-11zm0 14zm1-15zm0 15zm0 23zm0-26zm0 21zm1-2zm0 8zm0-4zm1-28zm0-8zm1 15zm0-4zm0 21zm1-3zm0-19zm1-26zm0 107zm0-64zm1-21zm0 9zm1 4zm0 7zm1 3zm0-31zm1-1zm1 33zm1-2zm0-31zm1 0zm0-4zm0 5zm0 25zm1 12zm1-24zm0-12zm1 42zm1-28zm1-8zm0 2zm2 12zm0 9zm1-22zm1 21zm0 8zm2-32zm1-2zm0 5zm0 24zm0-5zm0 0zm1-17zm0-16zm0 48zm0-7zm1-18zm1 10zm0 19zm0-23zm1-5zm0-33zm0 25zm3-10zm0 13zm0 1zm1 28zm0-22zm0-22zm1 30zm0 16zm0-37zm0 4zm0-8zm0 34zm1-25zm1 31zm0-36zm0 24zm1-15zm0 2zm0 0zm0-27zm1 22zm1 28zm3-16zm1 12zm0-13zm0-16zm1 25zm1 14zm0-10zm1-9zm0 1zm1 6zm0-24zm1 9zm1-18zm0 36zm0-22zm1-16zm0-6zm0 24zm1 16zm0-2zm1 7zm2-5zm0-13zm0-14zm0 15zm0 8zm0-21zm3-7zm0 10zm1 0zm1 13zm0 13zm1-18zm0 13zm0-1zm0-38zm1 11zm0 28zm0-18zm0 5zm0-21zm1 21zm0 28zm1-25zm1-19zm0 27zm0-15zm1 4zm0-25zm1 15zm0 26zm0-17zm0-16zm0 30zm1-3zm0-24zm2 14zm0 16zm0-6zm0 22zm2-41zm1 31zm0-28zm0 21zm0-35zm1 35zm0 6zm2-36zm1 27zm0 21zm1-15zm0-22zm0 4zm0-24zm1 46zm0-4zm0-14zm0 9zm0-28zm1 12zm0-12zm1 13zm0 26zm0-10zm0-29zm1-8zm0 3zm0 32zm1-13zm0 0zm0 24zm1-27zm1 36zm0-29zm0 20zm1-5zm0 5zm0 0zm0-38zm1 43zm1-1zm0-12zm0 0zm0-31zm1 19zm0 3zm0-14zm1 40zm0-46zm1 40zm1-13zm1-32zm1 24zm0 22zm1-25zm0-23zm1 35zm0-27zm0 19zm1-20zm1 4zm0 20zm1-43zm0 28zm0-23zm0 45zm1-18zm1-2zm0 7zm1 3zm0-2zm0 2zm1-5zm0-4zm1-5zm1 14zm0 9zm1-20zm1-6zm0 34zm1-25zm1 11zm0 12zm0-23zm2-8zm0-15zm0 12zm1 27zm0 17zm1-20zm1-87zm0 56zm0 4zm1-8zm0-2zm0 19zm0-5zm1 39zm0-27zm0 4zm0 20zm0-34zm2 28zm1-49zm0 66zm1-19zm1 2zm1-16zm1-11zm0 7zm2-12zm0 33zm0-19zm1-4zm0-7zm1 11zm0 24zm0-47zm3 50zm1-14zm0 0zm1 7zm2-8zm0 10zm2 3zm1-40zm0 3zm0 26zm0-23zm1 18zm0 16zm1-35zm3-6zm1 23zm0-50zm1 52zm0 8zm1-37zm2 15zm0 5zm0-10zm1-14zm1 32zm0-15zm0-18zm1 5zm0 38zm0-34zm1 57zm3-30zm1-14zm1 18zm1 13zm0-16zm1 9zm0-39zm1 41zm0-13zm1-12zm0 17zm0-17zm0 24zm2 6zm0-52zm1 68zm0-25zm0-34zm2 34zm0-25zm1-21zm2 44zm0-32zm0-15zm1 42zm0-34zm1 66zm0-43zm0 5zm1-15zm0 45zm0-27zm2 13zm1-49zm0 57zm1-34zm0 4zm0-6zm2 7zm0 21zm1-15zm1 8zm0 3zm1-6zm0 23zm0-59zm0 54zm2-59zm1 47zm1-31zm0 6zm1-3zm3 35zm0-5zm2-49zm1 10zm1 35zm2 2zm2-42zm2 9zm1 46zm1-23zm1 23zm0-56zm1 70zm1-46zm2 33zm0-18zm1 15zm1-34zm1 2zm2-12zm0-4zm0 35zm1 8zm1-30zm0-15zm2 1zm1 40zm0-19zm2 10zm0-10zm1 22zm0 9zm2 10zm1-36zm0-10zm1 36zm0-42zm1 43zm1-53zm1 48zm1-55zm2 65zm0-29zm0-26zm0 32zm1 7zm0-1zm2-12zm1 3zm4-41zm2-5zm0 61zm1-50zm0 46zm1-5zm2-30zm2 19zm0-11zm1 39zm0-16zm0-22zm2-9zm1 34zm0 7zm1 17zm0-48zm1 10zm1 15zm0 14zm0-12zm1-66zm0 66zm0-13zm1-23zm1 30zm0 7zm1-44zm0-25zm2 57zm0 18zm1 19zm0-2zm1-34zm1 4zm1 1zm0-26zm1-11zm0 18zm0 25zm0-38zm0-5zm3 26zm1 27zm2-63zm0 48zm0-8zm1-24zm0 53zm0-5zm1-97zm1 120zm0-30zm1-35zm2 3zm1 25zm1 30zm1-86zm1 40zm1 18zm1-64zm0 10zm0 77zm0-19zm1-59zm2 25zm1-19zm0 32zm2-36zm1-38zm1 50zm2 78zm0-21zm0-2zm1-43zm2 45zm2-3zm0-30zm1-13zm0 12zm1 57zm0-73zm1 19zm0 7zm0 5zm0-40zm0 68zm1-9zm1-34zm0 16zm6 20zm0-34zm2 17zm0-56zm1 29zm0-6zm1 24zm0 60zm1-103zm1 41zm0-23zm1 11zm0 41zm1-41zm0 32zm2-9zm2-61zm0 82zm1-25zm1 40zm1-84zm0 32zm5 22zm1 37zm3-62zm1 33zm0-2zm1-30zm0-6zm3 13zm0 43zm1-69zm3 84zm0-73zm0-7zm1 11zm1 49zm1-2zm2-57zm0 53zm3-25zm0-14zm0-41zm0 56zm1-32zm1 2zm1 21zm0-6zm1-25zm1-19zm2 88zm1-56zm0 40zm1 11zm0-48zm0-36zm6 42zm0 3zm0-15zm1-8zm1 18zm1-52zm5 99zm0-3zm4-54zm0-14zm1 27zm1-12zm1 10zm0 36zm0-20zm0 51zm1-33zm1-80zm1 40zm0 12zm1-7zm0 67zm2-80zm2 13zm1-37zm0-6zm1 74zm1-120zm0 83zm5-49zm3 25zm2 111zm3-94zm1 48zm0-148zm1 152zm1-13zm0 15zm2-15zm1 22zm0-106zm1 52zm1 38zm2-43zm2 2zm0 25zm1 22zm0 23zm0-56zm0 57zm4-71zm0-13zm1 77zm2-59zm2-10zm0 36zm1-21zm5 45zm0-78zm3 18zm1-33zm0 38zm2 60zm0 17zm1-52zm3-29zm0-35zm3 97zm1-55zm0-4zm1 84zm0-108zm1 19zm1-10zm1 4zm1-16zm0-7zm0 41zm1-23zm1 55zm3-48zm2-17zm1-4zm1-22zm0 44zm0-32zm2 102zm1-9zm0-104zm0 86zm1 43zm2-158zm2 103zm0-117zm1 97zm0 3zm1-120zm2 131zm2 25zm1 15zm0-39zm1-48zm1 2zm0-12zm3 8zm3 20zm1-64zm1 90zm0-50zm4-2zm2-3zm0 33zm1-37zm1 36zm0 14zm2 33zm1-38zm0-13zm0 58zm2-60zm2 60zm0-109zm4 96zm0-83zm2 65zm2-5zm0 44zm0-53zm1-4zm3 12zm4-40zm0 37zm0 51zm3 3zm0 18zm1-32zm0-57zm2 42zm4-8zm1-8zm4-18zm0-77zm1 101zm1 8zm2 36zm1-71zm1 8zm0-47zm0 48zm1-11zm2 17zm0-39zm0-11zm2 7zm1 116zm0-76zm0 4zm2-31zm1 14zm8-4zm1-67zm1 53zm4 66zm0-59zm3 9zm1-22zm2 25zm8-12zm0 64zm7 48zm2-98zm1 29zm1-11zm1 43zm1-31zm3 20zm2 8zm2-23zm11-17zm5-61zm1 60zm1-51zm0 70zm3-44zm6 80zm5-54zm3 18zm0-19zm3 11zm14 49zm4-60zm1-15zm3-7zm0 26zm3 16zm3 7zm6-48zm9 31zm1 25zm0-32zm15 79zm4-87zm3 31zm1 0zm0-2zm2 22zm0-49zm8 69zm3-68zm1 42zm11-27zm2 4zm16-3zm2 18zm1-4zm13-76zm11 44zm3 32zm6-18zm1-22zm15 23zm14-40zm4 20zm2 48zm9-57zm1-52zm2 67zm22 18zm87 16z"/>
<path stroke="#00009f" d="M331 1858zm15-26zm47 32zm5-9zm13-7zm24 3zm0-15zm21 7zm6 24zm11-1zm3-6zm11-14zm33-8zm6 19zm2 24zm0-12zm5 18zm11-17zm9 14zm1-33zm0 24zm4 3zm7 0zm6-14zm7-33zm1 53zm6-29zm6-9zm7 42zm4-27zm12 2zm4 23zm0-41zm7 25zm5-86zm8 56zm18 15zm0 12zm1 9zm3-29zm8 49zm14-9zm1-14zm2-10zm2 16zm3-6zm1-22zm2 13zm8 1zm1 7zm6-15zm7 4zm12-4zm2 21zm11-30zm2 43zm15-9zm1-27zm7-16zm33-15zm4 74zm30-36zm2 30zm19 5zm2 23zm4-46zm9-22zm19 33zm13 44zm17-18zm39-86zm14 94zm2-83zm9 7zm11 83zm60-68zm37-34zm14 124zm4-40z"/>
<path stroke="#0000af" d="M296 1844zm6 2zm20-9zm4 2zm6 7zm10-6zm42 0zm28 5zm8 15zm64 8zm4-35zm4 7zm8 6zm10 41zm3-39zm8 10zm3-2zm13-16zm2 35zm14-12zm1 7zm9 14zm12-33zm7 36zm4-25zm2-10zm5 21zm9-27zm2 29zm11-36zm7 11zm10-2zm2 10zm5 39zm7-46zm0 43zm7-8zm1 1zm40-6zm8 16zm49-16zm1-20zm10 3zm3 59zm14-70zm6 66zm9-65zm5 13zm13-10zm15 31zm15-45zm21 24zm15-40zm0 39zm12-2zm5-11zm31 76zm15 10zm34-23zm16-108zm28 82zm3-19zm7-13zm12 17zm27 49zm128-142zm65 104z"/>
<path stroke="#0000bf" d="M297 1844zm9 0zm17 3zm3-17zm18 25zm13 1zm7-15zm45 2zm8 15zm2 10zm1-4zm1-19zm7 0zm26 23zm0-25zm22 39zm1-19zm7-6zm3-9zm3 32zm4-32zm5 18zm6 4zm12 3zm17 3zm1 14zm5-53zm2 11zm12 32zm6-13zm1 1zm0-6zm4-2zm8 9zm5-11zm3 6zm7-10zm0 41zm10-27zm0 1zm4-26zm6 31zm4-15zm3-7zm8 5zm1 15zm3-10zm4 19zm5-46zm9 55zm16-45zm3-5zm12 29zm14 9zm7 16zm4 0zm3-55zm2 16zm3-46zm3 67zm12 18zm11-64zm5 23zm12-14zm11 52zm1-4zm1-14zm4 23zm1-14zm2-6zm15-44zm15-59zm11 87zm2 29zm12 4zm0-46zm11 67zm13-51zm13 52zm20-69zm2 21zm10 37zm9-49zm14 0zm1 87zm1-12zm15-55zm43 38zm16-140zm1 131zm12 22zm4-56zm30-15zm20-22zm12 57zm34-16zm76-11zm12 19z"/>
<path stroke="#0000cf" d="M298 1848zm19-6zm19-9zm6 5zm20 23zm18-11zm8-13zm27 13zm0 0zm20 22zm4-2zm4-25zm5 12zm3 10zm15-3zm1-9zm6-9zm8 38zm4-42zm5 11zm23 19zm9 16zm0-7zm1-32zm14 26zm0-35zm6 15zm22 23zm7 8zm9 6zm2-1zm5-20zm8-6zm1 9zm5-13zm0 9zm3 7zm3-2zm0 3zm1 21zm9-29zm3 20zm2-11zm1-41zm0 39zm5 0zm0 19zm1-56zm11 42zm0-7zm4 27zm9-13zm2-4zm0 25zm2-36zm0-19zm4-7zm3 59zm4-44zm3 30zm3-52zm0 12zm5 21zm0 3zm3-18zm5 31zm2 11zm0-29zm4 39zm6-59zm3-15zm2 36zm3-14zm9 14zm2 18zm3-10zm1-43zm0 57zm1-67zm5 27zm1 47zm1-27zm7 42zm2-70zm6-32zm1 37zm1 13zm3-14zm0-6zm8-5zm3 29zm3-5zm11-17zm22 13zm1 45zm9-36zm3-29zm8 63zm5-44zm5 49zm19-50zm11 17zm0 26zm1 45zm8-61zm5-25zm2 29zm18-10zm26 28zm12-56zm0-8zm0 71zm5-20zm4-56zm13 51zm7-20zm18 1zm9-45zm56 56zm11-45zm30 47zm8-29zm17 32zm78-9zm0-119zm63 99zm8 40z"/>
<path stroke="#0000df" d="M299 1847zm12 2zm187-1zm19-6zm8 12zm11 4zm2 8zm1-28zm5 41zm6 4zm23-44zm6 5zm0 13zm2-10zm12 41zm4-3zm6-31zm0 44zm4-59zm4 17zm1 42zm0-36zm1-25zm6 37zm17-29zm6 47zm12-22zm5-19zm2-1zm7 40zm3 3zm4-9zm5 1zm2 25zm3-70zm3 67zm5-15zm2-46zm3 69zm7-35zm15-8zm10 49zm6-79zm6 27zm5 34zm0-37zm0-3zm5-11zm1 13zm10 40zm6-14zm4-2zm2-45zm13 19zm4 24zm3-27zm2 49zm9-62zm8 45zm1-61zm4 59zm4 15zm15-18zm2-3zm5-31zm10-5zm17-17zm12 6zm2 80zm3-20zm2 28zm17-84zm25 32zm20-28zm27-13zm19 82zm3-34z"/>
<path stroke="#0000ef" d="M295 1846zm2 0zm2 3zm0-4zm242 5zm15-3zm4 43zm2-18zm3 17zm11 3zm9-16zm3-22zm1 33zm2 3zm3-22zm5-12zm8 21zm2 25zm6-28zm4 26zm13-64zm1 66zm1-22zm0-7zm7 26zm4-27zm5-33zm0 51zm5 9zm0 2zm5-12zm9 0zm0 8zm4-27zm2 15zm8-16zm1 30zm5-23zm0 26zm2-19zm8-3zm2-2zm3-4zm2 34zm1-42zm1-22zm14 24zm3-17zm3 3zm3 51zm8-38zm6 14zm6 9zm1-9zm3-24zm8 32zm0 24zm2-51zm2 14zm2-14zm6 16zm2 49zm0-62zm1 55zm8-79zm2 72zm3-35zm5-17zm10 14zm10 18zm9-1zm2-17zm9 6zm8 31zm3-1zm10-95zm1 109zm12-36zm5-49zm20-17zm6 35zm23 45zm10-78zm11 52zm52-23zm51-12z"/>
<path stroke="#0000ff" d="M508 1870zm8-18zm22 31zm27 0zm12-10zm12-34zm0 33zm10 12zm1 3zm1-26zm4 30zm6-29zm0 40zm1-5zm0-56zm1 55zm3-7zm1 1zm6-32zm4 10zm17 30zm2-13zm2-10zm8 1zm1-10zm1 17zm2-13zm1 8zm3-14zm11 42zm1-65zm1 56zm2-31zm0-21zm3 63zm0-9zm1-25zm1-35zm3 63zm3-21zm5-22zm5 28zm5 21zm5-67zm2 38zm6 20zm1-14zm0 26zm7-53zm0 28zm4-27zm0-12zm2 19zm4 5zm1 0zm1 47zm8-35zm0 9zm4-7zm2-5zm6-36zm2 64zm0-23zm0 3zm0-37zm1 53zm1-58zm12 13zm1 18zm6 3zm2 3zm2 24zm4-150zm11 132zm13-37zm3 43zm1-26zm24 31zm2-26zm1-29zm1 6zm2 59zm6-65zm9 80zm10-29zm1-1zm3-43zm5 12zm9-6zm6 24zm1 67zm4-112zm4-3zm9 13zm0-22zm10 105zm6-152zm11 86zm2-1zm16-68zm12 104zm29 2zm50 81zm8-144z"/>
<path stroke="#0010ff" d="M299 1848zm241 26zm25 7zm4 5zm25-13zm18 26zm14-50zm2 26zm1-13zm4 9zm1 19zm1-14zm2 15zm7-23zm3 24zm2 12zm8-6zm2-41zm1 52zm8-21zm3-7zm1-33zm2 17zm5 41zm6-30zm2 8zm0-22zm5 27zm2-12zm3-16zm1-8zm4 53zm2 6zm0 2zm4-30zm3 24zm1-5zm2-11zm0-25zm1-21zm0 7zm1 10zm1 48zm3-31zm1 30zm1-35zm8-39zm2 58zm1-60zm1 36zm0 34zm2-35zm3-21zm5 66zm9-12zm2-18zm2 1zm1 20zm1-24zm1 5zm0-46zm5 76zm0-46zm2-4zm7 19zm1 40zm5-46zm7 23zm1-45zm4 1zm0 13zm6 36zm0-26zm0 4zm9 27zm2-1zm3-27zm3-19zm0 35zm5-79zm10 40zm1-25zm5 42zm2-42zm2 89zm10-33zm4-23zm2 57zm1-64zm25 37zm0-48zm3-22zm9-22zm17 72zm2-1zm1 17zm3 9zm8-60zm5 50zm4 19zm11-55zm1 1zm1-28zm2-53zm13 108zm6-25zm6 20zm1 57zm22-127zm8 55zm11 43zm105-68z"/>
<path stroke="#0020ff" d="M582 1873zm12 15zm1-46zm5 27zm3 29zm3-30zm2 8zm2 15zm9-2zm15-14zm3 0zm25 17zm12 16zm6-38zm6 40zm9-34zm0-23zm5-10zm4 29zm1-33zm0 16zm4 27zm0 32zm2-24zm1-26zm10 3zm0 13zm6-6zm16-6zm2 44zm0-43zm13 31zm7 6zm7-65zm4 62zm1-47zm0 25zm0 19zm1 2zm1-30zm2 10zm7 47zm4-13zm0 4zm1-11zm6-39zm1-5zm2-9zm4 25zm6 9zm2-6zm3-52zm5 94zm4-96zm1 94zm0 6zm2-46zm6 3zm3 34zm2 3zm1-40zm2-34zm1 51zm0-13zm3 39zm3-90zm6 47zm2-24zm4 83zm13-34zm6-23zm7 35zm6-10zm1-22zm2 30zm3 16zm7-72zm2 8zm5 25zm13 43zm2-100zm3 75zm2-112zm6 140zm11-110zm1-16zm18 56zm2 11zm5 38zm2-45zm44-42zm15-27zm10 18zm40 34zm20-34zm30 11z"/>
<path stroke="#0030ff" d="M566 1838zm13 36zm11 8zm9-32zm16 18zm12 23zm6-35zm11-4zm7 42zm6-40zm0 48zm8 3zm0-33zm5-11zm4-5zm4 1zm0 3zm4 51zm0-48zm5 45zm2-34zm2 30zm7 1zm2-14zm8-50zm2 66zm4-2zm2-28zm10-37zm6 24zm1 5zm3 53zm9-70zm6 29zm6 43zm2-22zm1-58zm0 66zm0-5zm4-28zm1 46zm1-75zm0-10zm0 8zm2 37zm3-52zm3 97zm3-15zm1-50zm0 25zm3-3zm2 23zm0-38zm1-63zm1 54zm1 33zm9-36zm0-12zm1 7zm0 9zm5 17zm6-48zm1 41zm13 30zm0-8zm2-43zm0 65zm2-33zm1-31zm1 86zm1-77zm2 52zm1-50zm5 67zm5-47zm2-28zm2 68zm0 4zm4-60zm1 64zm0-43zm16-39zm0 6zm0 78zm2-83zm2 73zm3 4zm0-6zm3-18zm4-11zm2 9zm1 14zm0 17zm0-58zm2-22zm1 40zm1 41zm1-86zm1 88zm0 2zm1-17zm2-52zm1 70zm1-19zm1-4zm0 7zm3-84zm1 91zm5-25zm0-22zm3 3zm6 46zm3-16zm2-80zm1 15zm1 52zm4 30zm12-84zm1 93zm1-46zm1 48zm4-63zm0 28zm1-23zm1-8zm3-26zm7 40zm4 36zm0-110zm4 80zm2-42zm2-1zm14 37zm1 16zm1-3zm2-52zm8 40zm0 40zm2-23zm1 9zm5-94zm7 4zm18 116zm15-160zm1 8zm1 69zm3 31zm23-108zm5 109zm39-32zm6-9zm18-35zm29-12z"/>
<path stroke="#0040ff" d="M301 1847zm260 2zm5-2zm35 54zm7-14zm0 3zm1-40zm25 8zm12 20zm28 23zm5-3zm4-35zm12 4zm17 12zm3 35zm7-58zm14-15zm6 79zm0-54zm2 49zm0-61zm9 36zm3-20zm3 24zm4-28zm2 43zm4 5zm14-33zm1 22zm4-51zm2 22zm5-27zm10 28zm2-36zm5-1zm1 36zm2 12zm4 49zm1-94zm1 66zm5-20zm2-58zm1 16zm1 86zm0-4zm5 2zm1-14zm1 12zm3-71zm2 66zm0-58zm3 21zm1 40zm0-72zm5 27zm1 48zm3-41zm0 11zm2-82zm3 59zm3 37zm13 17zm0-106zm6 112zm5-111zm3 52zm1 39zm7-69zm10 49zm3 58zm2-53zm4-14zm4 12zm7-3zm0 38zm2-101zm1 50zm1-15zm1-9zm12 37zm3-70zm3 96zm6 7zm9-124zm1 98zm1-73zm12 18zm1 77zm4-48zm0-8zm0 6zm11-5zm5 51zm5-59zm2-20zm6 15zm0 102zm5-63zm0-30zm23-70zm3 62zm2 43zm3-7zm3-69zm1 143zm2-156zm10-3zm7 89zm12-60zm38-23zm31 49z"/>
<path stroke="#0050ff" d="M614 1846zm12 41zm38-13zm49-6zm11 23zm2 28zm2-45zm9 46zm6-53zm4 25zm5-30zm2 48zm2-45zm5 44zm29-2zm5-21zm0 44zm3-61zm5 66zm0-20zm2 4zm2-7zm1-2zm5-41zm1-10zm1 68zm0 1zm7-35zm2 12zm2-36zm6-23zm1 37zm13-31zm2 82zm0-77zm5 30zm2-35zm1-44zm0 110zm6-85zm3 61zm5 30zm2-8zm1 24zm6-43zm5-8zm7 36zm2-42zm5 17zm0 40zm3-9zm0-3zm0-72zm1-12zm0 36zm3-6zm3 64zm0-16zm1-11zm3-88zm6 31zm4 25zm0-74zm4 90zm0 39zm1-57zm2 5zm5 54zm2-90zm2 37zm2 57zm1-65zm5 10zm1-8zm0 20zm2-47zm5 45zm7-63zm2 11zm1 41zm3-53zm1 124zm2-24zm2-104zm1 26zm0 80zm1-89zm2 57zm1 7zm1-6zm8-51zm0 41zm8 58zm5-111zm2 33zm0-1zm2 11zm0-52zm1 80zm4 12zm2-91zm4-2zm4 119zm1-74zm8-105zm2 119zm2-1zm19-13zm11 49zm2-80zm13 66zm3-55zm6-45zm2 112zm19-44zm5-71zm20 38zm36-21zm22 33z"/>
<path stroke="#0060ff" d="M301 1847zm359 42zm46 25zm26-66zm16 11zm12 30zm8-42zm1 16zm1-6zm11-10zm0 75zm11-57zm5 0zm7-23zm12-10zm18 80zm13-83zm4 62zm1 37zm12-99zm7-8zm1 66zm1 12zm6-31zm4 56zm2-16zm2-63zm3-30zm11 127zm10-167zm0 88zm3-43zm0 2zm4 14zm8 99zm1-16zm15-143zm4 101zm0-47zm5 11zm7 91zm1-91zm1 48zm2-15zm1 2zm1 34zm2-41zm0-34zm4 83zm1-84zm0 90zm1-86zm0-16zm2 40zm20 89zm2-135zm10 54zm0 38zm0-10zm3-76zm8 0zm9 60zm3-3zm1-10zm5 1zm1-73zm1 60zm20 0zm25-9zm8 55zm5 1zm21-51zm7-10zm21-19zm17-8zm56 40z"/>
<path stroke="#0070ff" d="M628 1853zm3 25zm51 26zm37-15zm28-26zm7-8zm34 77zm18-31zm7 17zm7-21zm1-42zm11 119zm9-77zm17-17zm15-21zm2 25zm20 27zm1-42zm4 58zm5-78zm3 25zm20 31zm3-55zm6 73zm1-82zm0 98zm0-117zm1 85zm4-44zm1-12zm1 95zm7-127zm2 55zm8 37zm8-10zm7-23zm1-2zm1-84zm0 98zm2 44zm17-95zm2 115zm1-107zm3 36zm0 28zm1-65zm1 3zm6 11zm13-16zm9 71zm1-2zm6-78zm0 33zm1-4zm4 29zm19 13zm17-67zm28 18zm17 3zm6-64zm92 5z"/>
<path stroke="#0080ff" d="M727 1867zm53 41zm20 7zm15-46zm13 29zm7 22zm10-45zm9-19zm4 14zm7 43zm2 8zm4 12zm6-69zm5 68zm13-47zm0-65zm8 82zm8-32zm6-28zm4 1zm15 57zm1-16zm11-41zm4 30zm2 16zm11-15zm1-36zm7 23zm0-43zm0 77zm3-22zm0 35zm2 11zm1-86zm3 40zm2-22zm3 2zm13-4zm8 48zm0-49zm4 92zm0-193zm3 126zm3 45zm0-4zm7-41zm1-80zm2 81zm2 39zm1-98zm1 54zm21-18zm5-47zm2 79zm3-49zm6 0zm0-6zm7 54zm3-83zm5 46zm2-75zm6 141zm15-58zm7 7zm2-103zm26 78z"/>
<path stroke="#008fff" d="M305 1844zm407 20zm7 20zm30 1zm26 0zm8-2zm19 2zm27-6zm32-112zm5 71zm12 35zm23 4zm12 53zm3-48zm16-20zm17-25zm4 76zm2-51zm3-62zm1 37zm8 62zm2-13zm4 49zm2-69zm3 45zm11-12zm9-65zm13 49zm0 45zm7-85zm3 42zm10 5zm3-127zm8 90zm2 70zm9-15zm2-10zm0 51zm5-98zm0-18zm1-24zm1 89zm3-43zm3-104zm1 65zm2 38zm0 2zm1 54zm3-114zm3 10zm0 73zm4-30zm1-49zm20 32zm8 4zm14 15zm6-25zm4-38zm9 13zm27 27z"/>
<path stroke="#009fff" d="M305 1841zm451 11zm102-1zm10-25zm19 10zm8-100zm4 227zm10-80zm0-11zm27 54zm8-67zm9 66zm4-109zm9 50zm0 86zm9-64zm2 36zm1-56zm1-54zm3 24zm6 58zm2 51zm10-112zm1 35zm15 10zm9 12zm3 30zm2 33zm5-86zm3-60zm1 49zm2-24zm9 57zm4-44zm4-1zm1 9zm6 7zm10 20zm11-59zm3-6zm15-10zm18 48zm14-78zm10 91zm16-3zm26-18zm52-47zm27 33zm4-9z"/>
<path stroke="#00afff" d="M854 1904zm8-53zm36 28zm5-16zm15 34zm6-16zm15 40zm7-44zm5-5zm4 37zm22-28zm9 12zm0 32zm10-61zm5 10zm3 25zm4 30zm1-81zm10 6zm1 72zm3-96zm2 7zm5 31zm4 10zm3-38zm12 89zm6-153zm6 58zm14 25zm0-40zm6 55zm3-12zm7-64zm1 48zm4 7zm11 17zm1-31zm8-7zm1 26zm5 58zm2-119zm25 125zm3 0zm18-60zm83 17z"/>
<path stroke="#00bfff" d="M848 1905zm0-33zm77-20zm10 28zm2-60zm18 0zm3 99zm17-61zm3 50zm2-61zm4 106zm0-118zm10-67zm3 134zm1-19zm9-11zm33-55zm9 47zm23 10zm2-17zm2-16zm2 13zm4-9zm1 44zm8-43zm3 0zm4 97zm4-101zm2-36zm4 18zm2 82zm2-50zm3-38zm8 0zm1 35zm0-14zm3 41zm0 7zm3-26zm9-59zm7 72zm2-113zm30 8zm6 86zm0-3zm89-12z"/>
<path stroke="#00cfff" d="M943 1847zm22 106zm9-119zm38 94zm24 19zm14-48zm9-57zm14-46zm3 18zm5 73zm0 26zm5-125zm3 74zm8-39zm29 71zm8-87zm12 0zm1 27zm4-32zm2 82zm4-42zm6-37zm1-26zm11 113zm7-53zm8-2zm1-38zm7-1zm57 71zm7-49zm68 17z"/>
<path stroke="#00dfff" d="M306 1841zm0 5zm652 69zm47-32zm1-62zm1 131zm28-96zm18 68zm10-50zm3-153zm6 127zm15-12zm1 10zm1 18zm8-55zm0 5zm7 83zm8-45zm11 53zm1-34zm1-4zm16-40zm2 16zm2 62zm5-83zm9 113zm7-56zm9-37zm22 18zm19 0zm54-71zm51 23zm26-25z"/>
<path stroke="#00efff" d="M309 1849zm607-67zm46 100zm13 11zm28-30zm6 58zm22-21zm10 1zm4-51zm2-40zm33 57zm7 67zm11-117zm3 69zm6-41zm28-36zm2 79zm5 18zm1-102zm16 5zm16 79zm2-114zm16 94zm0 18zm8-18zm4-37zm20-2zm2 4zm2 24zm11 12zm9 58zm3-82zm4 48zm22-62z"/>
<path stroke="#00ffff" d="M991 1811zm4 45zm23-25zm14 60zm55-5zm28 4zm7 11zm5-87zm5-54zm17 131zm0-99zm6 75zm3 44zm23-44zm2-31zm14 16zm9 64zm14-124zm3 43zm3-26zm3 81zm7-40zm0-10zm7-35zm27 11zm7 24z"/>
<path stroke="#10ffef" d="M310 1848zm712-25zm67 29zm3-38zm8 48zm24-59zm6 63zm2-24zm12-5zm18-8zm24 7zm1-8zm24 67zm7-10zm13-11zm37-19zm10-45zm15 83zm7-51z"/>
<path stroke="#20ffdf" d="M1013 1852zm42-54zm53 73zm10 21zm1-51zm1 12zm8 61zm1-23zm0-10zm1-54zm23 94zm10-33zm3-50zm5-13zm4 49zm3-62zm8 14zm21-36zm4 27zm3-48zm2 91zm7-20zm18-7zm8-8zm13-4zm5 44zm0-93zm16 67zm53-76z"/>
<path stroke="#30ffcf" d="M1070 1857zm38 1zm9 11zm15 18zm28-80zm12-2zm2-2zm20-6zm20 33zm4 2zm7-30zm6 77zm2-8zm2-8zm33-52zm63-37z"/>
<path stroke="#40ffbf" d="M1069 1832zm18 63zm22 10zm6-110zm15 8zm3 52zm6 18zm5 2zm13 15zm26-41zm11 3zm0 12zm29 46zm13-67zm10-9zm11 0zm16 20zm16-113zm0 101zm13-8zm6 4zm24-39zm9-50zm20 172z"/>
<path stroke="#50ffaf" d="M312 1846zm788 12zm38 5zm19-11zm38 34zm6 43zm11-69zm5-58zm1 53zm4 31zm23 19zm16-40zm41 15zm7-17zm33 38z"/>
<path stroke="#60ff9f" d="M1065 1845zm67 48zm49-70zm42 13zm56-33zm11 31zm10 49zm72-9z"/>
<path stroke="#70ff8f" d="M312 1844zm872-9zm31-41zm26 40zm10 60zm1-26zm1-98zm22 95zm3-36zm7 9zm44-28zm7 61zm12-48z"/>
<path stroke="#80ff80" d="M314 1848zm858-37zm8 7zm18-4zm0-15zm31-34zm28 103zm11 11zm37-67zm33 49zm35 7zm24 3z"/>
<path stroke="#8fff70" d="M1173 1821zm71-42zm24 94zm35 20zm12 6zm4-86zm7 14zm11-18zm7 105zm12-151zm11-3zm5 96zm49-45z"/>
<path stroke="#9fff60" d="M1208 1871zm16-44zm84-6zm27-41zm0 38z"/>
<path stroke="#afff50" d="M315 1844zm934-16zm34-77zm54 93zm41-35z"/>
<path stroke="#bfff40" d="M318 1850zm868-15zm97-7zm16 19zm9-7zm104 5z"/>
<path stroke="#cfff30" d="M1196 1793zm101 41zm8 25zm63-18z"/>
<path stroke="#dfff20" d="M317 1845zm1-5zm962-33zm17 55zm40-78z"/>
<path stroke="#ffff00" d="M1329 1850zm11-96zm46 56zm36 44z"/>
<path stroke="#ffef00" d="M316 1844zm1 5zm0-1zm1049-28z"/>
<path stroke="#ffdf00" d="M318 1848zm1 0zm1196 9z"/>
<path stroke="#ffcf00" d="M1402 1848zm36-5z"/>
<path stroke="#ffbf00" d="M1411 1853zm157 67z"/>
<path stroke="#ffaf00" d="M1291 1866zm239-113zm23 99z"/>
<path stroke="#ff9f00" d="M1357 1837zm117 3z"/>
<path stroke="#ff8f00" d="M1576 1837z"/>
<path stroke="#ff8000" d="M1368 1871zm170-29z"/>
<path stroke="#ff6000" d="M1443 1815zm154 93z"/>
<path stroke="#ff5000" d="M322 1846zm1263-53z"/>
<path stroke="#ff4000" d="M1553 1772z"/>
<path stroke="#ff3000" d="M1530 1834z"/>
<path stroke="#ff2000" d="M1561 1787z"/>
<path stroke="#ff0000" d="M1566 1910z"/>
<path stroke="#df0000" d="M1597 1784z"/>
<path stroke="#00008f" d="M295 1840zm0-3zm0-5zm0 12zm0 0zm0-16zm0 9zm1 13zm2-21zm0 2zm6 9zm2-7zm1-4zm0 1zm1-1zm0 0zm0 20zm1 1zm0-15zm2 12zm0-10zm1-4zm3 9zm0-13zm1 25zm2-23zm0 3zm0 11zm1 10zm1-10zm0 2zm1 6zm0-2zm0-15zm2-7zm0 8zm2-3zm0 0zm1 9zm1 3zm1 8zm2 2zm0-3zm2 1zm1-7zm1-3zm0-12zm0 16zm1-6zm2-8zm1 12zm3 7zm1-10zm0-4zm2 5zm0-16zm1 30zm1-11zm1-1zm0 11zm0-18zm2-10zm1 25zm0-10zm1 9zm0-7zm1-13zm4 10zm1 11zm0-14zm0 15zm1 2zm0-16zm0-11zm1 15zm0 2zm1-3zm0 4zm1 4zm0-15zm0 5zm0 13zm1 3zm0-20zm1 13zm1-18zm0 21zm1 3zm1-9zm0-6zm0-5zm1 27zm0-3zm0-5zm0-4zm0-11zm3 13zm0-17zm1 11zm1-3zm0 4zm2-12zm0 1zm0 17zm2 0zm1-9zm2 9zm1 5zm1-6zm0-17zm0 23zm0-28zm0 26zm1-10zm4 11zm1-11zm1 3zm1 37zm0-27zm1-19zm0-5zm1 29zm0-30zm0 23zm1-13zm0 4zm1 5zm0-7zm2-10zm0 23zm2 53zm1-65zm0 14zm0-9zm0 9zm0-10zm1 15zm0-24zm1-10zm0 26zm1 1zm2-27zm2 30zm0 17zm1-30zm0 7zm0-5zm2 7zm0-9zm0 9zm0-15zm0-14zm1 35zm0-20zm0-3zm0 24zm1-8zm0-11zm1 2zm1 19zm0 1zm1 1zm0-22zm2 6zm1 6zm1-16zm0 17zm1-27zm0 19zm0 7zm1-7zm1-1zm0 15zm1-17zm1 16zm0-4zm0-2zm0 0zm0-23zm0 9zm0-12zm2 37zm0-4zm0-33zm0 27zm0-23zm1 20zm0 6zm0 3zm0-7zm1-5zm1-6zm0-1zm0-7zm0 8zm1 18zm0-14zm0-3zm0 16zm0-17zm0-11zm1 85zm0-80zm0 8zm1 20zm0-3zm0-18zm0 18zm1 2zm0 2zm1-19zm0-2zm0 18zm1-14zm0-12zm1 13zm0 10zm0-4zm1 9zm0 1zm3-19zm0-8zm1 17zm1-7zm0 9zm0-30zm1 23zm0-23zm0 0zm0 18zm2 8zm1-7zm1-3zm1 1zm1-4zm0 4zm1-13zm1-6zm0 13zm0 20zm0-11zm0 15zm1-6zm0-14zm2-1zm0 7zm0-4zm0 18zm0-35zm0 87zm0-80zm1 29zm0 2zm1-26zm0 10zm1-20zm0 34zm0-13zm1-8zm1 14zm1-13zm0 24zm1-22zm0 14zm0-24zm1-8zm1 7zm1-5zm1 25zm1-7zm1-2zm0 23zm1-26zm0 22zm0-29zm2 4zm0 12zm0 10zm0 1zm1 1zm0-35zm1 46zm1-36zm0 5zm1 0zm1 6zm0 23zm0-45zm0 39zm1-38zm0 32zm1 1zm0-2zm2-22zm0 0zm1 37zm0-46zm1 17zm1 0zm0-16zm1 4zm0 28zm0-28zm1-1zm1 7zm0 12zm0 4zm0-6zm2 1zm0 13zm1-17zm1-2zm1 6zm0 16zm1-36zm0 41zm1-34zm0 32zm0-18zm1-6zm0 30zm0-21zm0 3zm2-25zm0 5zm1 35zm1-69zm0 48zm1 16zm1-12zm0-20zm0-3zm1 26zm0-13zm1 28zm0-30zm2-1zm0 3zm1-5zm0 5zm1-7zm1 21zm0 9zm0 4zm0-13zm0 16zm1-29zm0 28zm1-40zm0 8zm0-14zm0 20zm1 0zm0 0zm1 25zm0 33zm1-47zm0-16zm1 27zm1 2zm0-29zm1 0zm0 34zm1-16zm1-19zm0-13zm0 31zm1-3zm0-23zm3 44zm0-32zm0 30zm1-13zm0-19zm1 3zm1 2zm1 9zm0-7zm1-9zm1-4zm0 13zm0-4zm1 21zm1-40zm0 54zm0-13zm1-49zm0 37zm1 2zm0 13zm1-16zm0 25zm1-26zm0 17zm1-28zm0-1zm0 23zm0-37zm1 20zm0 11zm0-19zm2 35zm0-45zm1 8zm0 6zm0-6zm0 4zm1 10zm1 0zm0 30zm1-5zm1-10zm0 6zm1-2zm0-36zm0 29zm1-27zm2 39zm0-7zm2-19zm0 19zm0-15zm1 26zm0-32zm1 15zm0-4zm0-18zm0 10zm0-25zm1 14zm1 7zm0 6zm1 1zm0 12zm0-12zm1 17zm1-2zm0-19zm0 5zm2-24zm0 17zm1 22zm1-16zm0 15zm1 14zm0-19zm2-14zm1-5zm0 8zm1 15zm1 2zm0 12zm1-51zm0 6zm1 17zm0-6zm3-1zm0-6zm0 15zm0 18zm0-28zm0-16zm1 43zm1 6zm0-9zm0-36zm2 30zm0 7zm0-23zm0-9zm0 27zm0 10zm2-25zm0-5zm0 16zm1 11zm0 4zm0-17zm2 25zm0-13zm1-35zm0 35zm0-5zm0 21zm1-12zm0-41zm1 12zm1 12zm0 1zm0 9zm1 8zm0-38zm2 24zm0-36zm0 5zm1 11zm0-7zm1 33zm0-24zm2-7zm1 30zm0-1zm2 12zm2 9zm0-39zm1-13zm0 2zm1 32zm1-52zm1 63zm1-43zm1 0zm1 19zm0 5zm0 7zm2-9zm0-1zm1 15zm0-1zm0-33zm1 14zm2-20zm0 26zm1 8zm0-19zm2 14zm1-19zm1 33zm1-30zm0 24zm0-31zm0 25zm0 15zm1 1zm1-22zm0-37zm1 35zm1-7zm1 31zm0-51zm1 30zm1 5zm1-18zm1-11zm4 44zm0-24zm1 6zm0-14zm1-17zm0 33zm2 14zm0-16zm0-24zm1-9zm1 35zm0-8zm1-15zm0 25zm0-23zm1-20zm0 4zm2 51zm0-25zm1 25zm1-25zm0 17zm3-35zm1 33zm0 12zm1-20zm0 8zm1-19zm1 19zm0-17zm0 16zm1-27zm1 16zm0 3zm1 18zm1-16zm0 1zm0-57zm1 40zm0-13zm0 16zm1 14zm0 3zm0-128zm1 135zm0-27zm0-3zm0 24zm4 8zm0-17zm1 18zm0 18zm1-42zm1-22zm0 61zm0-18zm0-12zm0 22zm3-35zm0-2zm1 36zm0-1zm0 0zm0-3zm0-10zm1-5zm3 10zm1 6zm0-42zm2 28zm0-31zm0 20zm0 15zm1-21zm1 4zm1-11zm0 1zm0 26zm1-17zm1 32zm2-29zm1 31zm1-65zm0 24zm4 34zm0 3zm2-4zm0-77zm1 48zm0 32zm1-27zm1 35zm0-11zm1 8zm3-2zm0-21zm1-41zm2 27zm0 57zm0-43zm1 1zm0-3zm1-28zm2 53zm0 1zm0-4zm2-54zm0 48zm0-45zm3 21zm0 25zm0-3zm2-1zm2-46zm0 11zm4 5zm0-3zm0 17zm0 0zm1 6zm1-24zm0 18zm3-12zm2 14zm0-29zm1 39zm0-50zm1 37zm0 31zm3-19zm1 17zm0-14zm1-39zm0 53zm0-16zm1 16zm0-28zm0 8zm0-26zm1 29zm0 12zm1 5zm0-6zm1-30zm1-11zm0-3zm0 72zm0-13zm0-8zm1-20zm0-25zm0 48zm0-39zm0-21zm0 56zm1-52zm0 3zm0 48zm2-3zm0 4zm0-4zm1 0zm0-27zm1 37zm1-60zm5-6zm3 2zm0 46zm1-46zm1 33zm0-48zm1 32zm0 22zm1 23zm2-19zm1 7zm1-10zm1 28zm0-15zm1-52zm1 19zm0 12zm1-51zm2 64zm1 22zm0-12zm1-22zm0-18zm2-5zm0 1zm1 22zm0 54zm2-61zm2 34zm1-50zm2-13zm2 11zm0 11zm1-20zm0 118zm1-100zm0 15zm0 4zm2 0zm0-29zm0 58zm1-43zm1 59zm0-53zm0 0zm1 1zm0 33zm0-20zm3 49zm4-126zm1 94zm2-43zm1 69zm1-38zm0-13zm1-21zm1 58zm0-41zm1 55zm1-71zm0 8zm3 1zm0-3zm1 73zm1-46zm0-26zm1-31zm2 101zm4-43zm0 3zm1-32zm0 49zm0-55zm2 32zm0-12zm1 4zm1-69zm0 72zm0 51zm0-95zm2 18zm1 27zm1-52zm2 66zm2 3zm1-64zm3 102zm4-26zm2-36zm1-10zm2 37zm0 12zm1-3zm0-56zm1 47zm1-66zm0 1zm1 73zm2-7zm1-3zm1-30zm0 47zm0-33zm1-41zm0 54zm0-29zm0-31zm0 35zm1-1zm0 26zm0-29zm0 62zm0-80zm1 92zm0-52zm0 47zm1-89zm0 13zm0 30zm0 20zm3 1zm0-4zm2-14zm1 35zm2-9zm1 20zm0-36zm0 0zm0-31zm1 34zm0 2zm1 70zm1-82zm1 29zm0-19zm1 40zm1-24zm1-58zm1-22zm1-2zm0 106zm1-80zm1 27zm1-11zm1-5zm1-50zm0 67zm1 8zm1-42zm1-37zm0 101zm2-44zm1 3zm0-40zm0 19zm0 65zm1-34zm0-29zm1-5zm2 16zm1 27zm0-13zm3 55zm2-31zm0 4zm0-64zm4 8zm1 42zm0-23zm1-8zm1-16zm0 60zm3-66zm0 64zm1-27zm1 28zm1-55zm3 78zm0-48zm0 25zm1-16zm1 12zm2-16zm0-39zm0 41zm0-119zm1 61zm0 40zm2 42zm0 24zm1-6zm1-11zm3-105zm0 24zm1 22zm2 4zm0-66zm2 68zm3-37zm0 5zm2-14zm1 80zm1-90zm1 134zm0-129zm2 38zm2-9zm1-1zm0-50zm1 40zm0 28zm0 42zm0-86zm0 55zm2-46zm1 4zm0 111zm0-27zm1-31zm3 13zm1-50zm4 86zm0-63zm2-9zm1 16zm1 66zm1-21zm1-92zm0-21zm1 109zm0-45zm1-33zm2 44zm1-65zm0 2zm2 6zm1-5zm3-6zm1 65zm1 15zm0 1zm1-25zm2-15zm0 57zm2-53zm2-13zm3 0zm2-30zm0 36zm1-12zm0-14zm1 101zm1-142zm1 116zm0-88zm4 33zm0 76zm6-78zm1 70zm0-56zm2 45zm0-105zm2 66zm1 24zm1 30zm1-58zm1 19zm1 6zm2-107zm1 65zm0-14zm1 38zm2 35zm0-102zm2 65zm1-17zm0-16zm2 7zm1 40zm2-55zm2-40zm1 142zm3 9zm3-23zm4-107zm1 56zm1 21zm1 9zm2-124zm2 93zm3-26zm1 2zm0-7zm4 48zm2-8zm1-2zm0 17zm0 26zm0-85zm10 31zm0 9zm1-56zm1 133zm6-86zm7 27zm1 84zm1-82zm1-3zm5 5zm1-21zm3 14zm0 27zm10-16zm1-11zm1-30zm6 69zm1-99zm3 103zm2-43zm3-20zm0 49zm3-45zm4 20zm0 17zm0-19zm2-22zm5 24zm7 0zm3-24zm0 5zm0 52zm2-53zm1 20zm1-6zm0 12zm2 1zm0-9zm0 18zm0-3zm1-40zm3-72zm4 73zm9-3zm7-104zm14 180zm1-77zm11 9zm0-70zm4 77zm9-14zm7 24zm7-25zm0 9zm1-1zm5 24zm7-78zm5 47zm2 68zm8-50zm6-15zm15 6zm6-43zm5 39zm14-5zm7 23zm8-31zm18 45zm33-36z"/>
<path stroke="#00009f" d="M297 1848zm32-18zm12 13zm6 5zm0 8zm11-12zm4 1zm13-7zm8 21zm2-14zm18-15zm2 29zm11 1zm12-16zm16 29zm2-10zm5-3zm6 4zm2 0zm2-1zm6-7zm7-13zm2 37zm10-31zm10 20zm2-9zm6 8zm9 1zm19-22zm2 28zm12 4zm0-25zm3-16zm5 36zm0-27zm9 35zm8-31zm1-12zm2 16zm15-16zm12 29zm8 13zm2-1zm4-4zm19 2zm6-12zm10-15zm5 31zm8-2zm9-13zm5 17zm5-50zm7 27zm1 5zm23-21zm25 44zm9-8zm2-40zm14 79zm3-45zm7-27zm9 3zm1-65zm8 118zm16-4zm5-65zm39 69zm3-18zm13 99zm1-71zm20-22zm29-58zm1 6zm4 23zm8 77zm9-124zm9 20zm3 70zm5 40zm1-100zm10 12zm2 35zm7-96zm21 9zm3 78zm20-1zm5-3zm9 58zm26-68zm25 79zm69-33z"/>
<path stroke="#0000af" d="M315 1837zm4-1zm1-3zm5-11zm2 20zm2 2zm3 2zm2 5zm7-9zm22 2zm9-2zm4-5zm10-3zm9 13zm37-5zm3 12zm7 11zm3 1zm24-9zm17 1zm5 25zm34-23zm0 9zm1 8zm12-19zm4-2zm2 4zm3-23zm6 33zm7 14zm5-3zm1 5zm0-14zm11 12zm2-41zm8 12zm16-35zm1 49zm17-2zm1 36zm3-30zm5-18zm1 4zm3 8zm15-22zm1-3zm3 66zm3-26zm3-34zm0 21zm7-15zm10 21zm15 2zm2 17zm1 2zm1 0zm4 17zm6-29zm11-3zm8 14zm7-3zm6-27zm7 19zm14-29zm12 51zm18-7zm11-36zm1 71zm25-20zm2-80zm2 42zm1-10zm1-23zm19 70zm6 5zm20-32zm18-10zm2-2zm17-53zm4 81zm1-34zm5 8zm17-20zm1 19zm15 40zm5-61zm17-29zm42-24zm2 33zm15-25zm22 78zm22 11zm7-24zm40-57zm0 110zm55-1zm84-106z"/>
<path stroke="#0000bf" d="M296 1846zm1-1zm3-16zm43 25zm9-2zm20 3zm10-11zm24 12zm3-8zm24-6zm16 23zm26 2zm8-4zm6-5zm18-19zm9 46zm4-23zm8 14zm11-12zm0 27zm4-43zm14-4zm9 25zm3-13zm5 13zm0 0zm1 2zm7-21zm5-4zm16 53zm0-57zm1 3zm0 1zm7 20zm4 32zm5 0zm2-43zm1-4zm1 12zm2 25zm14-19zm3-1zm3-14zm2 32zm1 20zm3-9zm1-39zm1 33zm2-29zm4 15zm6-33zm16-8zm7 48zm3-8zm0 3zm6-19zm10 54zm11-62zm10 4zm3-12zm2-9zm8 25zm1 26zm1 16zm2-62zm4 59zm7 22zm1-52zm8 11zm5 18zm2-42zm26-7zm21-4zm6-2zm24 29zm22-25zm3-21zm9 19zm3-24zm2 82zm16-53zm35 56zm16-116zm3 24zm2 103zm28-58zm10 6zm26 0zm47 47zm33-32zm22 0zm87-42zm63 58z"/>
<path stroke="#0000cf" d="M323 1853zm19-12zm2 6zm1-17zm5 22zm10 6zm21-4zm22 9zm20-31zm7 4zm18 10zm0 2zm1 28zm11-43zm3 40zm6 2zm11-40zm5 45zm3-24zm19-3zm5 29zm2-18zm7 6zm9 2zm9-8zm3-7zm7-6zm8 9zm2-11zm2 12zm0 6zm8 7zm0-36zm3 6zm3-6zm9 7zm1-7zm14 20zm2 19zm5 8zm3-11zm3-1zm20-25zm1 40zm10-16zm1 23zm2-35zm4-15zm5 6zm2 11zm0 7zm0-2zm1-43zm21 35zm3 46zm3-46zm1 5zm1 12zm1-38zm1-2zm1 61zm4-35zm13 18zm1-41zm3 61zm5-34zm5-14zm2 19zm0 8zm6-29zm3 29zm8 20zm13 12zm8-6zm8-55zm11-16zm7 109zm1-13zm3 3zm6-1zm1-30zm8-44zm3 46zm5 7zm10-75zm2 6zm9 4zm1 46zm4-58zm39 76zm5-49zm22-36zm21 80zm21-21zm22 9zm1-29zm2-1zm23 20zm19-30zm1 45zm16-11zm1 0zm11-62zm2 37zm3 2zm51 24zm7 7zm280-62z"/>
<path stroke="#0000df" d="M298 1840zm133-1zm76 20zm33-9zm11 39zm2-35zm1-5zm2-5zm10 8zm27 9zm1-6zm5 25zm2-8zm0-26zm4 23zm25 9zm5-30zm1-9zm2 19zm0-12zm4 10zm1-9zm2 58zm3-42zm10-16zm2 51zm8-10zm3-48zm8 23zm1 34zm2-30zm1-22zm2 46zm5-28zm1 45zm3-39zm5-8zm2 46zm6-4zm1-14zm1-28zm1 9zm1-6zm4 7zm0 34zm5 10zm0-50zm4-4zm1-18zm3 59zm1-20zm6 17zm14-18zm1-40zm8 56zm6 55zm4-91zm3 41zm2 12zm2-16zm6-36zm6-1zm7 9zm1 56zm0-32zm10-37zm16 41zm11 4zm11-16zm7 6zm6-16zm2-19zm16 53zm5-61zm2 12zm10 7zm11-17zm7 42zm10-2zm12-62zm3 32zm21 7zm0 12zm25-19zm4 15zm25 14zm2-67zm60 123zm4-150z"/>
<path stroke="#0000ef" d="M513 1850zm35-7zm41 46zm1-17zm4 20zm6-12zm1 5zm2 8zm5-17zm14 4zm4-20zm7 2zm7-18zm2 58zm0-20zm5-24zm6 35zm0-13zm0 7zm1-68zm11 58zm0 32zm4-99zm0 43zm2-6zm0 33zm2-23zm13 24zm1 15zm22-4zm25 18zm0 3zm2-50zm1 5zm3 42zm8-10zm1-6zm10-7zm0-24zm1 3zm2 34zm2-52zm4 70zm1-75zm5 15zm5-20zm1 48zm5 11zm2-38zm1 35zm11 17zm0-62zm1 46zm2 33zm0-90zm11 27zm2 34zm2-13zm2 5zm2 31zm5-20zm0 1zm9-42zm6 33zm2 19zm2-39zm3 6zm28 23zm1-63zm2 49zm6-31zm11 16zm7 18zm1-74zm10 57zm5 20zm26 52zm3-54zm40-49z"/>
<path stroke="#0000ff" d="M538 1868zm25 15zm9-9zm6-27zm0-7zm3 10zm10 16zm13 22zm3 13zm4-53zm18 48zm0-3zm12 2zm1-3zm1-52zm2 53zm3 11zm2 3zm0-12zm1-53zm3 39zm13-1zm1-29zm9-3zm1 40zm4 16zm2-7zm1-22zm1 15zm0-24zm1 9zm1 8zm4-41zm5-24zm6 73zm5 8zm5-37zm2-4zm3 40zm2-28zm1 42zm1-17zm7-35zm0-2zm2-9zm0 9zm1-21zm1 48zm13-21zm1 34zm3 2zm3-16zm12-3zm10-11zm5 35zm4-34zm2 16zm0-41zm1 35zm4 11zm4-63zm1 89zm7-55zm1 1zm1 48zm1 8zm1-79zm1-8zm0 69zm5-37zm0-19zm1 62zm1-53zm4 81zm1-52zm2 27zm8-4zm6-27zm7-21zm0-4zm2 33zm1-58zm0 58zm7 15zm1 27zm7-43zm4 35zm0 9zm6-30zm4 27zm3 4zm1-10zm9 7zm1-58zm3-4zm7-17zm1 77zm3-23zm4-17zm8-62zm3 13zm2 98zm12-59zm3 3zm12-60zm2 36zm4 38zm15-49zm17 6z"/>
<path stroke="#0010ff" d="M298 1844zm250-4zm11 31zm5-17zm24 34zm27-42zm4 47zm2-37zm10 1zm3 46zm6-4zm3 3zm5-58zm4 40zm14 12zm8-28zm5-10zm7 49zm1-27zm5 2zm0 5zm1-4zm1 2zm1-32zm4 58zm6-47zm7-9zm2 61zm2-51zm4 21zm2 19zm3-58zm3 56zm9-21zm1-32zm13 6zm1-9zm0 13zm1 43zm3-3zm1 28zm2-53zm0 48zm5-39zm2 20zm1-38zm4 19zm1-40zm2 82zm4-35zm5-40zm1 18zm0 48zm4-17zm1-54zm3 67zm1-1zm0-53zm4-13zm0 72zm3-47zm3-59zm10 103zm3-69zm19 83zm2 16zm4-99zm1 68zm2-28zm1 26zm5-6zm3-56zm10 58zm9-40zm2 32zm4-46zm7-14zm4-1zm2 85zm7-42zm2 54zm11-102zm5 87zm1-43zm7-18zm0 51zm14 26zm14-75zm3 1zm2-78zm8 102zm4-18zm0-14zm13 25zm9-54zm10 64zm10 74zm4-135zm7 11zm5-14z"/>
<path stroke="#0020ff" d="M298 1845zm276 3zm0 38zm15-8zm5 15zm16-34zm22 42zm3-8zm14-50zm2 62zm5 0zm4-6zm4-15zm4 12zm2-49zm5 61zm0-14zm1 9zm2-33zm3 36zm5 5zm2-54zm3 22zm7-21zm8 42zm2-23zm14 37zm7 3zm1-7zm2-34zm1 4zm1 29zm4 6zm1-29zm3 6zm3 16zm6-28zm2-25zm1 5zm8-22zm1 75zm3-22zm3-8zm0 5zm2-22zm7 60zm4-19zm4-14zm1 25zm3-70zm6 5zm8 7zm0-18zm1-12zm3 98zm7-8zm10-120zm0 92zm11-1zm1-21zm6 25zm2-16zm6-21zm5 12zm4-19zm2-23zm2 87zm3-6zm6-1zm6 9zm2-73zm2 34zm1 9zm1-12zm10 40zm3 23zm6-24zm2 36zm1-20zm23 12zm1-128zm1 127zm0-4zm0 12zm6-91zm3-26zm6 70zm0-16zm3-19zm20 16zm42-5zm6-16zm43-47zm4-12zm7 35z"/>
<path stroke="#0030ff" d="M564 1859zm40 18zm29 9zm5-5zm6 14zm8 8zm0-49zm6-13zm2 67zm15-9zm5-18zm5-6zm4-34zm1 62zm10-16zm0-15zm4 42zm5-34zm0 22zm0-34zm10 48zm0-28zm1 25zm7-34zm1 36zm3-18zm2-37zm3 56zm2-46zm9 52zm6-68zm4 23zm3 46zm5-75zm3 58zm6-6zm0-13zm1 21zm3-33zm0 51zm1-55zm3 55zm3 10zm4-3zm7-13zm1-32zm0-26zm1-29zm8 93zm4-49zm5 8zm1 27zm1-30zm1 7zm5-35zm5 77zm0-80zm2 79zm5-84zm7 75zm5-33zm4-26zm1-15zm1 77zm0-36zm3-10zm6 24zm2 19zm1 10zm0-37zm6 5zm4 2zm0 22zm2-51zm1-65zm4 129zm3-82zm7 82zm3-77zm2-17zm0 43zm2-8zm1 59zm17 2zm1 13zm3-15zm4-44zm1-19zm2 69zm1-31zm4-59zm1 91zm1-106zm0-6zm3 50zm0-15zm4 73zm3-48zm2-1zm4 56zm10-61zm2-16zm3 40zm3 14zm2-77zm0-4zm8-21zm2 97zm3-5zm8-59zm4 40zm14-53zm53-13zm0 101zm4-66z"/>
<path stroke="#0040ff" d="M301 1843zm312 23zm4 10zm22 19zm0-47zm22 36zm2-18zm1-28zm7 29zm4-10zm3-13zm2 13zm13-21zm17 82zm2-10zm4-55zm9 41zm3-27zm2-20zm5 67zm5-61zm3 38zm7-1zm9 13zm6-54zm1 25zm16 12zm4-37zm3-11zm16 52zm6-46zm1 66zm3-48zm2-4zm3 61zm1-51zm8 48zm4-90zm0 34zm2 5zm0-7zm3 43zm1-10zm1-15zm3-19zm0-27zm0-84zm1 115zm7 46zm3-74zm2 87zm1 17zm0-56zm5 52zm2-36zm0-15zm1-52zm0 103zm3-11zm5-49zm7 61zm3-54zm1 49zm8-69zm2 74zm1-25zm0-71zm2 93zm2-13zm1-45zm0 54zm12 11zm1-95zm1 120zm5-124zm1-14zm8 27zm1-25zm2 42zm2-36zm2 106zm3-86zm2-2zm1 90zm2-58zm2-40zm1-15zm4 10zm6-8zm1 80zm3-80zm5 41zm9-26zm1 14zm1-2zm3 56zm0-67zm1 59zm1-73zm11 16zm4 2zm10-20zm6 37zm4-7zm1-2zm2 19zm11-8zm4-23zm1-71zm3 107zm30-9zm7-31zm3-3zm5-12z"/>
<path stroke="#0050ff" d="M557 1883zm27 14zm29-58zm31 68zm35-40zm5 39zm7 6zm11-26zm6-16zm22 24zm2 1zm5 22zm12-54zm6-15zm0 5zm6 61zm3-57zm4 57zm1-55zm8 52zm12-1zm5-67zm4 42zm4-8zm5 60zm3 4zm12-29zm2 5zm4 15zm0-21zm2-2zm3 6zm5-22zm1 40zm5-87zm1 41zm2 23zm4-77zm2 71zm1-30zm4-4zm1-38zm3 58zm3 31zm5-33zm3 41zm1-40zm17 62zm1-15zm0 13zm3-22zm5-91zm12-15zm0 50zm1-31zm6 74zm0-57zm1 39zm11-108zm5 34zm0 68zm13-79zm0 111zm14-71zm2 3zm10 19zm2-8zm7-3zm1 39zm1-18zm3 38zm2-40zm9 1zm2-26zm0 32zm4 4zm5 53zm7-110zm2 52zm4-46zm11-20zm1 78zm2-78zm0-7zm5 52zm1-45zm1 29zm4 50zm4-22zm1-45zm0 35zm7-104zm1-2zm5 162zm1-41zm2-74zm0 10zm18 115zm9-71zm22-54zm8 1zm15-25zm6 21z"/>
<path stroke="#0060ff" d="M685 1861zm19 2zm19 38zm6-52zm29 48zm18-4zm1-4zm22-29zm3 66zm5-47zm1 0zm19-16zm0-10zm10 22zm2 48zm7-15zm2-70zm1-9zm16 48zm13 32zm2-84zm2 56zm1 40zm3-53zm3-8zm0 67zm1-101zm2 106zm1-57zm8-4zm3 67zm3-25zm9 20zm0 10zm1-2zm0-30zm1-42zm0 42zm2-92zm14 52zm0 70zm16-23zm2-102zm1 84zm1 35zm1-23zm2-39zm11 12zm6-60zm3 20zm3-7zm1 40zm1-32zm3 68zm3-131zm0 109zm2 50zm2-47zm2-13zm1-32zm1-31zm11 88zm2-37zm1-7zm0-46zm7 46zm5 44zm12 1zm1 38zm2-118zm1-4zm14 25zm5 36zm4-59zm31 12zm3 63zm6-90zm4-19zm2 19zm4 24zm35-34zm15-18z"/>
<path stroke="#0070ff" d="M304 1846zm0 0zm338 10zm39 41zm18-10zm0-48zm5 43zm31-27zm39 26zm8 19zm1 39zm9-21zm3-50zm9-28zm4 1zm1 73zm15-17zm2-10zm9 41zm1-67zm10 38zm5-7zm4 43zm1-81zm1-24zm2 57zm12-76zm8 110zm2-106zm2 37zm4 60zm5-7zm2-67zm2 81zm2 17zm6-25zm2-88zm2 19zm6 33zm4 30zm4 4zm2-76zm4 42zm13-12zm4 57zm12-59zm2-36zm7 27zm1 68zm7-101zm5 79zm3 54zm4-131zm5 16zm2 41zm1-44zm1 7zm6 27zm4-12zm5-31zm3-5zm15 57zm6 1zm5-38zm0 78zm17-7zm10-49zm1-6zm0 27zm5 0zm23-45zm4 70zm3-106zm3 57zm0-27zm0 40zm2-101zm17 30zm11 67zm9-43zm51 19zm147-29z"/>
<path stroke="#0080ff" d="M644 1856zm82-2zm28-18zm17 17zm13 26zm36 23zm6-11zm17-46zm1 7zm8 18zm15-8zm19-23zm7 37zm4 43zm9-52zm17-47zm2 53zm11 74zm1-17zm17-32zm6-35zm3 51zm5 4zm11-59zm5 56zm0 3zm1 28zm17-122zm3 49zm2 55zm17-146zm2 163zm0-13zm1-96zm18 36zm2-1zm13-20zm0 10zm3 45zm0 8zm10-76zm1-44zm3 13zm1-22zm8 98zm7-56zm1 48zm16-27zm2-44zm0 43zm1-57zm42 126zm1-99zm64-6z"/>
<path stroke="#008fff" d="M304 1846zm421-10zm50 57zm16-41zm7-20zm17 21zm24 48zm15-66zm5 50zm20 54zm14-12zm6-19zm3-72zm11 72zm14-43zm8 70zm8 20zm2-88zm6 61zm2-26zm2-59zm2 12zm10 103zm1-56zm1-84zm5 26zm3 59zm15-61zm2 62zm8 17zm5-18zm1 30zm1-38zm5-153zm13 114zm14 24zm3-15zm1-72zm1 132zm8-54zm7 57zm1-75zm12 10zm8 18zm1-34zm2 56zm11-68zm8 0zm16-35zm10 39zm11 62zm7-44zm10 29zm18 27zm73-54z"/>
<path stroke="#009fff" d="M659 1861zm82 30zm64-35zm36 14zm22-35zm16 16zm12 0zm18 6zm23-23zm3 92zm6-130zm1 45zm9 13zm1 78zm13-25zm20-73zm14 7zm1 73zm1-37zm7 23zm5-90zm1 135zm0-47zm3 15zm6-74zm1 19zm3 10zm13 4zm4-61zm5 42zm2 69zm0-85zm9 2zm7 53zm1-27zm2 84zm7-161zm6 98zm3 0zm2-24zm6 34zm4-59zm4 38zm7 2zm3-55zm8 92zm5-82zm20 50zm8-84zm31 93zm11-102zm94 100z"/>
<path stroke="#00afff" d="M303 1848zm4-2zm458 21zm43-6zm69 85zm45-62zm15-73zm15-60zm4 117zm7-12zm46 22zm8-32zm0-15zm1 15zm4 38zm4-26zm5-38zm4 40zm4 12zm1 1zm3 91zm2-180zm2 81zm6-44zm2 23zm2 58zm0-62zm0 98zm5-116zm1 38zm0 50zm2-69zm10 5zm12-2zm15 36zm1-64zm1 74zm11-65zm10-28zm8 77zm11 72zm10-54zm5-62zm1 13zm0-22zm51 58zm18-45z"/>
<path stroke="#00bfff" d="M897 1926zm11-38zm30-40zm1-4zm44 72zm8-49zm4-24zm4-14zm1 118zm6-139zm11 60zm8-62zm1 44zm6-27zm1 49zm3-11zm5 30zm4-103zm8 49zm1-36zm11 85zm0 21zm6-105zm4-2zm14-14zm10 70zm3-98zm5 134zm6-64zm8-82zm23 132zm7-24zm21-85zm5 62zm12 38zm5 2zm8 4zm9 17zm2-25zm18 64zm5-99z"/>
<path stroke="#00cfff" d="M306 1848zm637 57zm31-52zm1-18zm47-13zm10 84zm1-15zm10-39zm0 51zm1-44zm5-53zm0 147zm17-95zm3 0zm23-42zm10 57zm0-15zm9 11zm2-115zm11 80zm8 40zm12-80zm0 35zm6 9zm15 60zm4-57zm3-35zm1 67zm2-12zm8-33zm4 13zm6 27zm14-3zm48-31zm8-82zm2 98zm8-21z"/>
<path stroke="#00dfff" d="M802 1893zm33-49zm112-47zm15 114zm3-55zm18-4zm2-111zm6 152zm5-10zm26 69zm8-84zm9-30zm3 61zm7-34zm2-32zm1 6zm6 4zm6 21zm4 20zm7-7zm9-65zm1 105zm11-55zm3 27zm6-32zm1-106zm0 107zm2 43zm9-85zm1 2zm8-4zm11 40zm3-5zm10 13zm2 18zm1-31zm6-53zm17 18zm1 48zm16-26zm20-12zm5 100zm21-55zm3 37zm13-103z"/>
<path stroke="#00efff" d="M924 1868zm51-42zm21 49zm9-58zm48 23zm5 70zm11 37zm7-85zm1 14zm2 16zm0-15zm10-71zm6-14zm18 98zm2-33zm4 83zm3-16zm19-98zm4 7zm1 69zm4-8zm4-135zm6 74zm13 36zm8-90zm4 23zm2 44zm1 36zm5 11zm12-121zm29 83zm8-33zm13-68zm7 60zm2-50z"/>
<path stroke="#00ffff" d="M306 1851zm670 17zm45 12zm14-21zm54-11zm21 97zm0-121zm20 11zm4 49zm28 19zm2-82zm2 70zm5 44zm32-78zm7 33zm12-10zm19-50zm24-18z"/>
<path stroke="#10ffef" d="M1003 1914zm40 15zm43-42zm40 45zm6-125zm3 18zm16 85zm28-77zm0 12zm8 22zm14-43zm7 29zm8 28zm3-51zm6-2zm2 41zm8-18zm12-59zm2 80zm2 33zm22-97zm39 51zm54 41z"/>
<path stroke="#20ffdf" d="M994 1844zm44-18zm84 17zm24 73zm3-109zm15-32zm8 48zm7 44zm0-120zm26 41zm48 9zm2 73zm3-72zm2 48zm3-20zm23 54z"/>
<path stroke="#30ffcf" d="M309 1845zm736 21zm25 11zm60-43zm11 17zm11 42zm9-51zm2 65zm5-41zm3-39zm0 87zm2-63zm7-28zm7 58zm19 20zm38-40zm7 27zm5-50zm107 11zm10-16z"/>
<path stroke="#40ffbf" d="M311 1847zm0-3zm787-50zm44 41zm18-59zm4 102zm7-14zm37 10zm12-11zm11-32zm13-18zm6 31zm7-83zm0 100zm47-12zm2 1zm51-2zm9 26z"/>
<path stroke="#50ffaf" d="M1052 1858zm41-76zm54 88zm36-46zm1 58zm12-24zm10-133zm79 136zm14-88zm57 106z"/>
<path stroke="#60ff9f" d="M1130 1876zm42-56zm18 42zm22 8zm19 13zm15-70zm16 15zm13 2zm1 44zm7 40zm12-162zm13 65zm26-17zm2 23z"/>
<path stroke="#70ff8f" d="M1126 1814zm50 8zm14 14zm11 8zm5-14zm23 44zm7-84zm25 10zm33-2zm5 54zm10 27zm10-114zm50 79zm20 45z"/>
<path stroke="#80ff80" d="M311 1844zm4 2zm839-9zm41-19zm94 36zm3-95zm14 111zm18 37zm1-144zm10 64zm40-5zm9 43zm50-27z"/>
<path stroke="#8fff70" d="M313 1845zm1 0zm887 35zm45-31zm13 44zm24-7zm2-77zm17 68zm25-96zm12 18zm7 69zm22-46z"/>
<path stroke="#9fff60" d="M313 1843zm903-8zm17-38zm61 20zm18 73zm22-124zm26-6z"/>
<path stroke="#afff50" d="M1220 1855zm113-6zm46-19z"/>
<path stroke="#bfff40" d="M1336 1833zm62 57z"/>
<path stroke="#cfff30" d="M1304 1842zm37-26zm83-35zm45 65z"/>
<path stroke="#dfff20" d="M315 1841zm984 8zm74-30zm32-49zm25 35z"/>
<path stroke="#efff10" d="M1296 1854zm4 26zm64-17zm18-79z"/>
<path stroke="#ffff00" d="M320 1845zm994 43zm90-96zm35 115zm7-86zm88 97z"/>
<path stroke="#ffef00" d="M1363 1775z"/>
<path stroke="#ffdf00" d="M320 1847zm1059-35zm35 89z"/>
<path stroke="#ffcf00" d="M1469 1780z"/>
<path stroke="#ffbf00" d="M318 1844zm1 1zm1 2zm0 1zm1-3zm1049 25z"/>
<path stroke="#ff7000" d="M322 1845zm1160 13zm101-13z"/>
<path stroke="#ff6000" d="M322 1845z"/>
<path stroke="#ff5000" d="M1510 1856zm86-8z"/>
<path stroke="#ff4000" d="M1411 1877z"/>
<path stroke="#ff2000" d="M1540 1807z"/>
<path stroke="#ef0000" d="M1507 1812z"/>
<path stroke="#800000" d="M1583 1908z"/>
<path stroke="#00008f" d="M295 1839zm0 3zm1-2zm0 7zm0-7zm1-16zm2 7zm1 13zm0-8zm2 12zm1 1zm0-9zm1-10zm0 0zm0 1zm0 11zm0-13zm1 3zm0 8zm1-2zm2-5zm0 14zm1-5zm1-14zm0 21zm1-2zm0-20zm0 8zm1 1zm1-7zm2 4zm1 18zm1 0zm5-8zm1 5zm1-9zm0-8zm0-1zm2 12zm1-1zm2-14zm1 25zm0 2zm2-4zm2-26zm2 17zm1 6zm0 3zm0-15zm0 4zm1 8zm1-1zm0 3zm2-5zm0-10zm1 2zm0 24zm0-10zm1-20zm1 21zm1-22zm0 4zm1 8zm0 4zm2 12zm0-8zm0-19zm0 17zm2-6zm0 4zm0-4zm1 1zm0-8zm0 8zm1-14zm4 22zm0 2zm1-22zm1 31zm4-27zm2 20zm0 4zm1-11zm0-5zm2-9zm0 18zm0-25zm0 26zm3-3zm0 5zm1-2zm1 0zm2 4zm0-8zm1-5zm0 16zm0-8zm1-22zm1 33zm1-14zm0-3zm0 27zm1-9zm1-5zm0-26zm1 27zm0-8zm1-14zm0-6zm2 33zm0-38zm0 7zm1 33zm0-12zm0 6zm1 0zm0 5zm1-17zm2-6zm0 12zm1-23zm0 31zm2-12zm0 3zm1-4zm1-7zm2 65zm0-56zm0 6zm1 4zm0-46zm1 28zm0 71zm3-50zm1 1zm1-1zm0-10zm1-3zm0 11zm0-11zm1-6zm2-2zm2 17zm1 1zm1 5zm1-28zm1 14zm0 16zm0 22zm1-24zm0-20zm1 24zm1-10zm0 9zm0-8zm1-27zm0 27zm1-7zm0 0zm1-23zm1 38zm0-17zm0 7zm0 0zm2-11zm1 13zm1-17zm0 0zm0 17zm0-28zm1 20zm1 61zm0-79zm0 23zm0-14zm0-11zm0 19zm0-10zm1 77zm0-56zm2 2zm0-25zm0 14zm1 5zm2 43zm1-33zm0-19zm1-1zm1 3zm1-12zm0 7zm1 25zm0-33zm0 3zm1 93zm0-70zm1-5zm0-16zm0 8zm2-17zm2 19zm0 8zm1-15zm0 14zm1-21zm0 9zm0-13zm1 30zm1 73zm1-69zm1-27zm1-17zm0 35zm0-3zm0-14zm1 21zm0-18zm2-6zm2 58zm1-33zm1 0zm0 6zm0-25zm1 10zm0-22zm1 20zm1 16zm1-21zm1 7zm0 10zm1 1zm0-8zm3-6zm0-21zm0 27zm0 9zm2-25zm1-20zm1 44zm2-2zm1-29zm0 26zm1 15zm1-20zm1-13zm0 20zm0 13zm1-34zm0 37zm0-37zm1 33zm2 4zm0-15zm1 5zm2 2zm1 10zm1-1zm0-6zm0-5zm0-35zm0 34zm0-32zm0 17zm1-19zm0 33zm0-23zm2 32zm1-32zm2 72zm0-75zm0 20zm1 8zm0-16zm0 27zm1-19zm1-4zm0 5zm0 9zm1-22zm1 31zm1-42zm0 13zm0 24zm0 7zm1-15zm0-29zm0 5zm1-2zm1 30zm0 10zm1-29zm1 24zm0-4zm0 95zm1-95zm0 2zm0 1zm1-37zm0 33zm1-30zm0 33zm0-42zm0 52zm0-19zm0-30zm0 15zm1 15zm1 10zm0-19zm0-19zm1 5zm1 37zm1 1zm0-24zm0 10zm0-24zm1 10zm0-7zm0 33zm0-24zm2 2zm0 4zm1-2zm1 21zm0-20zm1 114zm1-139zm1 3zm0 42zm0 1zm1-32zm1-15zm0 30zm1 18zm1-3zm0 0zm3-16zm0 79zm1-65zm1-23zm0 22zm3-18zm0 26zm2-9zm1-5zm1 19zm0-6zm1-19zm0-29zm2 54zm0-4zm1 5zm1-16zm1-20zm0 9zm2-8zm0 12zm0 22zm2-23zm0-5zm0 16zm0-4zm1-35zm0 1zm0 7zm1 20zm0-7zm1 4zm1-5zm0 20zm0-14zm1-19zm0 24zm1 8zm1-24zm2-18zm1 36zm0-4zm1-3zm1-18zm0 45zm1-33zm0 0zm0 22zm1-20zm1-2zm0-4zm0 39zm1-24zm0 20zm0-1zm1-11zm0-34zm1 45zm1-9zm2-8zm0 4zm0 4zm2-2zm1 18zm1-18zm0 16zm0-19zm0 5zm1-35zm1 24zm1 6zm0-18zm1-19zm0 38zm1-2zm1-33zm4 20zm0 8zm0 4zm1-31zm1 31zm0-15zm0-6zm1 10zm1 26zm1-6zm0-29zm0 30zm0-20zm1 15zm0-14zm1 12zm1-6zm0-20zm0 37zm1-7zm0-37zm1 25zm0 2zm0-16zm1 0zm1 24zm0-17zm0-13zm2 28zm0-39zm0-25zm1 76zm0-35zm2-4zm2 23zm1 6zm0-15zm1 16zm1 7zm0-12zm1 13zm0-8zm2-16zm0-27zm0 4zm1 5zm1 36zm1 16zm0-4zm0-14zm1-19zm0 0zm1 0zm0-9zm1-11zm1 18zm0-8zm2 18zm0 15zm0-2zm1-18zm1 2zm3 35zm0-46zm0 17zm0-33zm1-7zm1 42zm0 3zm0 9zm1-15zm0-7zm0 28zm2-22zm0-10zm0 21zm0 2zm2-39zm0-6zm1 1zm0 9zm1 29zm0 9zm0 0zm1-19zm1 24zm0-67zm0 73zm0-21zm1-30zm1 35zm0 11zm1 0zm0-23zm1 14zm0-12zm1 7zm1 29zm0-33zm0 0zm1-24zm1-4zm0 35zm1-2zm0 5zm1-34zm0 16zm1-8zm0 27zm1-28zm0 13zm0 13zm0-38zm1 3zm0 13zm1-51zm1 48zm1 3zm0 0zm1 0zm0-1zm0 33zm0-23zm2-23zm0 20zm0-23zm2 5zm0 16zm0 19zm1-42zm1 8zm0 6zm1 22zm1-11zm0 40zm1-58zm0 9zm1 20zm1 11zm0-26zm2 24zm0-41zm0 0zm1-3zm0 37zm1-3zm0-25zm0 18zm1-18zm0 3zm0 9zm1-40zm1 49zm1-34zm1 73zm0-47zm0 24zm1-33zm1-17zm0 40zm1 14zm0-32zm0 26zm1-14zm2-23zm1 46zm0-58zm1 18zm1 21zm0 33zm3-8zm1-5zm1-59zm2 26zm0 22zm0-7zm1 19zm0-24zm3-3zm0-16zm0 1zm1-54zm0 42zm0 27zm0 17zm1-34zm0 12zm1-1zm2 29zm1-4zm1-45zm0 8zm1-11zm0 51zm1-4zm0-7zm1 4zm0 27zm2-35zm0 3zm0-2zm0 9zm2-28zm3-8zm2 48zm1-37zm1 16zm1-2zm2-30zm0 42zm0 19zm1-32zm1-31zm1-9zm1 9zm0-4zm0 3zm1 0zm0 45zm1-36zm1 21zm0-10zm1 3zm0 20zm1-55zm0 37zm0-25zm1 8zm0 1zm1 44zm0-7zm1-16zm1 4zm0-22zm1 40zm0-28zm0-25zm2 20zm0 25zm1 9zm2-15zm1-43zm0 62zm0-28zm0-28zm2 49zm0-14zm1 18zm0-3zm0-9zm0-38zm0 36zm3 2zm0-4zm1 14zm0-18zm0-4zm1-24zm1 13zm0-19zm1 40zm1-33zm0 27zm0 6zm2-57zm0 25zm1 20zm0 13zm1-23zm0 16zm1-6zm1 18zm2-18zm0-17zm1 2zm0 6zm0 36zm1-34zm0-26zm2-4zm2 46zm2 20zm1-28zm0-4zm1 49zm1-48zm1 9zm2 7zm2-36zm0-15zm0 21zm1 25zm0-14zm3-23zm0 104zm0-110zm2 0zm2 42zm0-38zm1 10zm1 81zm3-47zm0 11zm0-8zm2 44zm0-95zm0 39zm0-95zm1 118zm1-30zm0-32zm1 87zm2-71zm0 49zm0 26zm0-62zm0 17zm1 20zm1-15zm0-1zm0-86zm0 129zm0-28zm1-62zm0 53zm1 3zm1-7zm0 3zm1-69zm0 17zm0 50zm1-13zm0 10zm1-52zm0-3zm1 53zm0-40zm1 23zm0-81zm1 98zm0 9zm0 12zm1-17zm1-40zm1 18zm0 34zm1-24zm5 20zm1-9zm1 3zm2-21zm0 32zm0 10zm1-41zm1-35zm1 22zm3 24zm0-11zm1-15zm0 35zm3-11zm0 5zm1 16zm0-73zm1 43zm0-9zm0 21zm1 9zm1 44zm2-68zm2 66zm1-86zm1 4zm0 29zm1-19zm2 7zm2 22zm0 33zm1-79zm0 57zm1-30zm0-10zm0 16zm1-52zm1 72zm1 5zm1-31zm0 4zm0 12zm1-40zm0-16zm1 60zm0-35zm0-17zm1 25zm1-31zm0 87zm1-54zm1 17zm0-18zm0-35zm1 76zm2-67zm0 90zm2-33zm0-15zm0 39zm1 18zm1-60zm0 39zm0-67zm1 61zm1-18zm0-1zm0-7zm2-22zm0 45zm0-13zm1-62zm3 9zm0-32zm0-7zm3 95zm0 17zm2-39zm2-38zm1-10zm2 90zm4-32zm0 57zm2-34zm2-13zm0-68zm0 70zm0-51zm2 33zm0-48zm2 30zm0 36zm1-22zm0-5zm1-5zm0-29zm2 16zm0 34zm2-78zm1 25zm0 44zm2-40zm1 32zm1-1zm1 47zm1 29zm0-91zm1 76zm1-49zm0-40zm1 15zm0 43zm1-17zm0 6zm0-77zm1 70zm0-62zm1 12zm2 30zm1-10zm0-1zm0 11zm1-68zm1 146zm2-42zm1 1zm2-17zm0-30zm1 43zm1-22zm1-22zm0-1zm0 24zm1-20zm2 4zm0-83zm2 56zm1 59zm0-16zm1-24zm3-2zm0-4zm0 26zm0-21zm1-1zm0 98zm0-183zm1 95zm1 77zm4-46zm0-29zm1 15zm1 36zm0-70zm2 4zm2 35zm0 28zm1-46zm1-5zm1 24zm3-23zm1 1zm0-28zm0 61zm2-54zm2 54zm0 27zm0-78zm1 11zm1-67zm1 38zm2 76zm2-54zm0 67zm0-123zm2 116zm3-15zm0-9zm1 2zm1-83zm0 104zm2 32zm0-10zm1-142zm4 130zm2-35zm0 9zm0-17zm1 35zm1-107zm2 105zm1 8zm1-59zm1 57zm4-45zm2 2zm3 54zm3-59zm1-32zm0 101zm1-94zm0-27zm0 14zm4 97zm1-98zm1 57zm1 79zm3-63zm1-32zm0 27zm1 16zm1-46zm2-39zm2 5zm2-6zm2 57zm1-19zm1 37zm5-153zm3 174zm0-160zm3 71zm1 71zm0-21zm1-97zm1 113zm2-43zm0 1zm1 49zm0-24zm2-54zm1 4zm2 10zm0-16zm2-52zm0 100zm8-37zm0-32zm2 42zm0 70zm6-55zm0 5zm1 46zm0 61zm1-154zm3 88zm1 8zm4 37zm10-51zm1 4zm4-14zm0-74zm1 84zm1-19zm8-13zm0-42zm1 87zm3 15zm0-33zm1 6zm2-53zm0 42zm3-94zm3 91zm2 0zm0-79zm1 68zm0 14zm0 3zm5 40zm2-1zm0-8zm1-37zm0-10zm1 29zm6-42zm4-42zm3 103zm9 25zm4-108zm4 29zm7 34zm2-43zm1 67zm1-18zm5-42zm1 65zm5-10zm2-11zm2 5zm3-28zm4-13zm11 45zm1-35zm4 40zm2-35zm5-33zm3-83zm4 66zm8 27zm1 13zm6-1zm44-11zm4 2zm0-8zm1 43zm8-22zm19 17zm86-73z"/>
<path stroke="#00009f" d="M326 1840zm11 4zm8-7zm6 21zm30-12zm1 0zm10 11zm7-6zm0 10zm11-6zm9-28zm6 42zm8-17zm6 7zm0-11zm9 14zm3-24zm8 9zm6 15zm19 9zm11 10zm4-40zm6 31zm5-11zm3-1zm10-9zm9-12zm8 49zm22-45zm15 15zm1 18zm4-22zm22 30zm13-22zm8 36zm1-33zm2-5zm23 9zm10-22zm10 27zm1-33zm13 43zm8-21zm17 17zm0-38zm8 34zm5-6zm7-7zm6 17zm1-9zm1 13zm4-84zm7 73zm22 29zm15-32zm4 36zm12-51zm6 8zm3 33zm14-64zm9 60zm33 48zm0-63zm4 2zm23-13zm23 4zm12-46zm6 24zm2-159zm5 203zm0 3zm11 11zm9-59zm6 59zm1-50zm2-3zm4 40zm20-17zm32-81zm81 105zm18-4z"/>
<path stroke="#0000af" d="M296 1848zm12-10zm8 2zm0-2zm5 5zm31-7zm2-4zm8 23zm0 3zm26-8zm5 1zm29 10zm12-23zm6 10zm19 4zm6 24zm0-24zm0-11zm5 34zm5 3zm20-21zm5 10zm2-20zm8 8zm13 24zm9-1zm10-23zm6 9zm1 19zm4 1zm2-34zm6 40zm3-53zm4 15zm11 16zm2-25zm11 16zm0 34zm1 4zm5-16zm1-14zm7-32zm1 5zm1 5zm4 43zm23-18zm5 15zm0-29zm1 24zm13-3zm7 3zm12 16zm0-5zm2-43zm1 0zm2 16zm9-6zm1 8zm9 34zm9-32zm21 8zm0-12zm14 35zm0-36zm7-21zm21 17zm10 66zm1-17zm8-28zm2-18zm19 25zm2-39zm0 8zm9 31zm31-33zm7 89zm16-67zm14 9zm8-32zm8 2zm4 84zm8-101zm1-18zm5 98zm5-44zm12-20zm15-16zm32 14zm8 22zm2-46zm2 52zm44 74zm4-82zm42-3zm92 15z"/>
<path stroke="#0000bf" d="M296 1829zm35 11zm29 2zm3 1zm0 14zm23-6zm18-2zm12 20zm11-17zm5 11zm17-20zm8 18zm2 6zm1-8zm4-42zm10 31zm3 19zm2-27zm4 15zm2 28zm11-41zm1 29zm24-12zm13-16zm7 35zm5-13zm1-14zm3 13zm11 15zm10 8zm1-15zm4 0zm10-1zm7-3zm8 15zm1 2zm4-46zm4 25zm10-22zm0 14zm1 28zm2 5zm5-9zm3-1zm0-7zm2-26zm7 34zm4-36zm2 25zm6-25zm9 14zm3 9zm25-48zm10 70zm5 12zm1-44zm4 23zm13-13zm4-9zm6-11zm7-5zm6 26zm1 24zm1-51zm2 56zm4-1zm5-7zm6-6zm5-65zm2 38zm0 1zm9 47zm1-39zm2 5zm8-21zm4-66zm1 127zm4-35zm3 30zm1-33zm11 18zm3-60zm14 63zm11-33zm6-14zm3 29zm8 6zm2-14zm18 48zm8-17zm3-74zm24 87zm4-111zm6 112zm5-93zm26 0zm7 14zm23-5zm39 8zm6 81zm41-47zm77-39zm2 64zm62 22zm62-32z"/>
<path stroke="#0000cf" d="M295 1835zm30-3zm8 20zm21 0zm3-23zm12 31zm48-9zm17-9zm12-4zm1 18zm1 8zm31-3zm17-22zm16 30zm6 8zm2 5zm1-16zm16 21zm11-38zm1 42zm1-20zm2 22zm18-53zm12 23zm2-2zm1 27zm2-30zm8-12zm8 26zm13-1zm14-4zm1 35zm3-31zm4 12zm2 21zm5-18zm4-27zm10 18zm1-15zm14 14zm9-26zm0 25zm22-13zm1 22zm6-18zm5 0zm1 43zm3-65zm2 49zm5-12zm1-39zm1-4zm2 48zm1-21zm13-6zm4-25zm3 43zm1-28zm3 43zm4-53zm3 23zm6 22zm2 1zm8-44zm4-29zm5 14zm12 9zm16 25zm5 1zm1 20zm7 42zm10-52zm3 1zm1 61zm14-59zm13 4zm8-34zm9 61zm1 15zm13-26zm7-67zm2 80zm0-11zm5-40zm3 19zm16-18zm7-32zm0 49zm6 25zm0-18zm5-56zm5 86zm2-14zm11-21zm11-17zm3 20zm17 37zm46-28zm14 7zm0-18zm143-21z"/>
<path stroke="#0000df" d="M355 1857zm20-19zm83 22zm15 2zm30 15zm4 10zm1-22zm6 2zm13-8zm7 4zm10 20zm8-45zm4 23zm3-13zm21 22zm4-10zm6 21zm4-2zm2 10zm4-36zm2-3zm2 23zm2 14zm5-22zm0 22zm1-8zm1-9zm2 14zm1-28zm0 4zm5 14zm6 17zm8-46zm0 15zm15 13zm12 8zm1-40zm5 48zm4-7zm4-23zm3 18zm6-23zm2 24zm2-20zm9 15zm4-3zm0-18zm1 36zm3-30zm3 15zm2-22zm1 2zm0-8zm5 69zm1-37zm4 1zm6-11zm0-2zm2 30zm2-36zm1 38zm17-58zm6 54zm6 7zm1 1zm3-5zm10 34zm3-87zm0 78zm4-69zm6-10zm4 33zm1-14zm3 20zm15 51zm21-64zm6 11zm11-49zm9 87zm3-51zm11-11zm2 47zm5 17zm19-14zm4-57zm6 66zm5-37zm9 2zm2-43zm11 27zm5 95zm45-69z"/>
<path stroke="#0000ef" d="M299 1842zm263 17zm25 22zm1 7zm3-27zm7 8zm6 22zm1-46zm5 57zm1-2zm2-3zm7-56zm10 46zm3-20zm7 27zm7-1zm1-2zm15-55zm4 73zm0-3zm2-49zm5 0zm2 54zm1-25zm0 27zm0-24zm4 7zm3-9zm5-31zm0 54zm11 2zm27-73zm2 49zm4-46zm2 41zm1 17zm1-43zm5 7zm3 39zm8-56zm2 63zm3-1zm4-9zm2-28zm0 22zm2 18zm16-33zm1-7zm2 50zm3-19zm2-57zm7 38zm1 23zm4-35zm1-8zm1-15zm2 85zm1-79zm1 28zm3-71zm5 145zm3-93zm5 10zm1 15zm18 18zm3-6zm0 25zm6-3zm3-7zm6-23zm0 14zm3-17zm12-36zm18-10zm9 2zm14 46zm16-30zm10-8zm1 70zm53-68z"/>
<path stroke="#0000ff" d="M504 1864zm32 23zm2-21zm36 27zm24-2zm1-35zm14 34zm15-12zm7 19zm2-20zm1 2zm2-9zm0-14zm12-13zm1 30zm1 30zm1-64zm16 39zm1-13zm2 15zm0-13zm3 41zm6-20zm4-7zm1-5zm2-31zm2 0zm8 60zm1-24zm2 24zm2-56zm4 39zm16 23zm6-56zm5 16zm7 26zm4-43zm5 54zm2-2zm2-36zm6 62zm1-89zm6 15zm0 58zm2-72zm3 20zm2 3zm2 57zm6 3zm0-54zm1 50zm1-53zm9 52zm7-92zm1 12zm2 78zm7-29zm2-19zm1 20zm4 11zm1-27zm6 3zm0-1zm9 54zm9-32zm15-57zm0 85zm1-2zm2-1zm0-1zm2-74zm2 66zm0-54zm1-2zm2 86zm0-46zm3-32zm4 29zm3-30zm2 2zm8 15zm6-12zm4-9zm14 70zm1-17zm5-41zm13 36zm31-64zm18-5zm2-60zm5 75zm8 31zm2 22zm46-18zm36-61z"/>
<path stroke="#0010ff" d="M543 1832zm20 23zm13 19zm7-22zm16 2zm3 2zm13 38zm5-3zm3-3zm10-27zm0 28zm1-2zm1-40zm3 53zm0-52zm2 46zm15-37zm1 38zm1 9zm5-14zm0-11zm5-26zm3 20zm1 18zm1 7zm5-51zm3 13zm5 46zm3-34zm1-32zm0 2zm0 25zm11 37zm1-32zm1 43zm0-32zm1-15zm0 30zm2-3zm8-19zm2-4zm2-9zm2 17zm1 20zm13-17zm5-9zm9 29zm0-45zm5 45zm0-3zm3-12zm4-35zm6-8zm4 71zm5-63zm1 3zm0-12zm4 54zm1-50zm8 72zm14-47zm1 4zm2 51zm0-40zm11-61zm0 30zm1-51zm0 51zm5 9zm3 26zm9 28zm21-88zm8 26zm13 76zm1-85zm1 63zm2 27zm3-65zm3 57zm11 4zm4-75zm1-36zm3 113zm8-97zm0 34zm1 58zm11-32zm2 20zm5 4zm0-67zm14-33zm4 20zm11 63zm4-89zm1 18zm3 82zm9-29zm8-60zm1 62zm1 6zm11-54zm30 21z"/>
<path stroke="#0020ff" d="M532 1854zm59 19zm9-3zm15 28zm4 2zm23 5zm5 3zm16-9zm10 4zm1 8zm2-8zm0-48zm6 15zm15 43zm1-55zm4 31zm7 20zm1-6zm1-65zm0 31zm9 5zm8 28zm0-49zm0 56zm2-70zm1 73zm3-47zm22 4zm0-10zm0-6zm6 41zm0-30zm1-4zm2-36zm1 24zm2 56zm3 2zm3-36zm9-4zm1 41zm3-7zm0-1zm14 26zm1-30zm2 7zm1 10zm4-54zm2 53zm5 10zm3-56zm1 0zm0 39zm2 20zm4-45zm6-3zm3 33zm3-29zm1-25zm0 54zm3-72zm1 57zm3-48zm1 22zm3 25zm2 41zm8-38zm3-36zm6 31zm1-49zm5 87zm1-54zm0-36zm1 88zm1-15zm2 14zm3-1zm5-7zm1-90zm3 100zm1-33zm3 19zm1-75zm5 50zm4 31zm8-35zm4 41zm1 8zm5-60zm8-16zm5 77zm3-119zm8-37zm5 107zm1 40zm2-98zm3 38zm2-54zm4 49zm2-18zm2 38zm4-35zm6 7zm11-6zm26-47zm14 39zm1-11zm18 0zm54-37z"/>
<path stroke="#0030ff" d="M599 1859zm10-18zm17 40zm3 20zm13-92zm2 49zm8-13zm2 52zm0-8zm3-11zm8 5zm8 3zm3-17zm0-34zm6 44zm0 27zm2-69zm3 77zm10-2zm12-40zm3 31zm12 7zm9-7zm9-17zm3-15zm6 22zm2-50zm4 64zm5-4zm7 12zm4-9zm2-63zm4 11zm3 20zm1 47zm1-86zm1 42zm1 44zm1-70zm2 42zm2-17zm1 33zm0-77zm4 71zm1-30zm4-37zm0 57zm14-53zm0 83zm2-36zm3 37zm3-40zm1 40zm3-10zm1-7zm2-58zm1 32zm8-60zm4 95zm2-33zm5 0zm1-13zm4 52zm4-61zm1 19zm5-5zm2 52zm5 17zm0 4zm1-37zm1 17zm2-3zm1-3zm2 15zm3-41zm1 34zm2-29zm1-38zm1 86zm3-17zm4-65zm1 60zm1-66zm5 69zm0-72zm2 48zm8-48zm1-22zm0-10zm1 109zm0 0zm5 6zm2-14zm9-83zm4 62zm5-98zm6 93zm11-38zm1 14zm4 31zm9-85zm7 6zm5 65zm6-24zm16-27zm18-10zm28 83zm8-40zm20-40zm29 7z"/>
<path stroke="#0040ff" d="M563 1866zm75 5zm26-1zm3-24zm7 25zm3 32zm3-64zm5 18zm8 51zm0-42zm3-12zm8 36zm13-40zm3 58zm2-8zm2-51zm0 63zm11-11zm6-16zm0-51zm2 35zm10 6zm1-13zm17 14zm6 1zm2-37zm2 28zm3 51zm1-30zm6-31zm2 25zm8-32zm4 46zm3-11zm3 43zm2-62zm3 52zm0 1zm1-50zm4-20zm1-7zm8 44zm1 41zm3-94zm0 92zm1 0zm1-6zm0-42zm0 42zm6-48zm1 20zm7-23zm6 24zm1-38zm7 75zm0-4zm4-63zm3 55zm2-2zm0 7zm3 1zm0-90zm5 3zm0 51zm1 7zm4-14zm1 52zm1 5zm2-88zm10-10zm2 31zm4 57zm3-64zm0-13zm6 24zm0 21zm7 42zm4-5zm3-78zm4 86zm0-41zm2 36zm1-81zm2 45zm3-51zm1 87zm0-6zm4 18zm2-29zm2-7zm4 10zm1-80zm0 55zm1-19zm5 41zm4-43zm2-24zm1 79zm1-63zm2 17zm4-78zm1 82zm26-42zm4 43zm0-82zm4 58zm9-39zm1 82zm5-7zm0-40zm1 27zm2 14zm7-7zm1 25zm4-34zm4 2zm2 9zm2-31zm4-10zm9-43zm11 132zm5-20zm22-72zm9-8zm14-41z"/>
<path stroke="#0050ff" d="M659 1897zm2-30zm28 48zm0-56zm9 44zm33 16zm7-67zm10 18zm4 47zm1-14zm4-36zm17-8zm10-18zm1 94zm7-64zm3 58zm4-55zm4 36zm13-21zm5 24zm1 14zm1-76zm3 17zm12 53zm5-39zm1-6zm0 45zm2-87zm1 97zm2-49zm2 46zm7-16zm5 23zm5-83zm1 84zm8-94zm1-18zm8 111zm4-117zm2 32zm5 16zm2-17zm0 78zm3 3zm3-43zm2-5zm1-1zm8-54zm1-33zm0 137zm2-57zm3 61zm1-88zm0 0zm3 92zm0-74zm6-38zm2 43zm0 73zm4-19zm2-45zm1 0zm3-8zm0-4zm1 39zm0-41zm1-43zm6 25zm11 39zm11-27zm1-30zm0 126zm3-9zm0-122zm5 87zm7-17zm9-18zm1 3zm8-38zm1 82zm6-120zm3-3zm7-1zm6 80zm0-46zm0 84zm11-76zm4 15zm6 37zm3 19zm1-128zm9 101zm2-20zm3-13zm0-88zm5 129zm23-33zm9-56zm16 2zm42 110z"/>
<path stroke="#0060ff" d="M302 1844zm4 5zm275 47zm47-43zm9-13zm12 53zm14-32zm38 42zm4 8zm35-3zm8-25zm2-41zm0 14zm13 30zm1 6zm22-29zm4-30zm6 17zm4-18zm3 66zm1 5zm1-7zm4-4zm31-12zm12-5zm4 22zm1-78zm6 93zm2-87zm5 12zm1 66zm5 31zm2-74zm1 60zm1-41zm0 16zm3-62zm7 104zm1-82zm1 56zm1-47zm1 81zm3-38zm2 22zm4-33zm3 38zm2-50zm1 8zm5 41zm2-111zm2 14zm2 20zm1 37zm3-29zm3-16zm3 92zm2 49zm13-98zm1-19zm3 41zm0-38zm6-12zm19-14zm2-67zm0 51zm1 83zm0-79zm4 62zm1-44zm3-47zm5 61zm4 2zm5-34zm1 91zm1-110zm5 17zm1 14zm6 37zm12-68zm19 29zm5 35zm6-12zm0-21zm1 49zm0-39zm10-45zm8 20zm10-18zm13-34zm0 14zm1 78zm3-47zm6 15zm1-94zm31 156zm48-47z"/>
<path stroke="#0070ff" d="M600 1866zm134-23zm22 45zm15-23zm4-33zm4 60zm11-32zm1 46zm27 3zm1-47zm11 24zm10 27zm1-60zm7 42zm3-73zm10 25zm5 89zm1-17zm1-44zm0-11zm2 31zm8 24zm3-1zm8-69zm0-9zm6 69zm2-31zm4 50zm3-43zm7 49zm3-105zm21 91zm4 23zm0-81zm6-14zm5 49zm3-14zm6-83zm1 48zm2 6zm6-8zm2 103zm4-94zm12 59zm0-73zm6 17zm1 44zm8-4zm2-37zm8 3zm4 70zm1-107zm14-21zm2 45zm1-4zm14-9zm7 12zm3-41zm4 31zm13 36zm5-17zm7-8zm32 47zm5-35zm53 34z"/>
<path stroke="#0080ff" d="M303 1849zm1-4zm300 50zm125-16zm17-27zm29 10zm3 48zm48-72zm8 63zm30 18zm9-56zm14-16zm5 17zm9-31zm0 46zm18 33zm1-75zm6 12zm8-20zm7 18zm9-18zm3-45zm1 148zm10-71zm3 20zm8 20zm3 9zm1-62zm0 38zm17 27zm5-67zm13 18zm0-27zm8 3zm18 68zm14 9zm3-13zm3-79zm1 68zm0-84zm3 81zm3-73zm9-42zm2 79zm0-38zm31 44zm15-54zm0-47zm33 37zm33 140z"/>
<path stroke="#008fff" d="M305 1841zm457-6zm22 39zm61-10zm13 43zm1-76zm19 106zm4-1zm10-42zm9 34zm0-9zm14-48zm4 36zm4 5zm13-59zm3-30zm1 17zm4 78zm4-23zm8 10zm2-91zm1 23zm18 83zm1-96zm1 110zm2-168zm13 79zm11 4zm7-22zm10-12zm18 17zm3 111zm11-8zm11-88zm8-10zm2 20zm8-21zm16-56zm1 63zm0 25zm6-41zm1 8zm0-48zm15 90zm3-44zm0 38zm1-2zm5-20zm13-28zm31-21zm2 44z"/>
<path stroke="#009fff" d="M307 1848zm498 47zm60 29zm47-60zm8-71zm2 57zm19 42zm4-109zm11 101zm2 2zm6-76zm6 111zm3 5zm0-11zm5-81zm1 20zm4 84zm6-57zm5-23zm2-28zm0 85zm0-81zm2 24zm2-46zm16 64zm4-53zm15 51zm4-35zm5 22zm4 15zm1 16zm3-47zm4 26zm3-33zm5-14zm2-19zm5 9zm15 5zm2 87zm0-53zm3-58zm1 7zm8 53zm3 80zm0-82zm0-39zm4 64zm2 25zm12-66zm2 91zm0-71zm4-25zm7 18zm1-43zm3 37zm0 10zm4 20zm33-44zm11-16zm9 37zm3-9z"/>
<path stroke="#00afff" d="M855 1881zm50-57zm5 80zm0-6zm12-39zm19 60zm10-39zm3-28zm11-39zm0 75zm10-34zm9 40zm4-9zm1 11zm9-18zm10-3zm2 3zm8-51zm4-9zm13 14zm6 40zm1 7zm4 14zm8 4zm2-77zm12 6zm0 47zm1-47zm2 31zm13 11zm0-53zm1 90zm6-15zm5-35zm1-16zm1-16zm3 20zm1 28zm5-57zm12 98zm21-61zm4 14zm8-10zm61-8zm35-10z"/>
<path stroke="#00bfff" d="M304 1847zm0-2zm1 3zm545 45zm42-20zm31-6zm7 78zm11 5zm2-35zm3-80zm16 57zm24 21zm4-48zm6-49zm0 81zm9-71zm0-16zm2-31zm1 63zm7 63zm2-97zm5 26zm0-31zm5 15zm5 67zm3-69zm2 16zm7 62zm4-24zm6-47zm1-27zm12 55zm1-8zm12 18zm0 18zm19-122zm4 113zm5-22zm2 32zm1 10zm4-72zm7 30zm9 34zm6-4zm1-23zm2 2zm9-19zm5-54zm1 97zm4-22zm1 34zm7-3zm15-86zm74 87zm2-83z"/>
<path stroke="#00cfff" d="M307 1846zm653 87zm6-157zm10 78zm4 14zm34 2zm0 13zm0-33zm2 7zm5-33zm3 35zm36 19zm0 14zm1-69zm23-5zm2 30zm2 44zm1-48zm4 53zm3-7zm1-69zm1 78zm4-95zm24 44zm18-22zm13 68zm0-46zm30-3zm9 45zm3 53zm0-76zm6 1zm1-80zm17 27zm33 3zm21-16z"/>
<path stroke="#00dfff" d="M939 1920zm27-67zm5 70zm22-26zm3-58zm3 12zm25-41zm1-12zm5 0zm10 129zm2-26zm10-55zm4-3zm5-29zm0 21zm0-59zm13 66zm7 97zm13-140zm26 3zm4 80zm1-2zm7 19zm6-70zm13 16zm8-30zm10-5zm13 4zm24 53z"/>
<path stroke="#00efff" d="M308 1846zm537 24zm82-41zm10 100zm51-91zm8 91zm44-95zm14 15zm10-40zm30-26zm3 70zm1 10zm1-16zm3-29zm31 25zm2-9zm3 74zm11-76zm40-19zm1 29zm40-67zm6 59zm0 17zm24-15zm13-15zm90-39z"/>
<path stroke="#00ffff" d="M309 1847zm726-126zm45 159zm10-25zm9-1zm6-42zm3 47zm2-9zm12 54zm11-39zm16-24zm4 56zm22-103zm2-4zm9-14zm14 127zm2 7zm21-66zm6-14zm5-27zm10 69zm70-64z"/>
<path stroke="#10ffef" d="M310 1848zm709 59zm20-77zm45 29zm11-2zm35 78zm7-18zm1-68zm2 41zm4 13zm11-78zm2 43zm0-45zm19 19zm2-15zm16 72zm2-29zm2 46zm2-55zm34 19zm4 21zm8-46zm4 32zm2-10z"/>
<path stroke="#20ffdf" d="M308 1846zm1 1zm758-24zm51 39zm46-15zm14-2zm20-16zm38 68zm10-53zm2 53zm34-84z"/>
<path stroke="#30ffcf" d="M1001 1823zm92-4zm28 10zm30 29zm10-79zm0 84zm3-65zm9-12zm14 147zm4-92zm1 102zm2-37zm10-76zm9-55zm4 158zm5-142zm20 68zm3 3zm2-50zm27 63zm18 29zm1-1zm5-79zm5 12zm45 11z"/>
<path stroke="#40ffbf" d="M310 1849zm711-53zm96 103zm32-78zm2-34zm8 119zm2-78zm4 70zm9-108zm2-10zm7 14zm2 16zm9 105zm46-57zm41-111zm33 51z"/>
<path stroke="#50ffaf" d="M310 1847zm3-5zm784-20zm21 2zm28 6zm16-34zm2 28zm21 27zm24 30zm5 39zm1-75zm28-27zm4 96zm3-84zm1-14zm6 32zm6-68zm4 77zm5-55zm0-4zm18-29zm78 61z"/>
<path stroke="#60ff9f" d="M310 1842zm3 4zm0-5zm821-38zm8 96zm36-65zm25 72zm3 29zm11-95zm47 46zm0-79zm7 118zm10-127zm12 23zm2-11zm1 51zm17 3zm13-22zm27-23zm18 70z"/>
<path stroke="#70ff8f" d="M1212 1886zm8-60zm23 55zm9 6zm23-57zm8 40zm11 19zm22-84zm90 71z"/>
<path stroke="#80ff80" d="M1187 1872zm14-93zm17 17zm28 110zm12-64zm31 31zm18 24z"/>
<path stroke="#8fff70" d="M314 1842zm0 2zm0 2zm869-51zm124-5zm19 15zm84 48zm23-14zm4-8zm85-6z"/>
<path stroke="#9fff60" d="M1196 1792zm63 135zm6-23zm51-69zm20-66z"/>
<path stroke="#afff50" d="M1172 1888zm9-4zm51-105zm20-25zm173 83z"/>
<path stroke="#bfff40" d="M313 1846zm908 44zm72-106zm28 26zm54-20zm65 140z"/>
<path stroke="#cfff30" d="M1340 1772zm103 62z"/>
<path stroke="#dfff20" d="M317 1843zm962-34zm17-8zm3 127zm75-66zm26-64zm22 56z"/>
<path stroke="#efff10" d="M1340 1784z"/>
<path stroke="#ffff00" d="M316 1846zm1-1zm1005-17zm43 27zm8 74zm40-70zm6-26zm31 39z"/>
<path stroke="#ffef00" d="M317 1847zm2 0zm1019 20zm11 104zm35-131zm41-45z"/>
<path stroke="#ffdf00" d="M320 1842zm1024-49zm62 71z"/>
<path stroke="#ffcf00" d="M318 1847zm1 1zm853-103zm249 156z"/>
<path stroke="#ffbf00" d="M320 1844zm0-4zm1 6zm1 0zm1059 23zm161-54z"/>
<path stroke="#ff9f00" d="M322 1847z"/>
<path stroke="#ff8f00" d="M319 1844zm1071-8zm83-39z"/>
<path stroke="#ff8000" d="M1428 1798zm104 42z"/>
<path stroke="#ff7000" d="M1492 1825z"/>
<path stroke="#ff6000" d="M1435 1789zm123 41z"/>
<path stroke="#ff5000" d="M1526 1835z"/>
<path stroke="#ff3000" d="M1559 1774z"/>
<path stroke="#ff2000" d="M1503 1817zm88-19z"/>
<path stroke="#ef0000" d="M1599 1802z"/>
</g>
<path d="M294.5 1807.7H1724.6" stroke="#f00" stroke-width="9.5" stroke-dasharray="31.5 31" fill="none"/>
<path d="M294.5 1917H1724.6" stroke="#f00" stroke-width="9.5" stroke-dasharray="31.5 31" fill="none"/>
<path d="M389.8 1484.5v-15.5M389.8 67.5v15.5M485.2 1484.5v-15.5M485.2 67.5v15.5M580.5 1484.5v-15.5M580.5 67.5v15.5M675.9 1484.5v-15.5M675.9 67.5v15.5M771.2 1484.5v-15.5M771.2 67.5v15.5M866.5 1484.5v-15.5M866.5 67.5v15.5M961.9 1484.5v-15.5M961.9 67.5v15.5M1057.2 1484.5v-15.5M1057.2 67.5v15.5M1152.6 1484.5v-15.5M1152.6 67.5v15.5M1247.9 1484.5v-15.5M1247.9 67.5v15.5M1343.2 1484.5v-15.5M1343.2 67.5v15.5M1438.6 1484.5v-15.5M1438.6 67.5v15.5M1533.9 1484.5v-15.5M1533.9 67.5v15.5M1629.3 1484.5v-15.5M1629.3 67.5v15.5M294.5 1390h15.5M1724.6 1390h-15.5M294.5 1295.6h15.5M1724.6 1295.6h-15.5M294.5 1201.1h15.5M1724.6 1201.1h-15.5M294.5 1106.6h15.5M1724.6 1106.6h-15.5M294.5 1012.2h15.5M1724.6 1012.2h-15.5M294.5 917.7h15.5M1724.6 917.7h-15.5M294.5 823.2h15.5M1724.6 823.2h-15.5M294.5 728.8h15.5M1724.6 728.8h-15.5M294.5 634.3h15.5M1724.6 634.3h-15.5M294.5 539.8h15.5M1724.6 539.8h-15.5M294.5 445.4h15.5M1724.6 445.4h-15.5M294.5 350.9h15.5M1724.6 350.9h-15.5M294.5 256.4h15.5M1724.6 256.4h-15.5M294.5 162h15.5M1724.6 162h-15.5" stroke="#262626" stroke-width="2.4" fill="none"/>
<path d="M389.8 2146.2v-15.5M389.8 1578.5v15.5M485.2 2146.2v-15.5M485.2 1578.5v15.5M580.5 2146.2v-15.5M580.5 1578.5v15.5M675.9 2146.2v-15.5M675.9 1578.5v15.5M771.2 2146.2v-15.5M771.2 1578.5v15.5M866.5 2146.2v-15.5M866.5 1578.5v15.5M961.9 2146.2v-15.5M961.9 1578.5v15.5M1057.2 2146.2v-15.5M1057.2 1578.5v15.5M1152.6 2146.2v-15.5M1152.6 1578.5v15.5M1247.9 2146.2v-15.5M1247.9 1578.5v15.5M1343.2 2146.2v-15.5M1343.2 1578.5v15.5M1438.6 2146.2v-15.5M1438.6 1578.5v15.5M1533.9 2146.2v-15.5M1533.9 1578.5v15.5M1629.3 2146.2v-15.5M1629.3 1578.5v15.5M294.5 2114.7h15.5M1724.6 2114.7h-15.5M294.5 2051.6h15.5M1724.6 2051.6h-15.5M294.5 1988.5h15.5M1724.6 1988.5h-15.5M294.5 1925.4h15.5M1724.6 1925.4h-15.5M294.5 1862.3h15.5M1724.6 1862.3h-15.5M294.5 1799.3h15.5M1724.6 1799.3h-15.5M294.5 1736.2h15.5M1724.6 1736.2h-15.5M294.5 1673.1h15.5M1724.6 1673.1h-15.5M294.5 1610h15.5M1724.6 1610h-15.5" stroke="#262626" stroke-width="2.4" fill="none"/>
<rect x="294.5" y="67.5" width="1430.1" height="1417" fill="none" stroke="#262626" stroke-width="3"/>
<rect x="294.5" y="1578.5" width="1430.1" height="567.7" fill="none" stroke="#262626" stroke-width="3"/>
<g font-size="56" text-anchor="end">
<text x="275.3" y="1505.7">0</text>
<text x="275.3" y="1316.8">100</text>
<text x="275.3" y="1127.8">200</text>
<text x="275.3" y="938.9">300</text>
<text x="275.3" y="750">400</text>
<text x="275.3" y="561">500</text>
<text x="275.3" y="372.1">600</text>
<text x="275.3" y="183.2">700</text>
<text x="275.3" y="2135.9">-200</text>
<text x="275.3" y="2009.7">-100</text>
<text x="275.3" y="1883.5">0</text>
<text x="275.3" y="1757.4">100</text>
<text x="275.3" y="1631.2">200</text>
</g>
<g font-size="56" text-anchor="middle">
<text x="294.5" y="2220">0</text>
<text x="485.2" y="2220">100</text>
<text x="675.9" y="2220">200</text>
<text x="866.5" y="2220">300</text>
<text x="1057.2" y="2220">400</text>
<text x="1247.9" y="2220">500</text>
<text x="1438.6" y="2220">600</text>
<text x="1629.3" y="2220">700</text>
</g>
<g transform="translate(135.9 1257.5) rotate(-90) scale(1 1.035)" font-size="82.3"><text letter-spacing="0.63">Pyranometer DHI (W/m</text><text x="867.4" y="-38.6" font-size="70">2</text><text x="911">)</text></g>
<g transform="translate(131.1 2191.8) rotate(-90) scale(1 1.035)" font-size="82.3"><text letter-spacing="0.6">Residuals (W/m</text><text x="587.8" y="-38.6" font-size="70">2</text><text x="632">)</text></g>
<g transform="translate(663.5 2344.8) scale(1 1.035)" font-size="82.3"><text letter-spacing="0.68">SONA DHI (W/m</text><text x="624.5" y="-38.6" font-size="70">2</text><text x="668">)</text></g>
<rect x="1777" y="1462.4" width="54.3" height="23.1" fill="#00008f" shape-rendering="crispEdges"/>
<rect x="1777" y="1440.2" width="54.3" height="23.1" fill="#00009f" shape-rendering="crispEdges"/>
<rect x="1777" y="1418.1" width="54.3" height="23.1" fill="#0000af" shape-rendering="crispEdges"/>
<rect x="1777" y="1395.9" width="54.3" height="23.1" fill="#0000bf" shape-rendering="crispEdges"/>
<rect x="1777" y="1373.8" width="54.3" height="23.1" fill="#0000cf" shape-rendering="crispEdges"/>
<rect x="1777" y="1351.7" width="54.3" height="23.1" fill="#0000df" shape-rendering="crispEdges"/>
<rect x="1777" y="1329.5" width="54.3" height="23.1" fill="#0000ef" shape-rendering="crispEdges"/>
<rect x="1777" y="1307.4" width="54.3" height="23.1" fill="#0000ff" shape-rendering="crispEdges"/>
<rect x="1777" y="1285.2" width="54.3" height="23.1" fill="#0010ff" shape-rendering="crispEdges"/>
<rect x="1777" y="1263.1" width="54.3" height="23.1" fill="#0020ff" shape-rendering="crispEdges"/>
<rect x="1777" y="1241" width="54.3" height="23.1" fill="#0030ff" shape-rendering="crispEdges"/>
<rect x="1777" y="1218.8" width="54.3" height="23.1" fill="#0040ff" shape-rendering="crispEdges"/>
<rect x="1777" y="1196.7" width="54.3" height="23.1" fill="#0050ff" shape-rendering="crispEdges"/>
<rect x="1777" y="1174.5" width="54.3" height="23.1" fill="#0060ff" shape-rendering="crispEdges"/>
<rect x="1777" y="1152.4" width="54.3" height="23.1" fill="#0070ff" shape-rendering="crispEdges"/>
<rect x="1777" y="1130.2" width="54.3" height="23.1" fill="#0080ff" shape-rendering="crispEdges"/>
<rect x="1777" y="1108.1" width="54.3" height="23.1" fill="#008fff" shape-rendering="crispEdges"/>
<rect x="1777" y="1086" width="54.3" height="23.1" fill="#009fff" shape-rendering="crispEdges"/>
<rect x="1777" y="1063.8" width="54.3" height="23.1" fill="#00afff" shape-rendering="crispEdges"/>
<rect x="1777" y="1041.7" width="54.3" height="23.1" fill="#00bfff" shape-rendering="crispEdges"/>
<rect x="1777" y="1019.5" width="54.3" height="23.1" fill="#00cfff" shape-rendering="crispEdges"/>
<rect x="1777" y="997.4" width="54.3" height="23.1" fill="#00dfff" shape-rendering="crispEdges"/>
<rect x="1777" y="975.3" width="54.3" height="23.1" fill="#00efff" shape-rendering="crispEdges"/>
<rect x="1777" y="953.1" width="54.3" height="23.1" fill="#00ffff" shape-rendering="crispEdges"/>
<rect x="1777" y="931" width="54.3" height="23.1" fill="#10ffef" shape-rendering="crispEdges"/>
<rect x="1777" y="908.8" width="54.3" height="23.1" fill="#20ffdf" shape-rendering="crispEdges"/>
<rect x="1777" y="886.7" width="54.3" height="23.1" fill="#30ffcf" shape-rendering="crispEdges"/>
<rect x="1777" y="864.6" width="54.3" height="23.1" fill="#40ffbf" shape-rendering="crispEdges"/>
<rect x="1777" y="842.4" width="54.3" height="23.1" fill="#50ffaf" shape-rendering="crispEdges"/>
<rect x="1777" y="820.3" width="54.3" height="23.1" fill="#60ff9f" shape-rendering="crispEdges"/>
<rect x="1777" y="798.1" width="54.3" height="23.1" fill="#70ff8f" shape-rendering="crispEdges"/>
<rect x="1777" y="776" width="54.3" height="23.1" fill="#80ff80" shape-rendering="crispEdges"/>
<rect x="1777" y="753.9" width="54.3" height="23.1" fill="#8fff70" shape-rendering="crispEdges"/>
<rect x="1777" y="731.7" width="54.3" height="23.1" fill="#9fff60" shape-rendering="crispEdges"/>
<rect x="1777" y="709.6" width="54.3" height="23.1" fill="#afff50" shape-rendering="crispEdges"/>
<rect x="1777" y="687.4" width="54.3" height="23.1" fill="#bfff40" shape-rendering="crispEdges"/>
<rect x="1777" y="665.3" width="54.3" height="23.1" fill="#cfff30" shape-rendering="crispEdges"/>
<rect x="1777" y="643.2" width="54.3" height="23.1" fill="#dfff20" shape-rendering="crispEdges"/>
<rect x="1777" y="621" width="54.3" height="23.1" fill="#efff10" shape-rendering="crispEdges"/>
<rect x="1777" y="598.9" width="54.3" height="23.1" fill="#ffff00" shape-rendering="crispEdges"/>
<rect x="1777" y="576.7" width="54.3" height="23.1" fill="#ffef00" shape-rendering="crispEdges"/>
<rect x="1777" y="554.6" width="54.3" height="23.1" fill="#ffdf00" shape-rendering="crispEdges"/>
<rect x="1777" y="532.5" width="54.3" height="23.1" fill="#ffcf00" shape-rendering="crispEdges"/>
<rect x="1777" y="510.3" width="54.3" height="23.1" fill="#ffbf00" shape-rendering="crispEdges"/>
<rect x="1777" y="488.2" width="54.3" height="23.1" fill="#ffaf00" shape-rendering="crispEdges"/>
<rect x="1777" y="466" width="54.3" height="23.1" fill="#ff9f00" shape-rendering="crispEdges"/>
<rect x="1777" y="443.9" width="54.3" height="23.1" fill="#ff8f00" shape-rendering="crispEdges"/>
<rect x="1777" y="421.8" width="54.3" height="23.1" fill="#ff8000" shape-rendering="crispEdges"/>
<rect x="1777" y="399.6" width="54.3" height="23.1" fill="#ff7000" shape-rendering="crispEdges"/>
<rect x="1777" y="377.5" width="54.3" height="23.1" fill="#ff6000" shape-rendering="crispEdges"/>
<rect x="1777" y="355.3" width="54.3" height="23.1" fill="#ff5000" shape-rendering="crispEdges"/>
<rect x="1777" y="333.2" width="54.3" height="23.1" fill="#ff4000" shape-rendering="crispEdges"/>
<rect x="1777" y="311" width="54.3" height="23.1" fill="#ff3000" shape-rendering="crispEdges"/>
<rect x="1777" y="288.9" width="54.3" height="23.1" fill="#ff2000" shape-rendering="crispEdges"/>
<rect x="1777" y="266.8" width="54.3" height="23.1" fill="#ff1000" shape-rendering="crispEdges"/>
<rect x="1777" y="244.6" width="54.3" height="23.1" fill="#ff0000" shape-rendering="crispEdges"/>
<rect x="1777" y="222.5" width="54.3" height="23.1" fill="#ef0000" shape-rendering="crispEdges"/>
<rect x="1777" y="200.3" width="54.3" height="23.1" fill="#df0000" shape-rendering="crispEdges"/>
<rect x="1777" y="178.2" width="54.3" height="23.1" fill="#cf0000" shape-rendering="crispEdges"/>
<rect x="1777" y="156.1" width="54.3" height="23.1" fill="#bf0000" shape-rendering="crispEdges"/>
<rect x="1777" y="133.9" width="54.3" height="23.1" fill="#af0000" shape-rendering="crispEdges"/>
<rect x="1777" y="111.8" width="54.3" height="23.1" fill="#9f0000" shape-rendering="crispEdges"/>
<rect x="1777" y="89.6" width="54.3" height="23.1" fill="#8f0000" shape-rendering="crispEdges"/>
<rect x="1777" y="67.5" width="54.3" height="23.1" fill="#800000" shape-rendering="crispEdges"/>
<rect x="1777" y="67.5" width="54.3" height="1417" fill="none" stroke="#262626" stroke-width="3"/>
<text x="1849.5" y="1503.3" font-size="50.3">0</text>
<text x="1849.5" y="1361.6" font-size="50.3">1</text>
<text x="1849.5" y="1219.9" font-size="50.3">2</text>
<text x="1849.5" y="1078.2" font-size="50.3">3</text>
<text x="1849.5" y="936.5" font-size="50.3">4</text>
<text x="1849.5" y="794.8" font-size="50.3">5</text>
<text x="1849.5" y="653.1" font-size="50.3">6</text>
<text x="1849.5" y="511.4" font-size="50.3">7</text>
<text x="1849.5" y="369.7" font-size="50.3">8</text>
<text x="1849.5" y="228" font-size="50.3">9</text>
<text x="1849.5" y="86.3" font-size="50.3">10</text>
<path d="M1831.3 1342.8h-15.5M1831.3 1201.1h-15.5M1831.3 1059.4h-15.5M1831.3 917.7h-15.5M1831.3 776h-15.5M1831.3 634.3h-15.5M1831.3 492.6h-15.5M1831.3 350.9h-15.5M1831.3 209.2h-15.5" stroke="#262626" stroke-width="3" fill="none"/>
<rect x="1777" y="2137.3" width="54.3" height="9.9" fill="#00008f" shape-rendering="crispEdges"/>
<rect x="1777" y="2128.5" width="54.3" height="9.9" fill="#00009f" shape-rendering="crispEdges"/>
<rect x="1777" y="2119.6" width="54.3" height="9.9" fill="#0000af" shape-rendering="crispEdges"/>
<rect x="1777" y="2110.7" width="54.3" height="9.9" fill="#0000bf" shape-rendering="crispEdges"/>
<rect x="1777" y="2101.8" width="54.3" height="9.9" fill="#0000cf" shape-rendering="crispEdges"/>
<rect x="1777" y="2093" width="54.3" height="9.9" fill="#0000df" shape-rendering="crispEdges"/>
<rect x="1777" y="2084.1" width="54.3" height="9.9" fill="#0000ef" shape-rendering="crispEdges"/>
<rect x="1777" y="2075.2" width="54.3" height="9.9" fill="#0000ff" shape-rendering="crispEdges"/>
<rect x="1777" y="2066.4" width="54.3" height="9.9" fill="#0010ff" shape-rendering="crispEdges"/>
<rect x="1777" y="2057.5" width="54.3" height="9.9" fill="#0020ff" shape-rendering="crispEdges"/>
<rect x="1777" y="2048.6" width="54.3" height="9.9" fill="#0030ff" shape-rendering="crispEdges"/>
<rect x="1777" y="2039.8" width="54.3" height="9.9" fill="#0040ff" shape-rendering="crispEdges"/>
<rect x="1777" y="2030.9" width="54.3" height="9.9" fill="#0050ff" shape-rendering="crispEdges"/>
<rect x="1777" y="2022" width="54.3" height="9.9" fill="#0060ff" shape-rendering="crispEdges"/>
<rect x="1777" y="2013.1" width="54.3" height="9.9" fill="#0070ff" shape-rendering="crispEdges"/>
<rect x="1777" y="2004.3" width="54.3" height="9.9" fill="#0080ff" shape-rendering="crispEdges"/>
<rect x="1777" y="1995.4" width="54.3" height="9.9" fill="#008fff" shape-rendering="crispEdges"/>
<rect x="1777" y="1986.5" width="54.3" height="9.9" fill="#009fff" shape-rendering="crispEdges"/>
<rect x="1777" y="1977.7" width="54.3" height="9.9" fill="#00afff" shape-rendering="crispEdges"/>
<rect x="1777" y="1968.8" width="54.3" height="9.9" fill="#00bfff" shape-rendering="crispEdges"/>
<rect x="1777" y="1959.9" width="54.3" height="9.9" fill="#00cfff" shape-rendering="crispEdges"/>
<rect x="1777" y="1951.1" width="54.3" height="9.9" fill="#00dfff" shape-rendering="crispEdges"/>
<rect x="1777" y="1942.2" width="54.3" height="9.9" fill="#00efff" shape-rendering="crispEdges"/>
<rect x="1777" y="1933.3" width="54.3" height="9.9" fill="#00ffff" shape-rendering="crispEdges"/>
<rect x="1777" y="1924.4" width="54.3" height="9.9" fill="#10ffef" shape-rendering="crispEdges"/>
<rect x="1777" y="1915.6" width="54.3" height="9.9" fill="#20ffdf" shape-rendering="crispEdges"/>
<rect x="1777" y="1906.7" width="54.3" height="9.9" fill="#30ffcf" shape-rendering="crispEdges"/>
<rect x="1777" y="1897.8" width="54.3" height="9.9" fill="#40ffbf" shape-rendering="crispEdges"/>
<rect x="1777" y="1889" width="54.3" height="9.9" fill="#50ffaf" shape-rendering="crispEdges"/>
<rect x="1777" y="1880.1" width="54.3" height="9.9" fill="#60ff9f" shape-rendering="crispEdges"/>
<rect x="1777" y="1871.2" width="54.3" height="9.9" fill="#70ff8f" shape-rendering="crispEdges"/>
<rect x="1777" y="1862.3" width="54.3" height="9.9" fill="#80ff80" shape-rendering="crispEdges"/>
<rect x="1777" y="1853.5" width="54.3" height="9.9" fill="#8fff70" shape-rendering="crispEdges"/>
<rect x="1777" y="1844.6" width="54.3" height="9.9" fill="#9fff60" shape-rendering="crispEdges"/>
<rect x="1777" y="1835.7" width="54.3" height="9.9" fill="#afff50" shape-rendering="crispEdges"/>
<rect x="1777" y="1826.9" width="54.3" height="9.9" fill="#bfff40" shape-rendering="crispEdges"/>
<rect x="1777" y="1818" width="54.3" height="9.9" fill="#cfff30" shape-rendering="crispEdges"/>
<rect x="1777" y="1809.1" width="54.3" height="9.9" fill="#dfff20" shape-rendering="crispEdges"/>
<rect x="1777" y="1800.3" width="54.3" height="9.9" fill="#efff10" shape-rendering="crispEdges"/>
<rect x="1777" y="1791.4" width="54.3" height="9.9" fill="#ffff00" shape-rendering="crispEdges"/>
<rect x="1777" y="1782.5" width="54.3" height="9.9" fill="#ffef00" shape-rendering="crispEdges"/>
<rect x="1777" y="1773.6" width="54.3" height="9.9" fill="#ffdf00" shape-rendering="crispEdges"/>
<rect x="1777" y="1764.8" width="54.3" height="9.9" fill="#ffcf00" shape-rendering="crispEdges"/>
<rect x="1777" y="1755.9" width="54.3" height="9.9" fill="#ffbf00" shape-rendering="crispEdges"/>
<rect x="1777" y="1747" width="54.3" height="9.9" fill="#ffaf00" shape-rendering="crispEdges"/>
<rect x="1777" y="1738.2" width="54.3" height="9.9" fill="#ff9f00" shape-rendering="crispEdges"/>
<rect x="1777" y="1729.3" width="54.3" height="9.9" fill="#ff8f00" shape-rendering="crispEdges"/>
<rect x="1777" y="1720.4" width="54.3" height="9.9" fill="#ff8000" shape-rendering="crispEdges"/>
<rect x="1777" y="1711.6" width="54.3" height="9.9" fill="#ff7000" shape-rendering="crispEdges"/>
<rect x="1777" y="1702.7" width="54.3" height="9.9" fill="#ff6000" shape-rendering="crispEdges"/>
<rect x="1777" y="1693.8" width="54.3" height="9.9" fill="#ff5000" shape-rendering="crispEdges"/>
<rect x="1777" y="1684.9" width="54.3" height="9.9" fill="#ff4000" shape-rendering="crispEdges"/>
<rect x="1777" y="1676.1" width="54.3" height="9.9" fill="#ff3000" shape-rendering="crispEdges"/>
<rect x="1777" y="1667.2" width="54.3" height="9.9" fill="#ff2000" shape-rendering="crispEdges"/>
<rect x="1777" y="1658.3" width="54.3" height="9.9" fill="#ff1000" shape-rendering="crispEdges"/>
<rect x="1777" y="1649.5" width="54.3" height="9.9" fill="#ff0000" shape-rendering="crispEdges"/>
<rect x="1777" y="1640.6" width="54.3" height="9.9" fill="#ef0000" shape-rendering="crispEdges"/>
<rect x="1777" y="1631.7" width="54.3" height="9.9" fill="#df0000" shape-rendering="crispEdges"/>
<rect x="1777" y="1622.9" width="54.3" height="9.9" fill="#cf0000" shape-rendering="crispEdges"/>
<rect x="1777" y="1614" width="54.3" height="9.9" fill="#bf0000" shape-rendering="crispEdges"/>
<rect x="1777" y="1605.1" width="54.3" height="9.9" fill="#af0000" shape-rendering="crispEdges"/>
<rect x="1777" y="1596.2" width="54.3" height="9.9" fill="#9f0000" shape-rendering="crispEdges"/>
<rect x="1777" y="1587.4" width="54.3" height="9.9" fill="#8f0000" shape-rendering="crispEdges"/>
<rect x="1777" y="1578.5" width="54.3" height="9.9" fill="#800000" shape-rendering="crispEdges"/>
<rect x="1777" y="1578.5" width="54.3" height="567.7" fill="none" stroke="#262626" stroke-width="3"/>
<text x="1849.5" y="2165" font-size="50.3">0</text>
<text x="1849.5" y="1881.1" font-size="50.3">5</text>
<text x="1849.5" y="1597.3" font-size="50.3">10</text>
<path d="M1831.3 1862.3h-7.5" stroke="#262626" stroke-width="3" fill="none"/>
<g font-size="72.6" text-anchor="middle" letter-spacing=".3">
<text transform="translate(1990.6 777.6) rotate(-90) scale(1 1.035)">Saturated pixels (%)</text>
<text transform="translate(1990.6 1863) rotate(-90) scale(1 1.035)">Saturated pixels (%)</text>
</g>
<rect x="787" y="1245.3" width="914" height="215" fill="#fff" stroke="#262626" stroke-width="2"/>
<path d="M787 1384.6H1701" stroke="#262626" stroke-width="2"/>
<g font-size="50.5" font-weight="bold" text-anchor="middle" style="fill:#000;stroke:#000">
<text x="796.4" y="1301" text-anchor="start" letter-spacing="-.2" style="fill:#000;stroke:#000">South oriented inclined plane,</text>
<text transform="translate(1527 1301) scale(1.3 1)" text-anchor="start" font-style="italic" font-weight="normal" font-size="49.5" style="font-family:'Liberation Serif',serif;fill:#000;stroke:#000;stroke-width:.7">β</text>
<text x="1570.6" y="1301" text-anchor="start" style="fill:#000;stroke:#000">= 30º</text>
<text x="1243.5" y="1365.5" font-size="50.1" style="fill:#000;stroke:#000;white-space:pre" xml:space="preserve">f(x) = 0.95 * x - 7.08,  R = 0.99</text>
</g>
<circle cx="992.5" cy="1423" r="10.5" fill="none" stroke="#00008f" stroke-width="3"/>
<text x="1051.5" y="1442" font-size="50" style="fill:#000;stroke:#000">All scenarios</text>
<path d="M1357 1423H1462" stroke="#f00" stroke-width="9.7" stroke-dasharray="31.5 7.75 15.5 7.75" fill="none"/>
</svg></body></html>
